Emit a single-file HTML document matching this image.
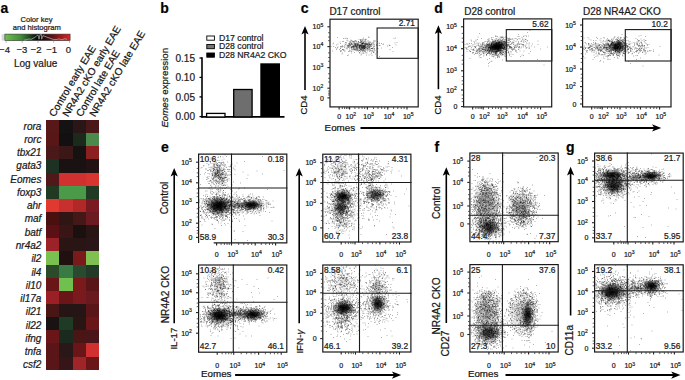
<!DOCTYPE html>
<html><head><meta charset="utf-8"><style>
html,body{margin:0;padding:0;background:#fff;}
svg{display:block;}
text{font-family:"Liberation Sans", sans-serif;stroke:#1a1a1a;stroke-width:0.22px;}
</style></head><body>
<svg width="685" height="380" viewBox="0 0 685 380" font-family='"Liberation Sans", sans-serif'>
<rect width="685" height="380" fill="#fff"/>
<text x="0.60" y="12.60" font-size="14" text-anchor="start" font-weight="bold" font-style="normal" fill="#000" >a</text>
<text x="36.50" y="22.20" font-size="7.6" text-anchor="middle" font-weight="normal" font-style="normal" fill="#222" >Color key</text>
<text x="36.80" y="29.60" font-size="7.6" text-anchor="middle" font-weight="normal" font-style="normal" fill="#222" >and histogram</text>
<defs><linearGradient id="ck" x1="0" x2="1" y1="0" y2="0"><stop offset="0" stop-color="#6cc04e"/><stop offset="0.25" stop-color="#3f8a38"/><stop offset="0.5" stop-color="#060606"/><stop offset="0.75" stop-color="#6a1414"/><stop offset="1" stop-color="#e42020"/></linearGradient></defs>
<rect x="1.6" y="34.2" width="3.4" height="6.4" fill="#d8d8d8"/>
<rect x="4.9" y="34.1" width="65.2" height="6.5" fill="url(#ck)" stroke="#333" stroke-width="0.6"/>
<polyline points="24,40.2 27,39.6 29,38.9 31,39.4 33,38.3 35,37.3 36.5,36 38,35 39,39.2 40,34.7 41.6,34.7 41.6,39.2 43,35.6 45,36.4 47,37.2 49,37.8 51,38.6 53,39.3 56,39.6 59,38.9 62,39.8 65,38.6 67,39.5" fill="none" stroke="#a9bcbc" stroke-width="0.7"/>
<line x1="6.1" y1="40.7" x2="6.1" y2="42.8" stroke="#999" stroke-width="0.7"/>
<line x1="22.2" y1="40.7" x2="22.2" y2="42.8" stroke="#999" stroke-width="0.7"/>
<line x1="38.0" y1="40.7" x2="38.0" y2="42.8" stroke="#999" stroke-width="0.7"/>
<line x1="53.7" y1="40.7" x2="53.7" y2="42.8" stroke="#999" stroke-width="0.7"/>
<line x1="69.5" y1="40.7" x2="69.5" y2="42.8" stroke="#999" stroke-width="0.7"/>
<text x="4.50" y="53.00" font-size="9.5" text-anchor="middle" font-weight="normal" font-style="normal" fill="#222" >−4</text>
<text x="21.90" y="53.00" font-size="9.5" text-anchor="middle" font-weight="normal" font-style="normal" fill="#222" >−3</text>
<text x="36.00" y="53.00" font-size="9.5" text-anchor="middle" font-weight="normal" font-style="normal" fill="#222" >−2</text>
<text x="51.70" y="53.00" font-size="9.5" text-anchor="middle" font-weight="normal" font-style="normal" fill="#222" >−1</text>
<text x="68.30" y="53.00" font-size="9.5" text-anchor="middle" font-weight="normal" font-style="normal" fill="#222" >0</text>
<text x="35.60" y="67.20" font-size="10" text-anchor="middle" font-weight="normal" font-style="normal" fill="#222" >Log value</text>
<text x="0" y="0" font-size="10.2" fill="#111" transform="translate(54.50,117.5) rotate(-59)">Control early EAE</text>
<text x="0" y="0" font-size="10.2" fill="#111" transform="translate(68.00,117.5) rotate(-59)">NR4A2 cKO early EAE</text>
<text x="0" y="0" font-size="10.2" fill="#111" transform="translate(81.50,117.5) rotate(-59)">Control late EAE</text>
<text x="0" y="0" font-size="10.2" fill="#111" transform="translate(95.00,117.5) rotate(-59)">NR4A2 cKO late EAE</text>
<rect x="46.30" y="120.00" width="13.48" height="13.44" fill="#581818" shape-rendering="crispEdges"/>
<rect x="59.47" y="120.00" width="13.48" height="13.44" fill="#141212" shape-rendering="crispEdges"/>
<rect x="72.65" y="120.00" width="13.48" height="13.44" fill="#2a1616" shape-rendering="crispEdges"/>
<rect x="85.83" y="120.00" width="13.48" height="13.44" fill="#4a1818" shape-rendering="crispEdges"/>
<text x="41.40" y="129.60" font-size="10" text-anchor="end" font-weight="normal" font-style="italic" fill="#1a1a1a" >rora</text>
<rect x="46.30" y="133.14" width="13.48" height="13.44" fill="#581616" shape-rendering="crispEdges"/>
<rect x="59.47" y="133.14" width="13.48" height="13.44" fill="#121010" shape-rendering="crispEdges"/>
<rect x="72.65" y="133.14" width="13.48" height="13.44" fill="#1c2a1c" shape-rendering="crispEdges"/>
<rect x="85.83" y="133.14" width="13.48" height="13.44" fill="#4a8a4a" shape-rendering="crispEdges"/>
<text x="41.40" y="142.87" font-size="10" text-anchor="end" font-weight="normal" font-style="italic" fill="#1a1a1a" >rorc</text>
<rect x="46.30" y="146.28" width="13.48" height="13.44" fill="#4a1818" shape-rendering="crispEdges"/>
<rect x="59.47" y="146.28" width="13.48" height="13.44" fill="#3a1818" shape-rendering="crispEdges"/>
<rect x="72.65" y="146.28" width="13.48" height="13.44" fill="#161212" shape-rendering="crispEdges"/>
<rect x="85.83" y="146.28" width="13.48" height="13.44" fill="#8a2020" shape-rendering="crispEdges"/>
<text x="41.40" y="156.14" font-size="10" text-anchor="end" font-weight="normal" font-style="italic" fill="#1a1a1a" >tbx21</text>
<rect x="46.30" y="159.43" width="13.48" height="13.44" fill="#1c3222" shape-rendering="crispEdges"/>
<rect x="59.47" y="159.43" width="13.48" height="13.44" fill="#1a1212" shape-rendering="crispEdges"/>
<rect x="72.65" y="159.43" width="13.48" height="13.44" fill="#1a1212" shape-rendering="crispEdges"/>
<rect x="85.83" y="159.43" width="13.48" height="13.44" fill="#221214" shape-rendering="crispEdges"/>
<text x="41.40" y="169.41" font-size="10" text-anchor="end" font-weight="normal" font-style="italic" fill="#1a1a1a" >gata3</text>
<rect x="46.30" y="172.57" width="13.48" height="13.44" fill="#501818" shape-rendering="crispEdges"/>
<rect x="59.47" y="172.57" width="13.48" height="13.44" fill="#d03030" shape-rendering="crispEdges"/>
<rect x="72.65" y="172.57" width="13.48" height="13.44" fill="#d03030" shape-rendering="crispEdges"/>
<rect x="85.83" y="172.57" width="13.48" height="13.44" fill="#d83530" shape-rendering="crispEdges"/>
<text x="41.40" y="182.68" font-size="10" text-anchor="end" font-weight="normal" font-style="italic" fill="#1a1a1a" >Eomes</text>
<rect x="46.30" y="185.71" width="13.48" height="13.44" fill="#203a24" shape-rendering="crispEdges"/>
<rect x="59.47" y="185.71" width="13.48" height="13.44" fill="#4a9a4a" shape-rendering="crispEdges"/>
<rect x="72.65" y="185.71" width="13.48" height="13.44" fill="#4a9a4a" shape-rendering="crispEdges"/>
<rect x="85.83" y="185.71" width="13.48" height="13.44" fill="#203a24" shape-rendering="crispEdges"/>
<text x="41.40" y="195.95" font-size="10" text-anchor="end" font-weight="normal" font-style="italic" fill="#1a1a1a" >foxp3</text>
<rect x="46.30" y="198.85" width="13.48" height="13.44" fill="#e03a30" shape-rendering="crispEdges"/>
<rect x="59.47" y="198.85" width="13.48" height="13.44" fill="#c83030" shape-rendering="crispEdges"/>
<rect x="72.65" y="198.85" width="13.48" height="13.44" fill="#b02828" shape-rendering="crispEdges"/>
<rect x="85.83" y="198.85" width="13.48" height="13.44" fill="#7a1a20" shape-rendering="crispEdges"/>
<text x="41.40" y="209.22" font-size="10" text-anchor="end" font-weight="normal" font-style="italic" fill="#1a1a1a" >ahr</text>
<rect x="46.30" y="211.99" width="13.48" height="13.44" fill="#4a1010" shape-rendering="crispEdges"/>
<rect x="59.47" y="211.99" width="13.48" height="13.44" fill="#301515" shape-rendering="crispEdges"/>
<rect x="72.65" y="211.99" width="13.48" height="13.44" fill="#451818" shape-rendering="crispEdges"/>
<rect x="85.83" y="211.99" width="13.48" height="13.44" fill="#6a1a20" shape-rendering="crispEdges"/>
<text x="41.40" y="222.49" font-size="10" text-anchor="end" font-weight="normal" font-style="italic" fill="#1a1a1a" >maf</text>
<rect x="46.30" y="225.14" width="13.48" height="13.44" fill="#5a1015" shape-rendering="crispEdges"/>
<rect x="59.47" y="225.14" width="13.48" height="13.44" fill="#3a1515" shape-rendering="crispEdges"/>
<rect x="72.65" y="225.14" width="13.48" height="13.44" fill="#1a1010" shape-rendering="crispEdges"/>
<rect x="85.83" y="225.14" width="13.48" height="13.44" fill="#2a1515" shape-rendering="crispEdges"/>
<text x="41.40" y="235.76" font-size="10" text-anchor="end" font-weight="normal" font-style="italic" fill="#1a1a1a" >batf</text>
<rect x="46.30" y="238.28" width="13.48" height="13.44" fill="#9a2228" shape-rendering="crispEdges"/>
<rect x="59.47" y="238.28" width="13.48" height="13.44" fill="#2a1515" shape-rendering="crispEdges"/>
<rect x="72.65" y="238.28" width="13.48" height="13.44" fill="#2a1515" shape-rendering="crispEdges"/>
<rect x="85.83" y="238.28" width="13.48" height="13.44" fill="#2a1518" shape-rendering="crispEdges"/>
<text x="41.40" y="249.03" font-size="10" text-anchor="end" font-weight="normal" font-style="italic" fill="#1a1a1a" >nr4a2</text>
<rect x="46.30" y="251.42" width="13.48" height="13.44" fill="#7ac050" shape-rendering="crispEdges"/>
<rect x="59.47" y="251.42" width="13.48" height="13.44" fill="#201010" shape-rendering="crispEdges"/>
<rect x="72.65" y="251.42" width="13.48" height="13.44" fill="#7a1a1a" shape-rendering="crispEdges"/>
<rect x="85.83" y="251.42" width="13.48" height="13.44" fill="#80c050" shape-rendering="crispEdges"/>
<text x="41.40" y="262.30" font-size="10" text-anchor="end" font-weight="normal" font-style="italic" fill="#1a1a1a" >il2</text>
<rect x="46.30" y="264.56" width="13.48" height="13.44" fill="#2a4a2a" shape-rendering="crispEdges"/>
<rect x="59.47" y="264.56" width="13.48" height="13.44" fill="#3a7a45" shape-rendering="crispEdges"/>
<rect x="72.65" y="264.56" width="13.48" height="13.44" fill="#2a4a30" shape-rendering="crispEdges"/>
<rect x="85.83" y="264.56" width="13.48" height="13.44" fill="#243a28" shape-rendering="crispEdges"/>
<text x="41.40" y="275.57" font-size="10" text-anchor="end" font-weight="normal" font-style="italic" fill="#1a1a1a" >il4</text>
<rect x="46.30" y="277.71" width="13.48" height="13.44" fill="#6a1518" shape-rendering="crispEdges"/>
<rect x="59.47" y="277.71" width="13.48" height="13.44" fill="#70c050" shape-rendering="crispEdges"/>
<rect x="72.65" y="277.71" width="13.48" height="13.44" fill="#7a1a1a" shape-rendering="crispEdges"/>
<rect x="85.83" y="277.71" width="13.48" height="13.44" fill="#5a1518" shape-rendering="crispEdges"/>
<text x="41.40" y="288.84" font-size="10" text-anchor="end" font-weight="normal" font-style="italic" fill="#1a1a1a" >il10</text>
<rect x="46.30" y="290.85" width="13.48" height="13.44" fill="#9a2025" shape-rendering="crispEdges"/>
<rect x="59.47" y="290.85" width="13.48" height="13.44" fill="#6a1518" shape-rendering="crispEdges"/>
<rect x="72.65" y="290.85" width="13.48" height="13.44" fill="#7a1a1e" shape-rendering="crispEdges"/>
<rect x="85.83" y="290.85" width="13.48" height="13.44" fill="#6a1a1e" shape-rendering="crispEdges"/>
<text x="41.40" y="302.11" font-size="10" text-anchor="end" font-weight="normal" font-style="italic" fill="#1a1a1a" >il17a</text>
<rect x="46.30" y="303.99" width="13.48" height="13.44" fill="#4a1515" shape-rendering="crispEdges"/>
<rect x="59.47" y="303.99" width="13.48" height="13.44" fill="#251515" shape-rendering="crispEdges"/>
<rect x="72.65" y="303.99" width="13.48" height="13.44" fill="#251515" shape-rendering="crispEdges"/>
<rect x="85.83" y="303.99" width="13.48" height="13.44" fill="#5a1518" shape-rendering="crispEdges"/>
<text x="41.40" y="315.38" font-size="10" text-anchor="end" font-weight="normal" font-style="italic" fill="#1a1a1a" >il21</text>
<rect x="46.30" y="317.13" width="13.48" height="13.44" fill="#181212" shape-rendering="crispEdges"/>
<rect x="59.47" y="317.13" width="13.48" height="13.44" fill="#1f3a25" shape-rendering="crispEdges"/>
<rect x="72.65" y="317.13" width="13.48" height="13.44" fill="#2a1515" shape-rendering="crispEdges"/>
<rect x="85.83" y="317.13" width="13.48" height="13.44" fill="#6a1518" shape-rendering="crispEdges"/>
<text x="41.40" y="328.65" font-size="10" text-anchor="end" font-weight="normal" font-style="italic" fill="#1a1a1a" >il22</text>
<rect x="46.30" y="330.27" width="13.48" height="13.44" fill="#6a1518" shape-rendering="crispEdges"/>
<rect x="59.47" y="330.27" width="13.48" height="13.44" fill="#1a2a1e" shape-rendering="crispEdges"/>
<rect x="72.65" y="330.27" width="13.48" height="13.44" fill="#4a1515" shape-rendering="crispEdges"/>
<rect x="85.83" y="330.27" width="13.48" height="13.44" fill="#4a1518" shape-rendering="crispEdges"/>
<text x="41.40" y="341.92" font-size="10" text-anchor="end" font-weight="normal" font-style="italic" fill="#1a1a1a" >ifng</text>
<rect x="46.30" y="343.42" width="13.48" height="13.44" fill="#5a1518" shape-rendering="crispEdges"/>
<rect x="59.47" y="343.42" width="13.48" height="13.44" fill="#2a1818" shape-rendering="crispEdges"/>
<rect x="72.65" y="343.42" width="13.48" height="13.44" fill="#6a1518" shape-rendering="crispEdges"/>
<rect x="85.83" y="343.42" width="13.48" height="13.44" fill="#d03030" shape-rendering="crispEdges"/>
<text x="41.40" y="355.19" font-size="10" text-anchor="end" font-weight="normal" font-style="italic" fill="#1a1a1a" >tnfa</text>
<rect x="46.30" y="356.56" width="13.48" height="13.44" fill="#5a1518" shape-rendering="crispEdges"/>
<rect x="59.47" y="356.56" width="13.48" height="13.44" fill="#351518" shape-rendering="crispEdges"/>
<rect x="72.65" y="356.56" width="13.48" height="13.44" fill="#a02528" shape-rendering="crispEdges"/>
<rect x="85.83" y="356.56" width="13.48" height="13.44" fill="#6a1518" shape-rendering="crispEdges"/>
<text x="41.40" y="368.46" font-size="10" text-anchor="end" font-weight="normal" font-style="italic" fill="#1a1a1a" >csf2</text>
<text x="160.20" y="12.60" font-size="14" text-anchor="start" font-weight="bold" font-style="normal" fill="#000" >b</text>
<rect x="206.8" y="36.00" width="7.6" height="4.2" fill="#fff" stroke="#000" stroke-width="0.9"/>
<text x="219.00" y="40.90" font-size="8.7" text-anchor="start" font-weight="normal" font-style="normal" fill="#222" >D17 control</text>
<rect x="206.8" y="44.50" width="7.6" height="4.2" fill="#777" stroke="#000" stroke-width="0.9"/>
<text x="219.00" y="49.40" font-size="8.7" text-anchor="start" font-weight="normal" font-style="normal" fill="#222" >D28 control</text>
<rect x="206.8" y="53.00" width="7.6" height="4.2" fill="#000" stroke="#000" stroke-width="0.9"/>
<text x="219.00" y="57.90" font-size="8.7" text-anchor="start" font-weight="normal" font-style="normal" fill="#222" >D28 NR4A2 CKO</text>
<line x1="202" y1="57.3" x2="202" y2="117.4" stroke="#000" stroke-width="1.6"/>
<line x1="201.2" y1="116.9" x2="284.5" y2="116.9" stroke="#000" stroke-width="1.6"/>
<line x1="199.5" y1="58.0" x2="202" y2="58.0" stroke="#000" stroke-width="1.3"/>
<text x="195.00" y="61.60" font-size="10" text-anchor="end" font-weight="normal" font-style="normal" fill="#222" >0.15</text>
<line x1="199.5" y1="77.4" x2="202" y2="77.4" stroke="#000" stroke-width="1.3"/>
<text x="195.00" y="81.00" font-size="10" text-anchor="end" font-weight="normal" font-style="normal" fill="#222" >0.10</text>
<line x1="199.5" y1="96.9" x2="202" y2="96.9" stroke="#000" stroke-width="1.3"/>
<text x="195.00" y="100.50" font-size="10" text-anchor="end" font-weight="normal" font-style="normal" fill="#222" >0.05</text>
<line x1="199.5" y1="116.6" x2="202" y2="116.6" stroke="#000" stroke-width="1.3"/>
<text x="195.00" y="120.20" font-size="10" text-anchor="end" font-weight="normal" font-style="normal" fill="#222" >0.00</text>
<rect x="206.6" y="113.4" width="18.4" height="3.6" fill="#fff" stroke="#000" stroke-width="1.3"/>
<rect x="233.7" y="89.5" width="18.4" height="27.4" fill="#6e6e6e" stroke="#000" stroke-width="1.3"/>
<rect x="260.3" y="63.3" width="19.7" height="53.6" fill="#000"/>
<text x="0" y="0" font-size="9.7" fill="#222" transform="translate(168.3,127.6) rotate(-90)"><tspan font-style="italic">Eomes</tspan> expression</text>
<defs><radialGradient id="core"><stop offset="0" stop-color="#000" stop-opacity="1"/><stop offset="0.35" stop-color="#000" stop-opacity="0.8"/><stop offset="0.7" stop-color="#000" stop-opacity="0.3"/><stop offset="1" stop-color="#000" stop-opacity="0"/></radialGradient></defs>
<text x="300.80" y="12.60" font-size="14" text-anchor="start" font-weight="bold" font-style="normal" fill="#000" >c</text>
<text x="329.40" y="15.00" font-size="10" text-anchor="start" font-weight="normal" font-style="normal" fill="#1a1a1a" >D17 control</text>
<ellipse cx="363" cy="46.5" rx="10" ry="4.5" fill="url(#core)" opacity="0.15"/>
<path d="M368.5 37.5h1m-6.5 .5h1m-17 .5h1m17.5 .5h1m-8 .5h1m.5 0h1m.5 .5h1m0 0h1m0 0h1m-14.5 1h1m4 0h1m4 0h1m12.5 0h1m-32.5 .5h1m15 0h1m5 0h1m1.5 0h1m9.5 0h1m-38.5 .5h1m13 0h1m4 .5h1m1 0h1m-1 .5h1m1.5 0h1m9 0h1m-26 .5h1m0 0h1m1 0h1m3 0h1m5.5 0h1m-.5 0h1m-.5 0h1m5.5 0h1m9 0h1m-31 .5h1m4 0h1m-.5 0h1m6 0h1m-.5 0h1m-.5 0h1m3.5 0h1m-19.5 .5h1m2 0h1m12.5 0h1m-.5 0h1m.5 0h1m0 0h1m0 0h1m3.5 0h1m-25.5 .5h1m8.5 0h1m5.5 0h1m29.5 0h1m-48.5 .5h1m.5 0h1m4.5 0h1m3 0h1m1.5 0h1m.5 0h1m-.5 0h1m-.5 0h1m3 0h1m-.5 0h1m.5 0h1m8 0h1m9 0h1m-42.5 .5h1m6.5 0h1m3.5 0h1m0 0h1m.5 0h1m0 0h1m-.5 0h1m-.5 0h1m0 0h1m2.5 0h1m-28 .5h1m0 0h1m5.5 0h1m2.5 0h1m1.5 0h1m-.5 0h1m2.5 0h1m0 0h1m.5 0h1m0 0h1m3 0h1m0 0h1m2 0h1m2 0h1m-28 .5h1m.5 0h1m3 0h1m5.5 0h1m1 0h1m1.5 0h1m-.5 0h1m.5 0h1m-.5 0h1m-15.5 .5h1m1 0h1m-.5 0h1m1 0h1m-.5 0h1m1.5 0h1m3.5 0h1m.5 0h1m-14 .5h1m3.5 0h1m.5 0h1m1 0h1m0 0h1m1.5 0h1m3 0h1m0 0h1m8 0h1m-23 .5h1m3.5 0h1m.5 0h1m1.5 0h1m5 0h1m.5 0h1m-.5 0h1m-21.5 .5h1m.5 0h1m8.5 0h1m4.5 0h1m8 0h1m-35.5 .5h1m0 0h1m-.5 0h1m9 0h1m5.5 0h1m4.5 0h1m-7.5 .5h1m4.5 0h1m4 0h1m-.5 0h1m3 0h1m-25.5 .5h1m8.5 0h1m5.5 0h1m2.5 .5h1m2 0h1m-33 .5h1m17 0h1m6 0h1m7.5 .5h1m2.5 .5h1m-27 .5h1m18.5 1h1m-5.5 1h1m-20 .5h1m31 1h1" stroke="#000" stroke-opacity="0.3" fill="none"/>
<path d="M368 37h1m-23.5 1h1m48.5 0h1m-53 .5h1m49.5 0h1m-29.5 1.5h1m-18.5 1h1m2.5 0h1m4 0h1m8 0h1m-23 .5h1m5.5 0h1m1.5 0h1m0 0h1m4 0h1m1.5 0h1m-.5 0h1m-12.5 .5h1m12.5 0h1m1 0h1m2 0h1m-24 .5h1m3.5 0h1m0 0h1m7 0h1m37 0h1m-51.5 .5h1m2.5 0h1m4 0h1m2 0h1m3 0h1m4 0h1m1.5 0h1m1 0h1m.5 0h1m0 0h1m4 0h1m-22 .5h1m3 0h1m.5 0h1m.5 0h1m0 0h1m1.5 0h1m-18.5 .5h1m-.5 0h1m2.5 0h1m0 0h1m7.5 0h1m1 0h1m1 0h1m-17.5 .5h1m2.5 0h1m1 0h1m-.5 0h1m1.5 0h1m0 0h1m4 0h1m3 0h1m-.5 0h1m4.5 0h1m5.5 0h1m-34 .5h1m0 0h1m.5 0h1m.5 0h1m3 0h1m0 0h1m0 0h1m2 0h1m9 0h1m-26.5 .5h1m9.5 0h1m0 0h1m-.5 0h1m-.5 0h1m1 0h1m-.5 0h1m14.5 0h1m-37 .5h1m1.5 0h1m-.5 0h1m3.5 0h1m3.5 0h1m1 0h1m-.5 0h1m0 0h1m1 0h1m1.5 0h1m1 0h1m-.5 0h1m-.5 0h1m0 0h1m0 0h1m-27.5 .5h1m-.5 0h1m9.5 0h1m-.5 0h1m-.5 0h1m-.5 0h1m0 0h1m-.5 0h1m1 0h1m.5 0h1m.5 0h1m3 0h1m-.5 0h1m4.5 0h1m-19 .5h1m1 0h1m-17 .5h1m10.5 0h1m7.5 0h1m1 0h1m3.5 0h1m0 0h1m-20 .5h1m4.5 0h1m4 0h1m2.5 0h1m2 0h1m2.5 0h1m5.5 0h1m-37 .5h1m26 0h1m-.5 0h1m6.5 0h1m-.5 0h1m-24 .5h1m15 0h1m-9 .5h1m2 0h1m2.5 0h1m-13.5 .5h1m4 0h1m1 0h1m2 .5h1m0 0h1m-.5 0h1m0 0h1m6 0h1m3 0h1m-12.5 .5h1m.5 0h1m6 0h1m-32 .5h1m6.5 0h1m43.5 0h1m-32 .5h1m10.5 0h1m-1 .5h1m-32 .5h1m16.5 0h1m2.5 0h1m2.5 0h1m7.5 1h1" stroke="#000" stroke-opacity="0.3" fill="none"/>
<path d="M344.5 38.5h1m17 .5h1m1 .5h1m-14 1h1m8 0h1m6 0h1m-13.5 .5h1m8.5 0h1m8.5 0h1m0 0h1m-23.5 .5h1m9 0h1m-10 .5h1m1.5 0h1m-11.5 .5h1m7 0h1m8 0h1m6.5 0h1m-38 .5h1m17.5 0h1m9 0h1m3.5 0h1m5 0h1m21.5 0h1m-45 .5h1m2.5 0h1m1 0h1m0 0h1m4 0h1m4 0h1m-35.5 .5h1m4 0h1m10.5 0h1m1.5 0h1m3 0h1m5 0h1m1 0h1m6.5 0h1m11 0h1m-39 .5h1m8.5 0h1m0 0h1m.5 0h1m11 0h1m-24 .5h1m.5 0h1m0 0h1m5.5 0h1m3.5 0h1m.5 0h1m3.5 0h1m4.5 0h1m.5 0h1m.5 0h1m-25 .5h1m3 0h1m.5 0h1m0 0h1m2.5 0h1m1.5 0h1m12.5 0h1m2.5 0h1m-33 .5h1m4 0h1m-.5 0h1m6 0h1m.5 0h1m2.5 0h1m4.5 0h1m-18.5 .5h1m2.5 0h1m3.5 0h1m1.5 0h1m-27 .5h1m9 0h1m1.5 0h1m6 0h1m.5 0h1m-.5 0h1m4 0h1m3.5 0h1m-28 .5h1m5 0h1m2.5 0h1m0 0h1m.5 0h1m4.5 0h1m1 0h1m-.5 0h1m-.5 0h1m1 0h1m0 0h1m2 0h1m0 0h1m-20.5 .5h1m3.5 0h1m1.5 0h1m4 0h1m-.5 0h1m3.5 0h1m2 0h1m2 0h1m-33.5 .5h1m5.5 0h1m5.5 0h1m3 0h1m1 0h1m-.5 0h1m2 0h1m.5 0h1m2 0h1m3 0h1m-18.5 .5h1m1.5 0h1m4 0h1m-.5 0h1m-.5 0h1m0 0h1m2.5 0h1m-.5 0h1m-.5 0h1m.5 0h1m2.5 0h1m.5 0h1m-39 .5h1m5 0h1m11 0h1m6 0h1m1 0h1m4.5 0h1m-15 .5h1m-.5 0h1m0 0h1m0 0h1m-.5 0h1m4 0h1m9 0h1m-33 .5h1m17.5 0h1m-28 .5h1m11 0h1m11.5 0h1m4.5 0h1m-13.5 .5h1m.5 0h1m8 0h1m8.5 0h1m6.5 0h1m-15.5 .5h1m10 0h1m-15.5 .5h1m5.5 0h1m4.5 .5h1m-30.5 1h1m26 1h1" stroke="#000" stroke-opacity="0.3" fill="none"/>
<path d="M337 37.5h1m8.5 1.5h1m13 .5h1m4 0h1m-16 .5h1m10 0h1m-16 .5h1m7 0h1m4.5 0h1m1 .5h1m10 0h1m-20 .5h1m6 0h1m7.5 0h1m-14 .5h1m2.5 0h1m7.5 0h1m-9.5 .5h1m1.5 0h1m1 0h1m3 0h1m-17 .5h1m5 0h1m1 0h1m0 0h1m.5 0h1m-.5 0h1m-24.5 .5h1m24 0h1m-.5 0h1m4 0h1m9.5 0h1m-37.5 .5h1m7.5 0h1m1 0h1m.5 0h1m.5 0h1m2.5 0h1m-.5 0h1m1 0h1m-.5 0h1m0 0h1m1 0h1m0 0h1m7.5 0h1m-28 .5h1m5.5 0h1m0 0h1m6 0h1m1 0h1m-.5 0h1m1 0h1m0 0h1m0 0h1m-36 .5h1m17 0h1m-.5 0h1m3 0h1m9.5 0h1m18.5 0h1m-41.5 .5h1m4 0h1m1.5 0h1m0 0h1m-.5 0h1m2 0h1m-.5 0h1m-.5 0h1m1.5 0h1m.5 0h1m1 0h1m21.5 0h1m-48.5 .5h1m15.5 0h1m-.5 0h1m.5 0h1m6 0h1m.5 0h1m0 0h1m16 0h1m-57.5 .5h1m1.5 0h1m13.5 0h1m5 0h1m0 0h1m.5 0h1m4 0h1m0 0h1m0 0h1m0 0h1m2.5 0h1m2 0h1m2 0h1m-19.5 .5h1m3.5 0h1m2 0h1m-.5 0h1m-.5 0h1m0 0h1m8 0h1m-39.5 .5h1m8 0h1m15.5 0h1m-.5 0h1m-.5 0h1m-.5 0h1m.5 0h1m2 0h1m1.5 0h1m22 0h1m-53 .5h1m16.5 0h1m3.5 0h1m2 0h1m15 0h1m-28.5 .5h1m8 0h1m.5 0h1m-.5 0h1m8.5 0h1m2.5 0h1m-32 .5h1m8.5 0h1m.5 0h1m1.5 0h1m-.5 0h1m2 0h1m-25.5 .5h1m12 0h1m.5 0h1m.5 0h1m4.5 0h1m28 0h1m-36 .5h1m5.5 0h1m-21.5 .5h1m1.5 0h1m13.5 0h1m1.5 0h1m2.5 0h1m3 0h1m-24 .5h1m3.5 0h1m2.5 0h1m13.5 0h1m3.5 0h1m-8.5 .5h1m-11 1h1m4 .5h1m4.5 0h1m-3 .5h1m-2.5 .5h1m-14 1h1m11.5 0h1m10 .5h1" stroke="#000" stroke-opacity="0.3" fill="none"/>
<rect x="330.00" y="19.20" width="88.20" height="87.70" fill="none" stroke="#1a1a1a" stroke-width="1.2"/>
<rect x="377.10" y="28.00" width="41.10" height="30.30" fill="none" stroke="#1a1a1a" stroke-width="1.1"/>
<text x="415.00" y="26.40" font-size="8.4" text-anchor="end" font-weight="normal" font-style="normal" fill="#1a1a1a" >2.71</text>
<line x1="327.40" y1="26.80" x2="329.90" y2="26.80" stroke="#222" stroke-width="1.1"/>
<text x="323.20" y="29.40" font-size="7.0" text-anchor="end" fill="#222">10<tspan dy="-2.8" font-size="5.04">5</tspan></text>
<line x1="327.40" y1="46.60" x2="329.90" y2="46.60" stroke="#222" stroke-width="1.1"/>
<text x="323.20" y="49.20" font-size="7.0" text-anchor="end" fill="#222">10<tspan dy="-2.8" font-size="5.04">4</tspan></text>
<line x1="327.40" y1="67.60" x2="329.90" y2="67.60" stroke="#222" stroke-width="1.1"/>
<text x="323.20" y="70.20" font-size="7.0" text-anchor="end" fill="#222">10<tspan dy="-2.8" font-size="5.04">3</tspan></text>
<line x1="327.40" y1="88.20" x2="329.90" y2="88.20" stroke="#222" stroke-width="1.1"/>
<text x="323.20" y="90.80" font-size="7.0" text-anchor="end" fill="#222">10<tspan dy="-2.8" font-size="5.04">2</tspan></text>
<line x1="327.40" y1="97.90" x2="329.90" y2="97.90" stroke="#222" stroke-width="1.1"/>
<text x="323.90" y="100.50" font-size="7.0" text-anchor="end" fill="#222">0</text>
<line x1="328.10" y1="32.74" x2="329.90" y2="32.74" stroke="#333" stroke-width="0.8"/>
<line x1="328.10" y1="37.10" x2="329.90" y2="37.10" stroke="#333" stroke-width="0.8"/>
<line x1="328.10" y1="40.66" x2="329.90" y2="40.66" stroke="#333" stroke-width="0.8"/>
<line x1="328.10" y1="52.90" x2="329.90" y2="52.90" stroke="#333" stroke-width="0.8"/>
<line x1="328.10" y1="57.52" x2="329.90" y2="57.52" stroke="#333" stroke-width="0.8"/>
<line x1="328.10" y1="61.30" x2="329.90" y2="61.30" stroke="#333" stroke-width="0.8"/>
<line x1="328.10" y1="73.78" x2="329.90" y2="73.78" stroke="#333" stroke-width="0.8"/>
<line x1="328.10" y1="78.31" x2="329.90" y2="78.31" stroke="#333" stroke-width="0.8"/>
<line x1="328.10" y1="82.02" x2="329.90" y2="82.02" stroke="#333" stroke-width="0.8"/>
<line x1="328.10" y1="91.11" x2="329.90" y2="91.11" stroke="#333" stroke-width="0.8"/>
<line x1="328.10" y1="93.24" x2="329.90" y2="93.24" stroke="#333" stroke-width="0.8"/>
<line x1="328.10" y1="94.99" x2="329.90" y2="94.99" stroke="#333" stroke-width="0.8"/>
<line x1="339.10" y1="107.00" x2="339.10" y2="109.50" stroke="#222" stroke-width="1.1"/>
<text x="339.10" y="119.00" font-size="7.0" text-anchor="middle" fill="#222">0</text>
<line x1="349.60" y1="107.00" x2="349.60" y2="109.50" stroke="#222" stroke-width="1.1"/>
<text x="350.80" y="119.00" font-size="7.0" text-anchor="middle" fill="#222">10<tspan dy="-2.8" font-size="5.04">2</tspan></text>
<line x1="367.40" y1="107.00" x2="367.40" y2="109.50" stroke="#222" stroke-width="1.1"/>
<text x="368.60" y="119.00" font-size="7.0" text-anchor="middle" fill="#222">10<tspan dy="-2.8" font-size="5.04">3</tspan></text>
<line x1="387.80" y1="107.00" x2="387.80" y2="109.50" stroke="#222" stroke-width="1.1"/>
<text x="389.00" y="119.00" font-size="7.0" text-anchor="middle" fill="#222">10<tspan dy="-2.8" font-size="5.04">4</tspan></text>
<line x1="407.00" y1="107.00" x2="407.00" y2="109.50" stroke="#222" stroke-width="1.1"/>
<text x="408.20" y="119.00" font-size="7.0" text-anchor="middle" fill="#222">10<tspan dy="-2.8" font-size="5.04">5</tspan></text>
<line x1="342.25" y1="107.00" x2="342.25" y2="109.00" stroke="#333" stroke-width="0.8"/>
<line x1="344.56" y1="107.00" x2="344.56" y2="109.00" stroke="#333" stroke-width="0.8"/>
<line x1="346.45" y1="107.00" x2="346.45" y2="109.00" stroke="#333" stroke-width="0.8"/>
<line x1="348.02" y1="107.00" x2="348.02" y2="109.00" stroke="#333" stroke-width="0.8"/>
<line x1="354.94" y1="107.00" x2="354.94" y2="109.00" stroke="#333" stroke-width="0.8"/>
<line x1="358.86" y1="107.00" x2="358.86" y2="109.00" stroke="#333" stroke-width="0.8"/>
<line x1="362.06" y1="107.00" x2="362.06" y2="109.00" stroke="#333" stroke-width="0.8"/>
<line x1="364.73" y1="107.00" x2="364.73" y2="109.00" stroke="#333" stroke-width="0.8"/>
<line x1="373.52" y1="107.00" x2="373.52" y2="109.00" stroke="#333" stroke-width="0.8"/>
<line x1="378.01" y1="107.00" x2="378.01" y2="109.00" stroke="#333" stroke-width="0.8"/>
<line x1="381.68" y1="107.00" x2="381.68" y2="109.00" stroke="#333" stroke-width="0.8"/>
<line x1="384.74" y1="107.00" x2="384.74" y2="109.00" stroke="#333" stroke-width="0.8"/>
<line x1="393.56" y1="107.00" x2="393.56" y2="109.00" stroke="#333" stroke-width="0.8"/>
<line x1="397.78" y1="107.00" x2="397.78" y2="109.00" stroke="#333" stroke-width="0.8"/>
<line x1="401.24" y1="107.00" x2="401.24" y2="109.00" stroke="#333" stroke-width="0.8"/>
<line x1="404.12" y1="107.00" x2="404.12" y2="109.00" stroke="#333" stroke-width="0.8"/>
<line x1="305.00" y1="30.90" x2="305.00" y2="90.00" stroke="#000" stroke-width="1.6"/>
<path d="M305.00 25.90L308.60 34.50L305.00 32.50L301.40 34.50Z" fill="#000"/>
<text x="0" y="0" font-size="9.6" fill="#111" transform="translate(307.00,114.60) rotate(-90)">CD4</text>
<text x="324.60" y="131.00" font-size="9.8" text-anchor="start" font-weight="normal" font-style="normal" fill="#111" >Eomes</text>
<line x1="360.50" y1="127.90" x2="656.30" y2="127.90" stroke="#000" stroke-width="2.0"/>
<path d="M661.30 127.90L652.00 124.30L654.30 127.90L652.00 131.50Z" fill="#000"/>
<text x="434.30" y="12.60" font-size="14" text-anchor="start" font-weight="bold" font-style="normal" fill="#000" >d</text>
<text x="464.20" y="15.00" font-size="10" text-anchor="start" font-weight="normal" font-style="normal" fill="#1a1a1a" >D28 control</text>
<text x="583.00" y="15.00" font-size="10" text-anchor="start" font-weight="normal" font-style="normal" fill="#1a1a1a" >D28 NR4A2 CKO</text>
<ellipse cx="497" cy="46.5" rx="11" ry="6.5" fill="url(#core)" opacity="1.0" transform="rotate(-12 497 46.5)"/>
<ellipse cx="486" cy="48" rx="8" ry="4" fill="url(#core)" opacity="0.25"/>
<path d="M495 36h1m5.5 .5h1m23.5 0h1m-36 1h1m8.5 0h1m.5 0h1m.5 0h1m-3.5 .5h1m4 0h1m2 0h1m-7 .5h1m-4 .5h1m7 0h1m3.5 0h1m-22 .5h1m18 0h1m11 0h1m-36 .5h1m3.5 0h1m1.5 0h1m0 0h1m4 0h1m5 0h1m9 0h1m-29 .5h1m12 0h1m5.5 0h1m-6 .5h1m.5 0h1m15.5 0h1m4.5 0h1m10 0h1m-54 .5h1m9 0h1m7.5 0h1m6 0h1m14 0h1m-35.5 .5h1m.5 0h1m2.5 0h1m1 0h1m1 0h1m0 0h1m3 0h1m-.5 0h1m-.5 0h1m17 0h1m-41.5 .5h1m5.5 0h1m5 0h1m-.5 0h1m2 0h1m-.5 0h1m-22 .5h1m12 0h1m5.5 0h1m2.5 0h1m.5 0h1m14 0h1m-37 .5h1m-.5 0h1m2.5 0h1m6.5 0h1m4.5 0h1m2.5 0h1m.5 0h1m-.5 0h1m5.5 0h1m5 0h1m9.5 0h1m-53 .5h1m1 0h1m10 0h1m2 0h1m1 0h1m0 0h1m1.5 0h1m-.5 0h1m10 0h1m10 0h1m11.5 0h1m-51 .5h1m3.5 0h1m1.5 0h1m.5 0h1m-.5 0h1m1 0h1m2 0h1m3 0h1m-.5 0h1m-.5 0h1m0 0h1m-.5 0h1m0 0h1m2 0h1m-.5 0h1m9.5 0h1m-36 .5h1m7.5 0h1m-.5 0h1m0 0h1m0 0h1m1 0h1m1.5 0h1m0 0h1m1.5 0h1m1 0h1m3.5 0h1m14 0h1m-46 .5h1m9.5 0h1m0 0h1m6.5 0h1m-.5 0h1m0 0h1m.5 0h1m-28.5 .5h1m11.5 0h1m1 0h1m.5 0h1m1 0h1m0 0h1m2.5 0h1m0 0h1m0 0h1m2 0h1m0 0h1m0 0h1m3 0h1m-.5 0h1m-21 .5h1m1 0h1m6.5 0h1m.5 0h1m-.5 0h1m4.5 0h1m0 0h1m4.5 0h1m-36 .5h1m6 0h1m3.5 0h1m4 0h1m0 0h1m-.5 0h1m-.5 0h1m0 0h1m-.5 0h1m-.5 0h1m-.5 0h1m-.5 0h1m-.5 0h1m-.5 0h1m0 0h1m-.5 0h1m.5 0h1m-.5 0h1m-.5 0h1m1.5 0h1m0 0h1m.5 0h1m1.5 0h1m-.5 0h1m12.5 0h1m4.5 0h1m4.5 0h1m12 0h1m-83.5 .5h1m5.5 0h1m13 0h1m-.5 0h1m2.5 0h1m5 0h1m0 0h1m-.5 0h1m-.5 0h1m0 0h1m.5 0h1m2 0h1m1 0h1m4.5 0h1m.5 0h1m6 0h1m7 0h1m-48 .5h1m7.5 0h1m3 0h1m.5 0h1m0 0h1m.5 0h1m2 0h1m-.5 0h1m2.5 0h1m0 0h1m9 0h1m5.5 0h1m-43.5 .5h1m18 0h1m-.5 0h1m-.5 0h1m.5 0h1m6.5 0h1m-42 .5h1m6 0h1m2 0h1m1 0h1m.5 0h1m4.5 0h1m4 0h1m-.5 0h1m0 0h1m0 0h1m1.5 0h1m-.5 0h1m1.5 0h1m1.5 0h1m-.5 0h1m1 0h1m8.5 0h1m26.5 0h1m-63.5 .5h1m9 0h1m-.5 0h1m1.5 0h1m2.5 0h1m0 0h1m1.5 0h1m-.5 0h1m6.5 0h1m-29 .5h1m8 0h1m1 0h1m2 0h1m1 0h1m2 0h1m1 0h1m4 0h1m7.5 0h1m-39.5 .5h1m2 0h1m8 0h1m1 0h1m3 0h1m5 0h1m-.5 0h1m-.5 0h1m-.5 0h1m0 0h1m0 0h1m-.5 0h1m4 0h1m-29.5 .5h1m0 0h1m7 0h1m1 0h1m0 0h1m1 0h1m2.5 0h1m.5 0h1m0 0h1m4.5 0h1m-34.5 .5h1m8 0h1m11.5 0h1m0 0h1m1 0h1m.5 0h1m0 0h1m-.5 0h1m0 0h1m4 0h1m.5 0h1m-.5 0h1m-29 .5h1m1.5 0h1m7 0h1m-.5 0h1m1.5 0h1m1 0h1m2 0h1m-.5 0h1m3 0h1m.5 0h1m2 0h1m2 0h1m1.5 0h1m-38.5 .5h1m16.5 0h1m3 0h1m-.5 0h1m.5 0h1m2.5 0h1m2 0h1m3.5 0h1m-.5 0h1m-20.5 .5h1m-.5 0h1m.5 0h1m2 0h1m1 0h1m-.5 0h1m4.5 0h1m1.5 0h1m-29.5 .5h1m7 0h1m6 0h1m3.5 0h1m3.5 0h1m0 .5h1m0 0h1m-16.5 .5h1m9 0h1m-11 .5h1m9.5 0h1m24 0h1m-43 .5h1m18 0h1m-21 .5h1m25.5 .5h1m-13 .5h1m3.5 0h1m-8 4.5h1m-2.5 1h1m-2 1h1" stroke="#000" stroke-opacity="0.3" fill="none"/>
<path d="M479 33.5h1m43.5 2.5h1m-6 .5h1m-20 .5h1m0 0h1m1 0h1m-11 .5h1m28 0h1m-25 .5h1m-17.5 .5h1m26.5 0h1m9 0h1m-28.5 .5h1m10.5 0h1m8.5 0h1m-36 .5h1m24.5 0h1m2 0h1m3 0h1m14.5 0h1m-.5 0h1m-56 .5h1m4 0h1m17 0h1m7.5 0h1m-8 .5h1m-.5 0h1m1 0h1m2 0h1m12 0h1m9 0h1m-53.5 .5h1m3.5 0h1m16.5 0h1m-20.5 .5h1m13.5 0h1m.5 0h1m10 0h1m1 0h1m12 0h1m-29 .5h1m4 0h1m.5 0h1m4 0h1m.5 0h1m0 0h1m20.5 0h1m-32.5 .5h1m5 0h1m-.5 0h1m0 0h1m1 0h1m4 0h1m6 0h1m-23 .5h1m4.5 0h1m0 0h1m0 0h1m2 0h1m0 0h1m1 0h1m5.5 0h1m0 0h1m-.5 0h1m4.5 0h1m10 0h1m-59 .5h1m17.5 0h1m4 0h1m-.5 0h1m0 0h1m.5 0h1m-.5 0h1m2 0h1m-28 .5h1m3 0h1m3.5 0h1m7 0h1m4.5 0h1m1 0h1m.5 0h1m.5 0h1m0 0h1m16.5 0h1m-54 .5h1m5 0h1m7 0h1m5.5 0h1m-.5 0h1m3 0h1m2.5 0h1m4 0h1m.5 0h1m1 0h1m1 0h1m3.5 0h1m8 0h1m1.5 0h1m-.5 0h1m0 0h1m-39.5 .5h1m1 0h1m1 0h1m1 0h1m2 0h1m-.5 0h1m0 0h1m3 0h1m1 0h1m.5 0h1m1 0h1m1 0h1m15 0h1m-37.5 .5h1m.5 0h1m1.5 0h1m-.5 0h1m3 0h1m0 0h1m2.5 0h1m.5 0h1m4.5 0h1m17.5 0h1m-46 .5h1m8.5 0h1m1 0h1m1.5 0h1m-.5 0h1m0 0h1m1 0h1m-.5 0h1m1 0h1m3.5 0h1m-.5 0h1m2 0h1m-.5 0h1m22 0h1m-64 .5h1m5.5 0h1m5 0h1m0 0h1m8 0h1m.5 0h1m-.5 0h1m-.5 0h1m-.5 0h1m0 0h1m-.5 0h1m0 0h1m.5 0h1m-.5 0h1m0 0h1m.5 0h1m7.5 0h1m.5 0h1m2 0h1m-34.5 .5h1m5 0h1m3 0h1m0 0h1m0 0h1m-.5 0h1m1.5 0h1m1 0h1m.5 0h1m-.5 0h1m6.5 0h1m2.5 0h1m4.5 0h1m4.5 0h1m-47 .5h1m7 0h1m-.5 0h1m3.5 0h1m0 0h1m-.5 0h1m0 0h1m0 0h1m-.5 0h1m-.5 0h1m1 0h1m0 0h1m-.5 0h1m4 0h1m0 0h1m1 0h1m11 0h1m-51 .5h1m12 0h1m5 0h1m2 0h1m1.5 0h1m4 0h1m1 0h1m.5 0h1m-.5 0h1m-.5 0h1m1 0h1m8 0h1m13.5 0h1m2.5 0h1m-48.5 .5h1m7.5 0h1m-.5 0h1m3.5 0h1m0 0h1m-.5 0h1m.5 0h1m-.5 0h1m-.5 0h1m1.5 0h1m0 0h1m-.5 0h1m2 0h1m6.5 0h1m-24.5 .5h1m1.5 0h1m3.5 0h1m3.5 0h1m16 0h1m-48 .5h1m9.5 0h1m8.5 0h1m.5 0h1m1 0h1m1 0h1m0 0h1m4 0h1m0 0h1m6.5 0h1m5.5 0h1m-45.5 .5h1m10.5 0h1m2.5 0h1m1 0h1m-.5 0h1m0 0h1m-.5 0h1m-.5 0h1m6.5 0h1m3.5 0h1m-21.5 .5h1m1.5 0h1m.5 0h1m2.5 0h1m1 0h1m2 0h1m2.5 0h1m14 0h1m-41 .5h1m5 0h1m3 0h1m2.5 0h1m6 0h1m-.5 0h1m.5 0h1m16.5 0h1m-47 .5h1m5.5 0h1m5 0h1m0 0h1m1.5 0h1m2 0h1m-.5 0h1m3.5 0h1m1.5 0h1m3 0h1m29 0h1m-49 .5h1m8.5 0h1m2.5 0h1m-.5 0h1m2.5 0h1m1 0h1m6.5 0h1m-24 .5h1m4.5 0h1m2.5 0h1m4 0h1m-.5 0h1m2 0h1m12.5 0h1m-33 .5h1m3 0h1m7.5 0h1m3 0h1m-26.5 .5h1m.5 0h1m5 0h1m3 0h1m8 0h1m4 0h1m-23.5 .5h1m14.5 0h1m0 0h1m6 0h1m-29 .5h1m18 0h1m1 0h1m2 0h1m1 0h1m1 0h1m6 0h1m2.5 0h1m-27.5 .5h1m7 0h1m1.5 0h1m7.5 0h1m-14.5 .5h1m2.5 0h1m.5 0h1m6.5 .5h1m-7.5 1h1m-9.5 1.5h1m53.5 6.5h1" stroke="#000" stroke-opacity="0.3" fill="none"/>
<path d="M518 34.5h1m6.5 1h1m-31 .5h1m.5 .5h1m19.5 0h1m-17 1h1m4.5 .5h1m-12.5 .5h1m10 0h1m-11.5 .5h1m12.5 0h1m0 0h1m8 0h1m4 0h1m-38 .5h1m9 0h1m18.5 0h1m-29.5 .5h1m2.5 0h1m13.5 0h1m-10 .5h1m2 0h1m25.5 0h1m-29 .5h1m1 0h1m4 0h1m0 0h1m13.5 0h1m-30 .5h1m4.5 0h1m3 0h1m.5 0h1m-.5 0h1m13 0h1m-26 .5h1m-.5 0h1m-.5 0h1m1.5 0h1m-.5 0h1m6 0h1m8.5 0h1m-23 .5h1m3 0h1m1.5 0h1m.5 0h1m4.5 0h1m-.5 0h1m0 0h1m-31 .5h1m6.5 0h1m-18.5 .5h1m21 0h1m1.5 0h1m.5 0h1m1 0h1m.5 0h1m.5 0h1m-31 .5h1m11.5 0h1m5.5 0h1m0 0h1m2.5 0h1m3 0h1m0 0h1m0 0h1m0 0h1m2 0h1m1.5 0h1m3 0h1m-25 .5h1m1 0h1m2 0h1m1.5 0h1m1.5 0h1m1.5 0h1m.5 0h1m.5 0h1m.5 0h1m-.5 0h1m0 0h1m13.5 0h1m20 0h1m-56.5 .5h1m6.5 0h1m0 0h1m1.5 0h1m-.5 0h1m-.5 0h1m-.5 0h1m0 0h1m-.5 0h1m7 0h1m-.5 0h1m3.5 0h1m5.5 0h1m12 0h1m-52 .5h1m5.5 0h1m3 0h1m3 0h1m1.5 0h1m2 0h1m.5 0h1m.5 0h1m1.5 0h1m1 0h1m.5 0h1m-.5 0h1m7.5 0h1m-47 .5h1m10.5 0h1m3.5 0h1m0 0h1m5.5 0h1m.5 0h1m-.5 0h1m2 0h1m.5 0h1m.5 0h1m-.5 0h1m0 0h1m11 0h1m1.5 0h1m4.5 0h1m-49.5 .5h1m15.5 0h1m.5 0h1m0 0h1m-.5 0h1m3.5 0h1m-.5 0h1m-.5 0h1m0 0h1m0 0h1m1.5 0h1m4.5 0h1m6.5 0h1m1.5 0h1m5 0h1m-51 .5h1m10.5 0h1m4.5 0h1m4.5 0h1m-.5 0h1m0 0h1m-.5 0h1m0 0h1m0 0h1m4 0h1m7 0h1m-48 .5h1m20 0h1m.5 0h1m.5 0h1m2 0h1m0 0h1m0 0h1m0 0h1m.5 0h1m-.5 0h1m.5 0h1m1.5 0h1m-.5 0h1m4 0h1m.5 0h1m-.5 0h1m2 0h1m-.5 0h1m3 0h1m-38.5 .5h1m8 0h1m.5 0h1m-.5 0h1m-.5 0h1m.5 0h1m0 0h1m-.5 0h1m1.5 0h1m1 0h1m-.5 0h1m.5 0h1m2 0h1m4.5 0h1m14.5 0h1m-39 .5h1m.5 0h1m1.5 0h1m-.5 0h1m0 0h1m0 0h1m0 0h1m0 0h1m1 0h1m0 0h1m.5 0h1m.5 0h1m-.5 0h1m0 0h1m.5 0h1m2 0h1m19 0h1m-59 .5h1m7.5 0h1m2 0h1m7 0h1m-.5 0h1m1.5 0h1m-.5 0h1m2 0h1m5 0h1m1.5 0h1m2 0h1m-41.5 .5h1m4.5 0h1m8 0h1m0 0h1m6 0h1m3.5 0h1m.5 0h1m1 0h1m-.5 0h1m.5 0h1m4 0h1m7 0h1m0 0h1m-43 .5h1m10 0h1m11 0h1m2.5 0h1m0 0h1m6.5 0h1m4 0h1m-33.5 .5h1m.5 0h1m3 0h1m1 0h1m-.5 0h1m.5 0h1m.5 0h1m6 0h1m0 0h1m-23.5 .5h1m6.5 0h1m9.5 0h1m0 0h1m-.5 0h1m4 0h1m2 0h1m3.5 0h1m10.5 0h1m-50.5 .5h1m16.5 0h1m2.5 0h1m.5 0h1m1 0h1m.5 0h1m-.5 0h1m0 0h1m-22 .5h1m-.5 0h1m6.5 0h1m3.5 0h1m1.5 0h1m6.5 0h1m0 0h1m-22.5 .5h1m3.5 0h1m4 0h1m4.5 0h1m1 0h1m9 0h1m-34.5 .5h1m20 0h1m1.5 0h1m3 0h1m0 0h1m-14.5 .5h1m.5 0h1m2 0h1m12 0h1m3 0h1m-15 .5h1m0 0h1m1 0h1m12 0h1m-19 .5h1m-4.5 .5h1m3.5 .5h1m2 0h1m4 0h1m6.5 0h1m-27 .5h1m13 0h1m-4.5 .5h1m3 0h1m.5 0h1m-20.5 1h1m16.5 0h1m-28.5 1h1m66.5 1h1m-36 .5h1m-11.5 1h1" stroke="#000" stroke-opacity="0.3" fill="none"/>
<path d="M529.5 30.5h1m-3.5 2h1m0 3.5h1m-33.5 .5h1m26.5 0h1m-46.5 .5h1m26.5 0h1m-17.5 1.5h1m25 0h1m0 0h1m-17.5 .5h1m8 0h1m13 0h1m-25 .5h1m.5 0h1m4 0h1m-3.5 .5h1m1 0h1m3.5 0h1m-.5 0h1m-15.5 .5h1m1.5 0h1m8 0h1m1.5 0h1m-11 .5h1m-14 .5h1m.5 0h1m4 0h1m2 0h1m3 0h1m4 0h1m4.5 0h1m10 0h1m-28.5 .5h1m-.5 0h1m0 0h1m2 0h1m1.5 0h1m4.5 0h1m5.5 0h1m-39 .5h1m7 0h1m4 0h1m4.5 0h1m2.5 0h1m2 0h1m.5 0h1m1 0h1m0 0h1m3 0h1m-.5 0h1m0 0h1m-21 .5h1m5.5 0h1m-.5 0h1m2 0h1m1 0h1m1.5 0h1m-.5 0h1m1.5 0h1m18.5 0h1m-58 .5h1m21 0h1m0 0h1m-.5 0h1m6.5 0h1m1 0h1m2 0h1m-18.5 .5h1m4 0h1m2 0h1m-.5 0h1m-.5 0h1m.5 0h1m-.5 0h1m-.5 0h1m-.5 0h1m1 0h1m3 0h1m-.5 0h1m6.5 0h1m6.5 0h1m-57.5 .5h1m21.5 0h1m.5 0h1m1.5 0h1m1 0h1m.5 0h1m0 0h1m.5 0h1m-.5 0h1m.5 0h1m7.5 0h1m2 0h1m1.5 0h1m-26.5 .5h1m0 0h1m1.5 0h1m8 0h1m0 0h1m.5 0h1m-.5 0h1m1 0h1m1.5 0h1m-.5 0h1m8.5 0h1m7 0h1m-45 .5h1m3 0h1m0 0h1m3.5 0h1m.5 0h1m0 0h1m1.5 0h1m0 0h1m2.5 0h1m1 0h1m-.5 0h1m2 0h1m7.5 0h1m-47 .5h1m2 0h1m3.5 0h1m2.5 0h1m10 0h1m.5 0h1m1 0h1m1 0h1m.5 0h1m0 0h1m0 0h1m0 0h1m1 0h1m3 0h1m1.5 0h1m-40.5 .5h1m8 0h1m6 0h1m2 0h1m-.5 0h1m1.5 0h1m.5 0h1m5 0h1m.5 0h1m0 0h1m16 0h1m-36.5 .5h1m.5 0h1m4 0h1m-.5 0h1m-.5 0h1m-.5 0h1m0 0h1m.5 0h1m.5 0h1m2 0h1m1.5 0h1m2.5 0h1m2 0h1m1 0h1m-22.5 .5h1m-.5 0h1m0 0h1m-.5 0h1m-.5 0h1m0 0h1m.5 0h1m0 0h1m0 0h1m-.5 0h1m-.5 0h1m2.5 0h1m0 0h1m2.5 0h1m-.5 0h1m13.5 0h1m-54 .5h1m8 0h1m8 0h1m6 0h1m.5 0h1m-.5 0h1m-.5 0h1m0 0h1m1 0h1m0 0h1m0 0h1m2.5 0h1m0 0h1m-24 .5h1m7 0h1m1.5 0h1m0 0h1m0 0h1m2.5 0h1m-.5 0h1m0 0h1m-.5 0h1m1.5 0h1m1 0h1m.5 0h1m-.5 0h1m4.5 0h1m2 0h1m-47 .5h1m14 0h1m0 0h1m2 0h1m-.5 0h1m-.5 0h1m1.5 0h1m-.5 0h1m0 0h1m2.5 0h1m.5 0h1m1.5 0h1m-.5 0h1m-.5 0h1m0 0h1m0 0h1m1.5 0h1m6.5 0h1m-34.5 .5h1m.5 0h1m3.5 0h1m-.5 0h1m-.5 0h1m6.5 0h1m.5 0h1m-.5 0h1m1.5 0h1m-.5 0h1m1.5 0h1m3.5 0h1m-32 .5h1m6.5 0h1m3 0h1m1.5 0h1m9 0h1m1.5 0h1m6 0h1m7.5 0h1m-47 .5h1m7 0h1m2 0h1m7.5 0h1m-.5 0h1m0 0h1m0 0h1m.5 0h1m2.5 0h1m1.5 0h1m0 0h1m-.5 0h1m1 0h1m-.5 0h1m-24.5 .5h1m6 0h1m3 0h1m1.5 0h1m2 0h1m.5 0h1m2.5 0h1m22 0h1m-58 .5h1m13 0h1m2.5 0h1m5 0h1m2.5 0h1m0 0h1m0 0h1m2 0h1m2 0h1m8 0h1m4 0h1m-30.5 .5h1m.5 0h1m0 0h1m2 0h1m.5 0h1m1.5 0h1m5.5 0h1m-.5 0h1m-31 .5h1m32 0h1m-34 .5h1m1.5 0h1m5.5 0h1m.5 0h1m3 0h1m1 0h1m12.5 0h1m-24.5 .5h1m8.5 0h1m1 0h1m3.5 0h1m-.5 0h1m3 0h1m28 0h1m-43 .5h1m11.5 0h1m4.5 0h1m-25.5 .5h1m0 0h1m8 0h1m.5 0h1m-.5 0h1m9 0h1m0 0h1m-20.5 .5h1m1.5 0h1m11 0h1m1.5 0h1m2 0h1m18.5 .5h1m-32.5 1h1m0 0h1m17 0h1m8.5 0h1m-40.5 1h1m17.5 0h1m-5 .5h1m-9 1.5h1m0 6.5h1" stroke="#000" stroke-opacity="0.3" fill="none"/>
<rect x="463.60" y="18.90" width="88.10" height="88.00" fill="none" stroke="#1a1a1a" stroke-width="1.2"/>
<rect x="506.30" y="29.60" width="45.50" height="31.40" fill="none" stroke="#1a1a1a" stroke-width="1.1"/>
<text x="548.60" y="27.40" font-size="8.4" text-anchor="end" font-weight="normal" font-style="normal" fill="#1a1a1a" >5.62</text>
<line x1="461.00" y1="26.80" x2="463.50" y2="26.80" stroke="#222" stroke-width="1.1"/>
<text x="456.80" y="29.40" font-size="7.0" text-anchor="end" fill="#222">10<tspan dy="-2.8" font-size="5.04">5</tspan></text>
<line x1="461.00" y1="48.70" x2="463.50" y2="48.70" stroke="#222" stroke-width="1.1"/>
<text x="456.80" y="51.30" font-size="7.0" text-anchor="end" fill="#222">10<tspan dy="-2.8" font-size="5.04">4</tspan></text>
<line x1="461.00" y1="70.80" x2="463.50" y2="70.80" stroke="#222" stroke-width="1.1"/>
<text x="456.80" y="73.40" font-size="7.0" text-anchor="end" fill="#222">10<tspan dy="-2.8" font-size="5.04">3</tspan></text>
<line x1="461.00" y1="90.00" x2="463.50" y2="90.00" stroke="#222" stroke-width="1.1"/>
<text x="456.80" y="92.60" font-size="7.0" text-anchor="end" fill="#222">10<tspan dy="-2.8" font-size="5.04">2</tspan></text>
<line x1="461.00" y1="106.60" x2="463.50" y2="106.60" stroke="#222" stroke-width="1.1"/>
<text x="457.50" y="109.20" font-size="7.0" text-anchor="end" fill="#222">0</text>
<line x1="461.70" y1="33.37" x2="463.50" y2="33.37" stroke="#333" stroke-width="0.8"/>
<line x1="461.70" y1="38.19" x2="463.50" y2="38.19" stroke="#333" stroke-width="0.8"/>
<line x1="461.70" y1="42.13" x2="463.50" y2="42.13" stroke="#333" stroke-width="0.8"/>
<line x1="461.70" y1="55.33" x2="463.50" y2="55.33" stroke="#333" stroke-width="0.8"/>
<line x1="461.70" y1="60.19" x2="463.50" y2="60.19" stroke="#333" stroke-width="0.8"/>
<line x1="461.70" y1="64.17" x2="463.50" y2="64.17" stroke="#333" stroke-width="0.8"/>
<line x1="461.70" y1="76.56" x2="463.50" y2="76.56" stroke="#333" stroke-width="0.8"/>
<line x1="461.70" y1="80.78" x2="463.50" y2="80.78" stroke="#333" stroke-width="0.8"/>
<line x1="461.70" y1="84.24" x2="463.50" y2="84.24" stroke="#333" stroke-width="0.8"/>
<line x1="461.70" y1="94.98" x2="463.50" y2="94.98" stroke="#333" stroke-width="0.8"/>
<line x1="461.70" y1="98.63" x2="463.50" y2="98.63" stroke="#333" stroke-width="0.8"/>
<line x1="461.70" y1="101.62" x2="463.50" y2="101.62" stroke="#333" stroke-width="0.8"/>
<line x1="472.70" y1="107.00" x2="472.70" y2="109.50" stroke="#222" stroke-width="1.1"/>
<text x="472.70" y="119.00" font-size="7.0" text-anchor="middle" fill="#222">0</text>
<line x1="483.20" y1="107.00" x2="483.20" y2="109.50" stroke="#222" stroke-width="1.1"/>
<text x="484.40" y="119.00" font-size="7.0" text-anchor="middle" fill="#222">10<tspan dy="-2.8" font-size="5.04">2</tspan></text>
<line x1="501.00" y1="107.00" x2="501.00" y2="109.50" stroke="#222" stroke-width="1.1"/>
<text x="502.20" y="119.00" font-size="7.0" text-anchor="middle" fill="#222">10<tspan dy="-2.8" font-size="5.04">3</tspan></text>
<line x1="521.40" y1="107.00" x2="521.40" y2="109.50" stroke="#222" stroke-width="1.1"/>
<text x="522.60" y="119.00" font-size="7.0" text-anchor="middle" fill="#222">10<tspan dy="-2.8" font-size="5.04">4</tspan></text>
<line x1="540.60" y1="107.00" x2="540.60" y2="109.50" stroke="#222" stroke-width="1.1"/>
<text x="541.80" y="119.00" font-size="7.0" text-anchor="middle" fill="#222">10<tspan dy="-2.8" font-size="5.04">5</tspan></text>
<line x1="475.85" y1="107.00" x2="475.85" y2="109.00" stroke="#333" stroke-width="0.8"/>
<line x1="478.16" y1="107.00" x2="478.16" y2="109.00" stroke="#333" stroke-width="0.8"/>
<line x1="480.05" y1="107.00" x2="480.05" y2="109.00" stroke="#333" stroke-width="0.8"/>
<line x1="481.62" y1="107.00" x2="481.62" y2="109.00" stroke="#333" stroke-width="0.8"/>
<line x1="488.54" y1="107.00" x2="488.54" y2="109.00" stroke="#333" stroke-width="0.8"/>
<line x1="492.46" y1="107.00" x2="492.46" y2="109.00" stroke="#333" stroke-width="0.8"/>
<line x1="495.66" y1="107.00" x2="495.66" y2="109.00" stroke="#333" stroke-width="0.8"/>
<line x1="498.33" y1="107.00" x2="498.33" y2="109.00" stroke="#333" stroke-width="0.8"/>
<line x1="507.12" y1="107.00" x2="507.12" y2="109.00" stroke="#333" stroke-width="0.8"/>
<line x1="511.61" y1="107.00" x2="511.61" y2="109.00" stroke="#333" stroke-width="0.8"/>
<line x1="515.28" y1="107.00" x2="515.28" y2="109.00" stroke="#333" stroke-width="0.8"/>
<line x1="518.34" y1="107.00" x2="518.34" y2="109.00" stroke="#333" stroke-width="0.8"/>
<line x1="527.16" y1="107.00" x2="527.16" y2="109.00" stroke="#333" stroke-width="0.8"/>
<line x1="531.38" y1="107.00" x2="531.38" y2="109.00" stroke="#333" stroke-width="0.8"/>
<line x1="534.84" y1="107.00" x2="534.84" y2="109.00" stroke="#333" stroke-width="0.8"/>
<line x1="537.72" y1="107.00" x2="537.72" y2="109.00" stroke="#333" stroke-width="0.8"/>
<line x1="438.40" y1="30.30" x2="438.40" y2="89.20" stroke="#000" stroke-width="1.6"/>
<path d="M438.40 25.30L442.00 33.90L438.40 31.90L434.80 33.90Z" fill="#000"/>
<text x="0" y="0" font-size="9.6" fill="#111" transform="translate(440.80,114.60) rotate(-90)">CD4</text>
<ellipse cx="617" cy="46.6" rx="9" ry="6" fill="url(#core)" opacity="0.8"/>
<path d="M645 36.5h1m-32 .5h1m3 1.5h1m16.5 0h1m-20 .5h1m-6.5 .5h1m7 0h1m17 0h1m-47.5 .5h1m30.5 0h1m0 0h1m-28.5 .5h1m11 0h1m.5 0h1m2 0h1m5.5 0h1m18.5 0h1m0 0h1m-21.5 .5h1m1 0h1m1 0h1m-.5 0h1m1 0h1m11.5 0h1m-.5 0h1m-36.5 .5h1m6 0h1m6 0h1m4.5 0h1m-16 .5h1m6 0h1m1 0h1m2 0h1m0 0h1m-28 .5h1m6.5 0h1m10.5 0h1m1.5 0h1m1.5 0h1m-.5 0h1m-16 .5h1m15.5 0h1m0 0h1m.5 0h1m1 0h1m4 0h1m-41 .5h1m5.5 0h1m-.5 0h1m6 0h1m4 0h1m8.5 0h1m6 0h1m1.5 0h1m11.5 0h1m-54 .5h1m6.5 0h1m15.5 0h1m1.5 0h1m2.5 0h1m0 0h1m12 0h1m10 0h1m4 0h1m-54.5 .5h1m6.5 0h1m6.5 0h1m4.5 0h1m2.5 0h1m.5 0h1m0 0h1m-.5 0h1m.5 0h1m-29.5 .5h1m11 0h1m3.5 0h1m5.5 0h1m2.5 0h1m0 0h1m-31.5 .5h1m8 0h1m5 0h1m1 0h1m-.5 0h1m4 0h1m0 0h1m.5 0h1m-.5 0h1m0 0h1m-.5 0h1m1 0h1m-.5 0h1m3.5 0h1m1 0h1m7.5 0h1m-51 .5h1m10 0h1m7.5 0h1m0 0h1m4 0h1m3 0h1m1 0h1m.5 0h1m-.5 0h1m.5 0h1m0 0h1m0 0h1m-.5 0h1m0 0h1m-.5 0h1m-32.5 .5h1m15 0h1m.5 0h1m.5 0h1m5.5 0h1m-.5 0h1m0 0h1m.5 0h1m1 0h1m-.5 0h1m0 0h1m.5 0h1m14 0h1m-51 .5h1m1.5 0h1m6 0h1m8 0h1m0 0h1m2.5 0h1m1 0h1m0 0h1m0 0h1m0 0h1m1 0h1m1 0h1m5.5 0h1m-44 .5h1m2 0h1m-.5 0h1m3.5 0h1m-.5 0h1m2.5 0h1m1 0h1m0 0h1m3 0h1m1 0h1m3 0h1m0 0h1m0 0h1m1 0h1m7 0h1m-.5 0h1m5 0h1m-47 .5h1m3.5 0h1m0 0h1m8 0h1m3 0h1m1 0h1m1.5 0h1m0 0h1m1 0h1m-.5 0h1m3.5 0h1m-.5 0h1m1 0h1m1 0h1m-.5 0h1m1 0h1m0 0h1m0 0h1m22 0h1m-62 .5h1m2 0h1m2 0h1m10.5 0h1m1 0h1m4 0h1m3 0h1m0 0h1m-.5 0h1m.5 0h1m0 0h1m18.5 0h1m3 0h1m-59 .5h1m6.5 0h1m0 0h1m2.5 0h1m5.5 0h1m5.5 0h1m-.5 0h1m3 0h1m2 0h1m0 0h1m-.5 0h1m1 0h1m-.5 0h1m7.5 0h1m-37.5 .5h1m9 0h1m4.5 0h1m3 0h1m0 0h1m2.5 0h1m3 0h1m0 0h1m0 0h1m4 0h1m-38.5 .5h1m4 0h1m3 0h1m2 0h1m4 0h1m-.5 0h1m1 0h1m.5 0h1m3.5 0h1m1.5 0h1m1.5 0h1m-.5 0h1m.5 0h1m1.5 0h1m5 0h1m8 0h1m0 0h1m-.5 0h1m2 0h1m-52.5 .5h1m4.5 0h1m0 0h1m1 0h1m20 0h1m4 0h1m17.5 0h1m-59 .5h1m5.5 0h1m6 0h1m6.5 0h1m8 0h1m2.5 0h1m1 0h1m23.5 0h1m1.5 0h1m-39.5 .5h1m2.5 0h1m-.5 0h1m3.5 0h1m4 0h1m27.5 0h1m-58 .5h1m12.5 0h1m0 0h1m3.5 0h1m-.5 0h1m.5 0h1m1 0h1m1.5 0h1m5.5 0h1m-35.5 .5h1m8.5 0h1m.5 0h1m7.5 0h1m14 0h1m5 0h1m3.5 0h1m-29.5 .5h1m2.5 0h1m1 0h1m.5 0h1m-11.5 .5h1m2.5 0h1m.5 0h1m6.5 0h1m3.5 0h1m-26.5 .5h1m25 0h1m6.5 0h1m-39 1h1m10 0h1m13 0h1m-12 .5h1m1 0h1m6.5 0h1m.5 0h1m17.5 0h1m-15.5 .5h1m9.5 0h1m-27 1h1m9 .5h1m-.5 1h1m11.5 5h1" stroke="#000" stroke-opacity="0.3" fill="none"/>
<path d="M621.5 34.5h1m-8 2.5h1m-19.5 .5h1m26.5 0h1m-41 .5h1m19 0h1m9 0h1m5.5 0h1m-.5 0h1m-10 1h1m.5 0h1m9.5 0h1m-18 .5h1m9.5 0h1m25.5 0h1m-36.5 .5h1m8.5 0h1m-1.5 .5h1m0 0h1m7.5 0h1m14 0h1m-37 .5h1m4.5 0h1m5.5 0h1m-.5 0h1m1 0h1m.5 0h1m3 0h1m-17.5 .5h1m1.5 0h1m1 0h1m0 0h1m6.5 0h1m-16.5 .5h1m14 0h1m1 0h1m.5 0h1m10.5 0h1m3 0h1m-46.5 .5h1m14.5 0h1m0 0h1m5.5 0h1m-.5 0h1m.5 0h1m2 0h1m.5 0h1m8 0h1m6 0h1m-56.5 .5h1m26.5 0h1m1 0h1m0 0h1m0 0h1m.5 0h1m-.5 0h1m.5 0h1m0 0h1m1 0h1m11.5 0h1m-31 .5h1m4.5 0h1m1.5 0h1m.5 0h1m-.5 0h1m1 0h1m-.5 0h1m.5 0h1m-.5 0h1m4.5 0h1m10 0h1m-49.5 .5h1m9 0h1m14.5 0h1m.5 0h1m-.5 0h1m2 0h1m-.5 0h1m0 0h1m.5 0h1m-.5 0h1m1.5 0h1m3.5 0h1m-35.5 .5h1m3.5 0h1m4.5 0h1m1 0h1m.5 0h1m2 0h1m.5 0h1m0 0h1m.5 0h1m1.5 0h1m-.5 0h1m-.5 0h1m8.5 0h1m7.5 0h1m-47 .5h1m9.5 0h1m8 0h1m0 0h1m2.5 0h1m3.5 0h1m-.5 0h1m1 0h1m2 0h1m-24 .5h1m3 0h1m1.5 0h1m0 0h1m1 0h1m-.5 0h1m1 0h1m-.5 0h1m0 0h1m.5 0h1m7.5 0h1m-.5 0h1m15 0h1m1.5 0h1m-46.5 .5h1m9.5 0h1m0 0h1m7 0h1m.5 0h1m0 0h1m.5 0h1m3 0h1m12 0h1m4 0h1m-55.5 .5h1m13 0h1m5.5 0h1m6.5 0h1m-.5 0h1m1 0h1m-.5 0h1m1 0h1m1.5 0h1m6.5 0h1m9 0h1m-54.5 .5h1m0 0h1m9.5 0h1m1.5 0h1m1.5 0h1m0 0h1m0 0h1m5.5 0h1m-.5 0h1m-.5 0h1m-.5 0h1m1.5 0h1m1 0h1m.5 0h1m2.5 0h1m-37.5 .5h1m6.5 0h1m9 0h1m5.5 0h1m.5 0h1m0 0h1m.5 0h1m0 0h1m-.5 0h1m.5 0h1m1 0h1m2.5 0h1m.5 0h1m12 0h1m1 0h1m-58 .5h1m2 0h1m0 0h1m9.5 0h1m6 0h1m2 0h1m4 0h1m1.5 0h1m-.5 0h1m2.5 0h1m-.5 0h1m3.5 0h1m18 0h1m-60.5 .5h1m20 0h1m1.5 0h1m.5 0h1m2 0h1m1 0h1m.5 0h1m2.5 0h1m4 0h1m2.5 0h1m6 0h1m2.5 0h1m-43.5 .5h1m8 0h1m5.5 0h1m1.5 0h1m0 0h1m0 0h1m-.5 0h1m-.5 0h1m3 0h1m-.5 0h1m1 0h1m14 0h1m-56 .5h1m7.5 0h1m14 0h1m1.5 0h1m6 0h1m5 0h1m3.5 0h1m-.5 0h1m9 0h1m4 0h1m-54 .5h1m7.5 0h1m7 0h1m0 0h1m2.5 0h1m.5 0h1m-.5 0h1m1.5 0h1m7 0h1m0 0h1m4.5 0h1m22 0h1m-49 .5h1m3 0h1m2 0h1m0 0h1m-.5 0h1m.5 0h1m0 0h1m0 0h1m3 0h1m3 0h1m24.5 0h1m-57 .5h1m9 0h1m5 0h1m3 0h1m1 0h1m6.5 0h1m.5 0h1m4.5 0h1m-29.5 .5h1m2.5 0h1m10 0h1m5.5 0h1m0 0h1m4.5 0h1m4 0h1m8.5 0h1m-47.5 .5h1m16 0h1m3 0h1m3.5 0h1m1.5 0h1m5.5 0h1m10 0h1m-46 .5h1m3.5 0h1m15 0h1m1.5 0h1m6.5 0h1m15.5 0h1m-41.5 .5h1m12 0h1m4 0h1m3.5 0h1m-29.5 .5h1m11 0h1m-.5 0h1m0 0h1m.5 0h1m23 0h1m-54 .5h1m23 0h1m.5 0h1m6 0h1m-19.5 .5h1m16.5 0h1m-8.5 .5h1m-.5 0h1m6 1h1m-34.5 .5h1m10 1h1m41 2h1m-37 1h1m41.5 5.5h1" stroke="#000" stroke-opacity="0.3" fill="none"/>
<path d="M640.5 35.5h1m-3 .5h1m-13.5 .5h1m-9 .5h1m-31.5 .5h1m28.5 0h1m2.5 0h1m-24.5 1h1m2.5 0h1m5.5 0h1m-19.5 .5h1m26.5 0h1m23.5 0h1m-26.5 .5h1m4 0h1m1.5 0h1m-7 .5h1m3.5 0h1m.5 0h1m.5 0h1m-22 .5h1m4 0h1m1 0h1m9.5 0h1m2.5 0h1m20.5 0h1m-28 .5h1m2.5 0h1m-18.5 .5h1m5 0h1m5 0h1m0 0h1m.5 0h1m9.5 0h1m-19.5 .5h1m11 0h1m-39.5 .5h1m26 0h1m-.5 0h1m-.5 0h1m3.5 0h1m1.5 0h1m-.5 0h1m0 0h1m2 0h1m-19.5 .5h1m12 0h1m2 0h1m.5 0h1m.5 0h1m11.5 0h1m7 0h1m-58 .5h1m2 0h1m19 0h1m.5 0h1m0 0h1m3.5 0h1m0 0h1m1 0h1m-.5 0h1m2 0h1m16 0h1m-37 .5h1m1.5 0h1m1.5 0h1m-.5 0h1m0 0h1m3.5 0h1m-.5 0h1m0 0h1m0 0h1m0 0h1m2.5 0h1m0 0h1m8.5 0h1m-46.5 .5h1m18 0h1m2 0h1m2 0h1m0 0h1m1 0h1m3 0h1m15.5 0h1m10.5 0h1m-61.5 .5h1m9.5 0h1m3 0h1m0 0h1m3.5 0h1m1 0h1m3 0h1m.5 0h1m1 0h1m3 0h1m1.5 0h1m12.5 0h1m-47 .5h1m6 0h1m10 0h1m-.5 0h1m5 0h1m-.5 0h1m1.5 0h1m2 0h1m0 0h1m2.5 0h1m10.5 0h1m2.5 0h1m0 0h1m3.5 0h1m-53.5 .5h1m.5 0h1m0 0h1m-.5 0h1m13 0h1m-.5 0h1m1.5 0h1m-.5 0h1m0 0h1m.5 0h1m8 0h1m12.5 0h1m-50 .5h1m4 0h1m.5 0h1m3 0h1m6 0h1m-.5 0h1m4.5 0h1m1.5 0h1m-.5 0h1m0 0h1m.5 0h1m1.5 0h1m3 0h1m-.5 0h1m-.5 0h1m9.5 0h1m-33.5 .5h1m7.5 0h1m0 0h1m-.5 0h1m1.5 0h1m.5 0h1m-.5 0h1m-.5 0h1m4 0h1m.5 0h1m-24.5 .5h1m-.5 0h1m2.5 0h1m-.5 0h1m3 0h1m-.5 0h1m1 0h1m1 0h1m-.5 0h1m-.5 0h1m-.5 0h1m1 0h1m.5 0h1m1.5 0h1m1.5 0h1m20 0h1m-53 .5h1m3 0h1m2.5 0h1m1.5 0h1m2 0h1m1.5 0h1m.5 0h1m1 0h1m0 0h1m-.5 0h1m-.5 0h1m3 0h1m0 0h1m0 0h1m.5 0h1m5 0h1m.5 0h1m11.5 0h1m-48 .5h1m5.5 0h1m7 0h1m2 0h1m0 0h1m-.5 0h1m2 0h1m-.5 0h1m-.5 0h1m.5 0h1m1 0h1m5.5 0h1m10 0h1m.5 0h1m-46 .5h1m6 0h1m6 0h1m.5 0h1m.5 0h1m-.5 0h1m2.5 0h1m-.5 0h1m2.5 0h1m1 0h1m-.5 0h1m2 0h1m1.5 0h1m8.5 0h1m-51.5 .5h1m9.5 0h1m3.5 0h1m9.5 0h1m1.5 0h1m1 0h1m2 0h1m8.5 0h1m-34.5 .5h1m1 0h1m4.5 0h1m3 0h1m0 0h1m1 0h1m2 0h1m-.5 0h1m1 0h1m-.5 0h1m23.5 0h1m-.5 0h1m-52.5 .5h1m6.5 0h1m9 0h1m0 0h1m4 0h1m2 0h1m2 0h1m13 0h1m0 0h1m1.5 0h1m8.5 0h1m-59 .5h1m8.5 0h1m.5 0h1m5.5 0h1m0 0h1m9.5 0h1m0 0h1m5 0h1m-42 .5h1m20 0h1m0 0h1m0 0h1m8.5 0h1m0 0h1m.5 0h1m-30.5 .5h1m25.5 0h1m4 0h1m12 0h1m5 0h1m-32 .5h1m6.5 0h1m.5 0h1m21 0h1m-39 .5h1m5.5 0h1m2 0h1m1.5 0h1m-21.5 .5h1m11.5 0h1m14 0h1m0 0h1m3 0h1m16.5 0h1m-26.5 .5h1m-19.5 .5h1m1 0h1m8 0h1m45 .5h1m-51.5 .5h1m3.5 0h1m-.5 0h1m8 0h1m12.5 0h1m-30 .5h1m.5 0h1m10 .5h1m-12.5 3h1m1 0h1m-11 2h1m27.5 0h1" stroke="#000" stroke-opacity="0.3" fill="none"/>
<path d="M603.5 37.5h1m22 0h1m-8 .5h1m3.5 0h1m-1 .5h1m-25.5 1.5h1m8 0h1m3 0h1m3 0h1m-24.5 .5h1m12.5 0h1m.5 0h1m9 0h1m2 0h1m23 0h1m-45.5 .5h1m7.5 0h1m5.5 0h1m1 0h1m.5 0h1m0 0h1m7 0h1m14.5 0h1m-36 .5h1m2.5 0h1m5.5 0h1m-8 .5h1m1.5 0h1m1 0h1m0 0h1m0 0h1m19.5 0h1m4.5 0h1m-33 .5h1m-.5 0h1m-.5 0h1m3.5 0h1m0 0h1m-.5 0h1m1.5 0h1m18.5 0h1m-33.5 .5h1m3 0h1m2 0h1m1 0h1m.5 0h1m0 0h1m4.5 0h1m5 0h1m-25.5 .5h1m-.5 0h1m2.5 0h1m.5 0h1m4 0h1m2 0h1m-26 .5h1m.5 0h1m8 0h1m1 0h1m1.5 0h1m-.5 0h1m-.5 0h1m-.5 0h1m3 0h1m0 0h1m.5 0h1m3 0h1m.5 0h1m1 0h1m7 0h1m1.5 0h1m-34.5 .5h1m.5 0h1m1.5 0h1m2.5 0h1m2.5 0h1m-.5 0h1m-.5 0h1m.5 0h1m0 0h1m0 0h1m.5 0h1m.5 0h1m0 0h1m2.5 0h1m2 0h1m12 0h1m4 0h1m-52.5 .5h1m7.5 0h1m1 0h1m1 0h1m0 0h1m.5 0h1m.5 0h1m1.5 0h1m-.5 0h1m-.5 0h1m3 0h1m3 0h1m.5 0h1m13 0h1m-50 .5h1m8 0h1m8 0h1m5 0h1m-.5 0h1m.5 0h1m3 0h1m3 0h1m-.5 0h1m0 0h1m.5 0h1m9.5 0h1m.5 0h1m-38 .5h1m1 0h1m1 0h1m2 0h1m3.5 0h1m.5 0h1m-.5 0h1m1 0h1m9 0h1m12.5 0h1m0 0h1m1 0h1m-45 .5h1m9.5 0h1m1.5 0h1m0 0h1m0 0h1m0 0h1m1 0h1m2 0h1m.5 0h1m4 0h1m1 0h1m29 0h1m-56.5 .5h1m-.5 0h1m8.5 0h1m1 0h1m1.5 0h1m5 0h1m8 0h1m-50 .5h1m11 0h1m-.5 0h1m5.5 0h1m.5 0h1m-.5 0h1m.5 0h1m1.5 0h1m-.5 0h1m-.5 0h1m2 0h1m3.5 0h1m10.5 0h1m5 0h1m-41.5 .5h1m4 0h1m0 0h1m1 0h1m8.5 0h1m-.5 0h1m2.5 0h1m-.5 0h1m-.5 0h1m1 0h1m14.5 0h1m-44 .5h1m2.5 0h1m1 0h1m8.5 0h1m3 0h1m2 0h1m0 0h1m-.5 0h1m0 0h1m.5 0h1m1 0h1m1 0h1m1 0h1m2 0h1m3 0h1m6.5 0h1m-48 .5h1m6.5 0h1m6 0h1m2 0h1m3.5 0h1m.5 0h1m2 0h1m3.5 0h1m0 0h1m9.5 0h1m1 0h1m-39.5 .5h1m0 0h1m3 0h1m3.5 0h1m4 0h1m1 0h1m-.5 0h1m3.5 0h1m7 0h1m-28.5 .5h1m13 0h1m4.5 0h1m2 0h1m15 0h1m-53.5 .5h1m0 0h1m13.5 0h1m13 0h1m2 0h1m-.5 0h1m0 0h1m0 0h1m1 0h1m13.5 0h1m3 0h1m1.5 0h1m-35.5 .5h1m3.5 0h1m.5 0h1m-.5 0h1m1 0h1m-.5 0h1m5 0h1m5 0h1m8 0h1m5 0h1m-46 .5h1m1.5 0h1m7 0h1m3.5 0h1m1.5 0h1m-.5 0h1m17 0h1m-.5 0h1m2.5 0h1m6.5 0h1m-41 .5h1m.5 0h1m6 0h1m0 0h1m-31.5 .5h1m16.5 0h1m13.5 0h1m-.5 0h1m-5.5 .5h1m2 0h1m-20.5 .5h1m12.5 0h1m10.5 0h1m8 0h1m-28.5 .5h1m10.5 0h1m2.5 0h1m1.5 0h1m-21.5 .5h1m10 0h1m-.5 0h1m2 0h1m27.5 0h1m-49 .5h1m3 0h1m1 0h1m15 0h1m-9.5 .5h1m5.5 0h1m.5 0h1m-21.5 .5h1m9 0h1m-13 .5h1m9 0h1m-3.5 .5h1m10 .5h1m-30.5 .5h1m54.5 0h1m-37.5 .5h1m3 .5h1m-16 .5h1m31.5 .5h1m-23 2h1" stroke="#000" stroke-opacity="0.3" fill="none"/>
<rect x="582.60" y="18.90" width="88.40" height="88.00" fill="none" stroke="#1a1a1a" stroke-width="1.2"/>
<rect x="625.30" y="29.60" width="45.80" height="31.40" fill="none" stroke="#1a1a1a" stroke-width="1.1"/>
<text x="667.80" y="27.40" font-size="8.4" text-anchor="end" font-weight="normal" font-style="normal" fill="#1a1a1a" >10.2</text>
<line x1="580.00" y1="25.00" x2="582.50" y2="25.00" stroke="#222" stroke-width="1.1"/>
<text x="575.80" y="27.60" font-size="7.0" text-anchor="end" fill="#222">10<tspan dy="-2.8" font-size="5.04">5</tspan></text>
<line x1="580.00" y1="47.10" x2="582.50" y2="47.10" stroke="#222" stroke-width="1.1"/>
<text x="575.80" y="49.70" font-size="7.0" text-anchor="end" fill="#222">10<tspan dy="-2.8" font-size="5.04">4</tspan></text>
<line x1="580.00" y1="69.00" x2="582.50" y2="69.00" stroke="#222" stroke-width="1.1"/>
<text x="575.80" y="71.60" font-size="7.0" text-anchor="end" fill="#222">10<tspan dy="-2.8" font-size="5.04">3</tspan></text>
<line x1="580.00" y1="86.60" x2="582.50" y2="86.60" stroke="#222" stroke-width="1.1"/>
<text x="575.80" y="89.20" font-size="7.0" text-anchor="end" fill="#222">10<tspan dy="-2.8" font-size="5.04">2</tspan></text>
<line x1="580.00" y1="104.00" x2="582.50" y2="104.00" stroke="#222" stroke-width="1.1"/>
<text x="576.50" y="106.60" font-size="7.0" text-anchor="end" fill="#222">0</text>
<line x1="580.70" y1="31.63" x2="582.50" y2="31.63" stroke="#333" stroke-width="0.8"/>
<line x1="580.70" y1="36.49" x2="582.50" y2="36.49" stroke="#333" stroke-width="0.8"/>
<line x1="580.70" y1="40.47" x2="582.50" y2="40.47" stroke="#333" stroke-width="0.8"/>
<line x1="580.70" y1="53.67" x2="582.50" y2="53.67" stroke="#333" stroke-width="0.8"/>
<line x1="580.70" y1="58.49" x2="582.50" y2="58.49" stroke="#333" stroke-width="0.8"/>
<line x1="580.70" y1="62.43" x2="582.50" y2="62.43" stroke="#333" stroke-width="0.8"/>
<line x1="580.70" y1="74.28" x2="582.50" y2="74.28" stroke="#333" stroke-width="0.8"/>
<line x1="580.70" y1="78.15" x2="582.50" y2="78.15" stroke="#333" stroke-width="0.8"/>
<line x1="580.70" y1="81.32" x2="582.50" y2="81.32" stroke="#333" stroke-width="0.8"/>
<line x1="580.70" y1="91.82" x2="582.50" y2="91.82" stroke="#333" stroke-width="0.8"/>
<line x1="580.70" y1="95.65" x2="582.50" y2="95.65" stroke="#333" stroke-width="0.8"/>
<line x1="580.70" y1="98.78" x2="582.50" y2="98.78" stroke="#333" stroke-width="0.8"/>
<line x1="591.70" y1="107.00" x2="591.70" y2="109.50" stroke="#222" stroke-width="1.1"/>
<text x="591.70" y="119.00" font-size="7.0" text-anchor="middle" fill="#222">0</text>
<line x1="602.20" y1="107.00" x2="602.20" y2="109.50" stroke="#222" stroke-width="1.1"/>
<text x="603.40" y="119.00" font-size="7.0" text-anchor="middle" fill="#222">10<tspan dy="-2.8" font-size="5.04">2</tspan></text>
<line x1="620.00" y1="107.00" x2="620.00" y2="109.50" stroke="#222" stroke-width="1.1"/>
<text x="621.20" y="119.00" font-size="7.0" text-anchor="middle" fill="#222">10<tspan dy="-2.8" font-size="5.04">3</tspan></text>
<line x1="640.40" y1="107.00" x2="640.40" y2="109.50" stroke="#222" stroke-width="1.1"/>
<text x="641.60" y="119.00" font-size="7.0" text-anchor="middle" fill="#222">10<tspan dy="-2.8" font-size="5.04">4</tspan></text>
<line x1="659.60" y1="107.00" x2="659.60" y2="109.50" stroke="#222" stroke-width="1.1"/>
<text x="660.80" y="119.00" font-size="7.0" text-anchor="middle" fill="#222">10<tspan dy="-2.8" font-size="5.04">5</tspan></text>
<line x1="594.85" y1="107.00" x2="594.85" y2="109.00" stroke="#333" stroke-width="0.8"/>
<line x1="597.16" y1="107.00" x2="597.16" y2="109.00" stroke="#333" stroke-width="0.8"/>
<line x1="599.05" y1="107.00" x2="599.05" y2="109.00" stroke="#333" stroke-width="0.8"/>
<line x1="600.62" y1="107.00" x2="600.62" y2="109.00" stroke="#333" stroke-width="0.8"/>
<line x1="607.54" y1="107.00" x2="607.54" y2="109.00" stroke="#333" stroke-width="0.8"/>
<line x1="611.46" y1="107.00" x2="611.46" y2="109.00" stroke="#333" stroke-width="0.8"/>
<line x1="614.66" y1="107.00" x2="614.66" y2="109.00" stroke="#333" stroke-width="0.8"/>
<line x1="617.33" y1="107.00" x2="617.33" y2="109.00" stroke="#333" stroke-width="0.8"/>
<line x1="626.12" y1="107.00" x2="626.12" y2="109.00" stroke="#333" stroke-width="0.8"/>
<line x1="630.61" y1="107.00" x2="630.61" y2="109.00" stroke="#333" stroke-width="0.8"/>
<line x1="634.28" y1="107.00" x2="634.28" y2="109.00" stroke="#333" stroke-width="0.8"/>
<line x1="637.34" y1="107.00" x2="637.34" y2="109.00" stroke="#333" stroke-width="0.8"/>
<line x1="646.16" y1="107.00" x2="646.16" y2="109.00" stroke="#333" stroke-width="0.8"/>
<line x1="650.38" y1="107.00" x2="650.38" y2="109.00" stroke="#333" stroke-width="0.8"/>
<line x1="653.84" y1="107.00" x2="653.84" y2="109.00" stroke="#333" stroke-width="0.8"/>
<line x1="656.72" y1="107.00" x2="656.72" y2="109.00" stroke="#333" stroke-width="0.8"/>
<text x="161.00" y="152.00" font-size="14" text-anchor="start" font-weight="bold" font-style="normal" fill="#000" >e</text>
<ellipse cx="218.5" cy="205.5" rx="14" ry="10" fill="url(#core)" opacity="1.0"/>
<ellipse cx="251.5" cy="205" rx="12" ry="6" fill="url(#core)" opacity="1.0"/>
<ellipse cx="236" cy="205" rx="8" ry="3.5" fill="url(#core)" opacity="0.4"/>
<ellipse cx="218" cy="174" rx="9" ry="13" fill="url(#core)" opacity="0.12"/>
<path d="M220 156.5h1m1.5 .5h1m-13 2h1m12 0h1m-11.5 .5h1m3 1h1m26 1h1m-35 1h1m5 0h1m-3 .5h1m16.5 1h1m-24 .5h1m8.5 .5h1m4.5 0h1m5.5 0h1m-27.5 .5h1m12 0h1m-.5 .5h1m.5 .5h1m9 0h1m-16.5 .5h1m-12.5 .5h1m6 0h1m1 0h1m3 0h1m.5 0h1m-.5 .5h1m3.5 0h1m11 0h1m-28.5 .5h1m6.5 0h1m-3.5 .5h1m7 0h1m14 0h1m-29 .5h1m22 0h1m-15 .5h1m1.5 0h1m1.5 0h1m8 0h1m5 0h1m-28.5 .5h1m0 0h1m4 0h1m4 0h1m.5 0h1m63 0h1m-65.5 .5h1m-1 .5h1m-2 .5h1m3 0h1m-8 .5h1m.5 0h1m1.5 0h1m-4.5 .5h1m.5 .5h1m.5 0h1m2 .5h1m0 0h1m1.5 0h1m-12.5 .5h1m1 0h1m1.5 0h1m1.5 0h1m1.5 0h1m-9 .5h1m0 0h1m-.5 0h1m7 0h1m3.5 0h1m-18 .5h1m1.5 0h1m1.5 0h1m2 0h1m4 0h1m-17.5 1h1m5 0h1m3 0h1m7 .5h1m3.5 0h1m-25.5 .5h1m12 0h1m-.5 0h1m0 0h1m2.5 0h1m0 0h1m-8 .5h1m0 0h1m0 .5h1m.5 0h1m.5 0h1m-3 1h1m0 0h1m-4.5 .5h1m6.5 0h1m-14 .5h1m1 0h1m5 0h1m-13.5 .5h1m3.5 0h1m1.5 0h1m.5 0h1m4 0h1m-16 .5h1m9 0h1m1 0h1m6.5 0h1m-13 1h1m6 0h1m-10 .5h1m26 0h1m-33 .5h1m0 0h1m9 .5h1m-6 .5h1m7.5 1h1m1.5 0h1m1.5 1h1m-8.5 .5h1m23 1h1m-6 .5h1m-22.5 .5h1m19.5 0h1m-21 1h1m1.5 0h1m1.5 .5h1m-17.5 .5h1m15.5 1.5h1m-10.5 .5h1m-4 .5h1m4.5 0h1m13.5 0h1m-9 .5h1m4.5 0h1m2 0h1m18 0h1m1 0h1m-41.5 .5h1m2.5 0h1m7.5 0h1m9 0h1m1.5 0h1m5.5 .5h1m5 0h1m-29.5 .5h1m3.5 0h1m-6.5 .5h1m4 0h1m-20 .5h1m11.5 0h1m10.5 0h1m6 0h1m21 0h1m-46 .5h1m42.5 0h1m1 0h1m3.5 0h1m-50 .5h1m5 0h1m25.5 0h1m-33.5 .5h1m2 0h1m3 0h1m31.5 0h1m-42.5 .5h1m3.5 0h1m5 0h1m-.5 0h1m-.5 0h1m16.5 0h1m2 0h1m6 0h1m3 0h1m-47.5 .5h1m4.5 0h1m1 0h1m0 0h1m0 0h1m2 0h1m34 0h1m-.5 0h1m-48 .5h1m9 0h1m8 0h1m1.5 0h1m13 0h1m16 0h1m-64 .5h1m14 0h1m5 0h1m-.5 0h1m4 0h1m1.5 0h1m7.5 0h1m2 0h1m2 0h1m.5 0h1m4 0h1m7.5 0h1m-43.5 .5h1m.5 0h1m11 0h1m15 0h1m3 0h1m2.5 0h1m12.5 0h1m-51 .5h1m3.5 0h1m2.5 0h1m5 0h1m14 0h1m7.5 0h1m18.5 0h1m-70 .5h1m4 0h1m17.5 0h1m2 0h1m5 0h1m2.5 0h1m3 0h1m-.5 0h1m13 0h1m-60 .5h1m12.5 0h1m2.5 0h1m0 0h1m1 0h1m-.5 0h1m3.5 0h1m5.5 0h1m3 0h1m2 0h1m1 0h1m8.5 0h1m1 0h1m3.5 0h1m-37.5 .5h1m3 0h1m4 0h1m4.5 0h1m9.5 0h1m-.5 0h1m0 0h1m0 0h1m6 0h1m-42 .5h1m1.5 0h1m1 0h1m1 0h1m1 0h1m2 0h1m2.5 0h1m17 0h1m.5 0h1m4.5 0h1m2.5 0h1m3.5 0h1m1 0h1m2.5 0h1m-63 .5h1m8 0h1m-.5 0h1m0 0h1m1.5 0h1m.5 0h1m-.5 0h1m-.5 0h1m-.5 0h1m3 0h1m2 0h1m5 0h1m2 0h1m0 0h1m9.5 0h1m5.5 0h1m-50 .5h1m5 0h1m6 0h1m1 0h1m1.5 0h1m6.5 0h1m.5 0h1m0 0h1m4.5 0h1m1 0h1m-.5 0h1m2 0h1m-.5 0h1m5 0h1m2.5 0h1m2 0h1m-.5 0h1m9.5 0h1m-61.5 .5h1m.5 0h1m5.5 0h1m0 0h1m-.5 0h1m1 0h1m0 0h1m6 0h1m3 0h1m5.5 0h1m8.5 0h1m.5 0h1m0 0h1m-.5 0h1m.5 0h1m4.5 0h1m.5 0h1m0 0h1m-51.5 .5h1m-.5 0h1m1.5 0h1m4 0h1m1 0h1m4.5 0h1m1 0h1m1 0h1m1.5 0h1m0 0h1m7 0h1m2.5 0h1m-.5 0h1m.5 0h1m.5 0h1m4 0h1m2 0h1m2.5 0h1m-45.5 .5h1m3 0h1m1.5 0h1m0 0h1m0 0h1m4 0h1m0 0h1m3 0h1m.5 0h1m3 0h1m0 0h1m3.5 0h1m2 0h1m.5 0h1m5 0h1m-42 .5h1m0 0h1m10 0h1m-.5 0h1m3.5 0h1m8.5 0h1m6.5 0h1m2 0h1m1 0h1m-.5 0h1m1 0h1m1 0h1m3 0h1m-.5 0h1m-.5 0h1m-58.5 .5h1m2.5 0h1m2 0h1m1 0h1m1 0h1m.5 0h1m5 0h1m1 0h1m.5 0h1m6.5 0h1m5 0h1m-.5 0h1m.5 0h1m3.5 0h1m0 0h1m2.5 0h1m3 0h1m5 0h1m-49.5 .5h1m0 0h1m3.5 0h1m1 0h1m4 0h1m.5 0h1m3 0h1m-.5 0h1m2.5 0h1m-.5 0h1m6 0h1m-.5 0h1m0 0h1m13 0h1m1 0h1m8.5 0h1m-67 .5h1m7 0h1m3.5 0h1m.5 0h1m-.5 0h1m-.5 0h1m4.5 0h1m2 0h1m20.5 0h1m0 0h1m1 0h1m1.5 0h1m1 0h1m-45.5 .5h1m6.5 0h1m-.5 0h1m.5 0h1m.5 0h1m3.5 0h1m10 0h1m3.5 0h1m7 0h1m1 0h1m4 0h1m4.5 0h1m-52 .5h1m3 0h1m0 0h1m3.5 0h1m3 0h1m-.5 0h1m25.5 0h1m-.5 0h1m-43 .5h1m3.5 0h1m-.5 0h1m4 0h1m3.5 0h1m3 0h1m-.5 0h1m4.5 0h1m4 0h1m2 0h1m3 0h1m.5 0h1m0 0h1m8 0h1m-56.5 .5h1m2 0h1m1.5 0h1m-.5 0h1m2.5 0h1m2 0h1m2 0h1m-.5 0h1m1.5 0h1m0 0h1m1 0h1m1.5 0h1m-.5 0h1m.5 0h1m4 0h1m11.5 0h1m1.5 0h1m0 0h1m0 0h1m4 0h1m5.5 0h1m-51.5 .5h1m2 0h1m-.5 0h1m1 0h1m-.5 0h1m0 0h1m1.5 0h1m0 0h1m0 0h1m14 0h1m7.5 0h1m6.5 0h1m-44.5 .5h1m2.5 0h1m9 0h1m-.5 0h1m1 0h1m-.5 0h1m1 0h1m-.5 0h1m18 0h1m-39 .5h1m4 0h1m0 0h1m-.5 0h1m-.5 0h1m0 0h1m1.5 0h1m0 0h1m.5 0h1m6.5 0h1m0 0h1m4.5 0h1m-27 .5h1m2 0h1m16.5 0h1m20.5 0h1m-42 .5h1m2.5 0h1m9 0h1m6.5 0h1m-.5 0h1m-24.5 .5h1m1 0h1m0 0h1m3.5 0h1m0 0h1m1.5 0h1m0 0h1m-.5 0h1m2.5 0h1m3 0h1m0 0h1m2.5 0h1m3.5 0h1m-36 .5h1m1.5 0h1m6.5 0h1m5 0h1m26 0h1m-.5 0h1m3.5 0h1m-40 .5h1m16 0h1m-25 .5h1m9.5 0h1m1 0h1m.5 0h1m-15.5 .5h1m7 0h1m2.5 0h1m10 0h1m-22 .5h1m7 0h1m-.5 0h1m-.5 0h1m5 0h1m13 0h1m-24 .5h1m10 0h1m1 0h1m-6.5 .5h1m-14 .5h1m8.5 0h1m13.5 .5h1m-21.5 .5h1m2.5 0h1m14 0h1m-11 .5h1m-6 .5h1m-7 .5h1m7 0h1m8 0h1m-.5 0h1m-23 .5h1m16 0h1m7.5 .5h1m-30 1.5h1m31 0h1m-15 1.5h1m8.5 .5h1m-7.5 2h1m-7.5 3h1m27 3h1" stroke="#000" stroke-opacity="0.3" fill="none"/>
<path d="M224.5 155h1m.5 1.5h1m35 0h1m-43 .5h1m-13 2.5h1m12.5 .5h1m-1.5 2.5h1m14.5 .5h1m-22 .5h1m.5 0h1m3 0h1m-5 .5h1m2 0h1m-7.5 .5h1m7 0h1m-3 .5h1m1 0h1m0 0h1m-6.5 .5h1m1.5 1h1m3.5 0h1m5 0h1m-12.5 .5h1m10 0h1m-13.5 .5h1m1 0h1m-19.5 .5h1m12.5 0h1m-2 .5h1m5 0h1m-7.5 .5h1m5.5 0h1m-6.5 .5h1m-.5 0h1m4.5 0h1m2.5 0h1m3 0h1m-15 .5h1m1 0h1m.5 0h1m-4.5 .5h1m6.5 0h1m.5 0h1m-13 .5h1m2 0h1m3 0h1m38.5 0h1m-42 .5h1m0 0h1m3 0h1m3 0h1m2 0h1m0 0h1m-9 .5h1m-16.5 .5h1m8 .5h1m-.5 0h1m-.5 0h1m1 0h1m2.5 0h1m-6 .5h1m5 0h1m-13.5 .5h1m5 0h1m-.5 0h1m1.5 .5h1m-1 .5h1m2 0h1m8.5 0h1m-17.5 .5h1m0 0h1m1.5 0h1m8.5 0h1m-14.5 1h1m0 0h1m5 0h1m-6 .5h1m2 0h1m4.5 0h1m-10.5 .5h1m4.5 0h1m.5 0h1m2 0h1m-12.5 .5h1m4 0h1m4 0h1m0 0h1m-17 .5h1m9 0h1m9.5 0h1m17 0h1m-34.5 .5h1m6 0h1m-.5 0h1m5.5 0h1m-16 .5h1m6 0h1m1.5 0h1m-3 .5h1m8 0h1m-19.5 .5h1m4.5 0h1m8 0h1m-14.5 .5h1m1.5 0h1m-5 .5h1m1 .5h1m4 0h1m0 0h1m2.5 0h1m11 0h1m-8.5 .5h1m-15 .5h1m9.5 .5h1m-12.5 1.5h1m15 0h1m4 0h1m-22.5 .5h1m4.5 .5h1m1.5 0h1m-8 1h1m-.5 0h1m-3 .5h1m15.5 0h1m-7.5 .5h1m1.5 .5h1m1 0h1m-13.5 1h1m54.5 0h1m-51 .5h1m2 1h1m11 0h1m-14.5 .5h1m-9.5 1h1m8.5 0h1m14 .5h1m-18.5 1h1m-2 .5h1m7.5 .5h1m-22.5 .5h1m21.5 0h1m-17 .5h1m11.5 0h1m6 0h1m-16 .5h1m27.5 0h1m3.5 0h1m-34.5 .5h1m2 0h1m15 0h1m25.5 0h1m-49.5 .5h1m8.5 0h1m8.5 0h1m.5 0h1m19 0h1m-46 .5h1m2.5 0h1m6 0h1m2 0h1m11 0h1m2 0h1m2 0h1m12 0h1m-51 .5h1m6.5 0h1m.5 0h1m11 0h1m20.5 0h1m11.5 0h1m-51.5 .5h1m7 0h1m.5 0h1m5.5 0h1m-.5 0h1m3.5 0h1m6.5 0h1m22 0h1m-54 .5h1m11 0h1m5.5 0h1m6 0h1m1 0h1m9.5 0h1m5 0h1m-45 .5h1m.5 0h1m4 0h1m1 0h1m2 0h1m.5 0h1m7 0h1m-.5 0h1m3 0h1m7.5 0h1m19.5 0h1m-53 .5h1m4.5 0h1m8 0h1m22 0h1m-.5 0h1m3 0h1m8.5 0h1m-48 .5h1m4 0h1m11 0h1m1 0h1m9.5 0h1m8 0h1m.5 0h1m7.5 0h1m.5 0h1m-44.5 .5h1m2 0h1m0 0h1m6 0h1m3 0h1m-.5 0h1m0 0h1m2.5 0h1m.5 0h1m13 0h1m9 0h1m-61.5 .5h1m8.5 0h1m7 0h1m1 0h1m.5 0h1m6.5 0h1m2 0h1m18 0h1m1 0h1m5.5 0h1m-53.5 .5h1m1 0h1m0 0h1m-.5 0h1m2.5 0h1m0 0h1m2.5 0h1m.5 0h1m3 0h1m3 0h1m-.5 0h1m.5 0h1m1.5 0h1m7.5 0h1m8 0h1m.5 0h1m-.5 0h1m13 0h1m-67 .5h1m9.5 0h1m7 0h1m-.5 0h1m4.5 0h1m0 0h1m4 0h1m2.5 0h1m.5 0h1m8 0h1m.5 0h1m-.5 0h1m4.5 0h1m5 0h1m5 0h1m-60.5 .5h1m-.5 0h1m4 0h1m1.5 0h1m8.5 0h1m15.5 0h1m0 0h1m6.5 0h1m2 0h1m0 0h1m-.5 0h1m.5 0h1m-50.5 .5h1m2.5 0h1m-.5 0h1m5 0h1m1.5 0h1m2 0h1m-.5 0h1m0 0h1m-.5 0h1m.5 0h1m.5 0h1m3 0h1m-.5 0h1m.5 0h1m8.5 0h1m3.5 0h1m-.5 0h1m3 0h1m4.5 0h1m0 0h1m0 0h1m.5 0h1m-55.5 .5h1m1.5 0h1m5 0h1m2.5 0h1m1 0h1m0 0h1m0 0h1m-.5 0h1m2 0h1m4.5 0h1m-.5 0h1m9.5 0h1m.5 0h1m5.5 0h1m0 0h1m6.5 0h1m-44 .5h1m0 0h1m-.5 0h1m3 0h1m4.5 0h1m3.5 0h1m7.5 0h1m3 0h1m5 0h1m1 0h1m.5 0h1m2 0h1m-48.5 .5h1m12 0h1m.5 0h1m2.5 0h1m-.5 0h1m4.5 0h1m9.5 0h1m-.5 0h1m3.5 0h1m-.5 0h1m3.5 0h1m1 0h1m0 0h1m5 0h1m-.5 0h1m-50.5 .5h1m.5 0h1m0 0h1m.5 0h1m0 0h1m1 0h1m1 0h1m3 0h1m-.5 0h1m3 0h1m4 0h1m4.5 0h1m5 0h1m3 0h1m-.5 0h1m.5 0h1m.5 0h1m1.5 0h1m-53.5 .5h1m7.5 0h1m0 0h1m0 0h1m2.5 0h1m1 0h1m0 0h1m3 0h1m1 0h1m4 0h1m.5 0h1m-.5 0h1m0 0h1m3 0h1m0 0h1m2 0h1m2 0h1m2 0h1m0 0h1m-.5 0h1m-45 .5h1m6.5 0h1m2 0h1m10.5 0h1m4.5 0h1m10.5 0h1m1 0h1m.5 0h1m-.5 0h1m-.5 0h1m-48.5 .5h1m0 0h1m7 0h1m-.5 0h1m5.5 0h1m-.5 0h1m1.5 0h1m2.5 0h1m2.5 0h1m5.5 0h1m7.5 0h1m1 0h1m5.5 0h1m.5 0h1m10 0h1m7 0h1m-61.5 .5h1m.5 0h1m3 0h1m1.5 0h1m.5 0h1m7.5 0h1m2 0h1m1 0h1m3 0h1m11.5 0h1m2 0h1m-53.5 .5h1m6 0h1m1 0h1m.5 0h1m1 0h1m3.5 0h1m0 0h1m1 0h1m3.5 0h1m12 0h1m9 0h1m-.5 0h1m3 0h1m9 0h1m-58 .5h1m6 0h1m1 0h1m9 0h1m2 0h1m4.5 0h1m15.5 0h1m2.5 0h1m5.5 0h1m-54.5 .5h1m5.5 0h1m-.5 0h1m.5 0h1m4 0h1m-.5 0h1m0 0h1m4 0h1m2.5 0h1m.5 0h1m.5 0h1m7.5 0h1m-.5 0h1m0 0h1m2 0h1m0 0h1m-.5 0h1m-34 .5h1m.5 0h1m1 0h1m6 0h1m0 0h1m33 0h1m-58 .5h1m11 0h1m-.5 0h1m3 0h1m9 0h1m2.5 0h1m2 0h1m3.5 0h1m18 0h1m-61 .5h1m27 0h1m4.5 0h1m25.5 0h1m-57 .5h1m5.5 0h1m1 0h1m2.5 0h1m32 0h1m-36 .5h1m1 0h1m9.5 0h1m.5 0h1m-.5 0h1m7.5 0h1m5.5 0h1m11.5 0h1m-52 .5h1m3.5 0h1m7.5 0h1m3 0h1m1 0h1m2 0h1m6.5 0h1m0 0h1m6.5 0h1m4.5 0h1m20 0h1m-51 .5h1m13 0h1m-22 .5h1m17.5 0h1m24.5 0h1m-45.5 .5h1m.5 0h1m4.5 0h1m2.5 0h1m6 0h1m5 0h1m-.5 0h1m17 0h1m-33.5 .5h1m1.5 0h1m-2 .5h1m7.5 0h1m-32 .5h1m30 0h1m6.5 0h1m20 0h1m-39 .5h1m3 0h1m-25 .5h1m14 0h1m15.5 0h1m-23 .5h1m3 0h1m0 0h1m6 0h1m-22.5 .5h1m19.5 0h1m-17.5 .5h1m6.5 0h1m13 0h1m-25.5 .5h1m7.5 0h1m22 0h1m1 0h1m-22.5 1h1m6 .5h1m1 0h1m7.5 0h1m-16.5 .5h1m.5 1h1m1.5 1.5h1m-9.5 1.5h1m-11.5 .5h1m32 14.5h1m11.5 1h1" stroke="#000" stroke-opacity="0.3" fill="none"/>
<path d="M210.5 158h1m.5 2.5h1m2.5 .5h1m10.5 1h1m-10 .5h1m0 0h1m.5 .5h1m1.5 0h1m-.5 0h1m-18 .5h1m8.5 1h1m7.5 0h1m-17.5 .5h1m4.5 0h1m2 .5h1m6 0h1m-11 .5h1m4 0h1m.5 0h1m9.5 0h1m3 0h1m-25 1h1m3 0h1m10 0h1m-8.5 .5h1m-7 .5h1m3.5 0h1m5.5 0h1m-7.5 .5h1m2 .5h1m2 0h1m.5 0h1m-16 .5h1m6 0h1m7.5 0h1m-15.5 .5h1m5.5 0h1m-.5 0h1m2.5 0h1m1.5 0h1m-13.5 .5h1m5.5 0h1m3 0h1m.5 0h1m-13 1h1m.5 0h1m4 0h1m-.5 0h1m5.5 0h1m-6.5 .5h1m6 .5h1m-9 .5h1m-11 .5h1m3 0h1m2 0h1m0 0h1m4.5 0h1m-18 .5h1m11.5 0h1m1.5 0h1m-.5 0h1m.5 0h1m2.5 0h1m36.5 0h1m-63 .5h1m14 0h1m6 0h1m3.5 0h1m-13.5 .5h1m7 0h1m5 0h1m18.5 0h1m-36.5 .5h1m-.5 0h1m4 0h1m-.5 0h1m-7.5 .5h1m3 0h1m1 0h1m-.5 0h1m-.5 0h1m-.5 0h1m5 0h1m-10 .5h1m-.5 0h1m-2 .5h1m3 .5h1m5.5 0h1m-14 .5h1m8 0h1m2 0h1m-12.5 .5h1m5.5 0h1m1 0h1m-16 .5h1m16 0h1m-19 .5h1m19 .5h1m0 0h1m-12.5 .5h1m5 0h1m.5 0h1m.5 0h1m-4.5 .5h1m-2.5 .5h1m2 0h1m-.5 0h1m0 .5h1m-6 .5h1m-4 1h1m1 0h1m-6 .5h1m2 0h1m4.5 0h1m-22.5 .5h1m23.5 .5h1m-2 .5h1m-9.5 2h1m5.5 .5h1m-6.5 1.5h1m1 0h1m11 0h1m-11.5 .5h1m2.5 .5h1m-13.5 1h1m4 .5h1m19.5 0h1m-14.5 1.5h1m-5.5 .5h1m-12.5 .5h1m17 0h1m-20.5 .5h1m15.5 0h1m4.5 0h1m-6 1h1m8.5 0h1m-25.5 .5h1m4 0h1m1 0h1m16 0h1m-.5 0h1m15.5 0h1m-36 .5h1m13.5 0h1m10.5 0h1m9.5 0h1m-26.5 .5h1m7.5 0h1m5.5 0h1m16 0h1m-39.5 .5h1m7.5 0h1m3 0h1m16.5 0h1m4 0h1m-45.5 .5h1m7.5 0h1m9.5 0h1m1.5 0h1m13 0h1m-43 .5h1m3.5 0h1m.5 0h1m0 0h1m3 0h1m.5 0h1m-.5 0h1m7.5 0h1m0 0h1m1 0h1m3.5 0h1m3 0h1m4.5 0h1m-22 .5h1m.5 0h1m.5 0h1m3 0h1m12 0h1m.5 0h1m.5 0h1m6 0h1m0 0h1m8 0h1m0 0h1m-51.5 .5h1m11.5 0h1m1 0h1m.5 0h1m6 0h1m0 0h1m4 0h1m15.5 0h1m-50.5 .5h1m.5 0h1m10 0h1m16 0h1m17.5 0h1m5.5 0h1m-.5 0h1m4 0h1m-55.5 .5h1m9.5 0h1m7 0h1m-.5 0h1m7 0h1m4 0h1m0 0h1m0 0h1m20.5 0h1m-63.5 .5h1m1.5 0h1m3.5 0h1m4.5 0h1m4 0h1m10 0h1m16 0h1m3.5 0h1m-49 .5h1m4.5 0h1m3 0h1m.5 0h1m2.5 0h1m-.5 0h1m.5 0h1m1.5 0h1m-.5 0h1m0 0h1m.5 0h1m-.5 0h1m-.5 0h1m8 0h1m5.5 0h1m-.5 0h1m0 0h1m8.5 0h1m2 0h1m-51 .5h1m3 0h1m-.5 0h1m.5 0h1m3 0h1m1.5 0h1m1.5 0h1m1 0h1m.5 0h1m1.5 0h1m4 0h1m1.5 0h1m3 0h1m6 0h1m1 0h1m-47 .5h1m12 0h1m0 0h1m0 0h1m-.5 0h1m.5 0h1m1 0h1m2 0h1m10.5 0h1m3.5 0h1m7 0h1m1 0h1m1 0h1m0 0h1m-50 .5h1m14.5 0h1m2 0h1m-.5 0h1m10 0h1m1 0h1m2.5 0h1m1 0h1m2 0h1m.5 0h1m0 0h1m-.5 0h1m1 0h1m3.5 0h1m-.5 0h1m4 0h1m-51.5 .5h1m3.5 0h1m-.5 0h1m0 0h1m3 0h1m4 0h1m16 0h1m10.5 0h1m8 0h1m-57 .5h1m-.5 0h1m2 0h1m4 0h1m2 0h1m-.5 0h1m1 0h1m1.5 0h1m-.5 0h1m.5 0h1m2 0h1m1 0h1m4.5 0h1m7 0h1m.5 0h1m2.5 0h1m1.5 0h1m2.5 0h1m11.5 0h1m-62 .5h1m-.5 0h1m1 0h1m0 0h1m3 0h1m-.5 0h1m3 0h1m1 0h1m.5 0h1m1.5 0h1m1.5 0h1m0 0h1m4 0h1m4 0h1m4.5 0h1m1.5 0h1m0 0h1m.5 0h1m1 0h1m-.5 0h1m-.5 0h1m2 0h1m8.5 0h1m.5 0h1m-66.5 .5h1m3 0h1m2 0h1m4.5 0h1m-.5 0h1m-.5 0h1m4 0h1m3.5 0h1m7 0h1m3 0h1m1 0h1m3 0h1m8 0h1m6 0h1m2.5 0h1m1 0h1m-55 .5h1m-.5 0h1m.5 0h1m5 0h1m3 0h1m-.5 0h1m3.5 0h1m1 0h1m-.5 0h1m-.5 0h1m1.5 0h1m2 0h1m3 0h1m-.5 0h1m13.5 0h1m-.5 0h1m-.5 0h1m1.5 0h1m-.5 0h1m4.5 0h1m-63.5 .5h1m5 0h1m0 0h1m4.5 0h1m2.5 0h1m1 0h1m5 0h1m-.5 0h1m0 0h1m0 0h1m2 0h1m3.5 0h1m2.5 0h1m3 0h1m2 0h1m4.5 0h1m4 0h1m9.5 0h1m-55 .5h1m6.5 0h1m0 0h1m2.5 0h1m2 0h1m7 0h1m7 0h1m4 0h1m1.5 0h1m-43.5 .5h1m15 0h1m10.5 0h1m.5 0h1m-.5 0h1m2 0h1m-.5 0h1m1 0h1m9 0h1m.5 0h1m2.5 0h1m14.5 0h1m-60 .5h1m9.5 0h1m-.5 0h1m2 0h1m1 0h1m3 0h1m1 0h1m.5 0h1m0 0h1m4.5 0h1m2 0h1m1.5 0h1m3 0h1m5.5 0h1m1.5 0h1m-57 .5h1m6 0h1m.5 0h1m3.5 0h1m-.5 0h1m1 0h1m2 0h1m1.5 0h1m15.5 0h1m-.5 0h1m7 0h1m-41.5 .5h1m.5 0h1m5.5 0h1m-.5 0h1m4 0h1m0 0h1m1 0h1m11 0h1m9.5 0h1m11 0h1m-51.5 .5h1m3.5 0h1m3 0h1m8.5 0h1m-.5 0h1m0 0h1m0 0h1m5.5 0h1m1.5 0h1m4.5 0h1m-.5 0h1m-34.5 .5h1m-.5 0h1m12.5 0h1m2.5 0h1m11.5 0h1m-36.5 .5h1m1.5 0h1m3 0h1m2 0h1m-.5 0h1m-.5 0h1m-.5 0h1m0 0h1m-.5 0h1m4.5 0h1m3.5 0h1m6.5 0h1m4.5 0h1m7 0h1m-51.5 .5h1m8.5 0h1m1.5 0h1m1 0h1m1.5 0h1m7 0h1m14 0h1m1 0h1m1 0h1m-.5 0h1m11 0h1m1.5 0h1m-62 .5h1m2 0h1m8.5 0h1m-.5 0h1m0 0h1m7 0h1m-.5 0h1m3 0h1m5 0h1m21.5 0h1m-46 .5h1m8.5 0h1m.5 0h1m-.5 0h1m5 0h1m11 0h1m11.5 0h1m-46.5 .5h1m12 0h1m1.5 0h1m3 0h1m6 0h1m3.5 0h1m20.5 0h1m-52 .5h1m7 0h1m6 0h1m6 0h1m1.5 0h1m3.5 0h1m0 0h1m2.5 0h1m16 0h1m-46.5 .5h1m0 0h1m19.5 0h1m-21 .5h1m5.5 0h1m3.5 0h1m2.5 0h1m15.5 0h1m-19 .5h1m3.5 0h1m6 0h1m-22 .5h1m2.5 0h1m9.5 0h1m-33 .5h1m5 0h1m2 0h1m15.5 0h1m4 0h1m-11.5 .5h1m22 0h1m-25 .5h1m1 0h1m-10 1h1m2 0h1m.5 0h1m2.5 0h1m6 0h1m-27 .5h1m17 .5h1m2 0h1m-19 1.5h1m11.5 0h1m21 0h1m-16 .5h1m47 .5h1m-68 .5h1m33.5 0h1m-16 2h1m5.5 3h1m2 4.5h1m35 6h1" stroke="#000" stroke-opacity="0.3" fill="none"/>
<path d="M218 157h1m-4 .5h1m1.5 0h1m0 3h1m-4.5 1.5h1m7 0h1m-4.5 .5h1m1.5 0h1m-12.5 1h1m1 0h1m0 .5h1m1 .5h1m-3 .5h1m-.5 0h1m1.5 0h1m7.5 0h1m-7 .5h1m-.5 0h1m-17.5 .5h1m8.5 0h1m3.5 0h1m-4 .5h1m0 1h1m10 0h1m-7.5 .5h1m-6.5 1h1m2.5 .5h1m9 0h1m1 0h1m-13 1h1m0 0h1m2.5 0h1m-8.5 .5h1m2 0h1m5.5 0h1m-7.5 .5h1m11.5 .5h1m11.5 0h1m-31 .5h1m3 0h1m-.5 0h1m-.5 0h1m0 0h1m2.5 0h1m-.5 0h1m-.5 0h1m-10.5 .5h1m0 0h1m3 0h1m-2.5 .5h1m4.5 0h1m2.5 0h1m-15.5 .5h1m-.5 0h1m3 0h1m-.5 0h1m2.5 0h1m2.5 0h1m-12.5 .5h1m2.5 0h1m3.5 0h1m1 0h1m7 0h1m3.5 0h1m-16.5 .5h1m0 0h1m2.5 0h1m1.5 0h1m-10.5 .5h1m3 .5h1m-.5 0h1m-3 .5h1m-13 .5h1m6.5 0h1m7 0h1m0 0h1m-11 .5h1m2.5 0h1m3 0h1m3 0h1m-15 .5h1m5.5 0h1m0 0h1m-7.5 .5h1m9.5 0h1m-.5 0h1m-11.5 1h1m2 0h1m3 0h1m3 .5h1m-14.5 .5h1m10.5 0h1m-.5 .5h1m-7.5 .5h1m.5 .5h1m5 0h1m-12.5 .5h1m5.5 .5h1m.5 0h1m2 0h1m1 0h1m-4 .5h1m-.5 0h1m-2.5 1h1m2 0h1m-3 1h1m.5 0h1m-9 .5h1m1.5 0h1m-10 2.5h1m15.5 0h1m-6 .5h1m-11 1h1m-6 1h1m6 .5h1m5 0h1m3 .5h1m-10 .5h1m3.5 0h1m6.5 0h1m-14 1.5h1m3 0h1m-1 1h1m2 0h1m3.5 0h1m0 0h1m-6.5 .5h1m16.5 0h1m-21.5 .5h1m12 0h1m18 0h1m3.5 0h1m-46.5 .5h1m9 0h1m-2.5 .5h1m6 0h1m3.5 0h1m2 0h1m6.5 0h1m10 0h1m-.5 0h1m-30 .5h1m10.5 0h1m18.5 0h1m-36 .5h1m1 0h1m2 0h1m1.5 0h1m21 0h1m9.5 0h1m-54 .5h1m8 0h1m6.5 0h1m5 0h1m11 0h1m-32 .5h1m1.5 0h1m4 0h1m4 0h1m2.5 0h1m2.5 0h1m4 0h1m4 0h1m-24 .5h1m3.5 0h1m3 0h1m4 0h1m26 0h1m3.5 0h1m4.5 0h1m-54 .5h1m2 0h1m2.5 0h1m3.5 0h1m3 0h1m1 0h1m6.5 0h1m2 0h1m9 0h1m.5 0h1m-48 .5h1m12 0h1m3.5 0h1m2.5 0h1m0 0h1m2.5 0h1m2.5 0h1m6 0h1m-31.5 .5h1m0 0h1m2 0h1m.5 0h1m-.5 0h1m1 0h1m6.5 0h1m2.5 0h1m2 0h1m-.5 0h1m1 0h1m12.5 0h1m7.5 0h1m-51 .5h1m.5 0h1m-.5 0h1m11.5 0h1m2.5 0h1m2 0h1m1 0h1m3.5 0h1m1 0h1m0 0h1m16.5 0h1m-.5 0h1m5.5 0h1m-52.5 .5h1m3.5 0h1m8 0h1m.5 0h1m0 0h1m1.5 0h1m2.5 0h1m14.5 0h1m3 0h1m0 0h1m4.5 0h1m11.5 0h1m-64 .5h1m16.5 0h1m-.5 0h1m1 0h1m1 0h1m-.5 0h1m5.5 0h1m4 0h1m2.5 0h1m1 0h1m8.5 0h1m3.5 0h1m-56.5 .5h1m5 0h1m6 0h1m-.5 0h1m-.5 0h1m0 0h1m3.5 0h1m3.5 0h1m-.5 0h1m18.5 0h1m-.5 0h1m.5 0h1m-40 .5h1m5 0h1m.5 0h1m-.5 0h1m0 0h1m1 0h1m0 0h1m13 0h1m-.5 0h1m0 0h1m0 0h1m2 0h1m-.5 0h1m0 0h1m8 0h1m9 0h1m4 0h1m-67 .5h1m5.5 0h1m3 0h1m.5 0h1m0 0h1m8 0h1m0 0h1m4.5 0h1m4.5 0h1m.5 0h1m1 0h1m4 0h1m-.5 0h1m0 0h1m0 0h1m-.5 0h1m1 0h1m-.5 0h1m1 0h1m1 0h1m3 0h1m1.5 0h1m0 0h1m-.5 0h1m6 0h1m.5 0h1m-62 .5h1m.5 0h1m1.5 0h1m5 0h1m0 0h1m.5 0h1m.5 0h1m10 0h1m0 0h1m3 0h1m5.5 0h1m7 0h1m15 0h1m-59.5 .5h1m2 0h1m4.5 0h1m9.5 0h1m4 0h1m5 0h1m5.5 0h1m.5 0h1m-.5 0h1m.5 0h1m1.5 0h1m.5 0h1m.5 0h1m1 0h1m1.5 0h1m-54 .5h1m1.5 0h1m3 0h1m2 0h1m7.5 0h1m2.5 0h1m-.5 0h1m5.5 0h1m1.5 0h1m.5 0h1m-.5 0h1m0 0h1m4 0h1m11.5 0h1m-45 .5h1m-.5 0h1m0 0h1m1.5 0h1m.5 0h1m0 0h1m6 0h1m-.5 0h1m12 0h1m.5 0h1m0 0h1m-.5 0h1m1 0h1m7.5 0h1m2.5 0h1m1.5 0h1m-46 .5h1m-.5 0h1m0 0h1m0 0h1m0 0h1m1.5 0h1m-.5 0h1m.5 0h1m3 0h1m4.5 0h1m1 0h1m4 0h1m7 0h1m7.5 0h1m-48.5 .5h1m.5 0h1m2 0h1m1.5 0h1m2 0h1m1 0h1m-.5 0h1m-.5 0h1m-.5 0h1m-.5 0h1m7 0h1m5 0h1m.5 0h1m0 0h1m0 0h1m-.5 0h1m-.5 0h1m10.5 0h1m4.5 0h1m12 0h1m-75 .5h1m5 0h1m7 0h1m.5 0h1m2.5 0h1m-.5 0h1m0 0h1m.5 0h1m2 0h1m3.5 0h1m8 0h1m0 0h1m7.5 0h1m11.5 0h1m10 0h1m-59 .5h1m-.5 0h1m.5 0h1m.5 0h1m0 0h1m-.5 0h1m0 0h1m.5 0h1m-.5 0h1m2.5 0h1m4.5 0h1m.5 0h1m2.5 0h1m10 0h1m2.5 0h1m2.5 0h1m-.5 0h1m0 0h1m6 0h1m4 0h1m-54 .5h1m2 0h1m5.5 0h1m1.5 0h1m.5 0h1m-.5 0h1m.5 0h1m-.5 0h1m.5 0h1m3.5 0h1m1 0h1m3 0h1m.5 0h1m.5 0h1m.5 0h1m3 0h1m4.5 0h1m1 0h1m-56 .5h1m5.5 0h1m5 0h1m1 0h1m3 0h1m1 0h1m1 0h1m6 0h1m-.5 0h1m8 0h1m11.5 0h1m2.5 0h1m2.5 0h1m1.5 0h1m-59.5 .5h1m1.5 0h1m0 0h1m2.5 0h1m5.5 0h1m.5 0h1m1 0h1m.5 0h1m18.5 0h1m6 0h1m-43 .5h1m0 0h1m9 0h1m0 0h1m.5 0h1m8.5 0h1m2.5 0h1m2 0h1m1.5 0h1m6 0h1m2 0h1m7.5 0h1m-54 .5h1m14.5 0h1m-.5 0h1m1.5 0h1m6.5 0h1m2 0h1m3.5 0h1m17 0h1m-48.5 .5h1m0 0h1m8.5 0h1m6.5 0h1m0 0h1m6 0h1m4.5 0h1m5.5 0h1m15 0h1m-64 .5h1m12 0h1m1 0h1m5 0h1m0 0h1m1 0h1m25 0h1m-.5 0h1m13.5 0h1m-63.5 .5h1m3.5 0h1m6 0h1m2 0h1m1 0h1m17.5 0h1m8.5 0h1m9.5 0h1m-47 .5h1m4 0h1m1 0h1m5.5 0h1m2.5 0h1m-26 .5h1m12.5 0h1m7.5 0h1m-.5 0h1m27 0h1m-42 .5h1m3 0h1m-.5 0h1m-.5 0h1m2 0h1m28.5 0h1m-36.5 .5h1m1 0h1m-4.5 .5h1m5.5 0h1m-20.5 .5h1m-.5 0h1m19.5 0h1m2.5 0h1m.5 0h1m-21.5 .5h1m1.5 0h1m8.5 0h1m-.5 0h1m2 0h1m0 .5h1m2.5 0h1m-22 .5h1m10.5 0h1m7.5 0h1m-.5 0h1m-.5 0h1m0 0h1m-17.5 .5h1m-4.5 .5h1m8.5 0h1m5 .5h1m20.5 1h1m-28 1h1m5.5 0h1m4.5 0h1m-13 .5h1m3.5 .5h1m-23 .5h1m31 0h1m-21 2.5h1m12.5 1h1m18.5 .5h1m-11.5 5.5h1" stroke="#000" stroke-opacity="0.3" fill="none"/>
<path d="M198.60 242.90V154.20H286.80V242.90H213.70" fill="none" stroke="#1a1a1a" stroke-width="1.2"/>
<line x1="231.50" y1="153.60" x2="231.50" y2="243.50" stroke="#1a1a1a" stroke-width="1.1"/>
<line x1="198.00" y1="188.00" x2="287.40" y2="188.00" stroke="#1a1a1a" stroke-width="1.1"/>
<text x="199.80" y="162.20" font-size="8.4" text-anchor="start" font-weight="normal" font-style="normal" fill="#1a1a1a" >10.6</text>
<text x="284.00" y="162.20" font-size="8.4" text-anchor="end" font-weight="normal" font-style="normal" fill="#1a1a1a" >0.18</text>
<text x="199.80" y="239.90" font-size="8.4" text-anchor="start" font-weight="normal" font-style="normal" fill="#1a1a1a" >58.9</text>
<text x="284.00" y="239.90" font-size="8.4" text-anchor="end" font-weight="normal" font-style="normal" fill="#1a1a1a" >30.3</text>
<line x1="196.00" y1="162.20" x2="198.50" y2="162.20" stroke="#222" stroke-width="1.1"/>
<text x="191.80" y="164.80" font-size="7.0" text-anchor="end" fill="#222">10<tspan dy="-2.8" font-size="5.04">5</tspan></text>
<line x1="196.00" y1="182.80" x2="198.50" y2="182.80" stroke="#222" stroke-width="1.1"/>
<text x="191.80" y="185.40" font-size="7.0" text-anchor="end" fill="#222">10<tspan dy="-2.8" font-size="5.04">4</tspan></text>
<line x1="196.00" y1="202.60" x2="198.50" y2="202.60" stroke="#222" stroke-width="1.1"/>
<text x="191.80" y="205.20" font-size="7.0" text-anchor="end" fill="#222">10<tspan dy="-2.8" font-size="5.04">3</tspan></text>
<line x1="196.00" y1="223.20" x2="198.50" y2="223.20" stroke="#222" stroke-width="1.1"/>
<text x="191.80" y="225.80" font-size="7.0" text-anchor="end" fill="#222">10<tspan dy="-2.8" font-size="5.04">2</tspan></text>
<line x1="196.00" y1="237.40" x2="198.50" y2="237.40" stroke="#222" stroke-width="1.1"/>
<text x="192.50" y="240.00" font-size="7.0" text-anchor="end" fill="#222">0</text>
<line x1="196.70" y1="168.38" x2="198.50" y2="168.38" stroke="#333" stroke-width="0.8"/>
<line x1="196.70" y1="172.91" x2="198.50" y2="172.91" stroke="#333" stroke-width="0.8"/>
<line x1="196.70" y1="176.62" x2="198.50" y2="176.62" stroke="#333" stroke-width="0.8"/>
<line x1="196.70" y1="188.74" x2="198.50" y2="188.74" stroke="#333" stroke-width="0.8"/>
<line x1="196.70" y1="193.10" x2="198.50" y2="193.10" stroke="#333" stroke-width="0.8"/>
<line x1="196.70" y1="196.66" x2="198.50" y2="196.66" stroke="#333" stroke-width="0.8"/>
<line x1="196.70" y1="208.78" x2="198.50" y2="208.78" stroke="#333" stroke-width="0.8"/>
<line x1="196.70" y1="213.31" x2="198.50" y2="213.31" stroke="#333" stroke-width="0.8"/>
<line x1="196.70" y1="217.02" x2="198.50" y2="217.02" stroke="#333" stroke-width="0.8"/>
<line x1="196.70" y1="227.46" x2="198.50" y2="227.46" stroke="#333" stroke-width="0.8"/>
<line x1="196.70" y1="230.58" x2="198.50" y2="230.58" stroke="#333" stroke-width="0.8"/>
<line x1="196.70" y1="233.14" x2="198.50" y2="233.14" stroke="#333" stroke-width="0.8"/>
<line x1="216.60" y1="243.00" x2="216.60" y2="245.50" stroke="#222" stroke-width="1.1"/>
<text x="216.60" y="257.00" font-size="7.0" text-anchor="middle" fill="#222">0</text>
<line x1="231.50" y1="243.00" x2="231.50" y2="245.50" stroke="#222" stroke-width="1.1"/>
<text x="232.70" y="257.00" font-size="7.0" text-anchor="middle" fill="#222">10<tspan dy="-2.8" font-size="5.04">3</tspan></text>
<line x1="255.20" y1="243.00" x2="255.20" y2="245.50" stroke="#222" stroke-width="1.1"/>
<text x="256.40" y="257.00" font-size="7.0" text-anchor="middle" fill="#222">10<tspan dy="-2.8" font-size="5.04">4</tspan></text>
<line x1="275.60" y1="243.00" x2="275.60" y2="245.50" stroke="#222" stroke-width="1.1"/>
<text x="276.80" y="257.00" font-size="7.0" text-anchor="middle" fill="#222">10<tspan dy="-2.8" font-size="5.04">5</tspan></text>
<line x1="221.07" y1="243.00" x2="221.07" y2="245.00" stroke="#333" stroke-width="0.8"/>
<line x1="224.35" y1="243.00" x2="224.35" y2="245.00" stroke="#333" stroke-width="0.8"/>
<line x1="227.03" y1="243.00" x2="227.03" y2="245.00" stroke="#333" stroke-width="0.8"/>
<line x1="229.26" y1="243.00" x2="229.26" y2="245.00" stroke="#333" stroke-width="0.8"/>
<line x1="238.61" y1="243.00" x2="238.61" y2="245.00" stroke="#333" stroke-width="0.8"/>
<line x1="243.82" y1="243.00" x2="243.82" y2="245.00" stroke="#333" stroke-width="0.8"/>
<line x1="248.09" y1="243.00" x2="248.09" y2="245.00" stroke="#333" stroke-width="0.8"/>
<line x1="251.64" y1="243.00" x2="251.64" y2="245.00" stroke="#333" stroke-width="0.8"/>
<line x1="261.32" y1="243.00" x2="261.32" y2="245.00" stroke="#333" stroke-width="0.8"/>
<line x1="265.81" y1="243.00" x2="265.81" y2="245.00" stroke="#333" stroke-width="0.8"/>
<line x1="269.48" y1="243.00" x2="269.48" y2="245.00" stroke="#333" stroke-width="0.8"/>
<line x1="272.54" y1="243.00" x2="272.54" y2="245.00" stroke="#333" stroke-width="0.8"/>
<ellipse cx="219.5" cy="315.5" rx="13" ry="8.5" fill="url(#core)" opacity="1.0"/>
<ellipse cx="253" cy="314.5" rx="12" ry="6.5" fill="url(#core)" opacity="1.0"/>
<ellipse cx="237" cy="314" rx="8" ry="3.5" fill="url(#core)" opacity="0.4"/>
<ellipse cx="218" cy="285" rx="8" ry="14" fill="url(#core)" opacity="0.12"/>
<path d="M212 268h1m4 1h1m4 0h1m5 0h1m-16.5 .5h1m10 0h1m-14 1h1m-3 .5h1m1.5 0h1m-.5 .5h1m3.5 0h1m-7.5 .5h1m0 0h1m13 .5h1m-8 1h1m1 .5h1m-12 .5h1m20.5 0h1m-9 .5h1m-11.5 .5h1m9 .5h1m-9.5 .5h1m9 0h1m-4.5 .5h1m7 0h1m-7.5 .5h1m-12.5 .5h1m12 .5h1m.5 0h1m.5 0h1m-7 .5h1m1 0h1m1 0h1m-8.5 .5h1m-5.5 .5h1m6.5 0h1m-6.5 .5h1m8.5 0h1m-4 .5h1m4 0h1m-4.5 .5h1m0 .5h1m1.5 0h1m1 0h1m-10.5 .5h1m-3.5 .5h1m-4.5 .5h1m-7 .5h1m14.5 0h1m1 0h1m-18 .5h1m8 0h1m2.5 0h1m2 0h1m24 0h1m-33.5 .5h1m8.5 0h1m-7.5 1h1m7 0h1m-5.5 .5h1m-18 .5h1m19 0h1m-4 1h1m-5 .5h1m6 0h1m3.5 0h1m-.5 0h1m-24.5 1h1m6 1h1m4 1h1m9 0h1m-16.5 .5h1m3.5 0h1m4.5 1h1m-12.5 .5h1m10 0h1m-9.5 .5h1m6 0h1m1.5 0h1m-10.5 .5h1m10.5 0h1m-8 .5h1m3 0h1m1 0h1m-12 .5h1m8.5 .5h1m-6 .5h1m2.5 0h1m-4 .5h1m7 0h1m26 0h1m-46.5 .5h1m0 0h1m3 .5h1m18 0h1m-11 .5h1m6 0h1m-7.5 .5h1m-11 1h1m12 .5h1m-11.5 2h1m8 .5h1m17 .5h1m-27.5 1h1m3.5 0h1m-.5 .5h1m-2.5 .5h1m6.5 0h1m33 0h1m-45 .5h1m2.5 0h1m3.5 0h1m-.5 0h1m4.5 0h1m-3 .5h1m8 0h1m-11.5 .5h1m12 0h1m16.5 0h1m-21.5 .5h1m9.5 0h1m-38.5 .5h1m5.5 0h1m-.5 0h1m8 0h1m2 0h1m24.5 0h1m2.5 0h1m-48.5 .5h1m22.5 0h1m6 0h1m0 0h1m9.5 0h1m0 0h1m1 0h1m1.5 0h1m-48 .5h1m5.5 0h1m3.5 0h1m9 0h1m18.5 0h1m5 0h1m-43 .5h1m2 0h1m1.5 0h1m18.5 0h1m5.5 0h1m11 0h1m4.5 0h1m-54 .5h1m2.5 0h1m0 0h1m1.5 0h1m1 0h1m1 0h1m2 0h1m1 0h1m15.5 0h1m1 0h1m13 0h1m-54.5 .5h1m7 0h1m.5 0h1m1.5 0h1m-.5 0h1m.5 0h1m2 0h1m-.5 0h1m0 0h1m1.5 0h1m1 0h1m-.5 0h1m12 0h1m1.5 0h1m3.5 0h1m4 0h1m-43.5 .5h1m11.5 0h1m1 0h1m0 0h1m-.5 0h1m4.5 0h1m4 0h1m2.5 0h1m1 0h1m1.5 0h1m4 0h1m8 0h1m-58 .5h1m1 0h1m3.5 0h1m10 0h1m3 0h1m-.5 0h1m2 0h1m0 0h1m-.5 0h1m2.5 0h1m4.5 0h1m4.5 0h1m4 0h1m0 0h1m5 0h1m4 0h1m-54 .5h1m10 0h1m0 0h1m.5 0h1m5.5 0h1m0 0h1m3.5 0h1m.5 0h1m8 0h1m0 0h1m-.5 0h1m4 0h1m.5 0h1m16 0h1m-63 .5h1m5.5 0h1m.5 0h1m1.5 0h1m1 0h1m0 0h1m1 0h1m1 0h1m4.5 0h1m-.5 0h1m-.5 0h1m-.5 0h1m-.5 0h1m0 0h1m.5 0h1m0 0h1m1.5 0h1m14 0h1m0 0h1m-.5 0h1m2.5 0h1m-.5 0h1m7.5 0h1m-61 .5h1m8 0h1m5 0h1m6.5 0h1m-.5 0h1m4 0h1m2 0h1m1.5 0h1m7.5 0h1m.5 0h1m0 0h1m-.5 0h1m4.5 0h1m3 0h1m-47.5 .5h1m1 0h1m4 0h1m1.5 0h1m-.5 0h1m0 0h1m-.5 0h1m-.5 0h1m-.5 0h1m0 0h1m4.5 0h1m4.5 0h1m.5 0h1m3.5 0h1m2 0h1m0 0h1m1 0h1m-.5 0h1m1 0h1m7 0h1m7.5 0h1m-63.5 .5h1m2 0h1m.5 0h1m0 0h1m1 0h1m2 0h1m0 0h1m2 0h1m.5 0h1m.5 0h1m3 0h1m-.5 0h1m.5 0h1m2 0h1m1.5 0h1m8 0h1m6.5 0h1m3.5 0h1m.5 0h1m1 0h1m-57.5 .5h1m4 0h1m1.5 0h1m0 0h1m2 0h1m10.5 0h1m1 0h1m8 0h1m1 0h1m6 0h1m5.5 0h1m1 0h1m9 0h1m-60.5 .5h1m.5 0h1m.5 0h1m2.5 0h1m-.5 0h1m-.5 0h1m.5 0h1m1 0h1m1.5 0h1m2 0h1m2.5 0h1m-.5 0h1m2 0h1m-.5 0h1m1 0h1m1 0h1m3 0h1m-.5 0h1m.5 0h1m.5 0h1m3.5 0h1m12 0h1m-.5 0h1m1 0h1m3.5 0h1m-48.5 .5h1m0 0h1m1.5 0h1m.5 0h1m.5 0h1m5.5 0h1m-.5 0h1m1.5 0h1m10 0h1m.5 0h1m0 0h1m3.5 0h1m0 0h1m1.5 0h1m6.5 0h1m-53.5 .5h1m1 0h1m2 0h1m0 0h1m-.5 0h1m0 0h1m-.5 0h1m-.5 0h1m5.5 0h1m3.5 0h1m-.5 0h1m6.5 0h1m4 0h1m1.5 0h1m0 0h1m7 0h1m2 0h1m5.5 0h1m-62 .5h1m8.5 0h1m0 0h1m1 0h1m3 0h1m2 0h1m-.5 0h1m-.5 0h1m4 0h1m15 0h1m7 0h1m0 0h1m-.5 0h1m0 0h1m2.5 0h1m1.5 0h1m-57.5 .5h1m.5 0h1m2.5 0h1m-.5 0h1m4.5 0h1m1 0h1m-.5 0h1m2 0h1m15 0h1m1 0h1m1.5 0h1m-.5 0h1m2.5 0h1m0 0h1m3 0h1m-.5 0h1m1 0h1m3.5 0h1m5.5 0h1m0 0h1m-59.5 .5h1m9 0h1m0 0h1m-.5 0h1m2 0h1m0 0h1m17 0h1m12 0h1m4.5 0h1m-40.5 .5h1m0 0h1m-.5 0h1m2 0h1m0 0h1m.5 0h1m5.5 0h1m2.5 0h1m6.5 0h1m1 0h1m0 0h1m4.5 0h1m3.5 0h1m5 0h1m5.5 0h1m-70 .5h1m5 0h1m2.5 0h1m4.5 0h1m1 0h1m0 0h1m0 0h1m1 0h1m0 0h1m2.5 0h1m-.5 0h1m3 0h1m8 0h1m6.5 0h1m4.5 0h1m6.5 0h1m5 0h1m-65 .5h1m8 0h1m1 0h1m4 0h1m1.5 0h1m1 0h1m-.5 0h1m-.5 0h1m.5 0h1m2.5 0h1m6 0h1m5.5 0h1m6.5 0h1m0 0h1m.5 0h1m.5 0h1m-.5 0h1m-52 .5h1m5 0h1m3 0h1m1.5 0h1m5 0h1m1.5 0h1m.5 0h1m11 0h1m14 0h1m1 0h1m-44 .5h1m4 0h1m-.5 0h1m6.5 0h1m.5 0h1m1.5 0h1m0 0h1m1 0h1m8 0h1m1.5 0h1m10 0h1m-51.5 .5h1m3 0h1m4 0h1m7 0h1m3.5 0h1m3.5 0h1m-.5 0h1m3.5 0h1m1.5 0h1m-.5 0h1m5.5 0h1m-34.5 .5h1m4 0h1m12 0h1m2.5 0h1m11.5 0h1m18 0h1m-65 .5h1m11.5 0h1m8 0h1m1 0h1m6.5 0h1m0 0h1m18 0h1m-49.5 .5h1m9 0h1m20 0h1m.5 0h1m1 0h1m27 0h1m-62.5 .5h1m9.5 0h1m2.5 0h1m11.5 0h1m17.5 0h1m12 0h1m-49 .5h1m2 0h1m2 0h1m-.5 0h1m2 0h1m1 0h1m7 0h1m-22.5 .5h1m4 0h1m.5 0h1m20.5 0h1m-26.5 .5h1m8.5 0h1m1.5 0h1m-11.5 .5h1m0 0h1m1 0h1m6 0h1m-13 .5h1m8.5 0h1m1.5 0h1m-4 .5h1m11.5 .5h1m-18.5 .5h1m1 0h1m.5 0h1m0 0h1m1.5 0h1m-6.5 1h1m-5 .5h1m17 1h1m3 0h1m0 .5h1m-29 .5h1m8 1.5h1m-2.5 4.5h1m27 0h1m-8 12h1" stroke="#000" stroke-opacity="0.3" fill="none"/>
<path d="M206 266h1m12 0h1m-9.5 2.5h1m6 .5h1m3 0h1m-6 .5h1m4 0h1m-3.5 1h1m-9.5 .5h1m6.5 0h1m-.5 1.5h1m-8 1h1m1.5 1h1m1.5 1.5h1m5.5 .5h1m-5.5 1h1m0 0h1m.5 0h1m-18.5 .5h1m13 0h1m1.5 0h1m0 0h1m0 0h1m-8.5 .5h1m-1.5 .5h1m0 0h1m5 0h1m3 0h1m6 0h1m-25 .5h1m1.5 0h1m3.5 .5h1m2 0h1m3 0h1m-12 .5h1m4.5 0h1m.5 0h1m-10 .5h1m4.5 0h1m-9 .5h1m18.5 0h1m-5.5 .5h1m.5 0h1m-13 .5h1m1 0h1m0 0h1m-4 .5h1m7 0h1m7.5 0h1m-8 .5h1m-4 .5h1m2 .5h1m-11 .5h1m7 0h1m.5 0h1m9.5 0h1m-21.5 .5h1m1 0h1m8 0h1m-19.5 .5h1m4.5 0h1m5.5 .5h1m8 0h1m-4.5 1h1m-1 .5h1m1.5 0h1m1.5 0h1m.5 0h1m-4 .5h1m6 0h1m-23.5 .5h1m2 0h1m-.5 0h1m2.5 0h1m0 0h1m5 0h1m3.5 0h1m-6.5 1h1m-3.5 .5h1m3.5 .5h1m-7.5 .5h1m6 0h1m7.5 0h1m-15 .5h1m3 0h1m-14 1h1m2.5 0h1m13 .5h1m-20.5 .5h1m11 0h1m1 0h1m2 0h1m-17.5 .5h1m3 0h1m9 0h1m-10 .5h1m1 .5h1m4.5 1h1m7 0h1m-6.5 .5h1m-22 .5h1m11 2.5h1m7.5 0h1m-9 .5h1m5.5 0h1m-8 .5h1m3 0h1m34.5 .5h1m-36.5 .5h1m2 0h1m1.5 .5h1m1 1h1m16 0h1m-28.5 1h1m8.5 0h1m-12.5 .5h1m37 0h1m-38.5 .5h1m4 0h1m-11.5 .5h1m7 0h1m0 0h1m.5 0h1m7 0h1m32 0h1m-30 .5h1m5 0h1m-30 .5h1m22 0h1m24 0h1m-52 .5h1m18.5 0h1m3 0h1m-.5 0h1m20.5 0h1m.5 0h1m12 0h1m-60 .5h1m1.5 0h1m-.5 0h1m1 0h1m1.5 0h1m1.5 0h1m31.5 0h1m-45 .5h1m6 0h1m1.5 0h1m0 0h1m3 0h1m.5 0h1m3 0h1m3.5 0h1m11 0h1m18 0h1m2 0h1m-47.5 .5h1m2.5 0h1m2.5 0h1m1.5 0h1m7 0h1m0 0h1m2 0h1m2.5 0h1m1.5 0h1m7 0h1m-38 .5h1m2 0h1m5 0h1m0 0h1m3 0h1m0 0h1m4.5 0h1m2 0h1m3.5 0h1m3 0h1m-36 .5h1m6.5 0h1m2.5 0h1m-.5 0h1m2.5 0h1m-.5 0h1m1.5 0h1m1 0h1m12.5 0h1m-.5 0h1m9 0h1m-.5 0h1m0 0h1m2.5 0h1m4 0h1m-49.5 .5h1m5 0h1m.5 0h1m0 0h1m13.5 0h1m-.5 0h1m4 0h1m6.5 0h1m4.5 0h1m-.5 0h1m11 0h1m-60 .5h1m1 0h1m.5 0h1m1 0h1m.5 0h1m1 0h1m-.5 0h1m2 0h1m-.5 0h1m.5 0h1m1.5 0h1m6.5 0h1m-.5 0h1m2 0h1m7.5 0h1m5 0h1m7 0h1m-51.5 .5h1m3.5 0h1m1 0h1m1 0h1m1.5 0h1m5 0h1m8.5 0h1m1 0h1m3.5 0h1m1.5 0h1m-30.5 .5h1m2.5 0h1m-.5 0h1m2 0h1m17 0h1m7 0h1m1 0h1m6 0h1m3 0h1m-50.5 .5h1m1 0h1m1 0h1m-.5 0h1m-.5 0h1m1 0h1m.5 0h1m-.5 0h1m0 0h1m-.5 0h1m9.5 0h1m3.5 0h1m10.5 0h1m3 0h1m2 0h1m4.5 0h1m-58.5 .5h1m2.5 0h1m3 0h1m-.5 0h1m0 0h1m0 0h1m-.5 0h1m-.5 0h1m0 0h1m2.5 0h1m3 0h1m2 0h1m-.5 0h1m4.5 0h1m5 0h1m3 0h1m0 0h1m-.5 0h1m0 0h1m2 0h1m1 0h1m13.5 0h1m-56 .5h1m2.5 0h1m2 0h1m1 0h1m7 0h1m2 0h1m.5 0h1m.5 0h1m4.5 0h1m11 0h1m0 0h1m3.5 0h1m-52.5 .5h1m3.5 0h1m-.5 0h1m2.5 0h1m-.5 0h1m-.5 0h1m.5 0h1m3 0h1m-.5 0h1m20 0h1m0 0h1m.5 0h1m3 0h1m5.5 0h1m2.5 0h1m0 0h1m2 0h1m2 0h1m-58 .5h1m2.5 0h1m3.5 0h1m1 0h1m1.5 0h1m0 0h1m3 0h1m2 0h1m1.5 0h1m3.5 0h1m3 0h1m-.5 0h1m0 0h1m1 0h1m0 0h1m4 0h1m2.5 0h1m1.5 0h1m0 0h1m4.5 0h1m-57 .5h1m8 0h1m1.5 0h1m1.5 0h1m2 0h1m-.5 0h1m-.5 0h1m5.5 0h1m5.5 0h1m2.5 0h1m3 0h1m0 0h1m6.5 0h1m-.5 0h1m.5 0h1m0 0h1m-45.5 .5h1m1.5 0h1m-.5 0h1m0 0h1m0 0h1m0 0h1m3.5 0h1m0 0h1m4.5 0h1m-.5 0h1m2 0h1m2 0h1m4.5 0h1m2 0h1m2 0h1m3.5 0h1m1 0h1m1 0h1m-56 .5h1m15.5 0h1m1.5 0h1m2.5 0h1m.5 0h1m7 0h1m-.5 0h1m-.5 0h1m0 0h1m.5 0h1m2.5 0h1m6.5 0h1m.5 0h1m.5 0h1m1.5 0h1m4.5 0h1m-51 .5h1m3.5 0h1m3 0h1m1 0h1m1.5 0h1m.5 0h1m0 0h1m8.5 0h1m8 0h1m4 0h1m-.5 0h1m7 0h1m-.5 0h1m-56.5 .5h1m6 0h1m3.5 0h1m5.5 0h1m6.5 0h1m2 0h1m17.5 0h1m-41 .5h1m2.5 0h1m0 0h1m1.5 0h1m.5 0h1m0 0h1m1 0h1m.5 0h1m4 0h1m.5 0h1m9 0h1m-.5 0h1m.5 0h1m-.5 0h1m3 0h1m-.5 0h1m0 0h1m2 0h1m2.5 0h1m-47.5 .5h1m9 0h1m2 0h1m2.5 0h1m0 0h1m2 0h1m31.5 0h1m1 0h1m-.5 0h1m-.5 0h1m-54.5 .5h1m.5 0h1m0 0h1m.5 0h1m2 0h1m3.5 0h1m-.5 0h1m1.5 0h1m1.5 0h1m.5 0h1m3.5 0h1m0 0h1m-.5 0h1m7 0h1m10.5 0h1m-48 .5h1m3.5 0h1m6 0h1m-.5 0h1m0 0h1m-.5 0h1m3.5 0h1m2.5 0h1m-.5 0h1m5 0h1m11 0h1m-.5 0h1m2 0h1m1 0h1m4.5 0h1m3 0h1m-46.5 .5h1m-.5 0h1m1.5 0h1m2.5 0h1m-.5 0h1m2.5 0h1m0 0h1m1 0h1m23.5 0h1m3.5 0h1m5.5 0h1m-45 .5h1m3.5 0h1m3.5 0h1m26 0h1m0 0h1m5.5 0h1m1 0h1m8 0h1m-56.5 .5h1m3 0h1m-.5 0h1m6 0h1m18 0h1m6.5 0h1m6 0h1m-60 .5h1m14.5 0h1m4.5 0h1m9.5 0h1m11.5 0h1m12.5 0h1m-50 .5h1m.5 0h1m1.5 0h1m.5 0h1m2 0h1m9 0h1m1 0h1m11 0h1m9 0h1m-55 .5h1m5.5 0h1m4.5 0h1m1.5 0h1m3.5 0h1m14.5 0h1m3 0h1m15 0h1m-47 .5h1m8 0h1m.5 0h1m6 0h1m1.5 0h1m.5 0h1m-20.5 .5h1m10.5 0h1m4 0h1m-.5 0h1m-18.5 .5h1m5.5 0h1m8.5 0h1m-21.5 .5h1m4 0h1m16.5 0h1m13.5 0h1m5 0h1m-31.5 .5h1m7.5 0h1m6 0h1m-34 .5h1m8.5 0h1m10.5 0h1m.5 0h1m3 0h1m6.5 0h1m-8 .5h1m-23.5 .5h1m1 0h1m12 0h1m-.5 0h1m1 0h1m3.5 0h1m4.5 0h1m3 0h1m-27 .5h1m28.5 0h1m-26.5 2.5h1m1 0h1m3.5 .5h1m4 0h1m-6.5 .5h1m-3 1h1m15 .5h1m3.5 2.5h1m-6 4h1" stroke="#000" stroke-opacity="0.3" fill="none"/>
<path d="M219 267.5h1m-1.5 1h1m-7.5 2h1m-.5 0h1m9 1h1m-11 .5h1m1.5 0h1m12 0h1m-14 .5h1m9 0h1m-19.5 .5h1m8 0h1m7.5 0h1m-10.5 .5h1m-.5 .5h1m3 .5h1m1 .5h1m-14.5 .5h1m10 0h1m3.5 0h1m-13.5 .5h1m1.5 0h1m-1 .5h1m11.5 0h1m-9.5 .5h1m3 0h1m-6.5 .5h1m-1 .5h1m7.5 0h1m1 0h1m40.5 0h1m-61.5 .5h1m11.5 0h1m-3.5 .5h1m1.5 0h1m6 0h1m29 .5h1m-42.5 .5h1m10.5 0h1m-12 .5h1m6.5 0h1m10.5 0h1m-11.5 .5h1m10.5 0h1m-12.5 .5h1m-20 .5h1m9 0h1m2.5 0h1m.5 0h1m2.5 0h1m8 0h1m-18.5 .5h1m1 0h1m1 0h1m5.5 0h1m-4 1h1m-7.5 .5h1m-6 .5h1m7.5 0h1m2.5 0h1m0 0h1m5 0h1m-13.5 .5h1m3 0h1m6 0h1m-9.5 .5h1m-14.5 .5h1m6.5 0h1m-.5 0h1m6.5 0h1m0 0h1m10 0h1m-29.5 .5h1m4 0h1m4.5 0h1m-.5 0h1m5.5 0h1m29.5 0h1m-38 .5h1m2.5 0h1m3.5 0h1m-5 .5h1m-1 .5h1m3 0h1m-16.5 .5h1m1 0h1m8.5 0h1m.5 0h1m-18 1h1m4 0h1m3 0h1m0 0h1m6 0h1m-5.5 .5h1m-4 1h1m2.5 0h1m.5 0h1m-7.5 1h1m7 0h1m29 .5h1m-36.5 1h1m0 0h1m1 0h1m-.5 0h1m-.5 0h1m6 0h1m-7 .5h1m3 0h1m-4 1h1m-14.5 .5h1m7 0h1m6.5 0h1m-.5 0h1m-11 1h1m1.5 0h1m10 0h1m48.5 0h1m-59 1.5h1m16.5 1h1m-22.5 .5h1m57.5 0h1m-50 .5h1m-9.5 1.5h1m-.5 0h1m9.5 0h1m-5 .5h1m10.5 0h1m-28 .5h1m17 .5h1m-2.5 .5h1m-11 .5h1m-1 .5h1m2 .5h1m.5 1h1m3 0h1m-20 .5h1m17.5 0h1m5.5 0h1m1 0h1m1.5 0h1m3 0h1m5 0h1m12.5 0h1m7 0h1m-63 .5h1m3.5 0h1m4 0h1m5 0h1m-7.5 .5h1m15.5 0h1m6.5 0h1m0 0h1m5.5 0h1m6.5 0h1m-32 .5h1m16 0h1m5 0h1m1.5 0h1m0 0h1m7.5 0h1m-29.5 .5h1m0 0h1m1 0h1m17.5 0h1m-33 .5h1m2 0h1m5.5 0h1m14.5 0h1m8 0h1m3.5 0h1m-41.5 .5h1m5.5 0h1m1.5 0h1m27.5 0h1m3 0h1m8.5 0h1m-60.5 .5h1m5.5 0h1m0 0h1m3.5 0h1m-.5 0h1m0 0h1m2 0h1m.5 0h1m0 0h1m11 0h1m7 0h1m-.5 0h1m3 0h1m2 0h1m2 0h1m2.5 0h1m-51 .5h1m4 0h1m-.5 0h1m1 0h1m1.5 0h1m5 0h1m1 0h1m4 0h1m1 0h1m-.5 0h1m3.5 0h1m-.5 0h1m1 0h1m0 0h1m6 0h1m.5 0h1m10 0h1m-54 .5h1m-.5 0h1m8 0h1m.5 0h1m3 0h1m-.5 0h1m5 0h1m9 0h1m2 0h1m4 0h1m3 0h1m9.5 0h1m-55 .5h1m3 0h1m1 0h1m3.5 0h1m0 0h1m3.5 0h1m.5 0h1m2 0h1m0 0h1m3.5 0h1m7 0h1m0 0h1m4.5 0h1m3.5 0h1m6.5 0h1m3 0h1m-49.5 .5h1m.5 0h1m3.5 0h1m0 0h1m1 0h1m.5 0h1m8 0h1m0 0h1m9 0h1m-.5 0h1m4.5 0h1m1 0h1m0 0h1m2 0h1m4 0h1m2.5 0h1m-58.5 .5h1m0 0h1m1.5 0h1m-.5 0h1m1 0h1m4 0h1m12 0h1m6 0h1m0 0h1m11.5 0h1m1.5 0h1m2 0h1m.5 0h1m1.5 0h1m-61 .5h1m4.5 0h1m-.5 0h1m6.5 0h1m-.5 0h1m2 0h1m3 0h1m.5 0h1m0 0h1m.5 0h1m3 0h1m-.5 0h1m5 0h1m-.5 0h1m.5 0h1m3.5 0h1m-.5 0h1m3 0h1m4 0h1m0 0h1m0 0h1m-.5 0h1m0 0h1m-.5 0h1m1 0h1m4.5 0h1m-64 .5h1m5.5 0h1m1.5 0h1m.5 0h1m-.5 0h1m-.5 0h1m.5 0h1m1 0h1m12 0h1m4.5 0h1m4.5 0h1m0 0h1m-.5 0h1m3 0h1m5 0h1m1 0h1m0 0h1m5.5 0h1m-54.5 .5h1m-.5 0h1m2 0h1m.5 0h1m1.5 0h1m4.5 0h1m3.5 0h1m.5 0h1m-.5 0h1m.5 0h1m2.5 0h1m-.5 0h1m1 0h1m1 0h1m5 0h1m3.5 0h1m0 0h1m10 0h1m-60.5 .5h1m4.5 0h1m5 0h1m0 0h1m-.5 0h1m3 0h1m1.5 0h1m0 0h1m1 0h1m4 0h1m.5 0h1m5.5 0h1m4 0h1m0 0h1m0 0h1m2 0h1m-.5 0h1m0 0h1m0 0h1m0 0h1m4 0h1m4 0h1m-57 .5h1m4 0h1m3.5 0h1m2.5 0h1m-.5 0h1m0 0h1m1 0h1m0 0h1m.5 0h1m-.5 0h1m0 0h1m-.5 0h1m0 0h1m3.5 0h1m-.5 0h1m7 0h1m1.5 0h1m3 0h1m.5 0h1m2.5 0h1m0 0h1m3 0h1m2 0h1m0 0h1m-51 .5h1m0 0h1m3 0h1m1 0h1m-.5 0h1m1.5 0h1m-.5 0h1m-.5 0h1m3.5 0h1m0 0h1m5.5 0h1m2 0h1m3.5 0h1m6.5 0h1m4.5 0h1m1.5 0h1m-45 .5h1m.5 0h1m4.5 0h1m3 0h1m4.5 0h1m0 0h1m3.5 0h1m2.5 0h1m6 0h1m4 0h1m6.5 0h1m6 0h1m-59.5 .5h1m6 0h1m1 0h1m-.5 0h1m.5 0h1m0 0h1m1 0h1m1 0h1m-.5 0h1m3 0h1m0 0h1m0 0h1m0 0h1m-.5 0h1m-.5 0h1m11.5 0h1m-.5 0h1m1.5 0h1m3.5 0h1m-.5 0h1m3 0h1m6.5 0h1m3.5 0h1m-53 .5h1m3 0h1m.5 0h1m13 0h1m14 0h1m1 0h1m-49.5 .5h1m8 0h1m1 0h1m3 0h1m3 0h1m11 0h1m1.5 0h1m9.5 0h1m2 0h1m-.5 0h1m0 0h1m-.5 0h1m3 0h1m1.5 0h1m3.5 0h1m-48.5 .5h1m3.5 0h1m-.5 0h1m2.5 0h1m4 0h1m12 0h1m1.5 0h1m2.5 0h1m-41 .5h1m1.5 0h1m2 0h1m3 0h1m4 0h1m.5 0h1m2.5 0h1m9 0h1m2 0h1m9 0h1m5 0h1m-49.5 .5h1m0 0h1m0 0h1m.5 0h1m2 0h1m-.5 0h1m7 0h1m2.5 0h1m0 0h1m15 0h1m-.5 0h1m3 0h1m-.5 0h1m4.5 0h1m1.5 0h1m2 0h1m1 0h1m6 0h1m-60.5 .5h1m2 0h1m.5 0h1m3 0h1m2 0h1m10.5 0h1m6 0h1m-.5 0h1m7 0h1m-41 .5h1m6 0h1m0 0h1m5 0h1m3.5 0h1m3 0h1m-.5 0h1m20.5 0h1m-44 .5h1m6.5 0h1m0 0h1m6 0h1m1.5 0h1m-16 .5h1m7.5 0h1m1.5 0h1m4 0h1m-28 .5h1m5 0h1m3.5 0h1m8.5 0h1m21.5 0h1m4.5 0h1m3 0h1m12.5 0h1m-61.5 .5h1m3 0h1m11.5 0h1m-.5 0h1m3.5 0h1m1.5 0h1m.5 0h1m-23.5 .5h1m2 0h1m7 0h1m9 0h1m-25 .5h1m3.5 0h1m8 0h1m-4.5 .5h1m16 0h1m-19.5 .5h1m-6 .5h1m11 0h1m8 0h1m-1 .5h1m-22.5 .5h1m26.5 0h1m-11 .5h1m31 0h1m-45 .5h1m2.5 0h1m8.5 .5h1m14 0h1m-30 .5h1m7 0h1m7.5 0h1m-4.5 .5h1m-14 1h1m3 1h1m3 0h1m12 1h1m-25.5 .5h1m31.5 0h1m-33 4h1m39.5 .5h1m-21.5 2.5h1" stroke="#000" stroke-opacity="0.3" fill="none"/>
<path d="M215.5 268.5h1m7.5 0h1m-5 .5h1m-9.5 2h1m13 1h1m-12.5 .5h1m0 0h1m5 0h1m10 .5h1m-21.5 .5h1m13.5 .5h1m-16 .5h1m9.5 0h1m-13.5 2h1m-3 .5h1m8.5 0h1m-6 .5h1m-1 1h1m.5 .5h1m3.5 0h1m-.5 0h1m3 .5h1m18.5 0h1m-31 .5h1m0 0h1m5.5 0h1m-.5 0h1m-3.5 .5h1m.5 .5h1m-.5 0h1m-.5 0h1m-7.5 .5h1m2 0h1m6 1h1m-6.5 .5h1m0 0h1m-4 .5h1m6 0h1m-12.5 .5h1m11 0h1m-4.5 .5h1m5.5 0h1m.5 0h1m-17 .5h1m11 0h1m-13 .5h1m3 0h1m3 .5h1m3.5 0h1m-15 .5h1m13.5 0h1m3.5 0h1m-13 .5h1m-1 .5h1m1 0h1m17.5 0h1m-28.5 .5h1m12.5 0h1m.5 0h1m1.5 0h1m-.5 0h1m-9 .5h1m2 0h1m34 0h1m-45 .5h1m5 0h1m6.5 0h1m-.5 0h1m-19 .5h1m1 0h1m8.5 0h1m-5.5 .5h1m-1 .5h1m-.5 0h1m-.5 0h1m-2.5 .5h1m0 0h1m13.5 .5h1m-19.5 .5h1m3 0h1m-11 .5h1m11 0h1m-10.5 .5h1m10.5 0h1m36.5 0h1m-52 .5h1m14 0h1m-14.5 .5h1m2.5 0h1m12 0h1m-11 1h1m9 0h1m-8 1h1m3.5 0h1m-7.5 .5h1m-3 .5h1m5 0h1m-6.5 .5h1m4.5 0h1m7.5 0h1m-6.5 .5h1m1.5 0h1m-15 .5h1m4 1h1m0 0h1m-4 1h1m16.5 1.5h1m-2 1h1m-13 .5h1m.5 0h1m-.5 0h1m3.5 0h1m2 0h1m13.5 0h1m-33 .5h1m34 .5h1m-29 .5h1m6.5 0h1m17.5 0h1m-34 .5h1m4.5 0h1m10 0h1m-26 .5h1m7 0h1m3 0h1m1 0h1m13.5 0h1m-.5 0h1m12.5 0h1m-26.5 .5h1m12 0h1m21 0h1m3 0h1m-53.5 .5h1m4 0h1m22.5 0h1m-23.5 .5h1m5 0h1m9.5 0h1m-22.5 .5h1m9 0h1m4.5 0h1m3.5 0h1m3 0h1m5 0h1m8 0h1m14.5 0h1m-46.5 .5h1m.5 0h1m4.5 0h1m2 0h1m0 0h1m30 0h1m1.5 0h1m-55.5 .5h1m6 0h1m2.5 0h1m0 0h1m5 0h1m6.5 0h1m20 0h1m2.5 0h1m15 0h1m-68.5 .5h1m10 0h1m8 0h1m14.5 0h1m-.5 0h1m5.5 0h1m-.5 0h1m8 0h1m-44.5 .5h1m12 0h1m2 0h1m3.5 0h1m5 0h1m1.5 0h1m6.5 0h1m.5 0h1m3 0h1m1.5 0h1m1.5 0h1m-53.5 .5h1m.5 0h1m.5 0h1m3 0h1m1 0h1m0 0h1m.5 0h1m3 0h1m2 0h1m3.5 0h1m6 0h1m2 0h1m6.5 0h1m1 0h1m.5 0h1m.5 0h1m.5 0h1m0 0h1m6 0h1m-51.5 .5h1m5.5 0h1m0 0h1m6.5 0h1m0 0h1m6 0h1m7 0h1m7 0h1m10.5 0h1m-62 .5h1m4.5 0h1m-.5 0h1m20.5 0h1m.5 0h1m6 0h1m-.5 0h1m.5 0h1m1 0h1m3 0h1m2.5 0h1m-.5 0h1m2 0h1m2.5 0h1m0 0h1m5 0h1m5.5 0h1m-66 .5h1m-.5 0h1m7 0h1m1.5 0h1m2 0h1m1 0h1m4.5 0h1m-.5 0h1m2 0h1m4.5 0h1m3.5 0h1m2.5 0h1m0 0h1m0 0h1m.5 0h1m1 0h1m.5 0h1m6 0h1m4 0h1m-54 .5h1m1.5 0h1m2 0h1m.5 0h1m4 0h1m.5 0h1m5 0h1m-.5 0h1m3.5 0h1m4 0h1m4 0h1m5.5 0h1m0 0h1m4 0h1m.5 0h1m1.5 0h1m3 0h1m-57.5 .5h1m1.5 0h1m1 0h1m-.5 0h1m-.5 0h1m0 0h1m3 0h1m1.5 0h1m3 0h1m-.5 0h1m7.5 0h1m1.5 0h1m.5 0h1m4.5 0h1m2 0h1m-.5 0h1m1.5 0h1m1 0h1m-46 .5h1m3.5 0h1m3.5 0h1m2 0h1m7.5 0h1m3.5 0h1m0 0h1m1 0h1m.5 0h1m3 0h1m0 0h1m1.5 0h1m-.5 0h1m1.5 0h1m3 0h1m-.5 0h1m7.5 0h1m2 0h1m0 0h1m2.5 0h1m-58.5 .5h1m0 0h1m6 0h1m2.5 0h1m-.5 0h1m9 0h1m5.5 0h1m6.5 0h1m-.5 0h1m1 0h1m1 0h1m2.5 0h1m3.5 0h1m-.5 0h1m2.5 0h1m-.5 0h1m0 0h1m9.5 0h1m-75 .5h1m2 0h1m4 0h1m0 0h1m4.5 0h1m0 0h1m.5 0h1m1 0h1m0 0h1m0 0h1m2.5 0h1m4 0h1m2 0h1m.5 0h1m2 0h1m1.5 0h1m9.5 0h1m5.5 0h1m6 0h1m-61 .5h1m1.5 0h1m2.5 0h1m1 0h1m6 0h1m1.5 0h1m0 0h1m1 0h1m1 0h1m5 0h1m0 0h1m.5 0h1m2.5 0h1m3.5 0h1m6.5 0h1m-.5 0h1m-.5 0h1m0 0h1m-.5 0h1m-.5 0h1m3.5 0h1m0 0h1m-44.5 .5h1m10.5 0h1m2 0h1m0 0h1m16 0h1m4.5 0h1m3 0h1m-.5 0h1m-.5 0h1m.5 0h1m4 0h1m-53 .5h1m.5 0h1m0 0h1m.5 0h1m-.5 0h1m2.5 0h1m-.5 0h1m-.5 0h1m2 0h1m3.5 0h1m8 0h1m1 0h1m0 0h1m0 0h1m1.5 0h1m-.5 0h1m7 0h1m0 0h1m-.5 0h1m-.5 0h1m5 0h1m1.5 0h1m-62.5 .5h1m5 0h1m.5 0h1m3.5 0h1m1.5 0h1m-.5 0h1m-.5 0h1m-.5 0h1m0 0h1m-.5 0h1m-.5 0h1m2.5 0h1m0 0h1m-.5 0h1m3 0h1m0 0h1m2 0h1m5.5 0h1m1 0h1m1 0h1m-.5 0h1m2 0h1m12 0h1m2 0h1m1.5 0h1m-58 .5h1m4 0h1m3.5 0h1m0 0h1m3.5 0h1m8.5 0h1m13 0h1m5.5 0h1m6.5 0h1m-58 .5h1m4 0h1m6 0h1m1.5 0h1m1.5 0h1m6 0h1m13 0h1m.5 0h1m.5 0h1m1.5 0h1m-.5 0h1m.5 0h1m-.5 0h1m3 0h1m3 0h1m-.5 0h1m-.5 0h1m0 0h1m-57.5 .5h1m8 0h1m0 0h1m1 0h1m-.5 0h1m.5 0h1m0 0h1m3.5 0h1m3.5 0h1m0 0h1m.5 0h1m5 0h1m3 0h1m.5 0h1m9.5 0h1m-.5 0h1m-.5 0h1m6 0h1m11.5 0h1m-70 .5h1m14 0h1m3.5 0h1m0 0h1m1.5 0h1m3 0h1m3 0h1m12 0h1m16 0h1m8.5 0h1m.5 0h1m-76 .5h1m9.5 0h1m4 0h1m0 0h1m-.5 0h1m2.5 0h1m0 0h1m12 0h1m6 0h1m6 0h1m3.5 0h1m-54.5 .5h1m6 0h1m11.5 0h1m2 0h1m1 0h1m-.5 0h1m7.5 0h1m5 0h1m21.5 0h1m-58.5 .5h1m11.5 0h1m7 0h1m2.5 0h1m1 0h1m1 0h1m-22 .5h1m8.5 0h1m1 0h1m6.5 0h1m3 0h1m13 0h1m1 0h1m-.5 0h1m9 0h1m4.5 0h1m-66.5 .5h1m9.5 0h1m4 0h1m-.5 0h1m14 0h1m0 0h1m14.5 0h1m1 0h1m-46 .5h1m3 0h1m6.5 0h1m6 0h1m6 0h1m-.5 0h1m2.5 0h1m-30 .5h1m5.5 0h1m1.5 0h1m8 0h1m-24.5 .5h1m10 0h1m4 0h1m3 0h1m9 0h1m-16 .5h1m4.5 0h1m40.5 0h1m-46 .5h1m9.5 0h1m-13 .5h1m13.5 0h1m-16.5 .5h1m-8.5 1h1m6 0h1m0 0h1m1.5 0h1m-4 .5h1m-14.5 .5h1m11.5 0h1m-8 .5h1m29 0h1m-22 .5h1m-3.5 .5h1m6.5 0h1m8 .5h1m-18.5 4h1m-2 1h1" stroke="#000" stroke-opacity="0.3" fill="none"/>
<rect x="198.60" y="265.00" width="88.20" height="87.20" fill="none" stroke="#1a1a1a" stroke-width="1.2"/>
<line x1="233.30" y1="264.40" x2="233.30" y2="352.80" stroke="#1a1a1a" stroke-width="1.1"/>
<line x1="198.00" y1="302.30" x2="287.40" y2="302.30" stroke="#1a1a1a" stroke-width="1.1"/>
<text x="199.80" y="273.00" font-size="8.4" text-anchor="start" font-weight="normal" font-style="normal" fill="#1a1a1a" >10.8</text>
<text x="284.00" y="273.00" font-size="8.4" text-anchor="end" font-weight="normal" font-style="normal" fill="#1a1a1a" >0.42</text>
<text x="199.80" y="349.20" font-size="8.4" text-anchor="start" font-weight="normal" font-style="normal" fill="#1a1a1a" >42.7</text>
<text x="284.00" y="349.20" font-size="8.4" text-anchor="end" font-weight="normal" font-style="normal" fill="#1a1a1a" >46.1</text>
<line x1="196.00" y1="273.80" x2="198.50" y2="273.80" stroke="#222" stroke-width="1.1"/>
<text x="191.80" y="276.40" font-size="7.0" text-anchor="end" fill="#222">10<tspan dy="-2.8" font-size="5.04">5</tspan></text>
<line x1="196.00" y1="292.80" x2="198.50" y2="292.80" stroke="#222" stroke-width="1.1"/>
<text x="191.80" y="295.40" font-size="7.0" text-anchor="end" fill="#222">10<tspan dy="-2.8" font-size="5.04">4</tspan></text>
<line x1="196.00" y1="312.60" x2="198.50" y2="312.60" stroke="#222" stroke-width="1.1"/>
<text x="191.80" y="315.20" font-size="7.0" text-anchor="end" fill="#222">10<tspan dy="-2.8" font-size="5.04">3</tspan></text>
<line x1="196.00" y1="333.20" x2="198.50" y2="333.20" stroke="#222" stroke-width="1.1"/>
<text x="191.80" y="335.80" font-size="7.0" text-anchor="end" fill="#222">10<tspan dy="-2.8" font-size="5.04">2</tspan></text>
<line x1="196.70" y1="279.50" x2="198.50" y2="279.50" stroke="#333" stroke-width="0.8"/>
<line x1="196.70" y1="283.68" x2="198.50" y2="283.68" stroke="#333" stroke-width="0.8"/>
<line x1="196.70" y1="287.10" x2="198.50" y2="287.10" stroke="#333" stroke-width="0.8"/>
<line x1="196.70" y1="298.74" x2="198.50" y2="298.74" stroke="#333" stroke-width="0.8"/>
<line x1="196.70" y1="303.10" x2="198.50" y2="303.10" stroke="#333" stroke-width="0.8"/>
<line x1="196.70" y1="306.66" x2="198.50" y2="306.66" stroke="#333" stroke-width="0.8"/>
<line x1="196.70" y1="318.78" x2="198.50" y2="318.78" stroke="#333" stroke-width="0.8"/>
<line x1="196.70" y1="323.31" x2="198.50" y2="323.31" stroke="#333" stroke-width="0.8"/>
<line x1="196.70" y1="327.02" x2="198.50" y2="327.02" stroke="#333" stroke-width="0.8"/>
<line x1="217.20" y1="352.30" x2="217.20" y2="354.80" stroke="#222" stroke-width="1.1"/>
<text x="217.20" y="368.40" font-size="7.0" text-anchor="middle" fill="#222">0</text>
<line x1="233.70" y1="352.30" x2="233.70" y2="354.80" stroke="#222" stroke-width="1.1"/>
<text x="234.90" y="368.40" font-size="7.0" text-anchor="middle" fill="#222">10<tspan dy="-2.8" font-size="5.04">3</tspan></text>
<line x1="258.60" y1="352.30" x2="258.60" y2="354.80" stroke="#222" stroke-width="1.1"/>
<text x="259.80" y="368.40" font-size="7.0" text-anchor="middle" fill="#222">10<tspan dy="-2.8" font-size="5.04">4</tspan></text>
<line x1="281.20" y1="352.30" x2="281.20" y2="354.80" stroke="#222" stroke-width="1.1"/>
<text x="282.40" y="368.40" font-size="7.0" text-anchor="middle" fill="#222">10<tspan dy="-2.8" font-size="5.04">5</tspan></text>
<line x1="222.15" y1="352.30" x2="222.15" y2="354.30" stroke="#333" stroke-width="0.8"/>
<line x1="225.78" y1="352.30" x2="225.78" y2="354.30" stroke="#333" stroke-width="0.8"/>
<line x1="228.75" y1="352.30" x2="228.75" y2="354.30" stroke="#333" stroke-width="0.8"/>
<line x1="231.22" y1="352.30" x2="231.22" y2="354.30" stroke="#333" stroke-width="0.8"/>
<line x1="241.17" y1="352.30" x2="241.17" y2="354.30" stroke="#333" stroke-width="0.8"/>
<line x1="246.65" y1="352.30" x2="246.65" y2="354.30" stroke="#333" stroke-width="0.8"/>
<line x1="251.13" y1="352.30" x2="251.13" y2="354.30" stroke="#333" stroke-width="0.8"/>
<line x1="254.87" y1="352.30" x2="254.87" y2="354.30" stroke="#333" stroke-width="0.8"/>
<line x1="265.38" y1="352.30" x2="265.38" y2="354.30" stroke="#333" stroke-width="0.8"/>
<line x1="270.35" y1="352.30" x2="270.35" y2="354.30" stroke="#333" stroke-width="0.8"/>
<line x1="274.42" y1="352.30" x2="274.42" y2="354.30" stroke="#333" stroke-width="0.8"/>
<line x1="277.81" y1="352.30" x2="277.81" y2="354.30" stroke="#333" stroke-width="0.8"/>
<ellipse cx="343" cy="196.5" rx="10" ry="7" fill="url(#core)" opacity="1.0"/>
<ellipse cx="341" cy="208" rx="8" ry="8" fill="url(#core)" opacity="0.7"/>
<ellipse cx="375.5" cy="195" rx="10" ry="7" fill="url(#core)" opacity="0.7"/>
<ellipse cx="340" cy="170" rx="10" ry="12" fill="url(#core)" opacity="0.1"/>
<path d="M346 155h1m10.5 1h1m3.5 0h1m-23 1h1m-10 1h1m9 0h1m16.5 .5h1m6.5 .5h1m-40 .5h1m28.5 0h1m13.5 0h1m-31 .5h1m3.5 .5h1m-4.5 .5h1m29.5 0h1m-42 .5h1m43 0h1m11.5 0h1m-50.5 .5h1m4.5 0h1m0 0h1m6.5 0h1m-20.5 .5h1m5.5 0h1m-.5 0h1m0 0h1m-9.5 1h1m5 0h1m2.5 0h1m24.5 0h1m6 0h1m-28 1h1m13 0h1m-22 .5h1m31 0h1m-10.5 .5h1m0 0h1m-20 .5h1m4.5 0h1m0 0h1m2 0h1m-15 .5h1m1 0h1m5 0h1m14 0h1m2.5 0h1m-35.5 .5h1m7 0h1m23 0h1m3 0h1m-11 .5h1m32 0h1m-63 .5h1m4.5 0h1m36.5 0h1m-35.5 .5h1m30.5 0h1m-8.5 .5h1m20 0h1m-42.5 .5h1m2 0h1m27.5 0h1m0 0h1m7 0h1m-19.5 .5h1m11 0h1m-50 .5h1m24.5 0h1m1 0h1m-22 .5h1m1.5 0h1m6.5 0h1m17.5 0h1m2.5 0h1m2.5 0h1m5.5 0h1m7.5 0h1m1 0h1m-48.5 .5h1m11 0h1m16.5 0h1m5 0h1m-46.5 .5h1m5 0h1m0 0h1m36 0h1m1 0h1m-43.5 .5h1m3 0h1m18 0h1m9.5 0h1m10 0h1m1 0h1m1 0h1m-48 .5h1m8.5 0h1m24 0h1m8.5 0h1m-44 .5h1m2.5 0h1m8 0h1m20 0h1m.5 0h1m5.5 0h1m1 0h1m-37.5 .5h1m0 0h1m0 0h1m11.5 0h1m15.5 0h1m11 0h1m-15 .5h1m-39 .5h1m36.5 0h1m6 0h1m3 0h1m-39.5 .5h1m14.5 0h1m4.5 0h1m7 0h1m6.5 0h1m-43 .5h1m19 0h1m5 0h1m5.5 0h1m7.5 0h1m22.5 0h1m-63 .5h1m19 0h1m0 0h1m3 0h1m4 0h1m-17.5 .5h1m9 0h1m1.5 0h1m7.5 1h1m-17.5 .5h1m6 0h1m6 0h1m6.5 0h1m-28 .5h1m9 0h1m9 0h1m-33.5 .5h1m17 0h1m14 0h1m.5 0h1m-19 .5h1m5 0h1m4 0h1m2 0h1m-2 .5h1m1.5 0h1m-9 .5h1m2 0h1m11 0h1m-44.5 .5h1m.5 .5h1m8 .5h1m4 0h1m17.5 .5h1m.5 0h1m-32.5 .5h1m21.5 0h1m8 .5h1m1 0h1m12.5 0h1m4.5 0h1m-31 .5h1m-28.5 1h1m5.5 0h1m27 0h1m0 0h1m0 0h1m1.5 0h1m-31.5 .5h1m1 0h1m26.5 0h1m.5 0h1m-18 1h1m18 0h1m-41.5 .5h1m17.5 0h1m19.5 0h1m4.5 0h1m5.5 0h1m-10 .5h1m1 0h1m-34.5 .5h1m7.5 0h1m16.5 0h1m-31 .5h1m8.5 0h1m16 0h1m14.5 0h1m22 0h1m-75.5 .5h1m8 0h1m0 0h1m14 0h1m-20 .5h1m4 0h1m.5 0h1m.5 0h1m30.5 0h1m-.5 0h1m3.5 0h1m1.5 0h1m-.5 0h1m-42 .5h1m1 0h1m-.5 0h1m23.5 0h1m1 0h1m1.5 0h1m4 0h1m0 0h1m-47.5 .5h1m16.5 0h1m19.5 0h1m3.5 0h1m5 0h1m-47.5 .5h1m4 0h1m3 0h1m27 0h1m0 0h1m2.5 0h1m5 0h1m-47.5 .5h1m4.5 0h1m-.5 0h1m16.5 0h1m10 0h1m3.5 0h1m1 0h1m6.5 0h1m-43.5 .5h1m3 0h1m14.5 0h1m5 0h1m.5 0h1m7.5 0h1m8.5 0h1m-48 .5h1m-.5 0h1m4.5 0h1m0 0h1m1 0h1m18 0h1m-30 .5h1m.5 0h1m12.5 0h1m16.5 0h1m.5 0h1m-35.5 .5h1m8 0h1m1.5 0h1m22 0h1m2 0h1m3 0h1m0 0h1m-53.5 .5h1m-.5 0h1m5.5 0h1m6 0h1m1 0h1m6.5 0h1m8 0h1m1.5 0h1m5.5 0h1m0 0h1m.5 0h1m3.5 0h1m7 0h1m-58 .5h1m6 0h1m5 0h1m34 0h1m0 0h1m.5 0h1m-51.5 .5h1m6.5 0h1m3.5 0h1m1 0h1m.5 0h1m3.5 0h1m15 0h1m0 0h1m1.5 0h1m1 0h1m3.5 0h1m-37 .5h1m.5 0h1m.5 0h1m1.5 0h1m3 0h1m22.5 0h1m7.5 0h1m3 0h1m-49 .5h1m2.5 0h1m8 0h1m4 0h1m11.5 0h1m5 0h1m3 0h1m1 0h1m5.5 0h1m-60 .5h1m6 0h1m0 0h1m1 0h1m3 0h1m-.5 0h1m4.5 0h1m20.5 0h1m-42.5 .5h1m13.5 0h1m3 0h1m.5 0h1m6 0h1m9.5 0h1m5 0h1m11.5 0h1m-46 .5h1m1.5 0h1m9 0h1m17 0h1m-.5 0h1m3 0h1m6 0h1m.5 0h1m-47 .5h1m1.5 0h1m5.5 0h1m2 0h1m1 0h1m4 0h1m17.5 0h1m0 0h1m1.5 0h1m-.5 0h1m-39.5 .5h1m2.5 0h1m4.5 0h1m16 0h1m16 0h1m-47.5 .5h1m2 0h1m1.5 0h1m1 0h1m6 0h1m1.5 0h1m21.5 0h1m1 0h1m-43 .5h1m-.5 0h1m-.5 0h1m-.5 0h1m-.5 0h1m7 0h1m1 0h1m4 0h1m14.5 0h1m9 0h1m-42.5 .5h1m4 0h1m1 0h1m3 0h1m-.5 0h1m23.5 0h1m-49 .5h1m16.5 0h1m3 0h1m2.5 0h1m0 0h1m8.5 0h1m7.5 0h1m4 0h1m3.5 0h1m0 0h1m3.5 0h1m-50.5 .5h1m-.5 0h1m2.5 0h1m-.5 0h1m0 0h1m.5 0h1m0 0h1m.5 0h1m1 0h1m3.5 0h1m15.5 0h1m0 0h1m3.5 0h1m9 0h1m-45 .5h1m0 0h1m2.5 0h1m2 0h1m2 0h1m33 0h1m11.5 0h1m-53.5 .5h1m1 0h1m4 0h1m8 0h1m7.5 0h1m1 0h1m-33.5 .5h1m.5 0h1m.5 0h1m2.5 0h1m0 0h1m8.5 0h1m-24.5 .5h1m11.5 0h1m0 0h1m20.5 0h1m-36.5 .5h1m3.5 0h1m5 0h1m.5 0h1m3.5 0h1m1.5 0h1m-.5 0h1m2 0h1m0 0h1m27.5 0h1m1 0h1m-48.5 .5h1m7.5 0h1m-.5 0h1m2 0h1m2.5 0h1m2 0h1m17 0h1m0 0h1m-34 .5h1m32.5 0h1m-39 .5h1m0 0h1m4.5 0h1m1.5 0h1m1 0h1m3 0h1m6.5 0h1m1.5 0h1m-25 .5h1m10 0h1m23.5 0h1m-45.5 .5h1m3.5 0h1m3 0h1m2 0h1m.5 0h1m4 0h1m-.5 0h1m4.5 0h1m-15 .5h1m6 0h1m31 0h1m-42.5 .5h1m2 0h1m40 0h1m4.5 0h1m-57.5 .5h1m.5 0h1m1.5 0h1m5 0h1m0 0h1m0 0h1m1.5 0h1m5 0h1m35.5 0h1m-51 .5h1m11 0h1m-15.5 .5h1m6 0h1m4 0h1m36 0h1m-42 .5h1m6.5 0h1m27 0h1m-.5 0h1m-36.5 .5h1m-.5 0h1m20 0h1m-32 .5h1m7.5 0h1m1 0h1m3.5 0h1m.5 0h1m11 0h1m-27.5 .5h1m8.5 0h1m31.5 0h1m15 0h1m-67.5 .5h1m8.5 0h1m4 0h1m3.5 0h1m1.5 0h1m1.5 0h1m8.5 0h1m-29.5 .5h1m7 0h1m0 0h1m3.5 0h1m-12.5 .5h1m5 0h1m0 0h1m.5 0h1m.5 0h1m-.5 0h1m3 0h1m-.5 0h1m-.5 0h1m5 0h1m-21 .5h1m.5 0h1m4.5 0h1m5 0h1m16 0h1m-30.5 .5h1m1.5 0h1m1.5 0h1m.5 0h1m2.5 0h1m1 0h1m-12.5 .5h1m.5 0h1m-.5 0h1m.5 0h1m6.5 0h1m1 0h1m8.5 0h1m32.5 0h1m-51 .5h1m1 0h1m5.5 0h1m-17 .5h1m2 0h1m.5 0h1m3.5 0h1m4 0h1m2.5 0h1m.5 0h1m-19 .5h1m10.5 0h1m11.5 0h1m3 0h1m-29 .5h1m3 0h1m0 0h1m2 0h1m9.5 0h1m-29.5 .5h1m16.5 0h1m-7.5 .5h1m7 0h1m8.5 0h1m-23 1h1m11 0h1m10 0h1m3.5 0h1m-27.5 .5h1m13.5 0h1m15.5 0h1m-33.5 .5h1m12 0h1m1.5 0h1m6.5 0h1m-15 .5h1m0 0h1m-6 .5h1m1 .5h1m-.5 0h1m-.5 0h1m.5 0h1m5 0h1m9.5 0h1m-29 .5h1m12.5 0h1m8 0h1m28 0h1m-48 .5h1m4 0h1m5 0h1m-.5 0h1m-10.5 .5h1m-10.5 1h1m6 0h1m19 0h1m-1.5 .5h1m-18 .5h1m1 0h1m3.5 0h1m4 .5h1m-6 .5h1m1 0h1m2 0h1m4.5 0h1m-12 1h1m8 .5h1m.5 0h1m-13 .5h1m4 0h1m0 0h1m3 0h1m-11.5 .5h1m-1 .5h1m8 0h1m4.5 0h1m-13.5 2h1m12.5 0h1m-15.5 .5h1m9 .5h1m-9 1h1m.5 1.5h1m-5.5 5.5h1m-10 2h1" stroke="#000" stroke-opacity="0.3" fill="none"/>
<path d="M349 155h1m-9.5 .5h1m9.5 .5h1m-12.5 .5h1m2.5 .5h1m19.5 0h1m-25 .5h1m33.5 .5h1m-44 .5h1m34 0h1m-1.5 .5h1m9.5 .5h1m-49 .5h1m-3 1h1m34.5 0h1m-.5 0h1m-21 .5h1m11 0h1m20 0h1m-46 .5h1m14.5 .5h1m20.5 0h1m-11 .5h1m7 0h1m9 0h1m-45 .5h1m38.5 0h1m6.5 0h1m-16.5 .5h1m-19 .5h1m30 0h1m.5 0h1m-41 .5h1m2.5 0h1m4 0h1m-1.5 .5h1m15.5 0h1m.5 0h1m9.5 0h1m-41.5 .5h1m21 0h1m7 .5h1m5.5 0h1m-26 .5h1m24.5 0h1m1 0h1m4.5 0h1m-33.5 .5h1m6.5 0h1m.5 0h1m1.5 0h1m-28 .5h1m1 0h1m22 0h1m-23.5 .5h1m22 0h1m27.5 0h1m-46.5 .5h1m27.5 0h1m-28.5 .5h1m1.5 0h1m13.5 0h1m2.5 0h1m20 0h1m-42 .5h1m11 0h1m-.5 0h1m1 0h1m7 0h1m18 0h1m-43 .5h1m26.5 0h1m.5 0h1m-38 .5h1m9.5 0h1m.5 0h1m28.5 0h1m12.5 0h1m-48.5 .5h1m4 0h1m13.5 0h1m14 0h1m4 0h1m-42 .5h1m37 0h1m-53 .5h1m10 0h1m10.5 0h1m21.5 0h1m10 0h1m2 0h1m-48 .5h1m.5 0h1m4.5 0h1m24 0h1m11.5 0h1m-39.5 1h1m17.5 0h1m1.5 0h1m11.5 0h1m-45.5 .5h1m5 0h1m6.5 .5h1m13.5 0h1m13.5 0h1m-45 .5h1m11 0h1m-.5 0h1m20 0h1m3 0h1m-18 .5h1m-1 .5h1m5 0h1m15.5 0h1m0 0h1m3.5 0h1m-12.5 .5h1m4 0h1m-30.5 .5h1m24.5 0h1m2 0h1m-.5 0h1m-41.5 .5h1m9.5 0h1m-8 .5h1m4.5 0h1m14.5 0h1m-23.5 .5h1m10.5 0h1m27 0h1m-.5 0h1m-2 .5h1m-10.5 .5h1m5.5 0h1m2 0h1m-44 .5h1m15 0h1m14.5 0h1m8 0h1m1.5 0h1m12 .5h1m-17.5 .5h1m-2.5 .5h1m5 0h1m-24.5 .5h1m22.5 0h1m-32 .5h1m29.5 0h1m-40.5 .5h1m31.5 0h1m-25.5 .5h1m15.5 0h1m4 .5h1m3.5 0h1m4 0h1m-26.5 .5h1m39 0h1m-40 .5h1m23 0h1m-30.5 .5h1m9 0h1m32.5 0h1m-16.5 1h1m-15.5 .5h1m1 0h1m8.5 0h1m8 0h1m9.5 0h1m-46.5 .5h1m16.5 0h1m8 0h1m9 0h1m-44.5 .5h1m-.5 0h1m4 0h1m6 0h1m12.5 0h1m11 0h1m-29 .5h1m26 0h1m-27.5 .5h1m24.5 0h1m5.5 0h1m-41.5 .5h1m17 0h1m19.5 0h1m6 0h1m-32.5 .5h1m0 0h1m2.5 0h1m14.5 0h1m4.5 0h1m1 0h1m2.5 0h1m-44 .5h1m7.5 0h1m1 0h1m1 0h1m5.5 0h1m25 0h1m-50 .5h1m1 0h1m11.5 0h1m19.5 0h1m2.5 0h1m8 0h1m2 0h1m5 0h1m-49.5 .5h1m6 0h1m22.5 0h1m0 0h1m2.5 0h1m5.5 0h1m-.5 0h1m.5 0h1m-44 .5h1m3 0h1m0 0h1m1.5 0h1m13 0h1m13.5 0h1m3 0h1m-49 .5h1m3.5 0h1m2 0h1m-.5 0h1m-.5 0h1m25 0h1m.5 0h1m0 0h1m-.5 0h1m1 0h1m3.5 0h1m-.5 0h1m1.5 0h1m-44 .5h1m-.5 0h1m2.5 0h1m-.5 0h1m-.5 0h1m1 0h1m14 0h1m7 0h1m4 0h1m1 0h1m5 0h1m6.5 0h1m-53.5 .5h1m-.5 0h1m2.5 0h1m-.5 0h1m.5 0h1m2 0h1m17.5 0h1m4 0h1m6.5 0h1m4 0h1m1.5 0h1m0 0h1m-46 .5h1m-.5 0h1m3.5 0h1m22 0h1m5 0h1m5.5 0h1m3 0h1m-.5 0h1m4.5 0h1m-58.5 .5h1m13.5 0h1m3.5 0h1m.5 0h1m13.5 0h1m8 0h1m2.5 0h1m.5 0h1m.5 0h1m-51 .5h1m3 0h1m7.5 0h1m-.5 0h1m2 0h1m1.5 0h1m1.5 0h1m.5 0h1m8.5 0h1m1.5 0h1m5 0h1m8 0h1m4 0h1m-48 .5h1m3.5 0h1m26 0h1m3 0h1m-.5 0h1m1 0h1m1 0h1m0 0h1m3.5 0h1m-45 .5h1m3.5 0h1m3.5 0h1m22.5 0h1m-40.5 .5h1m2 0h1m2 0h1m5.5 0h1m21 0h1m1 0h1m0 0h1m-40.5 .5h1m4 0h1m-.5 0h1m0 0h1m.5 0h1m7.5 0h1m17.5 0h1m3.5 0h1m2 0h1m-47 .5h1m1 0h1m7 0h1m-.5 0h1m1 0h1m.5 0h1m.5 0h1m2.5 0h1m1 0h1m0 0h1m15.5 0h1m4.5 0h1m2.5 0h1m5 0h1m0 0h1m-48 .5h1m2.5 0h1m1 0h1m1 0h1m.5 0h1m0 0h1m9.5 0h1m7.5 0h1m3.5 0h1m-32 .5h1m0 0h1m1 0h1m1 0h1m2 0h1m-12.5 .5h1m2.5 0h1m3 0h1m3 0h1m0 0h1m-.5 0h1m18.5 0h1m5.5 0h1m2 0h1m4.5 0h1m-52.5 .5h1m.5 0h1m5 0h1m-.5 0h1m7 0h1m10.5 0h1m6.5 0h1m15.5 0h1m1.5 0h1m-.5 0h1m-44.5 .5h1m-.5 0h1m-.5 0h1m34 0h1m-.5 0h1m4 0h1m-.5 0h1m-51.5 .5h1m4 0h1m3.5 0h1m0 0h1m.5 0h1m17 0h1m9 0h1m11 0h1m-54 .5h1m4.5 0h1m5 0h1m8 0h1m9 0h1m7.5 0h1m-48 .5h1m7 0h1m1.5 0h1m6.5 0h1m1.5 0h1m27.5 0h1m1.5 0h1m0 0h1m2.5 0h1m-44 .5h1m0 0h1m2.5 0h1m0 0h1m1 0h1m1 0h1m21 0h1m6.5 0h1m10.5 0h1m0 0h1m-50 .5h1m2.5 0h1m12.5 0h1m23 0h1m-54.5 .5h1m4.5 0h1m3.5 0h1m1 0h1m5 0h1m.5 0h1m-.5 0h1m2.5 0h1m-.5 0h1m10.5 0h1m7 0h1m0 0h1m-42 .5h1m1 0h1m-.5 0h1m2.5 0h1m.5 0h1m1 0h1m1 0h1m1 0h1m3 0h1m28.5 0h1m-.5 0h1m-47.5 .5h1m3.5 0h1m1.5 0h1m8.5 0h1m-10 .5h1m-.5 0h1m4.5 0h1m3.5 0h1m20.5 0h1m-.5 0h1m13 0h1m-53.5 .5h1m.5 0h1m2 0h1m.5 0h1m-.5 0h1m1 0h1m11.5 0h1m-25 .5h1m5 0h1m2 0h1m9.5 0h1m10.5 0h1m46 0h1m-68 .5h1m0 0h1m0 0h1m.5 0h1m-.5 0h1m2 0h1m26.5 0h1m-44 .5h1m3 0h1m0 0h1m2.5 0h1m4 0h1m0 0h1m23 0h1m-44 .5h1m6 0h1m1 0h1m5 0h1m.5 0h1m-.5 0h1m1 0h1m2.5 0h1m28 0h1m-44.5 .5h1m-.5 0h1m1.5 0h1m0 0h1m.5 0h1m30.5 0h1m4.5 0h1m-44 .5h1m2 0h1m1 0h1m3 0h1m2 0h1m10 0h1m4 0h1m-36.5 .5h1m6.5 0h1m-.5 0h1m7 0h1m2.5 0h1m14.5 0h1m-23.5 .5h1m28 0h1m-35.5 .5h1m1.5 0h1m1 0h1m1.5 0h1m4.5 0h1m3 0h1m-21.5 .5h1m2 0h1m-.5 0h1m14.5 0h1m16 0h1m-37.5 .5h1m0 0h1m4.5 0h1m3 0h1m-17 .5h1m8.5 0h1m13.5 0h1m-12 .5h1m.5 0h1m1 0h1m4.5 0h1m5 0h1m-27.5 .5h1m13.5 0h1m.5 0h1m.5 0h1m0 0h1m0 0h1m4 0h1m22 0h1m-47 .5h1m-.5 0h1m0 0h1m4.5 0h1m4 0h1m5 0h1m3 0h1m0 0h1m-22.5 .5h1m9 0h1m-7.5 .5h1m.5 0h1m14.5 0h1m2 0h1m15.5 0h1m-25.5 .5h1m0 0h1m-12 .5h1m1 0h1m1 0h1m5 0h1m1.5 0h1m.5 .5h1m24.5 0h1m1 0h1m-45 .5h1m8.5 0h1m3.5 0h1m15 0h1m-27.5 .5h1m3 0h1m-4 .5h1m-8.5 .5h1m6 0h1m3.5 0h1m.5 0h1m2 0h1m11.5 0h1m-16.5 .5h1m2.5 0h1m-10 .5h1m-5.5 .5h1m13 0h1m-16.5 .5h1m44 0h1m-42 .5h1m4 0h1m2 0h1m28.5 0h1m-37.5 .5h1m-1 .5h1m2 0h1m8 0h1m4.5 0h1m-17 .5h1m9.5 0h1m-17.5 .5h1m6.5 0h1m-.5 .5h1m-1 .5h1m-15 .5h1m6.5 0h1m4 0h1m.5 0h1m8 0h1m-8.5 .5h1m1.5 0h1m-6.5 1h1m3.5 0h1m-5.5 .5h1m2 0h1m8.5 0h1m-9.5 .5h1m1 0h1m28.5 0h1m-40.5 .5h1m18 0h1m7.5 .5h1m29.5 0h1m-58 .5h1m57 .5h1m-66.5 .5h1m5.5 0h1m2 .5h1m-.5 3h1m-3 .5h1m-.5 0h1m23 2h1m-24 1h1m10.5 2.5h1" stroke="#000" stroke-opacity="0.3" fill="none"/>
<path d="M345 155h1m3 1h1m25.5 1.5h1m-27 .5h1m.5 0h1m16 0h1m-25.5 .5h1m-10 .5h1m.5 0h1m4 .5h1m31.5 0h1m-42.5 .5h1m12.5 0h1m7 0h1m8 0h1m-38 .5h1m34.5 0h1m-27.5 .5h1m37 0h1m5.5 0h1m-55 .5h1m1.5 0h1m48 0h1m-34.5 .5h1m-.5 0h1m-18 .5h1m7 0h1m-1 .5h1m8 0h1m9 0h1m12 0h1m-10 .5h1m29.5 0h1m-54 .5h1m19.5 0h1m13 0h1m17 0h1m-64.5 .5h1m5.5 0h1m3.5 0h1m23 0h1m9.5 0h1m-16 .5h1m-24 .5h1m5 .5h1m2 0h1m-13.5 .5h1m59.5 0h1m-52.5 .5h1m5.5 0h1m4 0h1m37.5 0h1m-25.5 .5h1m19.5 0h1m-49.5 .5h1m18.5 0h1m7.5 0h1m5.5 0h1m-34.5 .5h1m5 0h1m3.5 .5h1m25 0h1m-24 .5h1m24.5 0h1m-19.5 .5h1m19.5 0h1m-.5 0h1m3.5 0h1m9 0h1m-54.5 .5h1m10.5 0h1m11.5 0h1m20.5 0h1m3 0h1m-19.5 .5h1m2.5 0h1m5 0h1m19 0h1m-74 .5h1m8 0h1m1 0h1m0 0h1m21 0h1m8.5 0h1m20.5 0h1m-20 .5h1m8 0h1m-58 .5h1m13.5 0h1m29 0h1m-33 .5h1m10 0h1m43 0h1m-46.5 .5h1m11 0h1m6 0h1m7 0h1m0 0h1m2.5 0h1m-36 .5h1m23 0h1m11 0h1m1 0h1m-42 .5h1m20.5 0h1m4 0h1m6 0h1m-32 .5h1m29 0h1m0 0h1m7.5 0h1m-27 .5h1m26 0h1m-49 .5h1m40 0h1m-.5 0h1m-37.5 .5h1m4.5 0h1m22 0h1m5 0h1m4 0h1m-50.5 .5h1m16.5 0h1m12.5 0h1m13 0h1m.5 0h1m3.5 0h1m-.5 0h1m-43 .5h1m33 0h1m3.5 0h1m-28.5 .5h1m18 0h1m0 0h1m-6.5 .5h1m.5 0h1m6 0h1m.5 0h1m3.5 0h1m-.5 0h1m-35.5 .5h1m15.5 0h1m4 0h1m4.5 0h1m-.5 0h1m-38 .5h1m18 0h1m16.5 0h1m-15 .5h1m7.5 0h1m2.5 0h1m-15.5 .5h1m17 0h1m-36.5 .5h1m0 0h1m8.5 0h1m14 0h1m-27.5 1h1m33 0h1m-33 .5h1m21.5 .5h1m7 0h1m-32.5 .5h1m4.5 0h1m1 0h1m22.5 0h1m-6 .5h1m11.5 .5h1m-45 .5h1m53.5 0h1m-29.5 .5h1m10 0h1m10 0h1m-41.5 .5h1m8 0h1m37 0h1m-48 .5h1m1.5 0h1m23.5 0h1m0 0h1m-28 .5h1m29 0h1m-.5 0h1m3 0h1m-10.5 .5h1m5.5 0h1m12 0h1m-19.5 .5h1m0 0h1m0 0h1m3 0h1m5.5 0h1m7.5 0h1m-54 .5h1m15.5 0h1m28.5 0h1m-35 1h1m29 0h1m-40 .5h1m5 0h1m24.5 0h1m1.5 0h1m1 0h1m2.5 0h1m1 0h1m-37.5 .5h1m35.5 0h1m-42.5 .5h1m2.5 0h1m0 0h1m.5 0h1m-.5 0h1m29.5 0h1m0 0h1m1 0h1m5 0h1m-13 .5h1m16 0h1m-52 .5h1m3 0h1m0 0h1m11 0h1m10.5 0h1m.5 0h1m5 0h1m.5 0h1m3 0h1m-48 .5h1m3 0h1m0 0h1m4.5 0h1m4.5 0h1m23 0h1m4 0h1m4.5 0h1m-57 .5h1m7 0h1m8 0h1m18.5 0h1m12 0h1m6 0h1m.5 0h1m-56 .5h1m.5 0h1m2.5 0h1m1 0h1m.5 0h1m22 0h1m15.5 0h1m3.5 0h1m0 0h1m-53 .5h1m.5 0h1m1 0h1m-.5 0h1m3 0h1m-.5 0h1m8 0h1m4 0h1m0 0h1m.5 0h1m0 0h1m16.5 0h1m0 0h1m0 0h1m.5 0h1m.5 0h1m-.5 0h1m-49.5 .5h1m4 0h1m3 0h1m.5 0h1m.5 0h1m6 0h1m19.5 0h1m4.5 0h1m.5 0h1m0 0h1m-42.5 .5h1m0 0h1m0 0h1m1 0h1m1.5 0h1m0 0h1m-.5 0h1m3 0h1m1.5 0h1m21.5 0h1m.5 0h1m-.5 0h1m9 0h1m-48 .5h1m-.5 0h1m2 0h1m0 0h1m-.5 0h1m9.5 0h1m7 0h1m2.5 0h1m9 0h1m-.5 0h1m-43 .5h1m-.5 0h1m2 0h1m-.5 0h1m5 0h1m2.5 0h1m0 0h1m20 0h1m-.5 0h1m5.5 0h1m3.5 0h1m3 0h1m-60.5 .5h1m3 0h1m4 0h1m3 0h1m1.5 0h1m-.5 0h1m-.5 0h1m27 0h1m0 0h1m1 0h1m-42.5 .5h1m.5 0h1m2.5 0h1m-.5 0h1m5.5 0h1m-.5 0h1m25 0h1m-.5 0h1m0 0h1m-26 .5h1m.5 0h1m1.5 0h1m14 0h1m5 0h1m6.5 0h1m-47.5 .5h1m2.5 0h1m1.5 0h1m4 0h1m-.5 0h1m0 0h1m0 0h1m0 0h1m7 0h1m11 0h1m8.5 0h1m-36.5 .5h1m11.5 0h1m16.5 0h1m-.5 0h1m4.5 0h1m4.5 0h1m0 0h1m-51.5 .5h1m1.5 0h1m4 0h1m-.5 0h1m5 0h1m3.5 0h1m7 0h1m2.5 0h1m2.5 0h1m5.5 0h1m-38 .5h1m0 0h1m-.5 0h1m-.5 0h1m6 0h1m1 0h1m-11.5 .5h1m-.5 0h1m1 0h1m0 0h1m5.5 0h1m0 0h1m1 0h1m9.5 0h1m1 0h1m6.5 0h1m-.5 0h1m0 0h1m4 0h1m1 0h1m8.5 0h1m-54.5 .5h1m.5 0h1m-.5 0h1m1 0h1m-.5 0h1m0 0h1m0 0h1m2 0h1m-13 .5h1m9 0h1m-.5 0h1m2 0h1m1.5 0h1m1 0h1m.5 0h1m2 0h1m19.5 0h1m-44.5 .5h1m9 0h1m-.5 0h1m5 0h1m5 0h1m8 0h1m0 0h1m-31.5 .5h1m8.5 0h1m0 0h1m4.5 0h1m-.5 0h1m12 0h1m15.5 0h1m-43.5 .5h1m3 0h1m1 0h1m1 0h1m2.5 0h1m16.5 0h1m.5 0h1m11 0h1m-40.5 .5h1m1 0h1m-.5 0h1m1 0h1m1 0h1m-.5 0h1m-.5 0h1m0 0h1m-.5 0h1m1.5 0h1m11 0h1m-30 .5h1m5.5 0h1m7 0h1m17.5 0h1m-38.5 .5h1m.5 0h1m1.5 0h1m1.5 0h1m2.5 0h1m-.5 0h1m4 0h1m29.5 0h1m5.5 0h1m1 0h1m-56 .5h1m3 0h1m1.5 0h1m1.5 0h1m4.5 0h1m0 0h1m5.5 0h1m-14 .5h1m0 0h1m2 0h1m6 0h1m7.5 0h1m7 0h1m10 0h1m-45 .5h1m.5 0h1m.5 0h1m0 0h1m6 0h1m36 0h1m-55.5 .5h1m10 0h1m5 0h1m1 0h1m6 0h1m28.5 0h1m-43.5 .5h1m-.5 0h1m2.5 0h1m-.5 0h1m-.5 0h1m-.5 0h1m3 0h1m5 0h1m14 0h1m-42.5 .5h1m10.5 0h1m-.5 0h1m7.5 0h1m8.5 0h1m10.5 0h1m-37.5 .5h1m3 0h1m4.5 0h1m.5 0h1m1.5 0h1m.5 0h1m2.5 0h1m-28 .5h1m8.5 0h1m7.5 0h1m2.5 0h1m28 0h1m10 0h1m-60.5 .5h1m7.5 0h1m5 0h1m2 0h1m35.5 0h1m-50 .5h1m.5 0h1m.5 0h1m5.5 0h1m1.5 0h1m2 0h1m-14 .5h1m2 0h1m2.5 0h1m0 0h1m-13.5 .5h1m.5 0h1m2.5 0h1m0 0h1m3 0h1m3.5 0h1m31.5 0h1m-48 .5h1m1.5 0h1m4 0h1m4 0h1m20.5 0h1m-25 .5h1m5.5 0h1m-8.5 .5h1m3.5 0h1m.5 0h1m.5 0h1m4 0h1m-13 .5h1m1.5 0h1m5 0h1m-23.5 .5h1m13 0h1m6.5 0h1m-11 .5h1m5 0h1m-.5 0h1m2 0h1m-10 .5h1m0 0h1m1.5 0h1m1 0h1m0 0h1m0 0h1m12 0h1m-22.5 .5h1m3.5 0h1m.5 0h1m3.5 0h1m1.5 0h1m-18 .5h1m8 0h1m-2.5 .5h1m10.5 0h1m-17 .5h1m1 0h1m3 0h1m7 0h1m-10.5 .5h1m6 0h1m6 0h1m-7.5 .5h1m2.5 0h1m-12.5 .5h1m4 0h1m27 0h1m16.5 0h1m-54.5 .5h1m2.5 0h1m8.5 0h1m.5 0h1m-18.5 .5h1m1 0h1m6.5 0h1m0 0h1m0 0h1m-9 .5h1m3.5 0h1m5.5 0h1m9 0h1m-20.5 .5h1m4.5 .5h1m-6.5 .5h1m0 0h1m3 0h1m11 0h1m12.5 0h1m-26.5 .5h1m24.5 0h1m-37.5 .5h1m6.5 .5h1m-7.5 .5h1m5 0h1m.5 0h1m4 0h1m1 0h1m-9 .5h1m2 0h1m48.5 0h1m-65 .5h1m15.5 0h1m-19.5 .5h1m17.5 0h1m2 0h1m-11 .5h1m7 0h1m7.5 0h1m-11 .5h1m.5 0h1m1 0h1m-9.5 .5h1m-2.5 .5h1m35.5 0h1m-38.5 .5h1m1.5 0h1m3 0h1m-12.5 .5h1m5 .5h1m7.5 0h1m11.5 1h1m-17 2h1m-7 1h1m7 0h1m40.5 3.5h1m-38.5 .5h1" stroke="#000" stroke-opacity="0.3" fill="none"/>
<path d="M341.5 154.5h1m1.5 .5h1m5.5 .5h1m-26.5 1h1m11 .5h1m-12.5 1h1m9 1h1m.5 0h1m25 0h1m-28 .5h1m18.5 0h1m-17.5 .5h1m27.5 0h1m2 .5h1m-33 1h1m14.5 .5h1m12 0h1m-34.5 .5h1m-9 .5h1m19 0h1m.5 0h1m17.5 0h1m.5 0h1m-25.5 .5h1m28.5 0h1m-38 .5h1m34.5 0h1m-20.5 .5h1m9 0h1m4 0h1m9 0h1m-35 .5h1m7 0h1m20.5 0h1m-48.5 .5h1m40 0h1m-1 .5h1m12.5 0h1m-45.5 .5h1m9 0h1m-.5 0h1m35 0h1m-28.5 .5h1m24.5 0h1m6 0h1m-30 .5h1m15 0h1m-46.5 .5h1m7.5 0h1m1 0h1m17.5 0h1m-25.5 .5h1m8 0h1m9.5 0h1m9.5 0h1m3.5 0h1m13 0h1m-45 .5h1m13 0h1m9 0h1m2 0h1m2.5 0h1m3 0h1m-44 .5h1m4.5 0h1m4.5 0h1m1 0h1m-.5 0h1m20.5 0h1m17.5 0h1m-58.5 .5h1m51 0h1m5.5 0h1m-24.5 .5h1m-22 .5h1m6.5 0h1m-22.5 .5h1m21 0h1m4.5 0h1m8.5 0h1m10.5 0h1m-29 .5h1m15 0h1m4.5 0h1m-38.5 .5h1m5 0h1m4.5 0h1m11 0h1m-9.5 .5h1m.5 0h1m13.5 0h1m11.5 0h1m-48 .5h1m20 0h1m4.5 0h1m7 0h1m5.5 0h1m12.5 0h1m-38 .5h1m.5 0h1m28 0h1m1 0h1m3.5 0h1m-16.5 .5h1m4.5 0h1m-.5 0h1m3.5 0h1m5.5 0h1m-45.5 .5h1m-.5 0h1m30 0h1m-.5 0h1m-.5 0h1m-13 .5h1m-.5 0h1m13 0h1m3.5 0h1m4 0h1m-49.5 .5h1m6 0h1m10 0h1m6.5 0h1m17.5 0h1m-.5 0h1m0 0h1m-42 .5h1m-.5 0h1m6.5 0h1m9 0h1m-14.5 .5h1m23 0h1m6 0h1m2.5 0h1m-52 .5h1m11.5 0h1m3.5 0h1m24.5 0h1m6.5 0h1m-12 .5h1m-.5 0h1m5 0h1m-33.5 .5h1m8 0h1m11.5 0h1m8 0h1m1.5 .5h1m4 0h1m8.5 0h1m-47 .5h1m-5 .5h1m35 0h1m-30 .5h1m17.5 0h1m2.5 .5h1m8 0h1m1.5 0h1m-4.5 .5h1m-44.5 .5h1m5 .5h1m-9 .5h1m8 .5h1m5 0h1m-15 .5h1m5.5 0h1m9.5 .5h1m-13 .5h1m25 0h1m.5 0h1m7.5 0h1m2.5 0h1m-33.5 .5h1m1 0h1m27 0h1m-27 1h1m24 0h1m-34.5 .5h1m35.5 0h1m5 0h1m1.5 0h1m-41.5 .5h1m21.5 0h1m13 0h1m-.5 0h1m-43 .5h1m11 0h1m23 0h1m-34.5 .5h1m29 0h1m-25 .5h1m6.5 0h1m1 0h1m13 0h1m1.5 0h1m2.5 0h1m0 0h1m.5 0h1m.5 0h1m-35.5 .5h1m2.5 0h1m24.5 0h1m.5 0h1m-30.5 .5h1m35 0h1m.5 0h1m-42.5 .5h1m-.5 0h1m33.5 0h1m3 0h1m3 0h1m-44.5 .5h1m7 0h1m-.5 0h1m18 0h1m3 0h1m2 0h1m7 0h1m11 0h1m-70.5 .5h1m7.5 0h1m15.5 0h1m10.5 0h1m6 0h1m1 0h1m0 0h1m1 0h1m.5 0h1m3.5 0h1m7 0h1m1 0h1m-52 .5h1m33 0h1m-.5 0h1m2.5 0h1m3.5 0h1m4.5 0h1m-.5 0h1m.5 0h1m1.5 0h1m-52 .5h1m29.5 0h1m2 0h1m.5 0h1m5.5 0h1m4 0h1m-43 .5h1m22.5 0h1m.5 0h1m3 0h1m1.5 0h1m.5 0h1m2 0h1m.5 0h1m-43 .5h1m9 0h1m6 0h1m9.5 0h1m-.5 0h1m.5 0h1m-.5 0h1m-.5 0h1m6.5 0h1m-41 .5h1m2 0h1m6 0h1m24.5 0h1m7.5 0h1m1.5 0h1m20 0h1m-69 .5h1m7.5 0h1m2.5 0h1m2.5 0h1m5.5 0h1m8 0h1m12 0h1m0 0h1m-40 .5h1m35 0h1m.5 0h1m-.5 0h1m1.5 0h1m1 0h1m1.5 0h1m-55 .5h1m2 0h1m1.5 0h1m3.5 0h1m1 0h1m.5 0h1m1 0h1m18.5 0h1m2 0h1m2.5 0h1m-.5 0h1m4.5 0h1m1 0h1m7 0h1m-51 .5h1m2.5 0h1m3.5 0h1m-.5 0h1m24 0h1m2 0h1m1.5 0h1m2.5 0h1m-50.5 .5h1m-.5 0h1m3 0h1m4.5 0h1m-.5 0h1m4 0h1m4.5 0h1m1.5 0h1m9 0h1m27.5 0h1m-51.5 .5h1m12 0h1m20.5 0h1m.5 0h1m-51 .5h1m5.5 0h1m0 0h1m2 0h1m.5 0h1m2.5 0h1m.5 0h1m16.5 0h1m.5 0h1m1 0h1m0 0h1m2 0h1m-.5 0h1m2 0h1m-40.5 .5h1m1 0h1m3 0h1m26 0h1m2.5 0h1m0 0h1m1 0h1m0 0h1m1.5 0h1m-39 .5h1m0 0h1m.5 0h1m.5 0h1m1 0h1m2 0h1m23.5 0h1m1.5 0h1m3.5 0h1m4 0h1m-49.5 .5h1m4 0h1m13.5 0h1m.5 0h1m22.5 0h1m0 0h1m2.5 0h1m-59 .5h1m1.5 0h1m11.5 0h1m1 0h1m12 0h1m8.5 0h1m.5 0h1m-.5 0h1m3 0h1m2 0h1m-46.5 .5h1m5 0h1m.5 0h1m-.5 0h1m14.5 0h1m13.5 0h1m4 0h1m6.5 0h1m-48 .5h1m2.5 0h1m6.5 0h1m-.5 0h1m-.5 0h1m0 0h1m22.5 0h1m.5 0h1m3 0h1m-48 .5h1m1 0h1m-.5 0h1m2 0h1m1.5 0h1m0 0h1m0 0h1m5 0h1m7 0h1m3.5 0h1m10.5 0h1m2.5 0h1m7.5 0h1m0 0h1m-53.5 .5h1m0 0h1m2 0h1m4 0h1m2 0h1m19.5 0h1m-38.5 .5h1m8 0h1m5 0h1m0 0h1m3.5 0h1m-.5 0h1m-22 .5h1m11.5 0h1m0 0h1m22.5 0h1m-31 .5h1m9 0h1m3 0h1m.5 0h1m3.5 0h1m5.5 0h1m-25 .5h1m.5 0h1m2.5 0h1m46 0h1m-51.5 .5h1m-.5 0h1m0 0h1m.5 0h1m-.5 0h1m.5 0h1m9.5 0h1m6 0h1m32.5 0h1m-57.5 .5h1m0 0h1m2.5 0h1m0 0h1m29 0h1m5 0h1m-42.5 .5h1m7 0h1m25.5 0h1m-37 .5h1m2 0h1m2 0h1m.5 0h1m5 0h1m-9.5 .5h1m.5 0h1m0 0h1m.5 0h1m13.5 0h1m18 0h1m-45 .5h1m2.5 0h1m0 0h1m2.5 0h1m3.5 0h1m4.5 0h1m-19 .5h1m8 0h1m0 0h1m1 0h1m-.5 0h1m3 0h1m14 0h1m-.5 0h1m-39 .5h1m8.5 0h1m0 0h1m.5 0h1m0 0h1m-.5 0h1m24.5 0h1m-37 .5h1m1.5 0h1m2.5 0h1m1.5 0h1m3 0h1m5 0h1m-16 .5h1m.5 0h1m-.5 0h1m.5 0h1m0 0h1m2 0h1m2 0h1m1 0h1m11.5 0h1m7.5 0h1m-46 .5h1m13 0h1m-.5 0h1m3 0h1m.5 0h1m10 0h1m-30 .5h1m10 0h1m.5 0h1m4 0h1m-.5 0h1m9 0h1m-21.5 .5h1m1 0h1m0 0h1m4 0h1m8 0h1m39.5 0h1m-52 .5h1m2 0h1m-.5 0h1m4.5 0h1m-.5 0h1m7.5 0h1m10 0h1m-42 .5h1m11.5 0h1m3 0h1m1 0h1m.5 0h1m0 0h1m5 0h1m16.5 0h1m-45.5 .5h1m5 0h1m8.5 0h1m.5 0h1m1 0h1m.5 0h1m2.5 0h1m5.5 0h1m-26 .5h1m17.5 0h1m-14 .5h1m13 0h1m-19 .5h1m5 0h1m-.5 .5h1m1 0h1m3 0h1m2 0h1m10 0h1m-21.5 .5h1m3.5 0h1m-13.5 .5h1m2 0h1m.5 0h1m1 0h1m.5 0h1m.5 0h1m10.5 0h1m40.5 0h1m-70 .5h1m11 0h1m4 0h1m1.5 0h1m3.5 0h1m3.5 0h1m-30 .5h1m13 0h1m1 0h1m3 0h1m2 0h1m2 0h1m-12 .5h1m-5.5 .5h1m5 0h1m7.5 0h1m-16 .5h1m-.5 0h1m1.5 0h1m.5 0h1m-6 .5h1m1.5 0h1m6.5 0h1m1.5 0h1m-8 .5h1m.5 0h1m1 0h1m-12.5 .5h1m3.5 0h1m0 0h1m1 0h1m.5 0h1m5 0h1m15 0h1m-30 .5h1m1.5 0h1m30 0h1m-33 .5h1m4 0h1m26.5 0h1m-30 .5h1m2 0h1m-6 .5h1m7 0h1m0 0h1m1 0h1m-14 .5h1m.5 .5h1m1 .5h1m1 0h1m0 0h1m-3 .5h1m0 0h1m4.5 0h1m-4 .5h1m-15.5 .5h1m14 0h1m1 0h1m-10.5 .5h1m15 0h1m5 .5h1m-23.5 1h1m9.5 0h1m-8.5 .5h1m2 0h1m2.5 0h1m-.5 .5h1m7 1.5h1m-11 .5h1m15.5 0h1m-9.5 1h1m-11.5 .5h1m3.5 0h1m-4.5 1.5h1m-8 .5h1" stroke="#000" stroke-opacity="0.3" fill="none"/>
<rect x="322.80" y="154.20" width="88.10" height="87.80" fill="none" stroke="#1a1a1a" stroke-width="1.2"/>
<line x1="358.60" y1="153.60" x2="358.60" y2="242.60" stroke="#1a1a1a" stroke-width="1.1"/>
<line x1="322.20" y1="182.50" x2="411.50" y2="182.50" stroke="#1a1a1a" stroke-width="1.1"/>
<text x="324.00" y="162.20" font-size="8.4" text-anchor="start" font-weight="normal" font-style="normal" fill="#1a1a1a" >11.2</text>
<text x="408.10" y="162.20" font-size="8.4" text-anchor="end" font-weight="normal" font-style="normal" fill="#1a1a1a" >4.31</text>
<text x="324.00" y="239.00" font-size="8.4" text-anchor="start" font-weight="normal" font-style="normal" fill="#1a1a1a" >60.7</text>
<text x="408.10" y="239.00" font-size="8.4" text-anchor="end" font-weight="normal" font-style="normal" fill="#1a1a1a" >23.8</text>
<line x1="320.20" y1="162.70" x2="322.70" y2="162.70" stroke="#222" stroke-width="1.1"/>
<text x="316.00" y="165.30" font-size="7.0" text-anchor="end" fill="#222">10<tspan dy="-2.8" font-size="5.04">5</tspan></text>
<line x1="320.20" y1="182.50" x2="322.70" y2="182.50" stroke="#222" stroke-width="1.1"/>
<text x="316.00" y="185.10" font-size="7.0" text-anchor="end" fill="#222">10<tspan dy="-2.8" font-size="5.04">4</tspan></text>
<line x1="320.20" y1="203.40" x2="322.70" y2="203.40" stroke="#222" stroke-width="1.1"/>
<text x="316.00" y="206.00" font-size="7.0" text-anchor="end" fill="#222">10<tspan dy="-2.8" font-size="5.04">3</tspan></text>
<line x1="320.20" y1="227.90" x2="322.70" y2="227.90" stroke="#222" stroke-width="1.1"/>
<text x="316.70" y="230.50" font-size="7.0" text-anchor="end" fill="#222">0</text>
<line x1="320.90" y1="168.64" x2="322.70" y2="168.64" stroke="#333" stroke-width="0.8"/>
<line x1="320.90" y1="173.00" x2="322.70" y2="173.00" stroke="#333" stroke-width="0.8"/>
<line x1="320.90" y1="176.56" x2="322.70" y2="176.56" stroke="#333" stroke-width="0.8"/>
<line x1="320.90" y1="188.77" x2="322.70" y2="188.77" stroke="#333" stroke-width="0.8"/>
<line x1="320.90" y1="193.37" x2="322.70" y2="193.37" stroke="#333" stroke-width="0.8"/>
<line x1="320.90" y1="197.13" x2="322.70" y2="197.13" stroke="#333" stroke-width="0.8"/>
<line x1="320.90" y1="210.75" x2="322.70" y2="210.75" stroke="#333" stroke-width="0.8"/>
<line x1="320.90" y1="216.14" x2="322.70" y2="216.14" stroke="#333" stroke-width="0.8"/>
<line x1="320.90" y1="220.55" x2="322.70" y2="220.55" stroke="#333" stroke-width="0.8"/>
<line x1="341.20" y1="242.10" x2="341.20" y2="244.60" stroke="#222" stroke-width="1.1"/>
<text x="341.20" y="257.00" font-size="7.0" text-anchor="middle" fill="#222">0</text>
<line x1="355.00" y1="242.10" x2="355.00" y2="244.60" stroke="#222" stroke-width="1.1"/>
<text x="356.20" y="257.00" font-size="7.0" text-anchor="middle" fill="#222">10<tspan dy="-2.8" font-size="5.04">3</tspan></text>
<line x1="379.90" y1="242.10" x2="379.90" y2="244.60" stroke="#222" stroke-width="1.1"/>
<text x="381.10" y="257.00" font-size="7.0" text-anchor="middle" fill="#222">10<tspan dy="-2.8" font-size="5.04">4</tspan></text>
<line x1="399.50" y1="242.10" x2="399.50" y2="244.60" stroke="#222" stroke-width="1.1"/>
<text x="400.70" y="257.00" font-size="7.0" text-anchor="middle" fill="#222">10<tspan dy="-2.8" font-size="5.04">5</tspan></text>
<line x1="345.34" y1="242.10" x2="345.34" y2="244.10" stroke="#333" stroke-width="0.8"/>
<line x1="348.38" y1="242.10" x2="348.38" y2="244.10" stroke="#333" stroke-width="0.8"/>
<line x1="350.86" y1="242.10" x2="350.86" y2="244.10" stroke="#333" stroke-width="0.8"/>
<line x1="352.93" y1="242.10" x2="352.93" y2="244.10" stroke="#333" stroke-width="0.8"/>
<line x1="362.47" y1="242.10" x2="362.47" y2="244.10" stroke="#333" stroke-width="0.8"/>
<line x1="367.95" y1="242.10" x2="367.95" y2="244.10" stroke="#333" stroke-width="0.8"/>
<line x1="372.43" y1="242.10" x2="372.43" y2="244.10" stroke="#333" stroke-width="0.8"/>
<line x1="376.16" y1="242.10" x2="376.16" y2="244.10" stroke="#333" stroke-width="0.8"/>
<line x1="385.78" y1="242.10" x2="385.78" y2="244.10" stroke="#333" stroke-width="0.8"/>
<line x1="390.09" y1="242.10" x2="390.09" y2="244.10" stroke="#333" stroke-width="0.8"/>
<line x1="393.62" y1="242.10" x2="393.62" y2="244.10" stroke="#333" stroke-width="0.8"/>
<line x1="396.56" y1="242.10" x2="396.56" y2="244.10" stroke="#333" stroke-width="0.8"/>
<ellipse cx="343.5" cy="308" rx="11" ry="7.5" fill="url(#core)" opacity="1.0"/>
<ellipse cx="378" cy="304" rx="8" ry="9" fill="url(#core)" opacity="0.95"/>
<ellipse cx="377" cy="286" rx="6" ry="7" fill="url(#core)" opacity="0.3"/>
<ellipse cx="342" cy="282" rx="10" ry="12" fill="url(#core)" opacity="0.1"/>
<path d="M341 266h1m4.5 0h1m33 2h1m-49 .5h1m9.5 0h1m-6 .5h1m36.5 0h1m-42.5 1h1m9.5 0h1m5.5 .5h1m22 0h1m-40.5 .5h1m5.5 0h1m32 0h1m-34 1h1m36.5 0h1m-5 .5h1m-33.5 1h1m40 0h1m-53 .5h1m16 0h1m9.5 0h1m-19 .5h1m5 0h1m22 0h1m-28 .5h1m38 0h1m-41.5 1h1m2 0h1m10.5 1h1m-19.5 .5h1m3 0h1m-.5 0h1m8.5 0h1m-25.5 .5h1m11 0h1m1 0h1m1 0h1m34.5 0h1m6.5 0h1m-46.5 .5h1m11 0h1m-14 .5h1m2.5 0h1m1.5 0h1m32 0h1m-45 .5h1m12.5 0h1m-3.5 .5h1m1 0h1m28.5 0h1m-48 .5h1m1 0h1m7.5 0h1m16.5 0h1m13 0h1m8 0h1m-53.5 .5h1m4.5 0h1m6.5 0h1m-.5 0h1m2 0h1m33.5 0h1m-46.5 .5h1m16.5 0h1m-28 .5h1m11 0h1m32 0h1m7.5 0h1m-44.5 .5h1m5.5 0h1m24.5 0h1m18 0h1m-38 .5h1m-.5 0h1m29 0h1m-35.5 .5h1m3 0h1m4 0h1m25 0h1m-40 .5h1m6.5 0h1m-9 .5h1m6.5 0h1m2 0h1m37 0h1m-49 .5h1m34.5 0h1m7.5 0h1m-41.5 .5h1m34 0h1m2.5 0h1m-52 .5h1m2 0h1m0 0h1m7.5 0h1m0 0h1m-3 .5h1m13.5 0h1m10.5 0h1m.5 0h1m4 0h1m-.5 0h1m6 0h1m-34.5 .5h1m22.5 0h1m2 0h1m4.5 0h1m-31.5 .5h1m19 0h1m0 0h1m-33 .5h1m30 0h1m13 0h1m-53 .5h1m13 0h1m1.5 0h1m10 0h1m12.5 0h1m-45 .5h1m48 0h1m-43.5 .5h1m11.5 0h1m24.5 0h1m-.5 0h1m9 0h1m-51 .5h1m44 0h1m-.5 0h1m10 0h1m-59.5 .5h1m2 .5h1m1 0h1m4 0h1m36 0h1m4.5 0h1m.5 0h1m-54.5 .5h1m7 0h1m29.5 .5h1m1.5 0h1m3.5 0h1m2 0h1m-26.5 .5h1m22 0h1m2.5 0h1m-11 .5h1m4.5 0h1m0 0h1m4.5 0h1m.5 0h1m-51 .5h1m9 .5h1m33.5 0h1m-40 .5h1m32 0h1m9.5 0h1m-53.5 .5h1m37.5 0h1m15.5 0h1m-14 .5h1m23 0h1m-57 .5h1m24 0h1m14 0h1m-50.5 .5h1m33 0h1m3.5 0h1m4 0h1m3 0h1m-52.5 .5h1m12.5 0h1m3.5 0h1m.5 0h1m11.5 0h1m9.5 0h1m1 0h1m1 0h1m2 0h1m5 0h1m-13.5 .5h1m4 0h1m-.5 0h1m.5 0h1m2 0h1m-41 .5h1m27.5 0h1m4.5 0h1m-39 .5h1m7 0h1m10 0h1m14 0h1m3.5 0h1m.5 0h1m-29 .5h1m26.5 0h1m2 0h1m-.5 0h1m1.5 0h1m1 0h1m-52.5 .5h1m6.5 0h1m16.5 0h1m9 0h1m7.5 0h1m4.5 0h1m-31.5 .5h1m0 0h1m16 0h1m1 0h1m-.5 0h1m-27 .5h1m22 0h1m5 0h1m5 0h1m4.5 0h1m-44 .5h1m21.5 0h1m8 0h1m.5 0h1m6.5 0h1m2.5 0h1m-51 .5h1m12 0h1m13 0h1m4.5 0h1m-31.5 .5h1m0 0h1m4 0h1m2 0h1m17 0h1m9 0h1m1.5 0h1m-51.5 .5h1m8 0h1m-.5 0h1m1 0h1m3.5 0h1m.5 0h1m10 0h1m12.5 0h1m5.5 0h1m.5 0h1m-.5 0h1m.5 0h1m4.5 0h1m-51 .5h1m38 0h1m4.5 0h1m1 0h1m.5 0h1m-53 .5h1m3 0h1m0 0h1m1 0h1m.5 0h1m-.5 0h1m1 0h1m-.5 0h1m28.5 0h1m-.5 0h1m5.5 0h1m.5 0h1m-45.5 .5h1m1.5 0h1m4.5 0h1m20 0h1m8.5 0h1m0 0h1m7 0h1m-48.5 .5h1m4 0h1m5.5 0h1m8 0h1m6 0h1m8.5 0h1m4.5 0h1m-.5 0h1m1 0h1m-45.5 .5h1m-.5 0h1m7 0h1m1.5 0h1m1.5 0h1m5.5 0h1m12.5 0h1m3 0h1m-.5 0h1m3 0h1m-.5 0h1m1.5 0h1m2 0h1m10 0h1m-67.5 .5h1m8.5 0h1m2.5 0h1m6 0h1m-17 .5h1m2 0h1m2 0h1m-.5 0h1m1 0h1m2 0h1m0 0h1m1.5 0h1m8 0h1m16.5 0h1m0 0h1m7 0h1m0 0h1m1 0h1m-61 .5h1m9 0h1m0 0h1m6.5 0h1m28.5 0h1m2 0h1m7.5 0h1m-53 .5h1m4.5 0h1m3.5 0h1m-.5 0h1m-.5 0h1m0 0h1m1.5 0h1m17 0h1m23.5 0h1m-63 .5h1m8 0h1m1.5 0h1m1 0h1m-.5 0h1m3 0h1m3 0h1m2.5 0h1m0 0h1m21.5 0h1m-.5 0h1m1 0h1m9 0h1m-60.5 .5h1m-.5 0h1m6.5 0h1m1 0h1m1.5 0h1m.5 0h1m0 0h1m3 0h1m6 0h1m11.5 0h1m-30 .5h1m-.5 0h1m0 0h1m0 0h1m2.5 0h1m7 0h1m6.5 0h1m4 0h1m1.5 0h1m5.5 0h1m-45 .5h1m9.5 0h1m2 0h1m4 0h1m17.5 0h1m3.5 0h1m.5 0h1m3 0h1m-45.5 .5h1m1.5 0h1m2.5 0h1m1.5 0h1m-.5 0h1m.5 0h1m2 0h1m1 0h1m-27.5 .5h1m11.5 0h1m5.5 0h1m.5 0h1m.5 0h1m2 0h1m20.5 0h1m1.5 0h1m-.5 0h1m1.5 0h1m-44 .5h1m3.5 0h1m9 0h1m-.5 0h1m-.5 0h1m3.5 0h1m17.5 0h1m2 0h1m7.5 0h1m-50.5 .5h1m6 0h1m8.5 0h1m2 0h1m7 0h1m3.5 0h1m6.5 0h1m3 0h1m.5 0h1m-46.5 .5h1m.5 0h1m-.5 0h1m-.5 0h1m8.5 0h1m1 0h1m-.5 0h1m18 0h1m6.5 0h1m3 0h1m-46 .5h1m1.5 0h1m2 0h1m1 0h1m0 0h1m0 0h1m0 0h1m3.5 0h1m22.5 0h1m4 0h1m-41 .5h1m9.5 0h1m6 0h1m21.5 0h1m-40.5 .5h1m1.5 0h1m0 0h1m2.5 0h1m21.5 0h1m5.5 0h1m1 0h1m0 0h1m.5 0h1m1.5 0h1m-45.5 .5h1m2 0h1m4.5 0h1m0 0h1m26 0h1m-50.5 .5h1m14.5 0h1m5.5 0h1m-10 .5h1m11.5 0h1m25 0h1m-49.5 .5h1m12.5 0h1m8.5 0h1m.5 0h1m20.5 0h1m2 0h1m-40 .5h1m5 0h1m-.5 0h1m1.5 0h1m0 0h1m1 0h1m0 0h1m11 0h1m29 0h1m-62 .5h1m9 0h1m2.5 0h1m1.5 0h1m7.5 0h1m-31 .5h1m12 0h1m8.5 0h1m32.5 0h1m-46.5 .5h1m6.5 0h1m1.5 0h1m-.5 0h1m4 0h1m20 0h1m15.5 0h1m-63.5 .5h1m8 0h1m9.5 0h1m14 0h1m-21 .5h1m1.5 0h1m2 0h1m-.5 0h1m1 0h1m17 0h1m6 0h1m10.5 0h1m-63.5 .5h1m14.5 0h1m.5 0h1m-.5 0h1m4 0h1m6.5 0h1m32.5 0h1m-33 .5h1m13.5 0h1m-33 .5h1m4 0h1m6.5 0h1m6 0h1m26 0h1m-42 .5h1m42 0h1m-42.5 .5h1m42.5 .5h1m-55.5 1h1m6.5 0h1m-4 .5h1m.5 0h1m1.5 0h1m22 .5h1m-19 .5h1m9 0h1m-6.5 .5h1m-18.5 .5h1m9.5 0h1m0 0h1m2 0h1m27.5 0h1m-31 .5h1m5 0h1m11.5 0h1m-36 .5h1m6.5 0h1m2 0h1m6.5 0h1m5.5 0h1m-14.5 .5h1m15.5 0h1m-20.5 .5h1m3 .5h1m3.5 0h1m4 0h1m-15 .5h1m2.5 0h1m-.5 .5h1m4 0h1m4 .5h1m-17.5 .5h1m1 0h1m7 .5h1m3.5 0h1m29.5 .5h1m-23 .5h1m-33 1h1m14 0h1m-4.5 .5h1m8 1.5h1m-17 1h1m5.5 .5h1m53.5 1h1m-56 .5h1" stroke="#000" stroke-opacity="0.3" fill="none"/>
<path d="M329 265.5h1m25 1h1m-13.5 1h1m6 1h1m-26.5 .5h1m34.5 1h1m16 .5h1m-51 1h1m6 0h1m3 0h1m6 0h1m-4 .5h1m29.5 .5h1m9.5 0h1m-49 .5h1m16 0h1m-5 .5h1m2.5 .5h1m27 0h1m-42.5 .5h1m-.5 0h1m45 0h1m-38 .5h1m11 .5h1m16.5 0h1m9 0h1m-53.5 .5h1m13.5 0h1m30 0h1m-55.5 .5h1m53.5 0h1m-50 .5h1m33 0h1m-25.5 .5h1m5.5 0h1m5.5 0h1m21 0h1m-50.5 .5h1m20 0h1m26.5 0h1m6.5 .5h1m9.5 0h1m-49.5 .5h1m29.5 0h1m-49.5 .5h1m19.5 0h1m-15 .5h1m20.5 0h1m-23 .5h1m36.5 0h1m-25.5 .5h1m2 0h1m9 0h1m16.5 0h1m6 0h1m-37 .5h1m23 0h1m16 0h1m-54 .5h1m14 0h1m21 0h1m6.5 0h1m-14.5 .5h1m10.5 0h1m1.5 0h1m-34.5 .5h1m6.5 0h1m15.5 0h1m10.5 0h1m-28 .5h1m18 0h1m1 0h1m-36.5 .5h1m9.5 0h1m24 0h1m7.5 0h1m-35 .5h1m4.5 0h1m27.5 0h1m-44 .5h1m27 0h1m5 0h1m-43 .5h1m17.5 0h1m2 0h1m18 0h1m7.5 .5h1m-50 .5h1m21 0h1m27 0h1m-31 .5h1m1 0h1m-4 .5h1m1 0h1m17 0h1m.5 0h1m7.5 0h1m1 0h1m1 0h1m-63 .5h1m3.5 0h1m3 0h1m13.5 0h1m38 0h1m-53.5 .5h1m.5 0h1m.5 0h1m19 0h1m16 0h1m2 0h1m-37 .5h1m5.5 0h1m27 0h1m3.5 0h1m0 0h1m1 0h1m0 0h1m-6 .5h1m2 0h1m4.5 0h1m-12 .5h1m2 0h1m-52.5 .5h1m40.5 0h1m20 0h1m-62 .5h1m24.5 0h1m16.5 0h1m2 0h1m6.5 0h1m2 0h1m.5 0h1m-15 .5h1m7 0h1m-25 .5h1m8.5 0h1m2 0h1m-.5 0h1m8 0h1m-.5 0h1m3.5 0h1m-40 .5h1m30 0h1m.5 0h1m1 0h1m6 0h1m-54 .5h1m32 0h1m6.5 0h1m3 0h1m10 0h1m20 0h1m-63.5 .5h1m28 0h1m1.5 0h1m-38.5 .5h1m25.5 0h1m6 0h1m5 0h1m-31 1h1m20 0h1m3 0h1m2.5 0h1m8 0h1m-51 .5h1m2 0h1m37 0h1m-44 .5h1m40.5 0h1m3 0h1m5.5 0h1m-54.5 .5h1m25 0h1m12 0h1m4.5 0h1m0 0h1m-29 .5h1m26 0h1m-.5 0h1m1 0h1m-10.5 .5h1m2.5 .5h1m.5 0h1m3.5 0h1m5.5 0h1m-17.5 .5h1m2.5 0h1m1 0h1m1 0h1m0 0h1m2 0h1m-7 .5h1m-.5 0h1m5 0h1m0 0h1m-57 .5h1m12 0h1m13.5 0h1m17 0h1m.5 0h1m19 0h1m-71 .5h1m9.5 0h1m6.5 0h1m3 0h1m9 0h1m14 0h1m4.5 0h1m0 0h1m1.5 0h1m1 0h1m-44 .5h1m5 0h1m21.5 0h1m4 0h1m.5 0h1m9.5 0h1m-51.5 .5h1m2 0h1m3 0h1m1.5 0h1m11.5 0h1m11.5 0h1m6.5 0h1m-.5 0h1m-.5 0h1m-.5 0h1m7.5 0h1m-47 .5h1m-.5 0h1m1.5 0h1m6.5 0h1m3 0h1m18 0h1m4 0h1m15.5 0h1m-58 .5h1m1.5 0h1m3 0h1m0 0h1m-.5 0h1m.5 0h1m.5 0h1m12 0h1m8 0h1m10 0h1m-45 .5h1m4.5 0h1m14 0h1m11 0h1m0 0h1m-.5 0h1m-.5 0h1m2.5 0h1m3 0h1m-43 .5h1m.5 0h1m13 0h1m1.5 0h1m7.5 0h1m1.5 0h1m1.5 0h1m4.5 0h1m6 0h1m-53.5 .5h1m4 0h1m5.5 0h1m1.5 0h1m2.5 0h1m5.5 0h1m6 0h1m12 0h1m0 0h1m-.5 0h1m-.5 0h1m-.5 0h1m4.5 0h1m-60.5 .5h1m15.5 0h1m1.5 0h1m3 0h1m2 0h1m24.5 0h1m4 0h1m3 0h1m1 0h1m-44 .5h1m.5 0h1m.5 0h1m6 0h1m18.5 0h1m0 0h1m21 0h1m-65 .5h1m.5 0h1m5.5 0h1m.5 0h1m-.5 0h1m2 0h1m3.5 0h1m2.5 0h1m16 0h1m3 0h1m-.5 0h1m7 0h1m-58.5 .5h1m-.5 0h1m9 0h1m1.5 0h1m3 0h1m8.5 0h1m20 0h1m8.5 0h1m2.5 0h1m-52.5 .5h1m8 0h1m4 0h1m20 0h1m4.5 0h1m-.5 0h1m5 0h1m5.5 0h1m4 0h1m-69 .5h1m7.5 0h1m5 0h1m2 0h1m26 0h1m.5 0h1m4 0h1m1.5 0h1m-.5 0h1m1 0h1m2.5 0h1m-48.5 .5h1m2 0h1m-.5 0h1m.5 0h1m-.5 0h1m3.5 0h1m1 0h1m2.5 0h1m4 0h1m15.5 0h1m-39 .5h1m1 0h1m2 0h1m.5 0h1m.5 0h1m3.5 0h1m5 0h1m-.5 0h1m3 0h1m-.5 0h1m22 0h1m1.5 0h1m-56.5 .5h1m3.5 0h1m4.5 0h1m-.5 0h1m2 0h1m1 0h1m-.5 0h1m1 0h1m1.5 0h1m18 0h1m7.5 0h1m0 0h1m5.5 0h1m-50 .5h1m7 0h1m5.5 0h1m.5 0h1m22 0h1m5.5 0h1m0 0h1m-52 .5h1m6.5 0h1m2.5 0h1m5.5 0h1m5 0h1m10 0h1m2.5 0h1m4 0h1m0 0h1m1.5 0h1m0 0h1m4 0h1m-46.5 .5h1m-.5 0h1m3 0h1m0 0h1m2.5 0h1m0 0h1m25.5 0h1m9 0h1m-59.5 .5h1m4 0h1m9 0h1m1 0h1m10 0h1m10 0h1m4 0h1m6 0h1m2.5 0h1m-.5 0h1m6.5 0h1m-55.5 .5h1m-.5 0h1m2 0h1m0 0h1m3 0h1m-.5 0h1m1 0h1m.5 0h1m5 0h1m5 0h1m-20.5 .5h1m1 0h1m3 0h1m7 0h1m-27.5 .5h1m5.5 0h1m-.5 0h1m8 0h1m-.5 0h1m.5 0h1m1 0h1m6.5 0h1m.5 0h1m.5 0h1m13 0h1m11 0h1m-44.5 .5h1m-.5 0h1m0 0h1m-.5 0h1m.5 0h1m2.5 0h1m-.5 0h1m3.5 0h1m0 0h1m24 0h1m-42 .5h1m3 0h1m0 0h1m-.5 0h1m0 0h1m.5 0h1m-.5 0h1m3 0h1m.5 0h1m6 0h1m22.5 0h1m-50 .5h1m9 0h1m2.5 0h1m-.5 0h1m3.5 0h1m28 0h1m-41 .5h1m0 0h1m0 0h1m0 0h1m0 0h1m2 0h1m19.5 0h1m5 0h1m7 0h1m-45.5 .5h1m4.5 0h1m8.5 0h1m6 0h1m9 0h1m1 0h1m14.5 0h1m-49 .5h1m7 0h1m8.5 0h1m17 0h1m-43.5 .5h1m11.5 0h1m1 0h1m1 0h1m-12 .5h1m1 0h1m7.5 0h1m0 0h1m7.5 0h1m21 0h1m-50.5 .5h1m6 0h1m12.5 0h1m5 0h1m1.5 0h1m8 0h1m-24 .5h1m2.5 0h1m6 0h1m-16 .5h1m7 0h1m5 0h1m1.5 0h1m18.5 0h1m-48.5 .5h1m16 0h1m24 0h1m-34.5 .5h1m3 0h1m6.5 0h1m14.5 0h1m-30 .5h1m1 0h1m5 0h1m-.5 0h1m33.5 0h1m-34.5 .5h1m16 .5h1m-26.5 .5h1m9 0h1m30.5 0h1m-38.5 .5h1m40 0h1m-41 .5h1m0 0h1m3.5 0h1m2 0h1m-6 .5h1m.5 0h1m24.5 0h1m-44 .5h1m.5 0h1m7.5 0h1m2.5 0h1m33 0h1m2 0h1m5 0h1m-62 .5h1m15 0h1m0 0h1m33 0h1m-38.5 .5h1m1.5 0h1m4.5 0h1m-4.5 .5h1m26 0h1m10 0h1m-44 .5h1m5 1.5h1m-18.5 .5h1m21.5 0h1m-12.5 .5h1m4 0h1m5 .5h1m7 0h1m-26 .5h1m7.5 0h1m1.5 0h1m6 1h1m-2.5 1h1m18 0h1m-14 .5h1m5.5 0h1m31 1h1m-43 1.5h1m-3.5 1h1m-4 1h1m42.5 1h1m-20 1h1m12.5 1h1m-32.5 2h1" stroke="#000" stroke-opacity="0.3" fill="none"/>
<path d="M343 267h1m2 0h1m-8 .5h1m-4 .5h1m17 .5h1m27.5 0h1m-43 .5h1m0 .5h1m-10.5 .5h1m0 0h1m5.5 .5h1m4.5 0h1m-8.5 .5h1m-10 1.5h1m36 .5h1m13 0h1m4.5 0h1m-40.5 .5h1m.5 .5h1m-.5 0h1m20 .5h1m14 .5h1m-.5 0h1m-23 .5h1m-22 .5h1m24 0h1m6 0h1m0 .5h1m-24 .5h1m8.5 0h1m21 0h1m3 0h1m-45 .5h1m2.5 0h1m-.5 0h1m26 0h1m2 0h1m1 0h1m-36.5 .5h1m.5 0h1m5.5 0h1m36.5 0h1m-54.5 .5h1m6 0h1m3 0h1m35 0h1m-44.5 .5h1m45 0h1m-54 .5h1m27.5 .5h1m31.5 0h1m-59 .5h1m22 0h1m14 0h1m4.5 0h1m-50 .5h1m0 0h1m2 0h1m1 0h1m19 0h1m4 0h1m-34.5 .5h1m52 0h1m-51 .5h1m1.5 0h1m9.5 0h1m10 0h1m31 0h1m-59.5 .5h1m14 0h1m7 0h1m-21 .5h1m45 0h1m-46.5 1.5h1m6 0h1m0 0h1m14 0h1m18.5 0h1m-38 .5h1m2.5 0h1m5.5 0h1m4.5 0h1m-.5 0h1m29 0h1m-53.5 .5h1m4 0h1m18 0h1m18.5 0h1m5.5 0h1m-30.5 .5h1m10.5 0h1m9.5 0h1m8 0h1m-47 .5h1m8.5 0h1m1.5 0h1m22.5 0h1m-.5 0h1m10.5 0h1m-41.5 .5h1m23 0h1m-32 .5h1m3.5 0h1m38 0h1m10.5 0h1m-38 .5h1m30.5 0h1m-29.5 .5h1m10 0h1m8 0h1m-33.5 .5h1m2 0h1m14 0h1m1 0h1m10 0h1m-45.5 .5h1m35 0h1m14 0h1m-37.5 .5h1m6 0h1m-24 .5h1m4.5 0h1m20 0h1m12.5 0h1m-5 .5h1m11 .5h1m9.5 0h1m7.5 0h1m-47 .5h1m22.5 0h1m10 0h1m-49 .5h1m-.5 0h1m3 0h1m1.5 0h1m1.5 0h1m29.5 .5h1m3 0h1m5.5 0h1m-27.5 .5h1m11 0h1m4 0h1m-.5 0h1m-36.5 .5h1m10 0h1m3.5 0h1m12.5 0h1m0 0h1m1 0h1m5.5 0h1m-45 .5h1m40.5 0h1m16.5 0h1m-52.5 .5h1m18 0h1m.5 0h1m16.5 0h1m1.5 0h1m-45 .5h1m2.5 .5h1m29 0h1m2 .5h1m6 0h1m-35 .5h1m19 0h1m4 0h1m8 0h1m11 0h1m-53.5 .5h1m11 0h1m14 0h1m1.5 0h1m-.5 .5h1m1 0h1m2.5 0h1m5.5 0h1m-57.5 .5h1m13 0h1m4.5 0h1m18 0h1m0 0h1m1.5 0h1m5.5 0h1m2.5 0h1m1.5 0h1m-50.5 .5h1m-.5 0h1m4.5 0h1m.5 0h1m5.5 0h1m17.5 0h1m2.5 0h1m7 0h1m3.5 0h1m-52 .5h1m8 0h1m.5 0h1m.5 0h1m2 0h1m27 0h1m0 0h1m30 0h1m-75 .5h1m16 0h1m16 0h1m6 0h1m1.5 0h1m1 0h1m-48.5 .5h1m0 0h1m11.5 0h1m.5 0h1m31 0h1m-48 .5h1m11 0h1m-.5 0h1m1 0h1m2 0h1m20.5 0h1m2.5 0h1m1 0h1m-30.5 .5h1m2.5 0h1m19.5 0h1m4 0h1m-42.5 .5h1m41 0h1m5.5 0h1m24.5 0h1m-71.5 .5h1m3 0h1m1.5 0h1m2.5 0h1m4.5 0h1m5.5 0h1m19.5 0h1m-34.5 .5h1m5 0h1m4 0h1m17.5 0h1m-48 .5h1m9.5 0h1m23.5 0h1m6.5 0h1m0 0h1m1.5 0h1m1 0h1m1 0h1m4.5 0h1m5 0h1m4 0h1m-61 .5h1m0 0h1m5 0h1m2 0h1m5 0h1m13.5 0h1m11 0h1m3 0h1m-35.5 .5h1m1.5 0h1m4 0h1m19 0h1m8 0h1m13.5 0h1m-63 .5h1m5 0h1m1.5 0h1m1.5 0h1m.5 0h1m-.5 0h1m0 0h1m.5 0h1m5 0h1m7 0h1m5.5 0h1m7 0h1m1 0h1m-49 .5h1m1 0h1m2 0h1m.5 0h1m2 0h1m1 0h1m.5 0h1m1.5 0h1m4 0h1m6 0h1m6.5 0h1m10.5 0h1m-53.5 .5h1m7 0h1m2 0h1m4 0h1m1.5 0h1m-.5 0h1m-.5 0h1m1 0h1m28 0h1m0 0h1m1.5 0h1m2.5 0h1m-59 .5h1m3 0h1m8.5 0h1m1.5 0h1m.5 0h1m4.5 0h1m1 0h1m7 0h1m14 0h1m-42.5 .5h1m5 0h1m2.5 0h1m-.5 0h1m1 0h1m4 0h1m0 0h1m6.5 0h1m19 0h1m1.5 0h1m.5 0h1m-55.5 .5h1m4 0h1m8 0h1m-.5 0h1m0 0h1m1 0h1m2.5 0h1m0 0h1m1.5 0h1m22.5 0h1m8 0h1m1 0h1m-62.5 .5h1m13 0h1m4 0h1m.5 0h1m0 0h1m0 0h1m19 0h1m4.5 0h1m0 0h1m7 0h1m-53.5 .5h1m6.5 0h1m7 0h1m1.5 0h1m-.5 0h1m15 0h1m3 0h1m6.5 0h1m0 0h1m3.5 0h1m-42.5 .5h1m1 0h1m4.5 0h1m1.5 0h1m1.5 0h1m1 0h1m7.5 0h1m6.5 0h1m2 0h1m3.5 0h1m-37.5 .5h1m0 0h1m3 0h1m-.5 0h1m17.5 0h1m2 0h1m14 0h1m-51 .5h1m5 0h1m-.5 0h1m0 0h1m0 0h1m-.5 0h1m-.5 0h1m6.5 0h1m3 0h1m5 0h1m13.5 0h1m9 0h1m5.5 0h1m-58 .5h1m-.5 0h1m0 0h1m7.5 0h1m-.5 0h1m6 0h1m-.5 0h1m19.5 0h1m4 0h1m-47 .5h1m3.5 0h1m0 0h1m1.5 0h1m0 0h1m1.5 0h1m1.5 0h1m-.5 0h1m3 0h1m-.5 0h1m19.5 0h1m9 0h1m-52.5 .5h1m10 0h1m0 0h1m-.5 0h1m26.5 0h1m8 0h1m-.5 0h1m-53.5 .5h1m.5 0h1m3.5 0h1m3 0h1m1.5 0h1m0 0h1m15 0h1m-.5 0h1m14 0h1m-40.5 .5h1m4 0h1m0 0h1m8 0h1m2.5 0h1m0 0h1m.5 0h1m-.5 0h1m15.5 0h1m1.5 0h1m1 0h1m-51 .5h1m10.5 0h1m0 0h1m14 0h1m26 0h1m-47.5 .5h1m-.5 0h1m6 0h1m-.5 0h1m13.5 0h1m5.5 0h1m0 0h1m-27 .5h1m3.5 0h1m16 0h1m9.5 0h1m10 0h1m-47 .5h1m5.5 0h1m.5 0h1m.5 0h1m3 0h1m30.5 0h1m0 0h1m6.5 0h1m8 0h1m-68 .5h1m11.5 0h1m-9.5 .5h1m8.5 0h1m9.5 0h1m18.5 0h1m-46 .5h1m12.5 0h1m1 0h1m22.5 0h1m20.5 0h1m-57.5 .5h1m7.5 0h1m10.5 0h1m10.5 0h1m-18.5 .5h1m0 0h1m11 0h1m-24 .5h1m4 0h1m1.5 0h1m3 0h1m0 0h1m1 0h1m31.5 0h1m-49.5 .5h1m0 0h1m-.5 0h1m13.5 0h1m10 0h1m14 0h1m-42.5 .5h1m2 0h1m2.5 0h1m2.5 0h1m.5 0h1m22.5 0h1m19.5 0h1m-53.5 .5h1m4 0h1m14.5 0h1m9 0h1m-35.5 .5h1m5.5 0h1m-4.5 .5h1m4.5 0h1m-.5 0h1m2.5 0h1m4.5 0h1m5.5 0h1m-21.5 .5h1m5 0h1m2 0h1m1 0h1m42 0h1m-67 .5h1m4.5 .5h1m6 0h1m5.5 0h1m1 0h1m0 0h1m29.5 0h1m-45 .5h1m-.5 0h1m6 0h1m-.5 0h1m-.5 0h1m1 0h1m3 0h1m-24 .5h1m7 .5h1m1.5 0h1m5.5 0h1m.5 0h1m16.5 0h1m-29.5 .5h1m2 0h1m2.5 0h1m-.5 0h1m9 0h1m-18 .5h1m2.5 0h1m-1 2h1m2.5 0h1m5.5 0h1m5 0h1m-23 .5h1m-.5 0h1m5.5 0h1m5.5 0h1m-4.5 .5h1m2 0h1m22 0h1m-29 1h1m1.5 0h1m-4 1h1m-6.5 .5h1m14.5 0h1m-13 1.5h1m3 0h1m14.5 .5h1m-17 .5h1m6.5 1h1m-1.5 1h1m2 0h1m2 .5h1m-4.5 1.5h1m-11 .5h1m-8 1h1" stroke="#000" stroke-opacity="0.3" fill="none"/>
<path d="M375 265.5h1m-49 1.5h1m17.5 0h1m9 0h1m-13 1h1m5 0h1m3 0h1m-24 1h1m45.5 1h1m2.5 .5h1m-39.5 .5h1m40 0h1m-30 .5h1m-18.5 .5h1m21.5 .5h1m25 0h1m-44 .5h1m-8.5 .5h1m13.5 0h1m22.5 .5h1m4.5 0h1m-44.5 .5h1m3 0h1m41.5 0h1m-38.5 .5h1m-12.5 .5h1m-.5 0h1m6.5 0h1m2 0h1m-.5 0h1m-11 .5h1m53 0h1m-39 .5h1m28.5 0h1m-46 .5h1m-.5 0h1m3 0h1m4.5 .5h1m28.5 0h1m-40 .5h1m19 0h1m16 0h1m9.5 0h1m-40.5 .5h1m-.5 0h1m5.5 0h1m43 0h1m-48.5 .5h1m4.5 0h1m22 0h1m.5 0h1m-20 .5h1m-4.5 .5h1m21.5 0h1m-49.5 .5h1m9.5 0h1m6.5 0h1m1 0h1m3 0h1m24 0h1m-1.5 .5h1m6.5 0h1m-38.5 .5h1m32.5 0h1m3 0h1m-48.5 .5h1m0 0h1m15.5 .5h1m3 0h1m17 0h1m8 0h1m-15.5 .5h1m-36 .5h1m30 0h1m5.5 0h1m6 0h1m-41.5 .5h1m4.5 0h1m5.5 0h1m21 0h1m-33 .5h1m-.5 0h1m3.5 0h1m29 0h1m8 0h1m4.5 0h1m-63.5 .5h1m11.5 0h1m37.5 0h1m-49 .5h1m11.5 0h1m2 0h1m7 0h1m16.5 0h1m4.5 0h1m1 0h1m-7 .5h1m5.5 0h1m.5 0h1m0 0h1m-48.5 .5h1m8.5 0h1m40.5 0h1m-57 .5h1m4 0h1m5 0h1m42.5 0h1m-18.5 .5h1m7 0h1m3 0h1m2 0h1m4 0h1m-59 .5h1m3 0h1m16 0h1m26.5 0h1m-33 .5h1m25.5 0h1m-40 .5h1m21.5 0h1m11.5 0h1m-.5 0h1m2.5 0h1m5 0h1m1.5 0h1m-49.5 .5h1m7.5 0h1m28.5 0h1m-23.5 .5h1m8 0h1m17 0h1m1.5 0h1m0 0h1m10.5 0h1m-63 .5h1m5.5 0h1m36 0h1m-31 .5h1m5 0h1m1 0h1m23.5 0h1m1 0h1m0 0h1m-7.5 .5h1m4.5 0h1m5.5 0h1m-50.5 .5h1m4.5 0h1m-.5 0h1m14.5 0h1m16.5 0h1m-33 .5h1m0 0h1m16 0h1m3.5 0h1m-6 .5h1m18 0h1m.5 0h1m-45 .5h1m4.5 0h1m39.5 0h1m-28.5 .5h1m24 0h1m-32 .5h1m25 0h1m-48.5 .5h1m13.5 0h1m2 0h1m2.5 0h1m30.5 0h1m14.5 0h1m-47 .5h1m5.5 0h1m2 0h1m13.5 0h1m5 0h1m-5.5 .5h1m-.5 .5h1m1.5 0h1m1.5 0h1m6 0h1m-18 .5h1m8 0h1m4 0h1m-.5 0h1m0 0h1m-16 .5h1m8 0h1m-35 .5h1m29 0h1m2 0h1m3.5 0h1m-7.5 .5h1m1 0h1m2.5 0h1m3 0h1m1.5 0h1m-45 .5h1m30 0h1m5.5 0h1m-56 .5h1m8 0h1m40 0h1m0 0h1m-.5 0h1m7.5 0h1m-47.5 .5h1m2.5 0h1m1.5 0h1m22 0h1m4 0h1m1.5 0h1m-.5 0h1m.5 0h1m2.5 0h1m2.5 0h1m-54.5 .5h1m7.5 0h1m13.5 0h1m19 0h1m1 0h1m3 0h1m-.5 0h1m0 0h1m2.5 0h1m-50.5 .5h1m2.5 0h1m5 0h1m2.5 0h1m32 0h1m6 0h1m-48 .5h1m3 0h1m1.5 0h1m16 0h1m1.5 0h1m4.5 0h1m2.5 0h1m2.5 0h1m4 0h1m1.5 0h1m-51.5 .5h1m5.5 0h1m0 0h1m0 0h1m3.5 0h1m16 0h1m14.5 0h1m-50.5 .5h1m22.5 0h1m6.5 0h1m11.5 0h1m3 0h1m0 0h1m5 0h1m-51 .5h1m2.5 0h1m1 0h1m1 0h1m1 0h1m2.5 0h1m-.5 0h1m15.5 0h1m.5 0h1m3 0h1m3.5 0h1m-38.5 .5h1m4 0h1m-14 .5h1m10 0h1m8 0h1m5.5 0h1m12.5 0h1m3 0h1m.5 0h1m-.5 0h1m-.5 0h1m3 0h1m1.5 0h1m-41 .5h1m1.5 0h1m0 0h1m.5 0h1m.5 0h1m2.5 0h1m4.5 0h1m2 0h1m4.5 0h1m7.5 0h1m0 0h1m-.5 0h1m4 0h1m13 0h1m-62 .5h1m1.5 0h1m.5 0h1m1 0h1m2 0h1m.5 0h1m-.5 0h1m2 0h1m1 0h1m10 0h1m.5 0h1m6.5 0h1m1.5 0h1m2 0h1m-38 .5h1m2 0h1m1.5 0h1m-.5 0h1m.5 0h1m2 0h1m3 0h1m19 0h1m5 0h1m7.5 0h1m-56.5 .5h1m.5 0h1m1.5 0h1m.5 0h1m-.5 0h1m3.5 0h1m11.5 0h1m22 0h1m1.5 0h1m.5 0h1m-51.5 .5h1m5.5 0h1m1.5 0h1m2.5 0h1m1.5 0h1m2.5 0h1m12.5 0h1m13.5 0h1m-.5 0h1m5.5 0h1m-47.5 .5h1m0 0h1m0 0h1m1.5 0h1m2.5 0h1m2.5 0h1m12 0h1m20 0h1m1 0h1m-50.5 .5h1m0 0h1m1 0h1m2.5 0h1m0 0h1m.5 0h1m0 0h1m.5 0h1m8.5 0h1m10.5 0h1m1.5 0h1m1 0h1m1 0h1m1.5 0h1m-50.5 .5h1m3.5 0h1m5 0h1m2 0h1m0 0h1m0 0h1m-.5 0h1m1 0h1m25.5 0h1m.5 0h1m-49.5 .5h1m10.5 0h1m19.5 0h1m0 0h1m25.5 0h1m-60.5 .5h1m3.5 0h1m0 0h1m1 0h1m10.5 0h1m1 0h1m-.5 0h1m-.5 0h1m0 0h1m15.5 0h1m-38 .5h1m1.5 0h1m1.5 0h1m3.5 0h1m5 0h1m1.5 0h1m29.5 0h1m-52 .5h1m8.5 0h1m1 0h1m6 0h1m0 0h1m6 0h1m-.5 0h1m23.5 0h1m.5 0h1m-.5 0h1m6.5 0h1m-54.5 .5h1m0 0h1m1 0h1m10 0h1m0 0h1m2.5 0h1m22 0h1m-40 .5h1m0 0h1m1 0h1m1 0h1m1 0h1m2 0h1m1.5 0h1m-.5 0h1m1 0h1m-.5 0h1m-22.5 .5h1m9 0h1m1.5 0h1m26.5 0h1m0 0h1m-47 .5h1m8.5 0h1m4 0h1m.5 0h1m3 0h1m1.5 0h1m.5 0h1m6 0h1m3.5 0h1m5.5 0h1m-34.5 .5h1m8.5 0h1m-.5 0h1m0 0h1m.5 0h1m1.5 0h1m20 0h1m1.5 0h1m8.5 0h1m12.5 0h1m-59.5 .5h1m.5 0h1m-.5 0h1m1.5 0h1m2.5 0h1m5.5 0h1m16 0h1m4 0h1m-47.5 .5h1m5 0h1m5 0h1m9 0h1m1.5 0h1m-22.5 .5h1m.5 0h1m-.5 0h1m6 0h1m2 0h1m-.5 0h1m4 0h1m-23.5 .5h1m3 0h1m9 0h1m1.5 0h1m46 0h1m-57.5 .5h1m4 0h1m5 0h1m5.5 0h1m3.5 0h1m21 0h1m0 0h1m-41 .5h1m5.5 0h1m29 0h1m8 0h1m0 0h1m-40 .5h1m-6 .5h1m12.5 0h1m12 0h1m1.5 0h1m7.5 0h1m2.5 0h1m-55.5 .5h1m9.5 0h1m5 0h1m-5.5 .5h1m5.5 0h1m33.5 0h1m14 0h1m-63.5 .5h1m1 0h1m1 0h1m-.5 0h1m0 0h1m2 0h1m8.5 0h1m6.5 0h1m-34 .5h1m11.5 0h1m8 0h1m4 0h1m-.5 0h1m20.5 0h1m-42.5 .5h1m7 0h1m4 0h1m0 0h1m-2 .5h1m-.5 0h1m5 0h1m-15.5 .5h1m9 0h1m25.5 0h1m4 0h1m2.5 0h1m-42 .5h1m2 0h1m-.5 0h1m0 0h1m-.5 0h1m0 0h1m-22 1h1m13 0h1m.5 0h1m5.5 0h1m-12 .5h1m2.5 0h1m13.5 0h1m25.5 0h1m-41.5 .5h1m7.5 0h1m-13 1.5h1m1 0h1m-14 .5h1m13 0h1m8 0h1m-22 1h1m8 0h1m5 0h1m3 0h1m5 .5h1m-17.5 .5h1m1.5 .5h1m-.5 0h1m.5 0h1m15.5 0h1m-26.5 1h1m2 0h1m4.5 .5h1m42 0h1m-50.5 .5h1m10 0h1m0 0h1m15 1h1m-19 .5h1m5 0h1m-3.5 1h1m2.5 .5h1m3.5 2h1m-13.5 5h1m1 2.5h1" stroke="#000" stroke-opacity="0.3" fill="none"/>
<rect x="322.80" y="265.00" width="88.10" height="87.00" fill="none" stroke="#1a1a1a" stroke-width="1.2"/>
<line x1="359.50" y1="264.40" x2="359.50" y2="352.60" stroke="#1a1a1a" stroke-width="1.1"/>
<line x1="322.20" y1="293.20" x2="411.50" y2="293.20" stroke="#1a1a1a" stroke-width="1.1"/>
<text x="324.00" y="273.00" font-size="8.4" text-anchor="start" font-weight="normal" font-style="normal" fill="#1a1a1a" >8.58</text>
<text x="408.10" y="273.00" font-size="8.4" text-anchor="end" font-weight="normal" font-style="normal" fill="#1a1a1a" >6.1</text>
<text x="324.00" y="349.00" font-size="8.4" text-anchor="start" font-weight="normal" font-style="normal" fill="#1a1a1a" >46.1</text>
<text x="408.10" y="349.00" font-size="8.4" text-anchor="end" font-weight="normal" font-style="normal" fill="#1a1a1a" >39.2</text>
<line x1="320.20" y1="273.40" x2="322.70" y2="273.40" stroke="#222" stroke-width="1.1"/>
<text x="316.00" y="276.00" font-size="7.0" text-anchor="end" fill="#222">10<tspan dy="-2.8" font-size="5.04">5</tspan></text>
<line x1="320.20" y1="292.80" x2="322.70" y2="292.80" stroke="#222" stroke-width="1.1"/>
<text x="316.00" y="295.40" font-size="7.0" text-anchor="end" fill="#222">10<tspan dy="-2.8" font-size="5.04">4</tspan></text>
<line x1="320.20" y1="313.30" x2="322.70" y2="313.30" stroke="#222" stroke-width="1.1"/>
<text x="316.00" y="315.90" font-size="7.0" text-anchor="end" fill="#222">10<tspan dy="-2.8" font-size="5.04">3</tspan></text>
<line x1="320.20" y1="338.60" x2="322.70" y2="338.60" stroke="#222" stroke-width="1.1"/>
<text x="316.70" y="341.20" font-size="7.0" text-anchor="end" fill="#222">0</text>
<line x1="320.90" y1="279.22" x2="322.70" y2="279.22" stroke="#333" stroke-width="0.8"/>
<line x1="320.90" y1="283.49" x2="322.70" y2="283.49" stroke="#333" stroke-width="0.8"/>
<line x1="320.90" y1="286.98" x2="322.70" y2="286.98" stroke="#333" stroke-width="0.8"/>
<line x1="320.90" y1="298.95" x2="322.70" y2="298.95" stroke="#333" stroke-width="0.8"/>
<line x1="320.90" y1="303.46" x2="322.70" y2="303.46" stroke="#333" stroke-width="0.8"/>
<line x1="320.90" y1="307.15" x2="322.70" y2="307.15" stroke="#333" stroke-width="0.8"/>
<line x1="320.90" y1="320.89" x2="322.70" y2="320.89" stroke="#333" stroke-width="0.8"/>
<line x1="320.90" y1="326.46" x2="322.70" y2="326.46" stroke="#333" stroke-width="0.8"/>
<line x1="320.90" y1="331.01" x2="322.70" y2="331.01" stroke="#333" stroke-width="0.8"/>
<line x1="341.20" y1="352.10" x2="341.20" y2="354.60" stroke="#222" stroke-width="1.1"/>
<text x="341.20" y="368.40" font-size="7.0" text-anchor="middle" fill="#222">0</text>
<line x1="355.50" y1="352.10" x2="355.50" y2="354.60" stroke="#222" stroke-width="1.1"/>
<text x="356.70" y="368.40" font-size="7.0" text-anchor="middle" fill="#222">10<tspan dy="-2.8" font-size="5.04">3</tspan></text>
<line x1="379.90" y1="352.10" x2="379.90" y2="354.60" stroke="#222" stroke-width="1.1"/>
<text x="381.10" y="368.40" font-size="7.0" text-anchor="middle" fill="#222">10<tspan dy="-2.8" font-size="5.04">4</tspan></text>
<line x1="399.50" y1="352.10" x2="399.50" y2="354.60" stroke="#222" stroke-width="1.1"/>
<text x="400.70" y="368.40" font-size="7.0" text-anchor="middle" fill="#222">10<tspan dy="-2.8" font-size="5.04">5</tspan></text>
<line x1="345.49" y1="352.10" x2="345.49" y2="354.10" stroke="#333" stroke-width="0.8"/>
<line x1="348.64" y1="352.10" x2="348.64" y2="354.10" stroke="#333" stroke-width="0.8"/>
<line x1="351.21" y1="352.10" x2="351.21" y2="354.10" stroke="#333" stroke-width="0.8"/>
<line x1="353.36" y1="352.10" x2="353.36" y2="354.10" stroke="#333" stroke-width="0.8"/>
<line x1="362.82" y1="352.10" x2="362.82" y2="354.10" stroke="#333" stroke-width="0.8"/>
<line x1="368.19" y1="352.10" x2="368.19" y2="354.10" stroke="#333" stroke-width="0.8"/>
<line x1="372.58" y1="352.10" x2="372.58" y2="354.10" stroke="#333" stroke-width="0.8"/>
<line x1="376.24" y1="352.10" x2="376.24" y2="354.10" stroke="#333" stroke-width="0.8"/>
<line x1="385.78" y1="352.10" x2="385.78" y2="354.10" stroke="#333" stroke-width="0.8"/>
<line x1="390.09" y1="352.10" x2="390.09" y2="354.10" stroke="#333" stroke-width="0.8"/>
<line x1="393.62" y1="352.10" x2="393.62" y2="354.10" stroke="#333" stroke-width="0.8"/>
<line x1="396.56" y1="352.10" x2="396.56" y2="354.10" stroke="#333" stroke-width="0.8"/>
<line x1="174.20" y1="173.00" x2="174.20" y2="323.20" stroke="#000" stroke-width="1.6"/>
<path d="M174.20 168.00L177.80 176.60L174.20 174.60L170.60 176.60Z" fill="#000"/>
<text x="0" y="0" font-size="10.1" fill="#111" transform="translate(168.20,214.30) rotate(-90)">Control</text>
<text x="0" y="0" font-size="10.1" fill="#111" transform="translate(168.60,323.20) rotate(-90)">NR4A2 CKO</text>
<text x="0" y="0" font-size="9.6" fill="#111" transform="translate(176.80,349.60) rotate(-90)">IL-17</text>
<line x1="299.20" y1="173.00" x2="299.20" y2="323.20" stroke="#000" stroke-width="1.6"/>
<path d="M299.20 168.00L302.80 176.60L299.20 174.60L295.60 176.60Z" fill="#000"/>
<text x="0" y="0" font-size="9.8" fill="#111" transform="translate(302.60,353.60) rotate(-90)">IFN-<tspan font-style="italic">γ</tspan></text>
<text x="201.00" y="377.10" font-size="9.8" text-anchor="start" font-weight="normal" font-style="normal" fill="#111" >Eomes</text>
<line x1="235.10" y1="375.10" x2="396.20" y2="375.10" stroke="#000" stroke-width="2.0"/>
<path d="M401.20 375.10L391.90 371.50L394.20 375.10L391.90 378.70Z" fill="#000"/>
<text x="434.40" y="152.00" font-size="14" text-anchor="start" font-weight="bold" font-style="normal" fill="#000" >f</text>
<ellipse cx="489" cy="227" rx="12" ry="9" fill="url(#core)" opacity="0.7"/>
<ellipse cx="486.5" cy="205" rx="13" ry="24" fill="url(#core)" opacity="0.35"/>
<ellipse cx="521" cy="208" rx="11" ry="14" fill="url(#core)" opacity="0.4"/>
<path d="M477 173.5h1m-1 3.5h1m19.5 2.5h1m-23.5 1h1m6.5 0h1m1.5 0h1m3.5 .5h1m9.5 0h1m-18.5 .5h1m15 0h1m-14 .5h1m-.5 0h1m-.5 0h1m15.5 0h1m-23.5 .5h1m6 0h1m-4 .5h1m1.5 0h1m10 0h1m-7 1h1m-12.5 .5h1m2.5 .5h1m6 0h1m-.5 0h1m-.5 0h1m-9.5 .5h1m0 0h1m7 0h1m-18 .5h1m7.5 0h1m0 0h1m4.5 0h1m-14 .5h1m5 0h1m12 0h1m-13.5 .5h1m0 0h1m-6 .5h1m5 0h1m7.5 .5h1m24.5 0h1m-43 .5h1m5 0h1m4.5 0h1m-14.5 .5h1m4 0h1m2 0h1m1 0h1m-.5 0h1m30 0h1m-48 .5h1m16 0h1m4.5 0h1m-11.5 .5h1m3 0h1m-.5 0h1m7.5 0h1m25 0h1m-38.5 .5h1m1 0h1m38.5 0h1m-45.5 .5h1m1.5 0h1m4.5 0h1m1.5 0h1m21 0h1m2 0h1m-36.5 .5h1m10 0h1m-16.5 .5h1m4.5 0h1m6.5 0h1m31.5 0h1m-40.5 .5h1m8.5 0h1m3.5 0h1m15.5 0h1m15.5 0h1m-50.5 .5h1m4 0h1m4.5 0h1m0 0h1m2.5 0h1m-.5 0h1m-.5 0h1m0 0h1m31 0h1m-58.5 .5h1m12 0h1m8.5 0h1m25.5 0h1m-46.5 .5h1m7 0h1m1.5 0h1m0 0h1m1 0h1m1 0h1m27 0h1m3 0h1m-43.5 .5h1m39.5 0h1m6.5 0h1m-46.5 .5h1m3 0h1m7 0h1m16 0h1m13 0h1m1.5 0h1m-50.5 .5h1m5.5 0h1m6 0h1m41.5 0h1m-62 .5h1m3 0h1m2.5 0h1m0 0h1m5.5 0h1m10.5 0h1m-18.5 .5h1m4.5 0h1m22 0h1m-32.5 .5h1m9 0h1m0 0h1m.5 0h1m24.5 0h1m-43.5 .5h1m1 0h1m7 0h1m1.5 0h1m3.5 0h1m16 0h1m1.5 0h1m7 0h1m5.5 0h1m3.5 0h1m-40 .5h1m16.5 0h1m-33 .5h1m5.5 0h1m.5 0h1m12 0h1m11.5 0h1m16 0h1m-45 .5h1m8.5 0h1m4.5 0h1m11.5 0h1m1 0h1m-31 .5h1m16.5 0h1m8.5 0h1m4.5 0h1m5 0h1m-44.5 .5h1m9.5 0h1m.5 0h1m2 0h1m1 0h1m12.5 0h1m7 0h1m6.5 0h1m0 0h1m-43.5 .5h1m2 0h1m23 0h1m9 0h1m8 0h1m.5 0h1m-57.5 .5h1m-.5 0h1m5 0h1m-.5 0h1m13 0h1m15.5 0h1m4.5 0h1m.5 0h1m7.5 0h1m-50 .5h1m9 0h1m23 0h1m-.5 0h1m2 0h1m9 0h1m-30.5 .5h1m1.5 0h1m3.5 0h1m9.5 0h1m-41 .5h1m3.5 0h1m4.5 0h1m2 0h1m3.5 0h1m1 0h1m1 0h1m12 0h1m11.5 0h1m8 0h1m-53.5 .5h1m2 0h1m.5 0h1m3 0h1m8 0h1m16.5 0h1m4.5 0h1m2.5 0h1m1.5 0h1m3 0h1m3 0h1m5 0h1m-56 .5h1m8 0h1m1.5 0h1m2.5 0h1m27 0h1m1 0h1m1 0h1m-47.5 .5h1m9 0h1m3.5 0h1m18.5 0h1m1 0h1m5 0h1m-35.5 .5h1m21.5 0h1m3 0h1m12 0h1m-42 .5h1m1.5 0h1m3 0h1m-20.5 .5h1m3.5 0h1m6.5 0h1m24 0h1m1.5 0h1m2.5 0h1m1 0h1m1 0h1m8 0h1m-53 .5h1m.5 0h1m3.5 0h1m35 0h1m.5 0h1m2.5 0h1m3 0h1m-57.5 .5h1m3.5 0h1m1 0h1m12.5 0h1m4 0h1m24 0h1m.5 0h1m3.5 0h1m6.5 0h1m-56 .5h1m11.5 0h1m3.5 0h1m9 0h1m5 0h1m6 0h1m10 0h1m-61 .5h1m6.5 0h1m-.5 0h1m17.5 0h1m16 0h1m7 0h1m-49.5 .5h1m1 0h1m-.5 0h1m1 0h1m29.5 0h1m-38 .5h1m3 0h1m5 0h1m0 0h1m2 0h1m2 0h1m.5 0h1m6.5 0h1m10 0h1m8.5 0h1m0 0h1m12.5 0h1m-55 .5h1m1 0h1m.5 0h1m5.5 0h1m4.5 0h1m8 0h1m2.5 0h1m7 0h1m3.5 0h1m0 0h1m1 0h1m-51.5 .5h1m1.5 0h1m8 0h1m3.5 0h1m5 0h1m14.5 0h1m-39.5 .5h1m4 0h1m8 0h1m17.5 0h1m5.5 0h1m12.5 0h1m-52 .5h1m1.5 0h1m3.5 0h1m32.5 0h1m-.5 0h1m8.5 0h1m-46 .5h1m7.5 0h1m11 0h1m9 0h1m4 0h1m-39 .5h1m17.5 0h1m23.5 0h1m0 0h1m-.5 0h1m.5 0h1m0 0h1m2.5 0h1m-57 .5h1m11.5 0h1m28.5 0h1m1.5 0h1m3 0h1m2.5 0h1m6 0h1m3.5 0h1m-49 .5h1m5.5 0h1m3 0h1m3 0h1m22 0h1m2 0h1m-49.5 .5h1m3 0h1m41.5 0h1m1.5 0h1m-34.5 .5h1m20.5 0h1m2 0h1m1.5 0h1m0 0h1m2.5 0h1m0 0h1m-52 .5h1m8 0h1m1.5 0h1m.5 0h1m29 0h1m2.5 0h1m-48 .5h1m2 0h1m-.5 0h1m-.5 0h1m1.5 0h1m3.5 0h1m3 0h1m-.5 0h1m5.5 0h1m16 0h1m8.5 0h1m3 0h1m6.5 0h1m-42.5 .5h1m15.5 0h1m3 0h1m-42 .5h1m5 0h1m1.5 0h1m12.5 0h1m-.5 0h1m1.5 0h1m12.5 .5h1m6 0h1m-31.5 .5h1m23 0h1m8.5 0h1m1.5 0h1m2.5 0h1m3.5 0h1m-55.5 .5h1m1.5 0h1m2 0h1m1.5 0h1m5 0h1m30.5 0h1m7.5 0h1m-48.5 .5h1m5.5 0h1m38 0h1m-54 .5h1m6 0h1m5 0h1m2 0h1m.5 0h1m5 0h1m13 0h1m-.5 0h1m5.5 0h1m1 0h1m-49.5 .5h1m-.5 0h1m1 0h1m0 0h1m-.5 0h1m1 0h1m0 0h1m.5 0h1m7 0h1m11 0h1m8 0h1m11 0h1m-.5 0h1m-.5 0h1m1.5 0h1m.5 0h1m4.5 0h1m5 0h1m-62 .5h1m3.5 0h1m10 0h1m2.5 0h1m12.5 0h1m-.5 0h1m5.5 0h1m-46 .5h1m9 0h1m4 0h1m1.5 0h1m0 0h1m19 0h1m3.5 0h1m5.5 0h1m2.5 0h1m3 0h1m-.5 0h1m-55 .5h1m6 0h1m1.5 0h1m.5 0h1m8.5 0h1m24 0h1m7 0h1m-61.5 .5h1m3.5 0h1m5 0h1m-.5 0h1m1 0h1m-.5 0h1m2.5 0h1m-.5 0h1m1.5 0h1m1 0h1m2.5 0h1m15.5 0h1m-.5 0h1m-.5 0h1m1 0h1m4.5 0h1m-43 .5h1m0 0h1m2.5 0h1m12 0h1m16 0h1m-41 .5h1m47 0h1m10.5 0h1m-63.5 .5h1m7 0h1m3.5 0h1m0 0h1m1.5 0h1m1 0h1m1 0h1m28 0h1m1.5 0h1m6 0h1m-.5 0h1m-48 .5h1m2 0h1m1 0h1m.5 0h1m.5 0h1m1.5 0h1m-.5 0h1m1.5 0h1m19 0h1m4 0h1m-45 .5h1m.5 0h1m3 0h1m4 0h1m1.5 0h1m-.5 0h1m.5 0h1m1.5 0h1m0 0h1m5.5 0h1m0 0h1m15 0h1m-41.5 .5h1m3.5 0h1m0 0h1m0 0h1m2 0h1m0 0h1m2 0h1m3 0h1m2 0h1m15 0h1m-41 .5h1m3 0h1m0 0h1m2 0h1m2 0h1m1.5 0h1m25 0h1m6 0h1m-53 .5h1m2.5 0h1m2.5 0h1m7 0h1m-.5 0h1m8.5 0h1m4 0h1m11 0h1m3 0h1m-43 .5h1m2.5 0h1m6 0h1m-.5 0h1m.5 0h1m-.5 0h1m3 0h1m-.5 0h1m4 0h1m2 0h1m17 0h1m-39 .5h1m1.5 0h1m0 0h1m6.5 0h1m1.5 0h1m0 0h1m23.5 0h1m-44.5 .5h1m7 0h1m0 0h1m2 0h1m-.5 0h1m.5 0h1m3.5 0h1m2 0h1m24.5 0h1m1 0h1m-46.5 .5h1m1.5 0h1m1.5 0h1m0 0h1m7.5 0h1m-16 .5h1m.5 0h1m1.5 0h1m6.5 0h1m3.5 0h1m6.5 0h1m-32.5 .5h1m9 0h1m3.5 0h1m3.5 0h1m6 0h1m-.5 0h1m-21 .5h1m5.5 0h1m-.5 0h1m3.5 0h1m0 0h1m1.5 0h1m4 0h1m19.5 0h1m-.5 0h1m-38 .5h1m3 0h1m-.5 0h1m0 0h1m.5 0h1m.5 0h1m2 0h1m-.5 0h1m2.5 0h1m-.5 0h1m1 0h1m.5 0h1m1 0h1m-18.5 .5h1m-.5 0h1m.5 0h1m.5 0h1m2.5 0h1m4.5 0h1m-23 .5h1m1 0h1m6 0h1m4.5 0h1m1 0h1m.5 0h1m3 0h1m-20.5 .5h1m0 0h1m1 0h1m4 0h1m.5 0h1m2 0h1m3.5 0h1m1 0h1m-21.5 .5h1m1.5 0h1m0 0h1m3 0h1m1 0h1m2 0h1m-.5 0h1m-12 .5h1m-.5 0h1m0 0h1m.5 0h1m1 0h1m4 0h1m3 0h1m-15.5 .5h1m2 0h1m1 0h1m2.5 0h1m.5 0h1m4 0h1m1.5 0h1m-16.5 .5h1m0 0h1m0 0h1m-.5 0h1m3 0h1m3 0h1m-.5 0h1m8 0h1m-26.5 .5h1m2 0h1m2 0h1m2 0h1m.5 0h1m3 0h1m0 0h1m-12 .5h1m3 0h1m1 .5h1m0 0h1m0 0h1m2 0h1m-8 .5h1m3.5 0h1m-.5 0h1m-15.5 .5h1m-.5 0h1m12 0h1m1 0h1m3.5 0h1m-14.5 .5h1m1 0h1m3 0h1m1 0h1m5.5 0h1m4.5 0h1m-18 .5h1m6.5 0h1m2 0h1m.5 0h1m-7.5 .5h1m-2 .5h1m6 .5h1m0 0h1m-13 1h1m2.5 0h1m.5 0h1m-2.5 .5h1m-2 .5h1m5 2h1" stroke="#000" stroke-opacity="0.3" fill="none"/>
<path d="M489.5 173.5h1m-16 2h1m15 3h1m-5 .5h1m4.5 0h1m-10 .5h1m5.5 .5h1m-17 .5h1m5 1h1m3.5 .5h1m-.5 0h1m10.5 .5h1m-20 .5h1m13 .5h1m-11 .5h1m3.5 0h1m45.5 1h1m-50.5 .5h1m-.5 0h1m8 0h1m3 .5h1m-16.5 .5h1m2 0h1m9 0h1m.5 0h1m-3 .5h1m-.5 0h1m-.5 0h1m-7.5 .5h1m29.5 0h1m8 0h1m-50 .5h1m9 0h1m-.5 0h1m1 .5h1m22 0h1m7 0h1m3.5 0h1m-36 .5h1m5.5 0h1m31.5 0h1m-51.5 .5h1m.5 0h1m4.5 0h1m.5 0h1m5 0h1m28 0h1m5 0h1m-3 .5h1m-45 .5h1m0 0h1m-.5 0h1m.5 0h1m4 0h1m19 0h1m0 0h1m6 0h1m-39.5 .5h1m-.5 0h1m5 0h1m8 0h1m24.5 0h1m1 0h1m-.5 0h1m2 0h1m-4 .5h1m-31.5 .5h1m0 0h1m5.5 0h1m7.5 0h1m5 0h1m-35 .5h1m4 0h1m.5 0h1m5.5 0h1m-20.5 .5h1m.5 0h1m11.5 0h1m.5 .5h1m25.5 0h1m10.5 0h1m1 0h1m0 0h1m-56 .5h1m1 0h1m2.5 0h1m1.5 0h1m2 0h1m2.5 0h1m1 0h1m28.5 0h1m6 0h1m-.5 0h1m-44.5 .5h1m27 0h1m8.5 0h1m-40.5 .5h1m33 0h1m-30 .5h1m9 0h1m27.5 0h1m5 0h1m.5 0h1m-53 .5h1m11 0h1m1 0h1m23.5 0h1m8 0h1m-56.5 .5h1m1 0h1m2 0h1m10.5 0h1m19.5 0h1m3 0h1m-35.5 .5h1m8.5 0h1m22.5 0h1m7 0h1m2 0h1m-54.5 .5h1m6 0h1m3 0h1m11.5 0h1m-.5 0h1m19.5 0h1m16 0h1m-56 .5h1m2.5 0h1m2.5 0h1m25 0h1m1.5 0h1m5.5 0h1m4 0h1m6 0h1m1 0h1m-57 .5h1m0 0h1m18 0h1m-19 .5h1m-.5 0h1m33.5 0h1m12 0h1m2.5 0h1m-63 .5h1m1.5 0h1m5 0h1m5 0h1m5.5 0h1m5.5 0h1m11 0h1m.5 0h1m9.5 0h1m4 0h1m-48.5 .5h1m11.5 0h1m0 0h1m0 0h1m18.5 0h1m17.5 0h1m-56.5 .5h1m5.5 0h1m-.5 0h1m8.5 0h1m4 0h1m4 0h1m10 0h1m12.5 0h1m-52.5 .5h1m3.5 0h1m-.5 0h1m0 0h1m1.5 0h1m0 0h1m2.5 0h1m24 0h1m18 0h1m-63 .5h1m12.5 0h1m2 0h1m31.5 0h1m2.5 0h1m1 0h1m.5 0h1m1.5 0h1m-.5 0h1m-57.5 .5h1m-.5 0h1m1.5 0h1m8 0h1m1.5 0h1m10.5 0h1m10 0h1m.5 0h1m7 0h1m8 0h1m1 0h1m-53 .5h1m4 0h1m.5 0h1m2 0h1m2.5 0h1m21 0h1m5 0h1m6 0h1m1 0h1m5.5 0h1m-21 .5h1m5 0h1m-42.5 .5h1m8.5 0h1m7.5 0h1m31 0h1m1.5 0h1m-56.5 .5h1m.5 0h1m6 0h1m12 0h1m13.5 0h1m-.5 0h1m1.5 0h1m0 0h1m13 0h1m3 0h1m-63 .5h1m0 0h1m16.5 0h1m7 0h1m23 0h1m1.5 0h1m-52.5 .5h1m20 0h1m12.5 0h1m18.5 0h1m-47 .5h1m5 0h1m33 0h1m2 0h1m1.5 0h1m-47 .5h1m10.5 0h1m5.5 0h1m7.5 0h1m0 0h1m1.5 0h1m1.5 0h1m-30.5 .5h1m0 0h1m5.5 0h1m1 0h1m1.5 0h1m2 0h1m5.5 0h1m6.5 0h1m-.5 0h1m3.5 0h1m12.5 0h1m-61 .5h1m14.5 0h1m1.5 0h1m18 0h1m.5 0h1m5 0h1m0 0h1m2.5 0h1m4.5 0h1m0 0h1m5 0h1m-61.5 .5h1m23 0h1m3.5 0h1m7 0h1m7.5 0h1m4.5 0h1m8 0h1m-59.5 .5h1m2.5 0h1m1.5 0h1m12 0h1m-.5 0h1m21 0h1m7 0h1m-37 .5h1m0 0h1m2.5 0h1m2 0h1m14.5 0h1m1.5 0h1m1 0h1m-.5 0h1m6.5 0h1m7.5 0h1m-58 .5h1m8 0h1m7.5 0h1m21.5 0h1m1.5 0h1m4.5 0h1m5 0h1m4 0h1m-57 .5h1m.5 0h1m1.5 0h1m6.5 0h1m2 0h1m35 0h1m-56.5 .5h1m3.5 0h1m7 0h1m4 0h1m4 0h1m16 0h1m0 0h1m1.5 0h1m7.5 0h1m0 0h1m2 0h1m-50.5 .5h1m0 0h1m2.5 0h1m4 0h1m24 0h1m5 0h1m12.5 0h1m-57.5 .5h1m.5 0h1m1 0h1m2.5 0h1m10.5 0h1m0 0h1m14.5 0h1m0 0h1m-.5 0h1m2.5 0h1m10.5 0h1m.5 0h1m5 0h1m-58 .5h1m-.5 0h1m3.5 0h1m14.5 0h1m6.5 0h1m15.5 0h1m1 0h1m2 0h1m-47 .5h1m5 0h1m-.5 0h1m4.5 0h1m36.5 0h1m-47.5 .5h1m12.5 0h1m6.5 0h1m3.5 0h1m1 0h1m7.5 0h1m6 0h1m-53 .5h1m3 0h1m10 0h1m6.5 0h1m9.5 0h1m5.5 0h1m11 0h1m0 0h1m-58.5 .5h1m6 0h1m5 0h1m7 0h1m1 0h1m15.5 0h1m1.5 0h1m8 0h1m1.5 0h1m-48.5 .5h1m2 0h1m6 0h1m1.5 0h1m0 0h1m1.5 0h1m1.5 0h1m20.5 0h1m4 0h1m4 0h1m-47 .5h1m13 0h1m7.5 0h1m12.5 0h1m3.5 0h1m.5 0h1m-.5 0h1m-.5 0h1m2 0h1m-54.5 .5h1m1.5 0h1m8.5 0h1m2 0h1m.5 0h1m4.5 0h1m.5 0h1m12 0h1m-.5 0h1m.5 0h1m10 0h1m-48 .5h1m3 0h1m2.5 0h1m29 0h1m-31.5 .5h1m5 0h1m9 0h1m7.5 0h1m3.5 0h1m7 0h1m-.5 0h1m3 0h1m-43 .5h1m5.5 0h1m2.5 0h1m.5 0h1m2.5 0h1m12.5 0h1m7 0h1m4 0h1m-.5 0h1m2 0h1m.5 0h1m-55.5 .5h1m2.5 0h1m5.5 0h1m5 0h1m3 0h1m1 0h1m24 0h1m.5 0h1m-32 .5h1m9 0h1m21.5 0h1m-.5 0h1m-44 .5h1m4 0h1m5 0h1m1.5 0h1m13.5 0h1m1 0h1m3.5 0h1m3 0h1m.5 0h1m0 0h1m-37 .5h1m.5 0h1m0 0h1m13 0h1m0 0h1m5.5 0h1m0 0h1m-28.5 .5h1m7 0h1m7 0h1m16 0h1m-.5 0h1m-36.5 .5h1m1.5 0h1m6 0h1m25 0h1m1 0h1m.5 0h1m-43.5 .5h1m1 0h1m.5 0h1m1 0h1m15 0h1m-26 .5h1m4.5 0h1m6.5 0h1m0 0h1m1.5 0h1m3 0h1m7 0h1m5 0h1m9 0h1m9 0h1m-58.5 .5h1m4.5 0h1m1 0h1m9 0h1m1.5 0h1m.5 0h1m26 0h1m.5 0h1m7.5 0h1m-47.5 .5h1m0 0h1m4 0h1m0 0h1m18.5 0h1m1.5 0h1m8.5 0h1m0 0h1m-46.5 .5h1m1 0h1m5.5 0h1m2.5 0h1m3 0h1m32 0h1m-49 .5h1m.5 0h1m4 0h1m3 0h1m-.5 0h1m.5 0h1m4.5 0h1m15 0h1m9 0h1m-49 .5h1m1.5 0h1m4.5 0h1m.5 0h1m34 0h1m-38 .5h1m6 0h1m5.5 0h1m0 0h1m.5 0h1m15.5 0h1m3 0h1m-48 .5h1m3.5 0h1m0 0h1m5.5 0h1m2 0h1m2 0h1m2.5 0h1m29 0h1m4 0h1m-47 .5h1m2.5 0h1m.5 0h1m0 0h1m-.5 0h1m2.5 0h1m1.5 0h1m13 0h1m5.5 0h1m3 0h1m2.5 0h1m3 0h1m-52 .5h1m.5 0h1m0 0h1m.5 0h1m0 0h1m2 0h1m0 0h1m7.5 0h1m5 0h1m31 0h1m-52.5 .5h1m-.5 0h1m4 0h1m-.5 0h1m3.5 0h1m-.5 0h1m3.5 0h1m25 0h1m-41.5 .5h1m-.5 0h1m4.5 0h1m1.5 0h1m-.5 0h1m.5 0h1m29 0h1m-.5 0h1m2.5 0h1m-51.5 .5h1m2.5 0h1m-.5 0h1m-.5 0h1m1 0h1m7 0h1m7 0h1m17.5 0h1m4 0h1m8.5 0h1m-50 .5h1m1 0h1m.5 0h1m4 0h1m-.5 0h1m0 0h1m2 0h1m10 0h1m14.5 0h1m-45.5 .5h1m9 0h1m0 0h1m1 0h1m1.5 0h1m2 0h1m0 0h1m14.5 0h1m10.5 0h1m-44.5 .5h1m1 0h1m4 0h1m-.5 0h1m1.5 0h1m1 0h1m-7.5 .5h1m9.5 0h1m4.5 0h1m23 0h1m-39.5 .5h1m1.5 0h1m4 0h1m3 0h1m4 0h1m-25.5 .5h1m5.5 0h1m1 0h1m.5 0h1m8 0h1m25 0h1m-46 .5h1m1 0h1m5 0h1m5 0h1m1 0h1m-.5 0h1m3 0h1m.5 0h1m-27 .5h1m8.5 0h1m4 0h1m0 0h1m1 0h1m-8 .5h1m2 0h1m.5 0h1m.5 0h1m-3 .5h1m-.5 0h1m1.5 0h1m1.5 0h1m-11.5 .5h1m5.5 0h1m3 0h1m-.5 0h1m-25.5 .5h1m4 0h1m2 0h1m3 0h1m3.5 0h1m0 0h1m-.5 0h1m5 0h1m-9.5 .5h1m2 0h1m-12.5 .5h1m4.5 .5h1m1 0h1m12 .5h1m-17.5 .5h1m5 0h1m2.5 0h1m7.5 0h1m-14.5 .5h1m.5 0h1m-6 .5h1m3 0h1m2 0h1m8 0h1m.5 0h1m34.5 0h1m-56 .5h1m8 0h1m7.5 0h1m-15.5 .5h1m-7.5 1h1m7 0h1m-5.5 .5h1m6 0h1m1.5 0h1m-18.5 .5h1m16 0h1m-6.5 .5h1m-9 .5h1m44.5 1h1" stroke="#000" stroke-opacity="0.3" fill="none"/>
<path d="M536.5 157.5h1m-34.5 16h1m-25 3h1m2 .5h1m0 0h1m3.5 1h1m-6 1h1m0 0h1m-3.5 1h1m10 0h1m-11.5 .5h1m9 1h1m-15 .5h1m38.5 0h1m-46.5 1.5h1m9 0h1m14.5 0h1m-11 .5h1m-5 1h1m3 0h1m1.5 0h1m-2 .5h1m-12 .5h1m4 0h1m2.5 0h1m-12 .5h1m1.5 0h1m-2 .5h1m3 0h1m11 0h1m29.5 0h1m-45 .5h1m2 0h1m3.5 0h1m5.5 0h1m-21.5 .5h1m8.5 0h1m1 0h1m0 0h1m1.5 0h1m1 0h1m-6 .5h1m1 0h1m1.5 0h1m1.5 0h1m30 0h1m-44.5 .5h1m1.5 0h1m4 0h1m2 0h1m24 0h1m-36 .5h1m10.5 0h1m-14.5 .5h1m3 0h1m6 0h1m1 0h1m30.5 0h1m-48.5 .5h1m6.5 0h1m4 0h1m13 0h1m31.5 .5h1m-45 .5h1m25 0h1m3.5 0h1m-35.5 .5h1m5.5 0h1m1.5 0h1m23.5 0h1m1.5 0h1m3 0h1m2.5 0h1m-47.5 .5h1m0 0h1m11.5 0h1m-11 .5h1m28.5 0h1m5.5 0h1m8.5 0h1m-52.5 .5h1m2 0h1m2 0h1m1.5 0h1m0 0h1m6 0h1m16 0h1m.5 0h1m1 0h1m5.5 0h1m-44.5 .5h1m1.5 0h1m-.5 0h1m10 0h1m.5 0h1m16 0h1m-34.5 .5h1m9.5 0h1m6 0h1m-.5 0h1m-.5 0h1m21 0h1m5 0h1m0 0h1m-49 .5h1m1 0h1m11 0h1m0 0h1m0 0h1m2.5 0h1m16.5 0h1m-32 .5h1m2.5 0h1m1.5 0h1m1.5 0h1m16.5 0h1m15 0h1m2 0h1m-56 .5h1m6 0h1m4 0h1m.5 0h1m17 0h1m9 0h1m5 0h1m11 0h1m-58.5 .5h1m2 0h1m4.5 0h1m.5 0h1m22.5 0h1m2 0h1m5.5 0h1m3.5 0h1m-46.5 .5h1m29 0h1m1 0h1m1 0h1m2.5 0h1m1.5 0h1m2 0h1m1.5 0h1m0 0h1m.5 0h1m1 0h1m-52.5 .5h1m3 0h1m6.5 0h1m30.5 0h1m14.5 0h1m-49.5 .5h1m5.5 0h1m-.5 0h1m1 0h1m17 0h1m2.5 0h1m7.5 0h1m3 0h1m-60 .5h1m17 0h1m1.5 0h1m.5 0h1m-.5 0h1m20.5 0h1m6 0h1m3.5 0h1m3.5 0h1m-54 .5h1m1 0h1m6.5 0h1m1 0h1m-.5 0h1m-.5 0h1m24 0h1m9.5 0h1m-34.5 .5h1m18 0h1m0 0h1m6.5 0h1m13.5 0h1m-59.5 .5h1m6 0h1m.5 0h1m13 0h1m13 0h1m-.5 0h1m1 0h1m18.5 0h1m-57.5 .5h1m-.5 0h1m5 0h1m3 0h1m6.5 0h1m25.5 0h1m0 0h1m-49 .5h1m2.5 0h1m2 0h1m-.5 0h1m7 0h1m22.5 0h1m8 0h1m9 0h1m-57 .5h1m14.5 0h1m21.5 0h1m-.5 0h1m-40.5 .5h1m3 0h1m2.5 0h1m8 0h1m.5 0h1m24.5 0h1m.5 0h1m13 0h1m-53 .5h1m0 0h1m-.5 0h1m27.5 0h1m1.5 0h1m6 0h1m.5 0h1m-.5 0h1m-50 .5h1m1 0h1m.5 0h1m8.5 0h1m11 0h1m21.5 0h1m-45 .5h1m20.5 0h1m13 0h1m6.5 0h1m4.5 0h1m0 0h1m-49 .5h1m8 0h1m1.5 0h1m6.5 0h1m10 0h1m1 0h1m-.5 0h1m1.5 0h1m13.5 0h1m0 0h1m-.5 0h1m-57.5 .5h1m5.5 0h1m0 0h1m5.5 0h1m-14.5 .5h1m-.5 0h1m0 0h1m-.5 0h1m19 0h1m0 0h1m1.5 0h1m11 0h1m1.5 0h1m1.5 0h1m14 0h1m-59 .5h1m3.5 0h1m1.5 0h1m6.5 0h1m22 0h1m.5 0h1m8.5 0h1m8 0h1m.5 0h1m1 0h1m-60.5 .5h1m2 0h1m5.5 0h1m9 0h1m1.5 0h1m16 0h1m11 0h1m-55 .5h1m.5 0h1m1 0h1m6 0h1m9 0h1m4 0h1m9.5 0h1m5.5 0h1m2 0h1m9.5 0h1m0 0h1m-46.5 .5h1m6.5 0h1m-.5 0h1m2 0h1m25.5 0h1m1 0h1m6.5 0h1m0 0h1m-63 .5h1m3 0h1m2 0h1m3 0h1m10 0h1m22.5 0h1m3 0h1m5 0h1m1.5 0h1m-49 .5h1m-.5 0h1m.5 0h1m1.5 0h1m10 0h1m0 0h1m8 0h1m-.5 0h1m9.5 0h1m1 0h1m0 0h1m3 0h1m9 0h1m-51 .5h1m6.5 0h1m15.5 0h1m9.5 0h1m2.5 0h1m10.5 0h1m-61 .5h1m38 0h1m12.5 0h1m-57 .5h1m.5 0h1m5.5 0h1m57.5 0h1m-57.5 .5h1m27.5 0h1m2.5 0h1m.5 0h1m.5 0h1m0 0h1m6 0h1m0 0h1m-31.5 .5h1m1.5 0h1m-.5 0h1m14 0h1m16 0h1m2.5 0h1m-51 .5h1m2 0h1m0 0h1m9 0h1m26.5 0h1m3 0h1m-57 .5h1m3 0h1m22 0h1m15 0h1m0 0h1m2.5 0h1m2.5 0h1m2 0h1m4 0h1m-54.5 .5h1m.5 0h1m-.5 0h1m2 0h1m8 0h1m21 0h1m3 0h1m6.5 0h1m1.5 0h1m4.5 0h1m-46.5 .5h1m18.5 0h1m.5 0h1m-.5 0h1m11 0h1m-.5 0h1m0 0h1m-.5 0h1m8.5 0h1m0 0h1m1 0h1m-60.5 .5h1m22.5 0h1m18 0h1m-.5 0h1m13.5 0h1m-54 .5h1m-.5 0h1m-.5 0h1m1 0h1m0 0h1m1.5 0h1m12.5 0h1m6.5 0h1m17 0h1m5 0h1m-59 .5h1m4.5 0h1m5.5 0h1m1.5 0h1m5 0h1m0 0h1m1 0h1m25 0h1m-18 .5h1m5.5 0h1m7.5 0h1m.5 0h1m8.5 0h1m1.5 0h1m-59.5 .5h1m9 0h1m2 0h1m2 0h1m25.5 0h1m11 0h1m-40.5 .5h1m3.5 0h1m0 0h1m12.5 0h1m7 0h1m10 0h1m-49 .5h1m31 0h1m.5 0h1m12.5 0h1m-43 .5h1m3 0h1m3 0h1m1.5 0h1m1.5 0h1m21 0h1m0 0h1m0 0h1m1.5 0h1m2.5 0h1m-49 .5h1m9.5 0h1m0 0h1m6.5 0h1m7.5 0h1m7.5 0h1m.5 0h1m1 0h1m15.5 0h1m-62 .5h1m9 0h1m.5 0h1m-.5 0h1m22.5 0h1m5.5 0h1m-.5 0h1m6 0h1m-53 .5h1m0 0h1m4 0h1m6.5 0h1m5 0h1m0 0h1m4.5 0h1m26 0h1m-41.5 .5h1m.5 0h1m-.5 0h1m-.5 0h1m5.5 0h1m23 0h1m.5 0h1m4.5 0h1m-47.5 .5h1m2 0h1m9 0h1m6 0h1m18 0h1m-40.5 .5h1m5 0h1m6.5 0h1m0 0h1m3 0h1m12.5 0h1m2 0h1m3 0h1m11 0h1m-41.5 .5h1m24 0h1m1 0h1m12.5 0h1m-53.5 .5h1m5.5 0h1m.5 0h1m5.5 0h1m5 0h1m19.5 0h1m-42.5 .5h1m1 0h1m.5 0h1m6.5 0h1m20 0h1m12 0h1m1 0h1m3.5 0h1m-51 .5h1m-.5 0h1m8.5 0h1m8 0h1m19 0h1m2 0h1m-39 .5h1m-.5 0h1m2 0h1m1 0h1m3.5 0h1m-.5 0h1m23 0h1m5 0h1m2.5 0h1m2.5 0h1m-57 .5h1m5.5 0h1m11 0h1m17.5 0h1m5 0h1m1 0h1m7.5 0h1m-52 .5h1m2 0h1m-.5 0h1m9.5 0h1m1 0h1m.5 0h1m5.5 0h1m3.5 0h1m13.5 0h1m.5 0h1m2 0h1m0 0h1m3.5 0h1m-45.5 .5h1m0 0h1m-.5 0h1m2 0h1m24.5 0h1m10.5 0h1m-55 .5h1m13 0h1m6 0h1m0 0h1m25 0h1m-47 .5h1m3.5 0h1m5.5 0h1m1.5 0h1m4.5 0h1m23 0h1m-40 .5h1m1.5 0h1m2 0h1m0 0h1m0 0h1m.5 0h1m1 0h1m0 0h1m4 0h1m27.5 0h1m-53.5 .5h1m7.5 0h1m4.5 0h1m3 0h1m3 0h1m6.5 0h1m-23.5 .5h1m-.5 0h1m8.5 0h1m0 0h1m2.5 0h1m2 0h1m21 0h1m10.5 0h1m-54.5 .5h1m3 0h1m1.5 0h1m.5 0h1m7.5 0h1m37 0h1m-54.5 .5h1m1.5 0h1m6.5 0h1m0 0h1m.5 0h1m23.5 0h1m-37.5 .5h1m1.5 0h1m2 0h1m-.5 0h1m3.5 0h1m5.5 0h1m-23 .5h1m9.5 0h1m-.5 0h1m4.5 0h1m.5 0h1m3 0h1m.5 0h1m-15 .5h1m5.5 0h1m-3.5 .5h1m2 0h1m0 0h1m.5 0h1m4.5 0h1m-23 .5h1m2.5 0h1m8.5 0h1m2 0h1m-.5 0h1m.5 0h1m3 0h1m-12 .5h1m-.5 0h1m2.5 0h1m5 0h1m3 0h1m2 0h1m-28.5 .5h1m7 0h1m.5 0h1m1.5 0h1m0 0h1m0 0h1m0 0h1m1.5 0h1m3 0h1m.5 0h1m-15.5 .5h1m6.5 0h1m-.5 0h1m-.5 0h1m7 0h1m-20.5 .5h1m3 0h1m2 0h1m-.5 0h1m6 0h1m-17.5 .5h1m1.5 0h1m8 0h1m17 0h1m-21 .5h1m1.5 0h1m3 0h1m3 0h1m1 0h1m-27.5 .5h1m3 0h1m3 0h1m6.5 0h1m-.5 0h1m0 0h1m-.5 0h1m2 0h1m6 0h1m-5.5 .5h1m31 0h1m-56 .5h1m6.5 0h1m5 0h1m-.5 0h1m6.5 0h1m-16 .5h1m.5 0h1m5 0h1m1 0h1m35 0h1m-45 .5h1m6.5 0h1m.5 0h1m-3.5 .5h1m-6.5 .5h1m1 0h1m8.5 0h1m-12.5 .5h1m10 .5h1m-1 .5h1m-.5 0h1m-1 1.5h1m-9 .5h1" stroke="#000" stroke-opacity="0.3" fill="none"/>
<path d="M503.5 155.5h1m-32.5 14h1m9 9.5h1m-1.5 1h1m-.5 0h1m3.5 1h1m1 .5h1m5.5 0h1m-12 .5h1m-.5 0h1m-.5 .5h1m32 0h1m-1.5 .5h1m-39.5 .5h1m2 0h1m0 1h1m3 0h1m3 0h1m.5 0h1m1.5 0h1m-18.5 .5h1m.5 0h1m0 0h1m4 0h1m2 0h1m3 0h1m-11 .5h1m9 0h1m-9.5 1h1m.5 0h1m3.5 0h1m5.5 0h1m-4.5 .5h1m29 0h1m-44 .5h1m2 0h1m2 0h1m15 0h1m-18 1h1m3.5 0h1m7 0h1m24 0h1m-41.5 .5h1m1.5 0h1m0 0h1m4 0h1m-19.5 .5h1m7.5 0h1m33 0h1m-40 .5h1m3 0h1m15.5 0h1m29 0h1m-44 .5h1m4.5 0h1m1.5 0h1m5.5 0h1m24.5 0h1m.5 0h1m-51.5 .5h1m6.5 0h1m3 0h1m8 0h1m-15 .5h1m7.5 0h1m31 0h1m3.5 0h1m-40.5 .5h1m26.5 0h1m9 0h1m1 0h1m-48.5 .5h1m5 0h1m2 0h1m1 0h1m3.5 0h1m-.5 0h1m-18.5 .5h1m2 0h1m1.5 0h1m3.5 0h1m.5 0h1m1.5 0h1m0 0h1m-.5 0h1m-10.5 .5h1m2 0h1m-.5 0h1m13 0h1m12.5 0h1m1.5 0h1m5.5 .5h1m-41.5 .5h1m-.5 0h1m-.5 0h1m1 0h1m5.5 0h1m27 0h1m1.5 0h1m.5 0h1m-.5 0h1m-48 .5h1m9 0h1m29.5 0h1m0 0h1m18 0h1m-47.5 .5h1m8 0h1m6 0h1m6 0h1m5 0h1m2.5 0h1m.5 0h1m.5 0h1m3.5 0h1m12.5 0h1m-61 .5h1m-.5 0h1m44.5 0h1m1.5 0h1m-47 .5h1m25.5 0h1m4 0h1m15.5 0h1m-61.5 .5h1m0 0h1m-.5 0h1m1 0h1m7.5 0h1m8.5 0h1m1.5 0h1m27 0h1m-52.5 .5h1m12.5 0h1m25.5 0h1m1 0h1m-.5 0h1m10 0h1m-11 .5h1m1 0h1m-.5 0h1m2.5 0h1m.5 0h1m-18 .5h1m6 0h1m2.5 0h1m-.5 0h1m-46 .5h1m3 0h1m1 0h1m0 0h1m33.5 0h1m10.5 0h1m-37 .5h1m.5 0h1m34 0h1m1.5 0h1m-51 .5h1m1 0h1m.5 0h1m11.5 0h1m15.5 0h1m6 0h1m6.5 0h1m-.5 0h1m1 0h1m-57.5 .5h1m2 0h1m9.5 0h1m2.5 0h1m-.5 0h1m25 0h1m4 0h1m2 0h1m4 0h1m-45.5 .5h1m7.5 0h1m17 0h1m0 0h1m11.5 0h1m0 0h1m-50 .5h1m9.5 0h1m40.5 0h1m-52.5 .5h1m.5 0h1m7 0h1m8.5 0h1m16 0h1m0 0h1m5 0h1m7.5 0h1m-52 .5h1m-.5 0h1m.5 0h1m6 0h1m1.5 0h1m7 0h1m18.5 0h1m2 0h1m1.5 0h1m.5 0h1m4.5 0h1m.5 0h1m2 0h1m-48 .5h1m2 0h1m.5 0h1m4 0h1m16 0h1m.5 0h1m.5 0h1m.5 0h1m-.5 0h1m0 0h1m1.5 0h1m5 0h1m-38 .5h1m4.5 0h1m24 0h1m16 0h1m-52 .5h1m1.5 0h1m6.5 0h1m15 0h1m19.5 0h1m0 0h1m-65.5 .5h1m-.5 0h1m7.5 0h1m12 0h1m2 0h1m16 0h1m16.5 0h1m-60.5 .5h1m11 0h1m2 0h1m2 0h1m-.5 0h1m4.5 0h1m.5 0h1m15 0h1m21.5 0h1m-63 .5h1m1.5 0h1m8.5 0h1m5.5 0h1m2 0h1m2 0h1m15.5 0h1m4.5 0h1m6.5 0h1m-.5 0h1m1 0h1m8.5 0h1m-67.5 .5h1m2 0h1m.5 0h1m24.5 0h1m9 0h1m8 0h1m-.5 0h1m1.5 0h1m7 0h1m5 0h1m-61 .5h1m11 0h1m.5 0h1m19.5 0h1m-.5 0h1m5.5 0h1m-17 .5h1m11.5 0h1m5 0h1m1 0h1m13 0h1m-28 .5h1m0 0h1m3.5 0h1m-41.5 .5h1m1 0h1m5.5 0h1m3 0h1m7.5 0h1m16.5 0h1m18.5 0h1m1.5 0h1m-58.5 .5h1m26 0h1m18 0h1m-43 .5h1m-.5 0h1m-.5 0h1m4.5 0h1m8.5 0h1m19 0h1m3.5 0h1m-47.5 .5h1m2 0h1m5 0h1m26.5 0h1m3 0h1m-.5 0h1m8.5 0h1m11 0h1m-62.5 .5h1m8.5 0h1m5.5 0h1m1.5 0h1m18.5 0h1m5 0h1m1.5 0h1m-43 .5h1m0 0h1m2 0h1m6 0h1m4.5 0h1m16.5 0h1m2.5 0h1m3 0h1m-45 .5h1m27.5 0h1m9.5 0h1m10 0h1m-57 .5h1m9.5 0h1m0 0h1m38 0h1m5 0h1m2.5 0h1m-44.5 .5h1m4.5 0h1m20.5 0h1m2.5 0h1m5 0h1m-.5 0h1m4 0h1m-56.5 .5h1m.5 0h1m1 0h1m11 0h1m16 0h1m0 0h1m-.5 0h1m4 0h1m.5 0h1m7 0h1m9.5 0h1m-61 .5h1m2 0h1m13 0h1m1.5 0h1m0 0h1m.5 0h1m9.5 0h1m-.5 0h1m-.5 0h1m14 0h1m-.5 0h1m0 0h1m-45.5 .5h1m10.5 0h1m2.5 0h1m23 0h1m10 0h1m-54.5 .5h1m13 0h1m3 0h1m15.5 0h1m1.5 0h1m8.5 0h1m3.5 0h1m4 0h1m-51.5 .5h1m25.5 0h1m5 0h1m11 0h1m.5 0h1m1.5 0h1m-53 .5h1m0 0h1m6 0h1m1 0h1m5 0h1m3 0h1m8 0h1m1.5 0h1m.5 0h1m2.5 0h1m1.5 0h1m8 0h1m-41 .5h1m-.5 0h1m22 0h1m8 0h1m9.5 0h1m1 0h1m-62 .5h1m11.5 0h1m27.5 0h1m-.5 0h1m8 0h1m-.5 0h1m2 0h1m-37.5 .5h1m3.5 0h1m15.5 0h1m.5 0h1m1.5 0h1m3 0h1m7 0h1m0 0h1m-48.5 .5h1m2.5 0h1m12.5 0h1m4 0h1m19 0h1m5.5 0h1m3.5 0h1m-59.5 .5h1m-.5 0h1m1 0h1m-.5 0h1m3.5 0h1m-.5 0h1m2 0h1m1 0h1m21.5 0h1m-.5 0h1m4 0h1m7.5 0h1m0 0h1m-46.5 .5h1m5.5 0h1m1 0h1m-.5 0h1m4 0h1m7 0h1m3.5 0h1m14.5 0h1m.5 0h1m7.5 0h1m-59 .5h1m-.5 0h1m1.5 0h1m3.5 0h1m2.5 0h1m1.5 0h1m9.5 0h1m12 0h1m8.5 0h1m2 0h1m5.5 0h1m-56 .5h1m5 0h1m14.5 0h1m1.5 0h1m30 0h1m-58 .5h1m5.5 0h1m1 0h1m1 0h1m6.5 0h1m0 0h1m1 0h1m1 0h1m17 0h1m6 0h1m4.5 0h1m.5 0h1m-42.5 .5h1m-.5 0h1m4.5 0h1m0 0h1m5.5 0h1m1 0h1m18.5 0h1m-42.5 .5h1m3 0h1m.5 0h1m-.5 0h1m13.5 0h1m16.5 0h1m4.5 0h1m3.5 0h1m-47.5 .5h1m1 0h1m6 0h1m24 0h1m0 0h1m1 0h1m6.5 0h1m-51 .5h1m3 0h1m7.5 0h1m11 0h1m6.5 0h1m6 0h1m5.5 0h1m1.5 0h1m3.5 0h1m-48.5 .5h1m0 0h1m0 0h1m-.5 0h1m7.5 0h1m1 0h1m.5 0h1m2 0h1m2 0h1m3.5 0h1m5.5 0h1m3 0h1m3.5 0h1m-.5 0h1m1 0h1m-46.5 .5h1m2 0h1m4 0h1m2 0h1m0 0h1m31.5 0h1m.5 0h1m-51.5 .5h1m3 0h1m5 0h1m2 0h1m.5 0h1m4 0h1m5 0h1m22 0h1m.5 0h1m-47.5 .5h1m1.5 0h1m5.5 0h1m0 0h1m1 0h1m2.5 0h1m3 0h1m2 0h1m.5 0h1m-.5 0h1m2.5 0h1m3 0h1m10.5 0h1m6 0h1m3 0h1m-45.5 .5h1m-.5 0h1m-.5 0h1m37 0h1m-40.5 .5h1m0 0h1m1 0h1m2.5 0h1m2.5 0h1m26 0h1m1 0h1m-42 .5h1m3 0h1m.5 0h1m1.5 0h1m3 0h1m1 0h1m10 0h1m10 0h1m-39 .5h1m3 0h1m.5 0h1m-.5 0h1m-5 .5h1m1.5 0h1m-.5 0h1m1.5 0h1m2.5 0h1m2.5 0h1m7 0h1m15 0h1m-39.5 .5h1m-.5 0h1m3.5 0h1m0 0h1m2.5 0h1m3.5 0h1m2 0h1m1 0h1m-22.5 .5h1m3 0h1m-.5 0h1m1 0h1m2.5 0h1m3 0h1m2 0h1m-21 .5h1m12 0h1m0 0h1m0 0h1m1.5 0h1m1.5 0h1m0 0h1m-19.5 .5h1m2.5 0h1m-.5 0h1m6.5 0h1m-.5 0h1m.5 0h1m.5 0h1m6.5 0h1m-26 .5h1m5.5 0h1m3.5 0h1m3 0h1m2 0h1m-.5 0h1m18 0h1m-33.5 .5h1m-.5 0h1m1.5 0h1m1.5 0h1m-.5 0h1m0 0h1m-.5 0h1m-.5 0h1m1.5 0h1m5.5 0h1m3 0h1m-30.5 .5h1m8 0h1m2 0h1m2 0h1m1.5 0h1m4.5 0h1m-21 .5h1m4.5 0h1m-.5 0h1m0 0h1m4 0h1m11 0h1m-13.5 .5h1m9.5 0h1m-19 .5h1m.5 0h1m4 0h1m.5 0h1m8.5 0h1m0 0h1m1.5 0h1m-23 .5h1m1 0h1m6 0h1m1.5 0h1m4 0h1m-25 .5h1m4 0h1m7 0h1m0 0h1m.5 0h1m5 0h1m-.5 0h1m-7.5 .5h1m8.5 0h1m1 0h1m-13 .5h1m.5 0h1m.5 0h1m3 0h1m6 0h1m-17.5 .5h1m4.5 0h1m0 0h1m-15 .5h1m6.5 0h1m1 0h1m2 0h1m4.5 0h1m3 0h1m4 0h1m22 0h1m-46 .5h1m13 0h1m-8.5 .5h1m13.5 0h1m-27 .5h1m4.5 0h1m1.5 0h1m-1.5 .5h1m-3 .5h1m5 0h1m-14 .5h1m13 0h1m2.5 0h1m5.5 0h1m34.5 1.5h1m-56.5 1h1m9 .5h1" stroke="#000" stroke-opacity="0.3" fill="none"/>
<rect x="469.90" y="153.00" width="88.30" height="88.70" fill="none" stroke="#1a1a1a" stroke-width="1.2"/>
<line x1="502.60" y1="152.40" x2="502.60" y2="242.30" stroke="#1a1a1a" stroke-width="1.1"/>
<line x1="469.30" y1="215.30" x2="558.80" y2="215.30" stroke="#1a1a1a" stroke-width="1.1"/>
<text x="471.10" y="161.00" font-size="8.4" text-anchor="start" font-weight="normal" font-style="normal" fill="#1a1a1a" >28</text>
<text x="555.40" y="161.00" font-size="8.4" text-anchor="end" font-weight="normal" font-style="normal" fill="#1a1a1a" >20.3</text>
<text x="471.10" y="238.70" font-size="8.4" text-anchor="start" font-weight="normal" font-style="normal" fill="#1a1a1a" >44.4</text>
<text x="555.40" y="238.70" font-size="8.4" text-anchor="end" font-weight="normal" font-style="normal" fill="#1a1a1a" >7.37</text>
<line x1="467.30" y1="161.10" x2="469.80" y2="161.10" stroke="#222" stroke-width="1.1"/>
<text x="463.10" y="163.70" font-size="7.0" text-anchor="end" fill="#222">10<tspan dy="-2.8" font-size="5.04">5</tspan></text>
<line x1="467.30" y1="182.40" x2="469.80" y2="182.40" stroke="#222" stroke-width="1.1"/>
<text x="463.10" y="185.00" font-size="7.0" text-anchor="end" fill="#222">10<tspan dy="-2.8" font-size="5.04">4</tspan></text>
<line x1="467.30" y1="206.00" x2="469.80" y2="206.00" stroke="#222" stroke-width="1.1"/>
<text x="463.10" y="208.60" font-size="7.0" text-anchor="end" fill="#222">10<tspan dy="-2.8" font-size="5.04">3</tspan></text>
<line x1="467.30" y1="223.90" x2="469.80" y2="223.90" stroke="#222" stroke-width="1.1"/>
<text x="463.80" y="226.50" font-size="7.0" text-anchor="end" fill="#222">0</text>
<line x1="468.00" y1="167.49" x2="469.80" y2="167.49" stroke="#333" stroke-width="0.8"/>
<line x1="468.00" y1="172.18" x2="469.80" y2="172.18" stroke="#333" stroke-width="0.8"/>
<line x1="468.00" y1="176.01" x2="469.80" y2="176.01" stroke="#333" stroke-width="0.8"/>
<line x1="468.00" y1="189.48" x2="469.80" y2="189.48" stroke="#333" stroke-width="0.8"/>
<line x1="468.00" y1="194.67" x2="469.80" y2="194.67" stroke="#333" stroke-width="0.8"/>
<line x1="468.00" y1="198.92" x2="469.80" y2="198.92" stroke="#333" stroke-width="0.8"/>
<line x1="468.00" y1="211.37" x2="469.80" y2="211.37" stroke="#333" stroke-width="0.8"/>
<line x1="468.00" y1="215.31" x2="469.80" y2="215.31" stroke="#333" stroke-width="0.8"/>
<line x1="468.00" y1="218.53" x2="469.80" y2="218.53" stroke="#333" stroke-width="0.8"/>
<line x1="488.70" y1="241.80" x2="488.70" y2="244.30" stroke="#222" stroke-width="1.1"/>
<text x="488.70" y="257.00" font-size="7.0" text-anchor="middle" fill="#222">0</text>
<line x1="503.70" y1="241.80" x2="503.70" y2="244.30" stroke="#222" stroke-width="1.1"/>
<text x="504.90" y="257.00" font-size="7.0" text-anchor="middle" fill="#222">10<tspan dy="-2.8" font-size="5.04">3</tspan></text>
<line x1="528.60" y1="241.80" x2="528.60" y2="244.30" stroke="#222" stroke-width="1.1"/>
<text x="529.80" y="257.00" font-size="7.0" text-anchor="middle" fill="#222">10<tspan dy="-2.8" font-size="5.04">4</tspan></text>
<line x1="549.70" y1="241.80" x2="549.70" y2="244.30" stroke="#222" stroke-width="1.1"/>
<text x="550.90" y="257.00" font-size="7.0" text-anchor="middle" fill="#222">10<tspan dy="-2.8" font-size="5.04">5</tspan></text>
<line x1="493.20" y1="241.80" x2="493.20" y2="243.80" stroke="#333" stroke-width="0.8"/>
<line x1="496.50" y1="241.80" x2="496.50" y2="243.80" stroke="#333" stroke-width="0.8"/>
<line x1="499.20" y1="241.80" x2="499.20" y2="243.80" stroke="#333" stroke-width="0.8"/>
<line x1="501.45" y1="241.80" x2="501.45" y2="243.80" stroke="#333" stroke-width="0.8"/>
<line x1="511.17" y1="241.80" x2="511.17" y2="243.80" stroke="#333" stroke-width="0.8"/>
<line x1="516.65" y1="241.80" x2="516.65" y2="243.80" stroke="#333" stroke-width="0.8"/>
<line x1="521.13" y1="241.80" x2="521.13" y2="243.80" stroke="#333" stroke-width="0.8"/>
<line x1="524.87" y1="241.80" x2="524.87" y2="243.80" stroke="#333" stroke-width="0.8"/>
<line x1="534.93" y1="241.80" x2="534.93" y2="243.80" stroke="#333" stroke-width="0.8"/>
<line x1="539.57" y1="241.80" x2="539.57" y2="243.80" stroke="#333" stroke-width="0.8"/>
<line x1="543.37" y1="241.80" x2="543.37" y2="243.80" stroke="#333" stroke-width="0.8"/>
<line x1="546.54" y1="241.80" x2="546.54" y2="243.80" stroke="#333" stroke-width="0.8"/>
<ellipse cx="489" cy="333" rx="12" ry="9" fill="url(#core)" opacity="0.7"/>
<ellipse cx="487" cy="314" rx="13" ry="24" fill="url(#core)" opacity="0.3"/>
<ellipse cx="527.5" cy="315" rx="6" ry="14" fill="url(#core)" opacity="0.9"/>
<ellipse cx="522" cy="313" rx="13" ry="18" fill="url(#core)" opacity="0.25"/>
<path d="M536 285.5h1m-39.5 1.5h1m28 .5h1m0 2.5h1m-44.5 .5h1m38.5 0h1m-35.5 .5h1m-2 .5h1m31 0h1m-44 .5h1m53 0h1m-56.5 1h1m5.5 0h1m25.5 0h1m-25 .5h1m2.5 0h1m36 0h1m-.5 0h1m-45.5 .5h1m5 0h1m30.5 0h1m-34 .5h1m4.5 0h1m27.5 0h1m5.5 0h1m8 0h1m-56.5 .5h1m40 0h1m4.5 0h1m-34 .5h1m-.5 0h1m1.5 0h1m17.5 0h1m5 0h1m-39 .5h1m-.5 0h1m12.5 0h1m24.5 0h1m0 0h1m12 0h1m-54.5 .5h1m31.5 0h1m-37 .5h1m35 0h1m0 0h1m12.5 0h1m.5 0h1m-55 .5h1m8 0h1m6 0h1m-12 .5h1m.5 0h1m3 0h1m43.5 0h1m-37.5 .5h1m22 0h1m-38.5 .5h1m2.5 0h1m43.5 0h1m-54.5 .5h1m6.5 0h1m6 0h1m6 0h1m13.5 0h1m3.5 0h1m-33 .5h1m6.5 0h1m23.5 0h1m12.5 0h1m-41 .5h1m.5 0h1m1.5 0h1m23 0h1m4.5 0h1m5.5 0h1m-60 .5h1m9 0h1m1 0h1m23.5 0h1m17 0h1m.5 0h1m1 0h1m-50 .5h1m9.5 0h1m2 0h1m22 0h1m10.5 0h1m.5 0h1m3.5 0h1m-48.5 .5h1m8.5 0h1m3 0h1m9.5 0h1m12.5 0h1m6 0h1m0 0h1m-.5 0h1m3 0h1m-54.5 .5h1m4.5 0h1m.5 0h1m.5 0h1m4.5 0h1m25.5 0h1m2.5 0h1m2.5 0h1m-56 .5h1m1 0h1m15.5 0h1m2 0h1m.5 0h1m10 0h1m20 0h1m3.5 0h1m-51 .5h1m9.5 0h1m14 0h1m7.5 0h1m1 0h1m5 0h1m-51 .5h1m0 0h1m50 0h1m3 0h1m-53.5 .5h1m-.5 0h1m0 0h1m3.5 0h1m3.5 0h1m5.5 0h1m17.5 0h1m0 0h1m6 0h1m1.5 0h1m2.5 0h1m3.5 0h1m2.5 0h1m-54.5 .5h1m1.5 0h1m24.5 0h1m3 0h1m4 0h1m-.5 0h1m1 0h1m6 0h1m-49 .5h1m5.5 0h1m8 0h1m12.5 0h1m4.5 0h1m8.5 0h1m-51 .5h1m7.5 0h1m1.5 0h1m.5 0h1m2 0h1m-.5 0h1m-13 .5h1m3.5 0h1m.5 0h1m8.5 0h1m25 0h1m2 0h1m1.5 0h1m7.5 0h1m-62 .5h1m3 0h1m2 0h1m6.5 0h1m1 0h1m19 0h1m4 0h1m-40.5 .5h1m4.5 0h1m50 0h1m-56 .5h1m.5 0h1m10 0h1m42.5 0h1m3 0h1m-61.5 .5h1m3 0h1m7.5 0h1m1.5 0h1m23.5 0h1m12 0h1m-51.5 .5h1m2.5 0h1m10.5 0h1m15.5 0h1m8.5 0h1m-.5 0h1m2.5 0h1m-.5 0h1m1 0h1m0 0h1m-47.5 .5h1m5.5 0h1m16.5 0h1m17.5 0h1m-50.5 .5h1m5.5 0h1m5 0h1m1 0h1m0 0h1m1 0h1m13 0h1m26.5 0h1m-62 .5h1m0 0h1m-.5 0h1m11.5 0h1m4.5 0h1m3 0h1m20 0h1m8 0h1m1 0h1m-48 .5h1m7 0h1m0 0h1m6 0h1m16 0h1m2 0h1m5.5 0h1m1 0h1m2 0h1m-.5 0h1m-58 .5h1m35 0h1m9.5 0h1m5.5 0h1m2 0h1m-37 .5h1m34.5 0h1m6.5 0h1m.5 0h1m-60.5 .5h1m10 0h1m22.5 0h1m3 0h1m6.5 0h1m4.5 0h1m-44.5 .5h1m8 0h1m9.5 0h1m5.5 0h1m8.5 0h1m8.5 0h1m-55 .5h1m0 0h1m2 0h1m0 0h1m11.5 0h1m1 0h1m25 0h1m0 0h1m.5 0h1m4.5 0h1m-41 .5h1m28 0h1m1.5 0h1m4 0h1m1.5 0h1m3 0h1m-42.5 .5h1m3.5 0h1m.5 0h1m0 0h1m16 0h1m1.5 0h1m5 0h1m1 0h1m-.5 0h1m-47.5 .5h1m28.5 0h1m13.5 0h1m3 0h1m.5 0h1m-8 .5h1m3 0h1m-49.5 .5h1m0 0h1m5 0h1m2 0h1m15.5 0h1m3 0h1m2.5 0h1m8.5 0h1m3 0h1m3.5 0h1m4.5 0h1m-57 .5h1m1.5 0h1m17.5 0h1m26.5 0h1m-.5 0h1m-.5 0h1m.5 0h1m-34.5 .5h1m27.5 0h1m2.5 0h1m-58.5 .5h1m15 0h1m1.5 0h1m31.5 0h1m8.5 0h1m-13 .5h1m8.5 0h1m4.5 0h1m-50.5 .5h1m2 0h1m5 0h1m2 0h1m23.5 0h1m13.5 0h1m-27.5 .5h1m10.5 0h1m.5 0h1m-.5 0h1m-.5 0h1m6.5 0h1m-38 .5h1m2 0h1m4.5 0h1m14.5 0h1m3.5 0h1m6.5 0h1m4 0h1m-44 .5h1m17 0h1m5 0h1m13 0h1m.5 0h1m1 0h1m-58 .5h1m1 0h1m11.5 0h1m2.5 0h1m16.5 0h1m3 0h1m2.5 0h1m-.5 0h1m6 0h1m-30.5 .5h1m17.5 0h1m9 0h1m2.5 0h1m-48.5 .5h1m9.5 0h1m1 0h1m5 0h1m.5 0h1m18 0h1m-.5 0h1m2 0h1m-38.5 .5h1m1.5 0h1m29 0h1m6 0h1m1 0h1m-51 .5h1m6 0h1m9 0h1m0 0h1m21.5 0h1m-.5 0h1m6.5 0h1m-.5 0h1m.5 0h1m-57.5 .5h1m6 0h1m5.5 0h1m.5 0h1m6.5 0h1m18 0h1m7.5 0h1m-.5 0h1m6.5 0h1m2 0h1m-61.5 .5h1m1.5 0h1m8.5 0h1m9 0h1m-.5 0h1m0 0h1m14 0h1m7 0h1m2 0h1m1 0h1m-.5 0h1m1.5 0h1m.5 0h1m4.5 0h1m-52 .5h1m11 0h1m29 0h1m1.5 0h1m5 0h1m-51 .5h1m16 0h1m19 0h1m0 0h1m3.5 0h1m1.5 0h1m2.5 0h1m-43.5 .5h1m-.5 0h1m2 0h1m-.5 0h1m1.5 0h1m29.5 0h1m.5 0h1m-.5 0h1m-46.5 .5h1m-.5 0h1m8 0h1m3 0h1m10 0h1m21.5 0h1m-49.5 .5h1m2 0h1m-.5 0h1m6 0h1m1 0h1m0 0h1m-.5 0h1m-.5 0h1m16.5 0h1m7 0h1m-.5 0h1m-46.5 .5h1m-.5 0h1m12.5 0h1m7.5 0h1m7 0h1m3 0h1m7 0h1m3 0h1m-45 .5h1m-.5 0h1m1.5 0h1m2.5 0h1m1.5 0h1m.5 0h1m0 0h1m0 0h1m.5 0h1m4 0h1m20.5 0h1m1.5 0h1m1 0h1m2 0h1m3 0h1m3.5 0h1m-61.5 .5h1m.5 0h1m1 0h1m29.5 0h1m6.5 0h1m3 0h1m-47.5 .5h1m3 0h1m0 0h1m-.5 0h1m2 0h1m-.5 0h1m4.5 0h1m.5 0h1m0 0h1m1.5 0h1m18 0h1m1.5 0h1m1.5 0h1m9.5 0h1m.5 0h1m-53.5 .5h1m.5 0h1m6 0h1m6.5 0h1m19 0h1m16 0h1m-43.5 .5h1m2.5 0h1m4 0h1m-.5 0h1m-.5 0h1m14.5 0h1m4.5 0h1m0 0h1m6 0h1m-47 .5h1m-.5 0h1m2 0h1m-.5 0h1m.5 0h1m.5 0h1m.5 0h1m39.5 0h1m-60 .5h1m10.5 0h1m-.5 0h1m.5 0h1m1 0h1m-.5 0h1m7.5 0h1m-.5 0h1m29 0h1m-48 .5h1m3.5 0h1m-.5 0h1m1 0h1m3.5 0h1m6 0h1m1.5 0h1m30.5 0h1m-56.5 .5h1m6.5 0h1m3.5 0h1m5.5 0h1m2 0h1m17.5 0h1m1.5 0h1m-37.5 .5h1m0 0h1m2.5 0h1m0 0h1m.5 0h1m3 0h1m1 0h1m-.5 0h1m2 0h1m20.5 0h1m.5 0h1m-51 .5h1m9.5 0h1m1 0h1m1.5 0h1m0 0h1m.5 0h1m1 0h1m3.5 0h1m-.5 0h1m33 0h1m-38 .5h1m3.5 0h1m-.5 0h1m28.5 0h1m-48.5 .5h1m1.5 0h1m3.5 0h1m.5 0h1m1 0h1m-.5 0h1m0 0h1m1 0h1m4 0h1m-.5 0h1m3 0h1m9.5 0h1m2.5 0h1m-40 .5h1m1 0h1m3.5 0h1m0 0h1m4 0h1m.5 0h1m0 0h1m-.5 0h1m-.5 0h1m.5 0h1m0 0h1m-.5 0h1m22.5 0h1m-51 .5h1m4 0h1m4.5 0h1m1.5 0h1m8 0h1m39 0h1m-54 .5h1m-.5 0h1m2 0h1m0 0h1m0 0h1m-7 .5h1m3 0h1m4 0h1m.5 0h1m2 0h1m24.5 0h1m-44.5 .5h1m.5 0h1m7 0h1m1.5 0h1m3 0h1m2.5 0h1m11.5 0h1m-29 .5h1m1 0h1m2.5 0h1m3.5 0h1m.5 0h1m0 0h1m.5 0h1m-.5 0h1m7 0h1m28 0h1m-52 .5h1m1.5 0h1m5 0h1m-.5 0h1m2.5 0h1m3.5 0h1m-.5 0h1m-21.5 .5h1m.5 0h1m2.5 0h1m0 0h1m0 0h1m0 0h1m5.5 0h1m.5 0h1m-.5 0h1m-.5 0h1m.5 0h1m4.5 0h1m-22.5 .5h1m1 0h1m2.5 0h1m0 0h1m.5 0h1m-.5 0h1m1.5 0h1m.5 0h1m.5 0h1m-15 .5h1m11.5 0h1m.5 0h1m-.5 0h1m.5 0h1m-15 .5h1m5.5 0h1m1 0h1m-12 .5h1m2.5 0h1m2 0h1m-11 .5h1m9.5 0h1m8.5 0h1m-22 .5h1m26.5 0h1m-25 .5h1m.5 0h1m13.5 0h1m-14.5 .5h1m2.5 0h1m8 0h1m1 0h1m-14 .5h1m10.5 0h1m-7 .5h1m3.5 0h1m52.5 .5h1m-61.5 .5h1m6 0h1m2 0h1m-14 .5h1m1.5 0h1m2 0h1m9 0h1m-12.5 .5h1m1 0h1m1 0h1m-5.5 .5h1m-3 .5h1m19 3h1m-16 .5h1m7 0h1m-7 .5h1" stroke="#000" stroke-opacity="0.3" fill="none"/>
<path d="M481 276h1m13 3.5h1m32 0h1m-52 3.5h1m-1 3h1m42 .5h1m-39 1h1m41.5 .5h1m-5.5 .5h1m6 0h1m-55.5 1.5h1m49.5 0h1m-2 .5h1m-42.5 .5h1m10.5 0h1m.5 0h1m28 0h1m-34 .5h1m-4 .5h1m1 0h1m6.5 0h1m27.5 0h1m-31.5 .5h1m22.5 0h1m7.5 0h1m-41.5 .5h1m3 0h1m.5 0h1m28.5 0h1m3.5 0h1m-48.5 .5h1m6.5 0h1m12 0h1m33.5 0h1m-47 .5h1m37.5 0h1m-37 .5h1m1.5 0h1m23 0h1m13 0h1m-48 .5h1m4.5 0h1m1.5 0h1m40.5 0h1m-50.5 .5h1m37 0h1m-31 .5h1m28.5 0h1m8 0h1m-50.5 .5h1m3.5 0h1m3 0h1m31 0h1m8.5 0h1m-48.5 .5h1m44 0h1m-45 .5h1m2 0h1m2 0h1m0 0h1m26 0h1m14 0h1m-52.5 .5h1m3 0h1m29.5 0h1m7.5 0h1m1.5 0h1m4.5 0h1m-49.5 .5h1m5 0h1m6.5 0h1m14 0h1m10 0h1m-43.5 .5h1m43 0h1m11 0h1m-62 .5h1m2 0h1m-.5 0h1m4 0h1m0 0h1m11.5 0h1m21.5 0h1m8.5 0h1m3.5 0h1m-49.5 .5h1m5 0h1m0 0h1m2.5 0h1m2 0h1m25 0h1m4.5 0h1m-38.5 .5h1m18.5 0h1m14.5 0h1m1.5 0h1m6 0h1m-56 .5h1m1 0h1m12 0h1m1 0h1m-.5 0h1m11 0h1m9 0h1m13.5 0h1m-43.5 .5h1m1.5 0h1m1.5 0h1m38 0h1m-66.5 .5h1m7.5 0h1m36.5 0h1m2.5 0h1m13.5 0h1m-57 .5h1m5.5 0h1m6 0h1m15 0h1m16 0h1m3 0h1m0 0h1m-55.5 .5h1m.5 0h1m2 0h1m31 0h1m9 0h1m1.5 0h1m.5 0h1m0 0h1m-46.5 .5h1m10 0h1m2 0h1m12 0h1m1 0h1m4.5 0h1m7 0h1m.5 0h1m.5 0h1m6 0h1m-43 .5h1m4 0h1m18.5 0h1m-31 .5h1m30 0h1m7 0h1m11.5 0h1m-48 .5h1m1.5 0h1m13.5 0h1m-.5 0h1m10.5 0h1m5.5 0h1m-.5 0h1m3.5 0h1m-46.5 .5h1m6.5 0h1m25.5 0h1m5 0h1m6.5 0h1m-59.5 .5h1m14.5 0h1m38.5 0h1m-.5 0h1m3.5 0h1m-48.5 .5h1m2.5 0h1m.5 0h1m-.5 0h1m2 0h1m10 0h1m4.5 0h1m-35 .5h1m7 0h1m2 0h1m3.5 0h1m24.5 0h1m8 0h1m3.5 0h1m-50.5 .5h1m23.5 0h1m-.5 0h1m9.5 0h1m3.5 0h1m2.5 0h1m-51.5 .5h1m6 0h1m9 0h1m14 0h1m-29 .5h1m5 0h1m10.5 0h1m13 0h1m7 0h1m-.5 0h1m2.5 0h1m0 0h1m1 0h1m1 0h1m1.5 0h1m-58 .5h1m-.5 0h1m5 0h1m-.5 0h1m-.5 0h1m7 0h1m23.5 0h1m9.5 0h1m3 0h1m.5 0h1m-52 .5h1m5.5 0h1m7 0h1m25.5 0h1m.5 0h1m0 0h1m8.5 0h1m-.5 0h1m-64 .5h1m11.5 0h1m10.5 0h1m11.5 0h1m6 0h1m2 0h1m7.5 0h1m4.5 0h1m-53.5 .5h1m0 0h1m7.5 0h1m11 0h1m30.5 0h1m-49 .5h1m3 0h1m-.5 0h1m0 0h1m17 0h1m20.5 0h1m-55.5 .5h1m3 0h1m20 0h1m24.5 0h1m1 0h1m1 0h1m0 0h1m1.5 0h1m-58 .5h1m-.5 0h1m17 0h1m15.5 0h1m0 0h1m13.5 0h1m.5 0h1m0 0h1m1.5 0h1m-39.5 .5h1m1.5 0h1m.5 0h1m-.5 0h1m34 0h1m-24 .5h1m6 0h1m6 0h1m4.5 0h1m-49 .5h1m28 0h1m15.5 0h1m0 0h1m-.5 0h1m1.5 0h1m.5 0h1m-46.5 .5h1m43.5 0h1m0 0h1m-.5 0h1m-43.5 .5h1m-12 .5h1m6.5 0h1m3 0h1m2.5 0h1m1 0h1m14.5 0h1m6 0h1m4.5 0h1m2.5 0h1m4.5 0h1m-42.5 .5h1m15.5 0h1m-16.5 .5h1m3.5 0h1m1 0h1m4 0h1m12 0h1m10 0h1m-52.5 .5h1m5 0h1m-.5 0h1m5 0h1m8 0h1m15 0h1m12.5 0h1m-.5 0h1m2 0h1m1 0h1m-61.5 .5h1m.5 0h1m1 0h1m10 0h1m-.5 0h1m4.5 0h1m3.5 0h1m17 0h1m4 0h1m-.5 0h1m3.5 0h1m2 0h1m.5 0h1m1 0h1m-55.5 .5h1m-.5 0h1m13.5 0h1m4 0h1m31 0h1m-53 .5h1m3 0h1m1 0h1m2.5 0h1m4.5 0h1m31.5 0h1m.5 0h1m4.5 0h1m-.5 0h1m-44.5 .5h1m7 0h1m-9 .5h1m35.5 0h1m3 0h1m-53 .5h1m2 0h1m5 0h1m36 0h1m.5 0h1m2 0h1m.5 0h1m7 0h1m-43.5 .5h1m4 0h1m3.5 0h1m14.5 0h1m10 0h1m0 0h1m2 0h1m-62 .5h1m17 0h1m26 0h1m6.5 0h1m-50.5 .5h1m3.5 0h1m3 0h1m.5 0h1m13 0h1m9 0h1m11 0h1m1 0h1m3.5 0h1m.5 0h1m-38 .5h1m4.5 0h1m24 0h1m4 0h1m-.5 0h1m-34.5 .5h1m23.5 0h1m1.5 0h1m5 0h1m-.5 0h1m1.5 0h1m-58.5 .5h1m2.5 0h1m3 0h1m2.5 0h1m5 0h1m-.5 0h1m0 0h1m5.5 0h1m-.5 0h1m24.5 0h1m2 0h1m-52.5 .5h1m3.5 0h1m8.5 0h1m3 0h1m4.5 0h1m1 0h1m25.5 0h1m2 0h1m-53 .5h1m1.5 0h1m1 0h1m2.5 0h1m2.5 0h1m1 0h1m29.5 0h1m8 0h1m-53 .5h1m0 0h1m2 0h1m0 0h1m7 0h1m5 0h1m23.5 0h1m-51.5 .5h1m15 0h1m26 0h1m-35.5 .5h1m4.5 0h1m1.5 0h1m1.5 0h1m3.5 0h1m21.5 0h1m6.5 0h1m8.5 0h1m-58.5 .5h1m12.5 0h1m.5 0h1m20.5 0h1m-37.5 .5h1m1 0h1m5 0h1m-.5 0h1m1 0h1m2.5 0h1m0 0h1m2 0h1m1 0h1m21 0h1m1 0h1m0 0h1m1 0h1m3 0h1m-57 .5h1m14.5 0h1m3 0h1m-.5 0h1m1 0h1m27 0h1m2.5 0h1m-56 .5h1m2 0h1m1.5 0h1m2 0h1m1 0h1m2 0h1m.5 .5h1m4 0h1m17 0h1m-37.5 .5h1m2 0h1m-.5 0h1m5.5 0h1m-.5 0h1m5.5 0h1m22.5 0h1m10 0h1m1 0h1m-52 .5h1m6.5 0h1m1.5 0h1m.5 0h1m1.5 0h1m0 0h1m0 0h1m1.5 0h1m27.5 0h1m2 0h1m0 0h1m2 0h1m-47 .5h1m2.5 0h1m9 0h1m34 0h1m-60.5 .5h1m5 0h1m1 0h1m3.5 0h1m2.5 0h1m-.5 0h1m0 0h1m3 0h1m1 0h1m19 0h1m1 0h1m4.5 0h1m-53 .5h1m10.5 0h1m3 0h1m5.5 0h1m1.5 0h1m20.5 0h1m8 0h1m0 0h1m-54 .5h1m10.5 0h1m0 0h1m2 0h1m3.5 0h1m3.5 0h1m0 0h1m12.5 0h1m10.5 0h1m-53.5 .5h1m-.5 0h1m3 0h1m0 0h1m0 0h1m3 0h1m2 0h1m3 0h1m1 0h1m-.5 0h1m8 0h1m-26.5 .5h1m7.5 0h1m1.5 0h1m3 0h1m1 0h1m1 0h1m17.5 0h1m10 0h1m4 0h1m-49.5 .5h1m-.5 0h1m-.5 0h1m2 0h1m.5 0h1m3.5 0h1m1 0h1m26.5 0h1m6 0h1m0 0h1m-61 .5h1m6 0h1m2 0h1m4 0h1m4 0h1m4 0h1m4 0h1m2 0h1m-.5 0h1m-28 .5h1m1.5 0h1m-.5 0h1m0 0h1m-.5 0h1m.5 0h1m.5 0h1m-.5 0h1m1.5 0h1m6 0h1m-.5 0h1m0 0h1m33.5 0h1m-54 .5h1m5 0h1m-.5 0h1m-.5 0h1m2 0h1m3 0h1m3 0h1m4.5 0h1m17 0h1m4 0h1m-47.5 .5h1m4.5 0h1m1 0h1m1 0h1m38.5 0h1m-45.5 .5h1m-.5 0h1m0 0h1m3.5 0h1m0 0h1m6 0h1m2 0h1m1 0h1m21.5 0h1m3 0h1m0 0h1m1.5 0h1m-53 .5h1m3 0h1m2.5 0h1m1 0h1m3 0h1m-.5 0h1m-.5 0h1m1 0h1m.5 0h1m-23 .5h1m1 0h1m4.5 0h1m.5 0h1m0 0h1m7.5 0h1m-20 .5h1m4 0h1m1 0h1m.5 0h1m3.5 0h1m3.5 0h1m-.5 0h1m7.5 0h1m-21 .5h1m6 0h1m6 0h1m0 0h1m.5 0h1m5 0h1m-28.5 .5h1m2 0h1m6.5 0h1m2 0h1m1.5 0h1m.5 0h1m-14 .5h1m4 0h1m3.5 0h1m5 0h1m2 0h1m5 0h1m-27 .5h1m7.5 0h1m2.5 0h1m-11 .5h1m.5 0h1m7 0h1m-16.5 .5h1m3 0h1m3 0h1m2.5 0h1m8 .5h1m-17 .5h1m2 0h1m3 0h1m0 0h1m5 0h1m4 0h1m-16.5 .5h1m.5 0h1m13.5 0h1m24 0h1m3.5 0h1m-45 .5h1m.5 0h1m8 0h1m0 0h1m2 0h1m-15.5 .5h1m-8.5 .5h1m3.5 0h1m2 0h1m6.5 0h1m7 0h1m-10 .5h1m7.5 0h1m-11.5 1h1m6.5 .5h1m-17 .5h1m51.5 0h1m-43.5 .5h1m-.5 .5h1m-11.5 .5h1m18.5 0h1m-22.5 .5h1m33 1.5h1" stroke="#000" stroke-opacity="0.3" fill="none"/>
<path d="M486.5 288h1m29 1h1m5.5 .5h1m3.5 0h1m-43 1.5h1m-5 .5h1m1 1h1m9.5 0h1m22 0h1m5 0h1m10.5 0h1m-47.5 .5h1m1 0h1m0 0h1m26.5 0h1m4.5 0h1m-40 .5h1m1.5 0h1m4 0h1m0 0h1m28.5 0h1m2.5 0h1m3.5 0h1m-43.5 .5h1m32 0h1m0 0h1m-42.5 .5h1m7 0h1m-9 .5h1m31.5 0h1m-30.5 .5h1m.5 0h1m.5 0h1m30 0h1m3 0h1m.5 0h1m3 0h1m-48 .5h1m6.5 0h1m1.5 0h1m23.5 0h1m8.5 0h1m1 0h1m-39 .5h1m40 0h1m-.5 0h1m-48 .5h1m34 0h1m0 0h1m1 0h1m-43.5 .5h1m2 0h1m6.5 0h1m3 0h1m5 0h1m24 0h1m.5 0h1m-44 .5h1m13 0h1m-13.5 .5h1m2 .5h1m40 0h1m2 0h1m-.5 0h1m-49.5 .5h1m1 0h1m7.5 0h1m15.5 0h1m14.5 0h1m1 0h1m4.5 0h1m-60.5 .5h1m2 0h1m12 0h1m0 0h1m1 0h1m5 0h1m-14 .5h1m2.5 0h1m1.5 0h1m0 0h1m19.5 0h1m15.5 0h1m-45 .5h1m0 0h1m1.5 0h1m6.5 0h1m23 0h1m2 0h1m0 0h1m3 0h1m1 0h1m0 0h1m-55.5 .5h1m-.5 0h1m17 0h1m.5 0h1m22 0h1m1 0h1m6.5 0h1m2 0h1m-55.5 .5h1m3 0h1m2.5 0h1m1.5 0h1m4.5 0h1m26 0h1m6 0h1m-40.5 .5h1m31.5 0h1m7 0h1m1.5 0h1m-12 .5h1m6 0h1m-35 .5h1m7.5 0h1m22.5 0h1m5.5 0h1m.5 0h1m-47.5 .5h1m7 0h1m-19.5 .5h1m1 0h1m5 0h1m5.5 0h1m10.5 0h1m10.5 0h1m11 0h1m.5 0h1m0 0h1m-.5 0h1m1 0h1m0 0h1m-.5 0h1m-59 .5h1m35 0h1m15.5 0h1m2.5 0h1m.5 0h1m.5 0h1m-59 .5h1m-.5 0h1m4.5 0h1m1 0h1m13 0h1m-19.5 .5h1m1 0h1m4 0h1m10 0h1m-21 .5h1m2.5 0h1m4 0h1m11.5 0h1m17 0h1m8 0h1m4 0h1m2.5 0h1m-61.5 .5h1m16 0h1m35 0h1m0 0h1m-49 .5h1m1 0h1m7 0h1m23 0h1m-27 .5h1m8.5 0h1m21.5 0h1m6.5 0h1m.5 0h1m0 0h1m.5 0h1m-54 .5h1m5.5 0h1m14.5 0h1m23 0h1m2.5 0h1m-52 .5h1m0 0h1m20 0h1m7.5 0h1m5 0h1m8.5 0h1m3.5 0h1m0 0h1m0 0h1m-.5 0h1m-.5 0h1m-.5 0h1m-54.5 .5h1m.5 0h1m6 0h1m1 0h1m3.5 0h1m0 0h1m1.5 0h1m31 0h1m2.5 0h1m-51.5 .5h1m4 0h1m8 0h1m4 0h1m-.5 0h1m1 0h1m20.5 0h1m7.5 0h1m0 0h1m1 0h1m1 0h1m-53 .5h1m0 0h1m.5 0h1m1.5 0h1m25 0h1m15.5 0h1m-.5 0h1m-46.5 .5h1m-8 .5h1m3 0h1m2 0h1m-.5 0h1m2 0h1m.5 0h1m0 0h1m.5 0h1m5 0h1m8.5 0h1m11.5 0h1m2.5 0h1m10 0h1m-58 .5h1m5 0h1m2 0h1m5.5 0h1m0 0h1m26 0h1m4 0h1m0 0h1m-.5 0h1m1 0h1m-54 .5h1m6 0h1m1 0h1m1 0h1m5.5 0h1m0 0h1m13.5 0h1m24 0h1m-44.5 .5h1m.5 0h1m2.5 0h1m14.5 0h1m11.5 0h1m5 0h1m0 0h1m-58 .5h1m8.5 0h1m7.5 0h1m26.5 0h1m6 0h1m-.5 0h1m-43.5 .5h1m7 0h1m1 0h1m4 0h1m14 0h1m2 0h1m7 0h1m5 0h1m-58 .5h1m.5 0h1m6 0h1m42.5 0h1m-.5 0h1m2 0h1m.5 0h1m-59.5 .5h1m7 0h1m10 0h1m0 0h1m21 0h1m6.5 0h1m2.5 0h1m1.5 0h1m-48 .5h1m5.5 0h1m25.5 0h1m7 0h1m0 0h1m3 0h1m-57 .5h1m6.5 0h1m29.5 0h1m14 0h1m1.5 0h1m4.5 0h1m5 0h1m-56.5 .5h1m4.5 0h1m36.5 0h1m-43.5 .5h1m10 0h1m27.5 0h1m2.5 0h1m4.5 0h1m-42 .5h1m29.5 0h1m5.5 0h1m3.5 0h1m-59 .5h1m0 0h1m15 0h1m1 0h1m28.5 0h1m5.5 0h1m.5 0h1m-56 .5h1m9 0h1m3 0h1m8 0h1m8 0h1m7 0h1m8.5 0h1m-51 .5h1m1.5 0h1m8.5 0h1m6 0h1m13 0h1m4.5 0h1m13 0h1m1 0h1m-.5 0h1m-43.5 .5h1m23.5 0h1m9 0h1m-48 .5h1m0 0h1m2.5 0h1m11.5 0h1m24 0h1m4 0h1m-.5 0h1m0 0h1m6 0h1m-57.5 .5h1m4 0h1m46 0h1m5.5 0h1m0 0h1m-56 .5h1m-.5 0h1m4.5 0h1m21 0h1m10 0h1m2.5 0h1m2.5 0h1m-.5 0h1m9 0h1m-14.5 .5h1m-.5 0h1m6 0h1m4.5 0h1m-62 .5h1m10 0h1m9.5 0h1m14 0h1m10.5 0h1m-.5 0h1m3.5 0h1m-53.5 .5h1m8.5 0h1m.5 0h1m2.5 0h1m2.5 0h1m4 0h1m26 0h1m2 0h1m1 0h1m-48.5 .5h1m5.5 0h1m15.5 0h1m12.5 0h1m1.5 0h1m10 0h1m-49 .5h1m8 0h1m15 0h1m11 0h1m2 0h1m-39.5 .5h1m7 0h1m-.5 0h1m22.5 0h1m-.5 0h1m2 0h1m-.5 0h1m3 0h1m1.5 0h1m-56.5 .5h1m9.5 0h1m11 0h1m24.5 0h1m2 0h1m0 0h1m0 0h1m5.5 0h1m-39.5 .5h1m18.5 0h1m13.5 0h1m-48 .5h1m2.5 0h1m3 0h1m6 0h1m2 0h1m13.5 0h1m2 0h1m6 0h1m1.5 0h1m-55 .5h1m9 0h1m13.5 0h1m13.5 0h1m7.5 0h1m2.5 0h1m1 0h1m6 0h1m-63 .5h1m5.5 0h1m3.5 0h1m.5 0h1m.5 0h1m15 0h1m23.5 0h1m.5 0h1m2.5 0h1m1.5 0h1m-58.5 .5h1m2.5 0h1m3 0h1m2 0h1m2.5 0h1m41 0h1m-57.5 .5h1m.5 0h1m.5 0h1m3 0h1m5.5 0h1m0 0h1m3.5 0h1m1 0h1m26 0h1m4 0h1m-52 .5h1m3 0h1m.5 0h1m.5 0h1m15 0h1m24.5 0h1m0 0h1m5 0h1m-59.5 .5h1m12 0h1m2.5 0h1m1.5 0h1m6 0h1m13.5 0h1m12 0h1m-55 .5h1m10.5 0h1m7.5 0h1m-.5 0h1m6 0h1m27 0h1m1 0h1m-52.5 .5h1m5 0h1m-.5 0h1m3.5 0h1m0 0h1m3 0h1m-.5 0h1m15 0h1m1 0h1m11 0h1m0 0h1m-51 .5h1m-.5 0h1m-.5 0h1m8 0h1m.5 0h1m-.5 0h1m.5 0h1m-.5 0h1m2 0h1m27 0h1m.5 0h1m7 0h1m-49.5 .5h1m0 0h1m0 0h1m-.5 0h1m3 0h1m0 0h1m2 0h1m7.5 0h1m20.5 0h1m0 0h1m-47.5 .5h1m5.5 0h1m3 0h1m0 0h1m.5 0h1m-.5 0h1m0 0h1m1 0h1m6 0h1m23.5 0h1m-45 .5h1m0 0h1m2.5 0h1m7.5 0h1m-.5 0h1m55 0h1m-77 .5h1m2.5 0h1m5 0h1m11.5 0h1m2.5 0h1m3 0h1m-34.5 .5h1m4.5 0h1m5 0h1m-.5 0h1m1.5 0h1m4.5 0h1m2 0h1m6 0h1m4.5 0h1m9 0h1m-45 .5h1m2 0h1m2 0h1m2 0h1m0 0h1m2 0h1m1.5 0h1m4.5 0h1m4.5 0h1m17.5 0h1m-44.5 .5h1m5 0h1m8.5 0h1m.5 0h1m1 0h1m2 0h1m27 0h1m-40 .5h1m0 0h1m.5 0h1m3.5 0h1m11.5 0h1m19 0h1m3 0h1m-45.5 .5h1m0 0h1m2.5 0h1m.5 0h1m0 0h1m4 0h1m.5 0h1m4.5 0h1m16 0h1m8 0h1m-56 .5h1m7.5 0h1m2 0h1m3.5 0h1m2 0h1m-18 .5h1m7.5 0h1m1 0h1m4 0h1m-.5 0h1m19.5 0h1m16 0h1m-53 .5h1m8 0h1m0 0h1m0 0h1m-5 .5h1m5.5 0h1m3 0h1m25 0h1m4.5 0h1m-52 .5h1m12.5 0h1m8 0h1m3.5 0h1m-26.5 .5h1m7.5 0h1m3.5 0h1m3.5 0h1m1 0h1m6 0h1m23 0h1m-52.5 .5h1m5 0h1m1 0h1m8 0h1m3 0h1m-20.5 .5h1m5.5 0h1m2 0h1m-.5 0h1m1 0h1m6 0h1m2.5 0h1m-24.5 .5h1m7 0h1m.5 0h1m4.5 0h1m2 0h1m-10.5 .5h1m-.5 0h1m-.5 0h1m2 0h1m1 0h1m-7.5 .5h1m-.5 0h1m1.5 0h1m-10.5 .5h1m5 0h1m5 0h1m5.5 0h1m28.5 0h1m1 0h1m-47.5 .5h1m1 0h1m9 0h1m7.5 0h1m-24.5 .5h1m3.5 0h1m3 0h1m.5 0h1m4.5 0h1m-20.5 .5h1m0 0h1m11.5 0h1m1.5 0h1m9 0h1m-20 .5h1m2 0h1m4.5 0h1m3 0h1m34 0h1m-41 .5h1m2.5 .5h1m-12 .5h1m6.5 0h1m5.5 0h1m-22 .5h1m1.5 0h1m21 0h1m-16.5 .5h1m.5 0h1m4 0h1m32.5 0h1m-27.5 .5h1m-17.5 .5h1m13.5 0h1m-10.5 1h1m1 0h1m4 0h1m-.5 0h1m34.5 0h1m-32 .5h1m-22 2h1m9 0h1" stroke="#000" stroke-opacity="0.3" fill="none"/>
<path d="M479 277.5h1m1.5 12h1m12.5 .5h1m27 0h1m-45 .5h1m8 .5h1m25 0h1m-36 1h1m4 0h1m1 0h1m28 0h1m2 0h1m7 0h1m-37 .5h1m29.5 0h1m8.5 0h1m-.5 0h1m-43 .5h1m33.5 0h1m.5 0h1m-51.5 .5h1m1.5 0h1m4.5 0h1m0 0h1m6 0h1m30.5 0h1m2 0h1m2 0h1m10.5 0h1m-55 .5h1m8 0h1m23 0h1m8.5 .5h1m-47 .5h1m44.5 0h1m4.5 0h1m-43.5 .5h1m10 0h1m18 0h1m8 0h1m-53 .5h1m3 0h1m3 0h1m.5 0h1m8.5 0h1m0 0h1m-15 .5h1m2 0h1m3.5 0h1m39 0h1m-45 .5h1m28 0h1m16 0h1m.5 0h1m-61.5 .5h1m2 0h1m6 0h1m.5 0h1m3 0h1m2 0h1m4.5 0h1m15 0h1m12 0h1m0 0h1m-52.5 .5h1m3.5 0h1m2 0h1m.5 0h1m-.5 0h1m8 0h1m5.5 0h1m16.5 0h1m3.5 0h1m-32 .5h1m3 0h1m2.5 0h1m10 0h1m-.5 0h1m12 0h1m-24.5 .5h1m23 0h1m6.5 0h1m-48.5 .5h1m2 0h1m0 0h1m26.5 0h1m2.5 0h1m-37.5 .5h1m4 0h1m34 0h1m-36.5 .5h1m1 0h1m20.5 0h1m12.5 0h1m-37 .5h1m8 0h1m16 0h1m19.5 0h1m-53 .5h1m1 0h1m34.5 0h1m-38.5 .5h1m43 0h1m3 0h1m1 0h1m-50.5 .5h1m.5 0h1m2 0h1m24 0h1m8.5 0h1m-.5 0h1m4 0h1m7 0h1m-57 .5h1m5 0h1m41 0h1m3 0h1m0 0h1m-59 .5h1m8 0h1m2 0h1m5.5 0h1m1.5 0h1m11 0h1m3 0h1m10.5 0h1m5 0h1m-.5 0h1m2 0h1m-.5 0h1m0 0h1m-61 .5h1m4 0h1m.5 0h1m3.5 0h1m46 0h1m1.5 0h1m-55.5 .5h1m1 0h1m-.5 0h1m1 0h1m6 0h1m1.5 0h1m.5 0h1m14.5 0h1m9.5 0h1m7.5 0h1m0 0h1m-50 .5h1m8.5 0h1m8.5 0h1m11.5 0h1m4.5 0h1m6.5 0h1m0 0h1m2.5 0h1m2 0h1m-51.5 .5h1m-.5 0h1m2.5 0h1m29 0h1m8.5 0h1m-36.5 .5h1m2 0h1m29.5 0h1m-.5 0h1m-51 .5h1m2 0h1m.5 0h1m4 0h1m-.5 0h1m6 0h1m0 0h1m39.5 0h1m-54.5 .5h1m1.5 0h1m1 0h1m6 0h1m1 0h1m-.5 0h1m15.5 0h1m19.5 0h1m.5 0h1m-47.5 .5h1m1 0h1m3 0h1m15.5 0h1m0 0h1m8 0h1m2.5 0h1m9.5 0h1m-47 .5h1m2 0h1m25.5 0h1m9.5 0h1m-.5 0h1m1.5 0h1m-47 .5h1m30 0h1m1.5 0h1m16.5 0h1m-47.5 .5h1m-.5 0h1m38.5 0h1m.5 0h1m-.5 0h1m-51 .5h1m28 0h1m2.5 0h1m5 0h1m7 0h1m5.5 0h1m2 0h1m-51 .5h1m8.5 0h1m24.5 0h1m-.5 0h1m.5 0h1m0 0h1m3.5 0h1m3.5 0h1m1.5 0h1m-59 .5h1m7 0h1m39 0h1m2.5 0h1m1.5 0h1m3.5 0h1m-61.5 .5h1m-.5 0h1m8.5 0h1m8.5 0h1m9 0h1m24.5 0h1m.5 0h1m-40.5 .5h1m-.5 0h1m19 0h1m8 0h1m1 0h1m0 0h1m4.5 0h1m-52 .5h1m10.5 0h1m3 0h1m35 0h1m.5 0h1m-.5 0h1m0 0h1m-60.5 .5h1m3 0h1m6 0h1m4.5 0h1m18.5 0h1m8.5 0h1m3.5 0h1m.5 0h1m4 0h1m8.5 0h1m-69 .5h1m.5 0h1m5 0h1m9.5 0h1m2 0h1m23.5 0h1m2 0h1m4 0h1m-.5 0h1m1.5 0h1m-57.5 .5h1m5.5 0h1m2 0h1m4 0h1m4 0h1m6 0h1m24.5 0h1m-.5 0h1m0 0h1m1 0h1m1 0h1m-49.5 .5h1m11 0h1m32 0h1m2 0h1m2.5 0h1m-52 .5h1m4.5 0h1m1.5 0h1m2.5 0h1m1 0h1m10.5 0h1m14.5 0h1m1 0h1m1.5 0h1m.5 0h1m-.5 0h1m1 0h1m-47 .5h1m38.5 0h1m3.5 0h1m4 0h1m-59 .5h1m11.5 0h1m.5 0h1m2.5 0h1m0 0h1m25.5 0h1m1.5 0h1m2 0h1m1.5 0h1m2 0h1m3 0h1m-56.5 .5h1m2 0h1m6.5 0h1m31.5 0h1m3.5 0h1m0 0h1m3.5 0h1m-57 .5h1m7 0h1m-.5 0h1m1 0h1m4 0h1m-.5 0h1m-17.5 .5h1m3.5 0h1m2.5 0h1m10.5 0h1m1 0h1m22 0h1m-.5 0h1m7 0h1m-54 .5h1m1 0h1m4.5 0h1m1.5 0h1m7.5 0h1m14 0h1m11 0h1m.5 0h1m-.5 0h1m3 0h1m-56.5 .5h1m8.5 0h1m0 0h1m3.5 0h1m16.5 0h1m13 0h1m7 0h1m.5 0h1m0 0h1m-58.5 .5h1m39 0h1m11.5 0h1m5 0h1m-53.5 .5h1m2.5 0h1m45 0h1m9.5 0h1m-42.5 .5h1m26.5 0h1m-47.5 .5h1m18 0h1m27 0h1m4.5 0h1m-47 .5h1m6.5 0h1m1 0h1m2 0h1m12 0h1m5 0h1m-40 .5h1m7 0h1m15.5 0h1m3 0h1m1 0h1m14 0h1m0 0h1m6.5 0h1m1 0h1m-56.5 .5h1m1.5 0h1m1.5 0h1m3 0h1m37.5 0h1m5.5 0h1m-37 .5h1m28.5 0h1m.5 0h1m5.5 0h1m-58.5 .5h1m1 0h1m1 0h1m0 0h1m10 0h1m1 0h1m15 0h1m10.5 0h1m1.5 0h1m3 0h1m-51.5 .5h1m4.5 0h1m14 0h1m7.5 0h1m12.5 0h1m-38.5 .5h1m4 0h1m.5 0h1m2 0h1m10 0h1m.5 0h1m21.5 0h1m-56 .5h1m.5 0h1m11 0h1m4 0h1m1 0h1m2 0h1m21 0h1m4 0h1m3 0h1m5.5 0h1m-50.5 .5h1m6 0h1m1.5 0h1m8.5 0h1m9 0h1m5.5 0h1m7 0h1m-.5 0h1m-47 .5h1m0 0h1m-.5 0h1m1 0h1m.5 0h1m0 0h1m1.5 0h1m-.5 0h1m2.5 0h1m7 0h1m3.5 0h1m2 0h1m15 0h1m-42 .5h1m0 0h1m3.5 0h1m6.5 0h1m3 0h1m15.5 0h1m2.5 0h1m0 0h1m2.5 0h1m-.5 0h1m-46.5 .5h1m.5 0h1m6 0h1m5 0h1m24.5 0h1m3 0h1m6.5 0h1m0 0h1m-54.5 .5h1m12.5 0h1m.5 0h1m7 0h1m10.5 0h1m5.5 0h1m-46 .5h1m1 0h1m.5 0h1m2.5 0h1m0 0h1m1.5 0h1m2 0h1m2.5 0h1m15.5 0h1m19 0h1m0 0h1m2.5 0h1m-63.5 .5h1m10.5 0h1m.5 0h1m2.5 0h1m2 0h1m4.5 0h1m1 0h1m1 0h1m29 0h1m.5 0h1m1 0h1m-58.5 .5h1m5 0h1m6 0h1m4.5 0h1m-.5 0h1m0 0h1m1.5 0h1m-23 .5h1m5.5 0h1m5 0h1m-.5 0h1m4.5 0h1m5.5 0h1m27 0h1m-47 .5h1m.5 0h1m4 0h1m5 0h1m29 0h1m3 0h1m-56 .5h1m.5 0h1m12 0h1m2 0h1m3 0h1m-17.5 .5h1m0 0h1m0 0h1m1 0h1m-.5 0h1m-.5 0h1m.5 0h1m3 0h1m4.5 0h1m1 0h1m3.5 0h1m12.5 0h1m6.5 0h1m-52.5 .5h1m4 0h1m4.5 0h1m4.5 0h1m0 0h1m-.5 0h1m-.5 0h1m6 0h1m11 0h1m5 0h1m8.5 0h1m6.5 0h1m-49.5 .5h1m6.5 0h1m4 0h1m4 0h1m-.5 0h1m26 0h1m-47.5 .5h1m7 0h1m-.5 0h1m.5 0h1m1.5 0h1m1 0h1m6 0h1m24.5 0h1m-48 .5h1m3.5 0h1m.5 0h1m.5 0h1m24 0h1m7.5 0h1m4 0h1m-41.5 .5h1m-.5 0h1m1.5 0h1m4.5 0h1m3 0h1m2.5 0h1m15 0h1m.5 0h1m-42.5 .5h1m1.5 0h1m7 0h1m5 0h1m-.5 0h1m29 0h1m-38 .5h1m1.5 0h1m-.5 0h1m.5 0h1m1.5 0h1m-16 .5h1m-2.5 .5h1m4.5 0h1m-.5 0h1m1 0h1m2.5 0h1m-.5 0h1m3 0h1m0 0h1m1 0h1m6.5 0h1m15 0h1m-51 .5h1m5 0h1m3.5 0h1m3.5 0h1m2.5 0h1m0 0h1m1.5 0h1m2 0h1m23 0h1m4 0h1m2.5 0h1m-52.5 .5h1m8 0h1m5.5 0h1m1 0h1m1 0h1m19.5 0h1m-43 .5h1m1.5 0h1m2.5 0h1m1.5 0h1m-14.5 .5h1m5 0h1m6.5 0h1m1.5 0h1m-.5 0h1m0 0h1m3 0h1m0 0h1m29.5 0h1m-48 .5h1m3.5 0h1m2.5 0h1m1 0h1m-.5 0h1m-.5 0h1m38.5 0h1m-38.5 .5h1m3.5 0h1m-12.5 .5h1m-.5 0h1m0 0h1m-.5 0h1m2.5 0h1m3 0h1m33.5 0h1m-53 .5h1m2 0h1m7 0h1m.5 .5h1m5 0h1m15.5 0h1m-34.5 .5h1m5.5 0h1m2.5 0h1m3.5 0h1m8.5 0h1m-20 .5h1m0 0h1m6.5 0h1m1.5 0h1m26.5 .5h1m-48 .5h1m51 0h1m-49 .5h1m6.5 0h1m3 0h1m0 0h1m0 0h1m0 0h1m-16.5 .5h1m4 0h1m4 0h1m4.5 0h1m1 0h1m3.5 0h1m-15 .5h1m.5 .5h1m-9.5 .5h1m13 0h1m-17.5 .5h1m2.5 .5h1m1 0h1m3.5 .5h1m-3 1h1m9 0h1m10.5 0h1m-13 .5h1m0 1h1m-13 1h1m8 .5h1" stroke="#000" stroke-opacity="0.3" fill="none"/>
<rect x="469.90" y="264.60" width="88.30" height="87.40" fill="none" stroke="#1a1a1a" stroke-width="1.2"/>
<line x1="502.40" y1="264.00" x2="502.40" y2="352.60" stroke="#1a1a1a" stroke-width="1.1"/>
<line x1="469.30" y1="325.30" x2="558.80" y2="325.30" stroke="#1a1a1a" stroke-width="1.1"/>
<text x="471.10" y="272.60" font-size="8.4" text-anchor="start" font-weight="normal" font-style="normal" fill="#1a1a1a" >25</text>
<text x="555.40" y="272.60" font-size="8.4" text-anchor="end" font-weight="normal" font-style="normal" fill="#1a1a1a" >37.6</text>
<text x="471.10" y="349.00" font-size="8.4" text-anchor="start" font-weight="normal" font-style="normal" fill="#1a1a1a" >27.3</text>
<text x="555.40" y="349.00" font-size="8.4" text-anchor="end" font-weight="normal" font-style="normal" fill="#1a1a1a" >10</text>
<line x1="467.30" y1="272.10" x2="469.80" y2="272.10" stroke="#222" stroke-width="1.1"/>
<text x="463.10" y="274.70" font-size="7.0" text-anchor="end" fill="#222">10<tspan dy="-2.8" font-size="5.04">5</tspan></text>
<line x1="467.30" y1="293.00" x2="469.80" y2="293.00" stroke="#222" stroke-width="1.1"/>
<text x="463.10" y="295.60" font-size="7.0" text-anchor="end" fill="#222">10<tspan dy="-2.8" font-size="5.04">4</tspan></text>
<line x1="467.30" y1="316.00" x2="469.80" y2="316.00" stroke="#222" stroke-width="1.1"/>
<text x="463.10" y="318.60" font-size="7.0" text-anchor="end" fill="#222">10<tspan dy="-2.8" font-size="5.04">3</tspan></text>
<line x1="467.30" y1="334.50" x2="469.80" y2="334.50" stroke="#222" stroke-width="1.1"/>
<text x="463.80" y="337.10" font-size="7.0" text-anchor="end" fill="#222">0</text>
<line x1="468.00" y1="278.37" x2="469.80" y2="278.37" stroke="#333" stroke-width="0.8"/>
<line x1="468.00" y1="282.97" x2="469.80" y2="282.97" stroke="#333" stroke-width="0.8"/>
<line x1="468.00" y1="286.73" x2="469.80" y2="286.73" stroke="#333" stroke-width="0.8"/>
<line x1="468.00" y1="299.90" x2="469.80" y2="299.90" stroke="#333" stroke-width="0.8"/>
<line x1="468.00" y1="304.96" x2="469.80" y2="304.96" stroke="#333" stroke-width="0.8"/>
<line x1="468.00" y1="309.10" x2="469.80" y2="309.10" stroke="#333" stroke-width="0.8"/>
<line x1="468.00" y1="321.55" x2="469.80" y2="321.55" stroke="#333" stroke-width="0.8"/>
<line x1="468.00" y1="325.62" x2="469.80" y2="325.62" stroke="#333" stroke-width="0.8"/>
<line x1="468.00" y1="328.95" x2="469.80" y2="328.95" stroke="#333" stroke-width="0.8"/>
<line x1="488.90" y1="352.10" x2="488.90" y2="354.60" stroke="#222" stroke-width="1.1"/>
<text x="488.90" y="368.40" font-size="7.0" text-anchor="middle" fill="#222">0</text>
<line x1="504.20" y1="352.10" x2="504.20" y2="354.60" stroke="#222" stroke-width="1.1"/>
<text x="505.40" y="368.40" font-size="7.0" text-anchor="middle" fill="#222">10<tspan dy="-2.8" font-size="5.04">3</tspan></text>
<line x1="528.60" y1="352.10" x2="528.60" y2="354.60" stroke="#222" stroke-width="1.1"/>
<text x="529.80" y="368.40" font-size="7.0" text-anchor="middle" fill="#222">10<tspan dy="-2.8" font-size="5.04">4</tspan></text>
<line x1="549.00" y1="352.10" x2="549.00" y2="354.60" stroke="#222" stroke-width="1.1"/>
<text x="550.20" y="368.40" font-size="7.0" text-anchor="middle" fill="#222">10<tspan dy="-2.8" font-size="5.04">5</tspan></text>
<line x1="493.49" y1="352.10" x2="493.49" y2="354.10" stroke="#333" stroke-width="0.8"/>
<line x1="496.86" y1="352.10" x2="496.86" y2="354.10" stroke="#333" stroke-width="0.8"/>
<line x1="499.61" y1="352.10" x2="499.61" y2="354.10" stroke="#333" stroke-width="0.8"/>
<line x1="501.90" y1="352.10" x2="501.90" y2="354.10" stroke="#333" stroke-width="0.8"/>
<line x1="511.52" y1="352.10" x2="511.52" y2="354.10" stroke="#333" stroke-width="0.8"/>
<line x1="516.89" y1="352.10" x2="516.89" y2="354.10" stroke="#333" stroke-width="0.8"/>
<line x1="521.28" y1="352.10" x2="521.28" y2="354.10" stroke="#333" stroke-width="0.8"/>
<line x1="524.94" y1="352.10" x2="524.94" y2="354.10" stroke="#333" stroke-width="0.8"/>
<line x1="534.72" y1="352.10" x2="534.72" y2="354.10" stroke="#333" stroke-width="0.8"/>
<line x1="539.21" y1="352.10" x2="539.21" y2="354.10" stroke="#333" stroke-width="0.8"/>
<line x1="542.88" y1="352.10" x2="542.88" y2="354.10" stroke="#333" stroke-width="0.8"/>
<line x1="545.94" y1="352.10" x2="545.94" y2="354.10" stroke="#333" stroke-width="0.8"/>
<line x1="446.30" y1="172.20" x2="446.30" y2="323.00" stroke="#000" stroke-width="1.6"/>
<path d="M446.30 167.20L449.90 175.80L446.30 173.80L442.70 175.80Z" fill="#000"/>
<text x="0" y="0" font-size="10.1" fill="#111" transform="translate(440.30,219.00) rotate(-90)">Control</text>
<text x="0" y="0" font-size="10.1" fill="#111" transform="translate(439.60,334.60) rotate(-90)">NR4A2 CKO</text>
<text x="0" y="0" font-size="10.2" fill="#111" transform="translate(449.40,356.60) rotate(-90)">CD27</text>
<text x="467.90" y="377.10" font-size="9.8" text-anchor="start" font-weight="normal" font-style="normal" fill="#111" >Eomes</text>
<line x1="505.50" y1="375.10" x2="675.50" y2="375.10" stroke="#000" stroke-width="2.0"/>
<path d="M680.50 375.10L671.20 371.50L673.50 375.10L671.20 378.70Z" fill="#000"/>
<text x="566.00" y="152.00" font-size="14" text-anchor="start" font-weight="bold" font-style="normal" fill="#000" >g</text>
<ellipse cx="612" cy="175" rx="13" ry="5.5" fill="url(#core)" opacity="0.9"/>
<ellipse cx="613" cy="181" rx="11" ry="5" fill="url(#core)" opacity="0.5"/>
<ellipse cx="614" cy="187" rx="11" ry="7" fill="url(#core)" opacity="0.85"/>
<ellipse cx="651" cy="176" rx="10" ry="5" fill="url(#core)" opacity="1.0"/>
<ellipse cx="637" cy="177" rx="9" ry="3.5" fill="url(#core)" opacity="0.35"/>
<path d="M651 154h1m-47 1h1m19 10h1m-26.5 1h1m12 .5h1m39 .5h1m-49 .5h1m19.5 0h1m-27.5 .5h1m28 0h1m-29 .5h1m3.5 0h1m21 0h1m4.5 0h1m-33 .5h1m6 0h1m6 0h1m.5 0h1m47 0h1m-61.5 .5h1m-.5 0h1m17.5 0h1m10 0h1m17 0h1m.5 0h1m-52.5 .5h1m1.5 0h1m4 0h1m2 0h1m37.5 0h1m8.5 0h1m-47.5 .5h1m2 0h1m0 0h1m0 0h1m20.5 0h1m.5 0h1m7 0h1m3 0h1m-55.5 .5h1m8 0h1m-.5 0h1m-.5 0h1m26.5 0h1m4.5 0h1m3 0h1m0 0h1m5.5 0h1m-56.5 .5h1m5 0h1m3 0h1m30 0h1m-.5 0h1m2 0h1m4.5 0h1m-49.5 .5h1m3.5 0h1m3 0h1m.5 0h1m1 0h1m4 0h1m6 0h1m-.5 0h1m0 0h1m20.5 0h1m7.5 0h1m-56.5 .5h1m5 0h1m1 0h1m-.5 0h1m1 0h1m1.5 0h1m.5 0h1m-.5 0h1m3.5 0h1m10 0h1m-.5 0h1m3 0h1m18 0h1m-.5 0h1m-.5 0h1m1.5 0h1m0 0h1m-63 .5h1m2 0h1m13.5 0h1m.5 0h1m4 0h1m12 0h1m-.5 0h1m19 0h1m1 0h1m3 0h1m3 0h1m-63.5 .5h1m5 0h1m0 0h1m0 0h1m3 0h1m-.5 0h1m4 0h1m1.5 0h1m5 0h1m-.5 0h1m2.5 0h1m.5 0h1m0 0h1m3 0h1m6 0h1m1.5 0h1m0 0h1m.5 0h1m-.5 0h1m4 0h1m14 0h1m-59 .5h1m5.5 0h1m-.5 0h1m-.5 0h1m2 0h1m2.5 0h1m1.5 0h1m-.5 0h1m.5 0h1m3.5 0h1m9 0h1m0 0h1m9 0h1m.5 0h1m0 0h1m1 0h1m1.5 0h1m6.5 0h1m-73.5 .5h1m1.5 0h1m4.5 0h1m11.5 0h1m-.5 0h1m1 0h1m.5 0h1m.5 0h1m7 0h1m5.5 0h1m7.5 0h1m.5 0h1m3.5 0h1m4 0h1m1 0h1m-59 .5h1m.5 0h1m0 0h1m2 0h1m0 0h1m3.5 0h1m1 0h1m2 0h1m1.5 0h1m-.5 0h1m0 0h1m3.5 0h1m.5 0h1m7 0h1m11.5 0h1m5.5 0h1m-.5 0h1m3 0h1m.5 0h1m-65.5 .5h1m10.5 0h1m0 0h1m.5 0h1m0 0h1m0 0h1m1 0h1m1.5 0h1m1 0h1m3 0h1m20 0h1m1 0h1m3 0h1m1.5 0h1m4 0h1m1.5 0h1m3.5 0h1m-65 .5h1m7 0h1m2.5 0h1m.5 0h1m-.5 0h1m3 0h1m.5 0h1m-.5 0h1m3.5 0h1m15.5 0h1m-.5 0h1m0 0h1m3.5 0h1m-.5 0h1m1.5 0h1m0 0h1m2 0h1m-.5 0h1m-58.5 .5h1m1 0h1m-.5 0h1m2 0h1m5.5 0h1m-.5 0h1m2.5 0h1m.5 0h1m3 0h1m-.5 0h1m4.5 0h1m2 0h1m1.5 0h1m-.5 0h1m9 0h1m12 0h1m.5 0h1m13 0h1m-67 .5h1m3.5 0h1m0 0h1m3.5 0h1m.5 0h1m3 0h1m0 0h1m11 0h1m1.5 0h1m.5 0h1m8.5 0h1m2 0h1m0 0h1m3 0h1m2.5 0h1m-46.5 .5h1m4 0h1m-.5 0h1m.5 0h1m-.5 0h1m1 0h1m.5 0h1m8 0h1m1 0h1m-.5 0h1m.5 0h1m2.5 0h1m.5 0h1m.5 0h1m1.5 0h1m5.5 0h1m-.5 0h1m7.5 0h1m-.5 0h1m.5 0h1m-58.5 .5h1m6.5 0h1m-.5 0h1m0 0h1m3.5 0h1m-.5 0h1m-.5 0h1m3 0h1m8 0h1m-.5 0h1m5.5 0h1m1 0h1m2.5 0h1m0 0h1m5 0h1m-55 .5h1m9 0h1m-.5 0h1m3 0h1m.5 0h1m-.5 0h1m-.5 0h1m.5 0h1m1 0h1m3 0h1m5 0h1m2 0h1m1 0h1m9 0h1m5.5 0h1m1 0h1m-.5 0h1m-.5 0h1m5 0h1m1.5 0h1m1 0h1m-61.5 .5h1m.5 0h1m3 0h1m1 0h1m0 0h1m4 0h1m3 0h1m0 0h1m20.5 0h1m3 0h1m6 0h1m-55 .5h1m0 0h1m5.5 0h1m.5 0h1m.5 0h1m2 0h1m1 0h1m-.5 0h1m1 0h1m-.5 0h1m2 0h1m-.5 0h1m9.5 0h1m1 0h1m0 0h1m7.5 0h1m0 0h1m2 0h1m4.5 0h1m-54.5 .5h1m11 0h1m1.5 0h1m-.5 0h1m0 0h1m2.5 0h1m4 0h1m2.5 0h1m10.5 0h1m6.5 0h1m0 0h1m6 0h1m-.5 0h1m8.5 0h1m0 0h1m-69 .5h1m8 0h1m-.5 0h1m3.5 0h1m.5 0h1m-.5 0h1m11 0h1m8 0h1m-34 .5h1m.5 0h1m6 0h1m-.5 0h1m5 0h1m3 0h1m0 0h1m-.5 0h1m2.5 0h1m-.5 0h1m.5 0h1m7.5 0h1m.5 0h1m4.5 0h1m3.5 0h1m3.5 0h1m2 0h1m-50 .5h1m6.5 0h1m0 0h1m2.5 0h1m2.5 0h1m2 0h1m.5 0h1m-.5 0h1m4 0h1m0 0h1m5 0h1m2.5 0h1m-45 .5h1m-.5 0h1m4.5 0h1m2.5 0h1m1.5 0h1m-.5 0h1m-.5 0h1m3 0h1m2.5 0h1m-.5 0h1m.5 0h1m-.5 0h1m0 0h1m.5 0h1m14 0h1m8 0h1m3.5 0h1m-47.5 .5h1m8 0h1m0 0h1m3.5 0h1m1.5 0h1m12 0h1m8.5 0h1m-49 .5h1m12 0h1m1 0h1m-.5 0h1m1.5 0h1m1 0h1m2.5 0h1m-24.5 .5h1m15 0h1m0 0h1m1 0h1m-.5 0h1m-.5 0h1m-.5 0h1m2 0h1m4.5 0h1m-.5 0h1m15.5 0h1m-38 .5h1m1 0h1m.5 0h1m1.5 0h1m-.5 0h1m1 0h1m.5 0h1m4 0h1m-.5 0h1m-.5 0h1m-.5 0h1m-.5 0h1m2.5 0h1m2 0h1m3 0h1m12 0h1m-46.5 .5h1m-.5 0h1m5.5 0h1m-.5 0h1m-.5 0h1m1.5 0h1m0 0h1m3.5 0h1m2 0h1m-.5 0h1m0 0h1m7.5 0h1m-24.5 .5h1m7.5 0h1m-.5 0h1m1.5 0h1m0 0h1m0 0h1m6 0h1m7 0h1m-31 .5h1m0 0h1m6.5 0h1m0 0h1m12 0h1m-30.5 .5h1m8 0h1m.5 0h1m1.5 0h1m0 0h1m1.5 0h1m-.5 0h1m.5 0h1m2.5 0h1m0 0h1m-22.5 .5h1m3 0h1m2 0h1m3.5 0h1m.5 0h1m.5 0h1m0 0h1m2 0h1m0 0h1m-.5 0h1m.5 0h1m2.5 0h1m0 0h1m0 0h1m13.5 0h1m-44 .5h1m5.5 0h1m3 0h1m4 0h1m9.5 0h1m2.5 0h1m44 0h1m-69 .5h1m.5 0h1m6 0h1m.5 0h1m0 0h1m.5 0h1m3 0h1m-.5 0h1m-.5 0h1m7 0h1m-15 .5h1m1 0h1m-.5 0h1m3 0h1m15 0h1m-21 .5h1m3 0h1m-.5 0h1m-18.5 .5h1m3.5 0h1m3.5 0h1m5 0h1m5.5 0h1m-27 .5h1m4 0h1m5.5 0h1m-.5 0h1m-.5 0h1m.5 0h1m-.5 0h1m2 0h1m1 0h1m2.5 0h1m7 0h1m-33.5 .5h1m13.5 0h1m.5 0h1m6.5 0h1m-23 .5h1m10.5 0h1m-.5 0h1m2 0h1m6 0h1m-24 .5h1m4.5 0h1m-4 .5h1m16 0h1m1 0h1m-.5 0h1m0 0h1m11 0h1m-21.5 .5h1m2.5 0h1m2 0h1m6 0h1m-19 .5h1m-9 .5h1m6.5 0h1m3 0h1m1.5 0h1m6 0h1m-13 .5h1m-2 .5h1m7 0h1m3 0h1m7 0h1m-11.5 .5h1m4.5 0h1m-19 .5h1m10 0h1m1.5 .5h1m7 0h1m-20.5 .5h1m9 1h1m3 0h1m-4.5 1h1m25 .5h1m-35.5 .5h1m-8 1.5h1m39 1h1m-40.5 1.5h1m35.5 2.5h1m-7 1.5h1m41 2h1m-61.5 4h1m-19.5 3h1m51 .5h1m-14.5 1h1m6.5 10h1m-44.5 5.5h1" stroke="#000" stroke-opacity="0.3" fill="none"/>
<path d="M597 156.5h1m-.5 8h1m29.5 1h1m-8 .5h1m-14.5 .5h1m-3.5 1h1m24 0h1m2 0h1m21.5 0h1m-38 1h1m-2.5 .5h1m29 0h1m0 0h1m-31.5 .5h1m-16 .5h1m14.5 0h1m16.5 0h1m-24 .5h1m1 0h1m3.5 0h1m5.5 0h1m27.5 0h1m-.5 0h1m-39.5 .5h1m31.5 0h1m6.5 0h1m-50 .5h1m6 0h1m15 0h1m17 0h1m9 0h1m-45.5 .5h1m8.5 0h1m17 0h1m-.5 0h1m4 0h1m1.5 0h1m3.5 0h1m-54.5 .5h1m4.5 0h1m3.5 0h1m1 0h1m.5 0h1m-.5 0h1m0 0h1m-.5 0h1m.5 0h1m7.5 0h1m1 0h1m-.5 0h1m.5 0h1m17.5 0h1m.5 0h1m1 0h1m3 0h1m2 0h1m.5 0h1m-65.5 .5h1m5.5 0h1m4 0h1m6.5 0h1m-.5 0h1m1 0h1m0 0h1m3 0h1m15 0h1m2 0h1m2 0h1m-.5 0h1m4 0h1m1.5 0h1m6 0h1m-.5 0h1m-62 .5h1m4.5 0h1m2.5 0h1m8.5 0h1m2.5 0h1m-.5 0h1m13.5 0h1m-.5 0h1m6.5 0h1m-.5 0h1m0 0h1m1.5 0h1m2.5 0h1m11 0h1m-60 .5h1m-.5 0h1m1.5 0h1m-.5 0h1m4.5 0h1m3 0h1m5 0h1m16.5 0h1m14.5 0h1m-.5 0h1m-54 .5h1m2 0h1m3 0h1m0 0h1m2.5 0h1m-.5 0h1m3 0h1m-.5 0h1m10.5 0h1m2 0h1m13 0h1m-.5 0h1m1 0h1m.5 0h1m3 0h1m0 0h1m9.5 0h1m-68 .5h1m4.5 0h1m1 0h1m1 0h1m0 0h1m1 0h1m1.5 0h1m.5 0h1m-.5 0h1m2.5 0h1m1.5 0h1m14 0h1m10 0h1m.5 0h1m3.5 0h1m3 0h1m1 0h1m6 0h1m-69.5 .5h1m9.5 0h1m5.5 0h1m0 0h1m4 0h1m0 0h1m.5 0h1m2.5 0h1m1.5 0h1m10 0h1m-.5 0h1m-.5 0h1m2.5 0h1m0 0h1m-.5 0h1m3 0h1m2 0h1m2.5 0h1m3.5 0h1m-64.5 .5h1m1.5 0h1m.5 0h1m.5 0h1m1 0h1m1.5 0h1m-.5 0h1m8 0h1m11 0h1m.5 0h1m5.5 0h1m4 0h1m0 0h1m-.5 0h1m1 0h1m1 0h1m3.5 0h1m1.5 0h1m-.5 0h1m0 0h1m0 0h1m2 0h1m-61 .5h1m0 0h1m1 0h1m-.5 0h1m2 0h1m-.5 0h1m2.5 0h1m3.5 0h1m1 0h1m9.5 0h1m11 0h1m0 0h1m0 0h1m1 0h1m0 0h1m-.5 0h1m1 0h1m0 0h1m.5 0h1m.5 0h1m-.5 0h1m4.5 0h1m8 0h1m-66 .5h1m-.5 0h1m4 0h1m-.5 0h1m.5 0h1m-.5 0h1m.5 0h1m-.5 0h1m1 0h1m.5 0h1m1.5 0h1m-.5 0h1m1 0h1m3.5 0h1m7.5 0h1m0 0h1m0 0h1m5 0h1m-.5 0h1m0 0h1m.5 0h1m1 0h1m-.5 0h1m3.5 0h1m.5 0h1m0 0h1m10 0h1m-70.5 .5h1m3 0h1m3 0h1m2.5 0h1m0 0h1m3.5 0h1m2.5 0h1m.5 0h1m0 0h1m6.5 0h1m0 0h1m4.5 0h1m4 0h1m5.5 0h1m.5 0h1m1.5 0h1m.5 0h1m11 0h1m-.5 0h1m-.5 0h1m-66.5 .5h1m-.5 0h1m.5 0h1m12.5 0h1m.5 0h1m7 0h1m.5 0h1m.5 0h1m5 0h1m8.5 0h1m0 0h1m2.5 0h1m1.5 0h1m0 0h1m.5 0h1m-.5 0h1m0 0h1m0 0h1m3.5 0h1m-61.5 .5h1m7.5 0h1m.5 0h1m4 0h1m3 0h1m.5 0h1m1 0h1m2.5 0h1m1.5 0h1m.5 0h1m.5 0h1m7 0h1m0 0h1m4.5 0h1m0 0h1m1.5 0h1m-.5 0h1m8 0h1m0 0h1m5.5 0h1m1 0h1m-70.5 .5h1m2.5 0h1m-.5 0h1m-.5 0h1m1 0h1m3.5 0h1m0 0h1m1.5 0h1m0 0h1m22 0h1m6 0h1m2 0h1m6 0h1m-51.5 .5h1m0 0h1m-.5 0h1m3 0h1m1 0h1m2.5 0h1m-.5 0h1m3.5 0h1m1 0h1m9.5 0h1m3.5 0h1m3 0h1m3 0h1m.5 0h1m5.5 0h1m1.5 0h1m4 0h1m-54 .5h1m2 0h1m-.5 0h1m.5 0h1m.5 0h1m-.5 0h1m-.5 0h1m1.5 0h1m8 0h1m1.5 0h1m.5 0h1m6 0h1m10 0h1m1.5 0h1m7 0h1m-54.5 .5h1m-.5 0h1m7.5 0h1m-.5 0h1m.5 0h1m1.5 0h1m.5 0h1m3 0h1m-.5 0h1m4 0h1m9 0h1m1.5 0h1m1.5 0h1m2.5 0h1m2.5 0h1m-54.5 .5h1m4 0h1m4.5 0h1m0 0h1m2 0h1m1 0h1m1.5 0h1m4.5 0h1m-.5 0h1m12.5 0h1m7.5 0h1m.5 0h1m-.5 0h1m5.5 0h1m-57.5 .5h1m5.5 0h1m2 0h1m-.5 0h1m4 0h1m-.5 0h1m-.5 0h1m1.5 0h1m.5 0h1m2 0h1m1 0h1m18.5 0h1m10 0h1m-50 .5h1m0 0h1m1.5 0h1m5 0h1m-.5 0h1m.5 0h1m1 0h1m1 0h1m0 0h1m3 0h1m3 0h1m1 0h1m13.5 0h1m-46.5 .5h1m-.5 0h1m6.5 0h1m.5 0h1m-.5 0h1m1.5 0h1m1 0h1m2.5 0h1m0 0h1m7 0h1m10.5 0h1m2 0h1m5.5 0h1m-41 .5h1m-.5 0h1m-.5 0h1m-.5 0h1m2 0h1m3.5 0h1m-.5 0h1m7.5 0h1m30.5 0h1m-58 .5h1m9 0h1m2.5 0h1m-.5 0h1m10.5 0h1m1 0h1m1 0h1m-.5 0h1m18.5 0h1m-45 .5h1m0 0h1m2.5 0h1m0 0h1m.5 0h1m2 0h1m-.5 0h1m5 0h1m.5 0h1m0 0h1m.5 0h1m14.5 0h1m6.5 0h1m-43.5 .5h1m3 0h1m3.5 0h1m-.5 0h1m1.5 0h1m2.5 0h1m3 0h1m1.5 0h1m9 0h1m-36 .5h1m3.5 0h1m1.5 0h1m3 0h1m-.5 0h1m-.5 0h1m0 0h1m-.5 0h1m2.5 0h1m2 0h1m5 0h1m9.5 0h1m-34 .5h1m-.5 0h1m1 0h1m-.5 0h1m-.5 0h1m6.5 0h1m0 0h1m-.5 0h1m4 0h1m1.5 0h1m-.5 0h1m3.5 0h1m-31.5 .5h1m3 0h1m1.5 0h1m4 0h1m3 0h1m-.5 0h1m-.5 0h1m-.5 0h1m5 0h1m7 0h1m-24.5 .5h1m-.5 0h1m-.5 0h1m1.5 0h1m-.5 0h1m4.5 0h1m.5 0h1m2 0h1m-26.5 .5h1m8 0h1m4.5 0h1m.5 0h1m-.5 0h1m1 0h1m2.5 0h1m-.5 0h1m7.5 0h1m-26 .5h1m2 0h1m.5 0h1m2.5 0h1m0 0h1m-9.5 .5h1m1 0h1m2.5 0h1m2.5 0h1m11 0h1m-15.5 .5h1m3.5 0h1m2.5 0h1m-17 .5h1m15 0h1m-16 .5h1m3.5 0h1m5 0h1m-.5 0h1m2.5 0h1m6 0h1m-21 .5h1m1 .5h1m-.5 0h1m1 0h1m4.5 0h1m2.5 0h1m0 0h1m-6.5 .5h1m1.5 0h1m1.5 0h1m6 0h1m13.5 0h1m-29.5 .5h1m0 0h1m0 0h1m3.5 0h1m-12.5 .5h1m.5 0h1m3.5 0h1m-2 .5h1m6.5 0h1m-10.5 .5h1m2.5 0h1m-8 .5h1m.5 0h1m7.5 0h1m-10 .5h1m4.5 0h1m4.5 0h1m-19.5 .5h1m0 0h1m-.5 0h1m10.5 0h1m-.5 0h1m12 0h1m-22.5 1h1m9 0h1m-.5 0h1m3.5 0h1m-9.5 .5h1m10 .5h1m-5.5 .5h1m5.5 0h1m-16 1h1m-6 1h1m12.5 1h1m-2.5 1h1m30.5 4.5h1m-37 10h1m22.5 2h1m33 9h1m-31.5 10h1m7 1h1m-26 3h1" stroke="#000" stroke-opacity="0.3" fill="none"/>
<path d="M609.5 165.5h1m-13 1h1m5 .5h1m8 .5h1m7 0h1m4.5 0h1m-32 .5h1m18 0h1m9 0h1m0 0h1m-28 1h1m2.5 0h1m12 0h1m21.5 0h1m-39.5 .5h1m6.5 0h1m7.5 0h1m13 0h1m32 0h1m-64 .5h1m.5 0h1m2 0h1m6.5 0h1m5.5 0h1m10.5 0h1m9 0h1m-41.5 .5h1m.5 0h1m8 0h1m11.5 0h1m3.5 0h1m7 0h1m9.5 0h1m-45 .5h1m6.5 0h1m6.5 0h1m6.5 0h1m.5 0h1m6.5 0h1m3 0h1m5.5 0h1m4 0h1m0 0h1m4 0h1m-48.5 .5h1m1.5 0h1m8.5 0h1m16.5 0h1m3 0h1m-26.5 .5h1m22 0h1m6 0h1m1 0h1m2 0h1m4 0h1m0 0h1m-55.5 .5h1m1 0h1m3.5 0h1m3.5 0h1m7 0h1m3.5 0h1m4.5 0h1m18 0h1m1 0h1m0 0h1m3 0h1m-53.5 .5h1m0 0h1m2 0h1m0 0h1m1 0h1m6.5 0h1m14.5 0h1m.5 0h1m13.5 0h1m2.5 0h1m1 0h1m8 0h1m-63.5 .5h1m6.5 0h1m-.5 0h1m0 0h1m.5 0h1m0 0h1m-.5 0h1m0 0h1m-.5 0h1m2.5 0h1m14 0h1m7.5 0h1m-.5 0h1m2.5 0h1m-.5 0h1m2 0h1m2.5 0h1m3 0h1m-61 .5h1m-.5 0h1m3 0h1m5.5 0h1m0 0h1m.5 0h1m-.5 0h1m0 0h1m5.5 0h1m.5 0h1m2 0h1m1.5 0h1m11.5 0h1m4.5 0h1m1 0h1m0 0h1m.5 0h1m6.5 0h1m-51.5 .5h1m6.5 0h1m2.5 0h1m1 0h1m1.5 0h1m2 0h1m14.5 0h1m1 0h1m1.5 0h1m1.5 0h1m.5 0h1m0 0h1m-51 .5h1m2 0h1m1.5 0h1m2 0h1m-.5 0h1m3.5 0h1m1 0h1m2 0h1m1 0h1m0 0h1m3.5 0h1m4.5 0h1m8 0h1m0 0h1m2 0h1m-.5 0h1m6.5 0h1m3 0h1m6 0h1m-66.5 .5h1m1 0h1m.5 0h1m4.5 0h1m-.5 0h1m.5 0h1m1 0h1m0 0h1m-.5 0h1m-.5 0h1m0 0h1m-.5 0h1m4 0h1m4 0h1m1 0h1m0 0h1m10.5 0h1m-.5 0h1m-.5 0h1m0 0h1m2 0h1m4 0h1m1.5 0h1m-.5 0h1m4.5 0h1m3.5 0h1m0 0h1m-61 .5h1m.5 0h1m0 0h1m1 0h1m2 0h1m0 0h1m1 0h1m1 0h1m.5 0h1m.5 0h1m5.5 0h1m7 0h1m1 0h1m1 0h1m.5 0h1m3 0h1m1.5 0h1m4.5 0h1m1.5 0h1m2 0h1m-.5 0h1m2 0h1m-61.5 .5h1m7.5 0h1m6.5 0h1m3.5 0h1m0 0h1m-.5 0h1m-.5 0h1m2.5 0h1m-.5 0h1m.5 0h1m3.5 0h1m7 0h1m2 0h1m3.5 0h1m-.5 0h1m4.5 0h1m-56 .5h1m2 0h1m0 0h1m6 0h1m3 0h1m2 0h1m1 0h1m0 0h1m-.5 0h1m5.5 0h1m0 0h1m2.5 0h1m10.5 0h1m0 0h1m1 0h1m1 0h1m3.5 0h1m1 0h1m11 0h1m-67.5 .5h1m8.5 0h1m2.5 0h1m-.5 0h1m.5 0h1m7.5 0h1m6 0h1m4.5 0h1m5.5 0h1m0 0h1m3.5 0h1m-.5 0h1m2.5 0h1m1 0h1m-.5 0h1m2.5 0h1m-49.5 .5h1m5 0h1m4 0h1m0 0h1m1 0h1m1 0h1m.5 0h1m8 0h1m-.5 0h1m0 0h1m-.5 0h1m1.5 0h1m.5 0h1m-.5 0h1m0 0h1m.5 0h1m9 0h1m-.5 0h1m.5 0h1m3 0h1m4 0h1m-59.5 .5h1m8 0h1m2 0h1m-.5 0h1m3.5 0h1m-.5 0h1m1 0h1m0 0h1m1 0h1m8 0h1m8 0h1m13 0h1m-.5 0h1m1 0h1m3 0h1m-68.5 .5h1m2.5 0h1m1.5 0h1m1 0h1m0 0h1m.5 0h1m2.5 0h1m1 0h1m2 0h1m-.5 0h1m0 0h1m-.5 0h1m0 0h1m2.5 0h1m8 0h1m1.5 0h1m.5 0h1m12.5 0h1m4 0h1m-58.5 .5h1m4 0h1m0 0h1m2.5 0h1m1 0h1m2.5 0h1m0 0h1m0 0h1m-.5 0h1m0 0h1m1 0h1m1.5 0h1m0 0h1m3.5 0h1m1 0h1m-.5 0h1m3 0h1m0 0h1m10.5 0h1m3.5 0h1m2 0h1m5 0h1m-.5 0h1m-59.5 .5h1m-.5 0h1m2 0h1m0 0h1m3.5 0h1m4.5 0h1m0 0h1m0 0h1m-.5 0h1m3 0h1m5 0h1m9 0h1m3.5 0h1m0 0h1m5.5 0h1m.5 0h1m0 0h1m11 0h1m-67.5 .5h1m1.5 0h1m5.5 0h1m-.5 0h1m.5 0h1m0 0h1m-.5 0h1m1.5 0h1m1 0h1m-.5 0h1m1 0h1m-.5 0h1m.5 0h1m0 0h1m2 0h1m3 0h1m2.5 0h1m5.5 0h1m0 0h1m3 0h1m-.5 0h1m3.5 0h1m6.5 0h1m-58 .5h1m-.5 0h1m4 0h1m4.5 0h1m0 0h1m1 0h1m3.5 0h1m4 0h1m11 0h1m2 0h1m.5 0h1m6 0h1m1.5 0h1m-41 .5h1m4 0h1m-.5 0h1m4.5 0h1m3.5 0h1m3.5 0h1m-.5 0h1m0 0h1m-24 .5h1m2 0h1m.5 0h1m1 0h1m0 0h1m-.5 0h1m4 0h1m5.5 0h1m2 0h1m11.5 0h1m8 0h1m1.5 0h1m1 0h1m1.5 0h1m5 0h1m-64 .5h1m2 0h1m3 0h1m-.5 0h1m-.5 0h1m1 0h1m-.5 0h1m.5 0h1m2 0h1m3 0h1m1 0h1m-.5 0h1m.5 0h1m2.5 0h1m13 0h1m2.5 0h1m-43.5 .5h1m3.5 0h1m3 0h1m2 0h1m7 0h1m9 0h1m-30 .5h1m9.5 0h1m6.5 0h1m6.5 0h1m13 0h1m6.5 0h1m5.5 0h1m-45.5 .5h1m4 0h1m1 0h1m-.5 0h1m3 0h1m-21 .5h1m.5 0h1m1.5 0h1m2.5 0h1m15.5 0h1m-.5 0h1m0 0h1m3.5 0h1m23 0h1m-47 .5h1m0 0h1m3.5 0h1m1.5 0h1m1 0h1m-.5 0h1m-.5 0h1m-.5 0h1m23.5 0h1m2.5 0h1m-42 .5h1m2 0h1m10 0h1m3 0h1m-17.5 .5h1m-.5 0h1m-.5 0h1m2 0h1m3 0h1m3 0h1m.5 0h1m-24.5 .5h1m7.5 0h1m2 0h1m6 0h1m-.5 0h1m8.5 0h1m17 0h1m-48 .5h1m3.5 0h1m2.5 0h1m1 0h1m8.5 0h1m.5 0h1m24.5 0h1m-40.5 .5h1m.5 0h1m5.5 0h1m14 0h1m-30.5 .5h1m14.5 0h1m.5 0h1m1 0h1m-6 .5h1m8 0h1m5.5 0h1m-29.5 .5h1m8.5 0h1m4 0h1m7 0h1m-17 .5h1m-.5 0h1m.5 0h1m.5 0h1m3.5 0h1m1 0h1m-.5 0h1m1 0h1m-.5 0h1m0 0h1m1 0h1m1 0h1m-23 .5h1m2.5 0h1m4.5 0h1m4.5 0h1m4.5 0h1m3 0h1m-16 .5h1m4 0h1m3 0h1m-14.5 .5h1m12.5 0h1m-8.5 .5h1m10 0h1m-20 .5h1m0 0h1m5 0h1m-.5 0h1m5 0h1m-19.5 .5h1m13 0h1m1.5 0h1m33 0h1m-54 .5h1m12.5 0h1m11 0h1m49.5 0h1m-67 .5h1m2.5 0h1m4.5 0h1m-17 .5h1m10.5 0h1m1 0h1m10 0h1m24 .5h1m-51.5 .5h1m21 0h1m-17.5 .5h1m3.5 0h1m12 0h1m-28 .5h1m14.5 0h1m-11.5 5h1m28.5 1.5h1m9.5 12h1m-34 1.5h1m15 10.5h1" stroke="#000" stroke-opacity="0.3" fill="none"/>
<path d="M628 162.5h1m-19.5 1h1m16 0h1m-16.5 1h1m-8 1.5h1m-.5 0h1m3 .5h1m27 .5h1m-10.5 1h1m4 0h1m3 0h1m-35 .5h1m10.5 0h1m3 0h1m3.5 0h1m5 0h1m11 0h1m7 0h1m-39.5 .5h1m3 0h1m5 0h1m15.5 0h1m6.5 0h1m-39 .5h1m2 0h1m6.5 0h1m-.5 0h1m3 0h1m13.5 0h1m.5 0h1m13.5 0h1m-46 .5h1m6.5 0h1m20.5 0h1m-36.5 .5h1m4.5 0h1m0 0h1m1 0h1m.5 0h1m1.5 0h1m1 0h1m5.5 0h1m1.5 0h1m-2.5 .5h1m3 0h1m4 0h1m-34.5 .5h1m2.5 0h1m14 0h1m1 0h1m2.5 0h1m1.5 0h1m4 0h1m12 0h1m4.5 0h1m6 0h1m.5 0h1m5 0h1m-59.5 .5h1m2 0h1m5 0h1m3 0h1m5.5 0h1m3 0h1m14 0h1m4 0h1m1 0h1m9.5 0h1m.5 0h1m-59 .5h1m3.5 0h1m8 0h1m23 0h1m1.5 0h1m6.5 0h1m1.5 0h1m.5 0h1m-56 .5h1m19.5 0h1m13.5 0h1m1.5 0h1m9.5 0h1m1.5 0h1m3 0h1m5 0h1m3.5 0h1m-68.5 .5h1m5 0h1m0 0h1m-.5 0h1m-.5 0h1m4.5 0h1m-.5 0h1m3 0h1m.5 0h1m5 0h1m1.5 0h1m10 0h1m1.5 0h1m12.5 0h1m2 0h1m-59.5 .5h1m1.5 0h1m5.5 0h1m3 0h1m.5 0h1m.5 0h1m.5 0h1m1 0h1m5 0h1m3.5 0h1m6 0h1m1.5 0h1m1.5 0h1m1 0h1m1 0h1m-.5 0h1m3 0h1m-.5 0h1m1.5 0h1m.5 0h1m1.5 0h1m3.5 0h1m-.5 0h1m-59 .5h1m1 0h1m9 0h1m2.5 0h1m-.5 0h1m2 0h1m4 0h1m12.5 0h1m11.5 0h1m8 0h1m1 0h1m-65.5 .5h1m5 0h1m.5 0h1m2.5 0h1m4 0h1m0 0h1m27 0h1m0 0h1m0 0h1m0 0h1m1 0h1m7 0h1m2 0h1m-56.5 .5h1m-.5 0h1m0 0h1m0 0h1m.5 0h1m3 0h1m0 0h1m-.5 0h1m5 0h1m0 0h1m2.5 0h1m5.5 0h1m5 0h1m2 0h1m3 0h1m.5 0h1m1.5 0h1m3.5 0h1m3 0h1m.5 0h1m.5 0h1m-.5 0h1m-51.5 .5h1m.5 0h1m1.5 0h1m.5 0h1m0 0h1m1.5 0h1m0 0h1m0 0h1m-.5 0h1m-.5 0h1m5.5 0h1m6 0h1m-.5 0h1m1 0h1m2 0h1m.5 0h1m7.5 0h1m3 0h1m.5 0h1m.5 0h1m0 0h1m1 0h1m11 0h1m-71.5 .5h1m3.5 0h1m1 0h1m-.5 0h1m1.5 0h1m2.5 0h1m-.5 0h1m-.5 0h1m0 0h1m2.5 0h1m4.5 0h1m1 0h1m-.5 0h1m1.5 0h1m0 0h1m4 0h1m7.5 0h1m.5 0h1m-.5 0h1m7 0h1m.5 0h1m1.5 0h1m1 0h1m1 0h1m-57.5 .5h1m2 0h1m2.5 0h1m0 0h1m-.5 0h1m.5 0h1m2 0h1m5.5 0h1m13.5 0h1m.5 0h1m-.5 0h1m5 0h1m-.5 0h1m-.5 0h1m0 0h1m1 0h1m3 0h1m13.5 0h1m-72 .5h1m3 0h1m5.5 0h1m-.5 0h1m1 0h1m3 0h1m4.5 0h1m4 0h1m2 0h1m6.5 0h1m5 0h1m2.5 0h1m1.5 0h1m.5 0h1m1 0h1m-.5 0h1m0 0h1m2 0h1m1 0h1m-59.5 .5h1m3 0h1m2 0h1m2 0h1m-.5 0h1m1.5 0h1m1.5 0h1m0 0h1m0 0h1m7 0h1m9.5 0h1m2 0h1m4.5 0h1m3 0h1m2.5 0h1m1 0h1m9 0h1m-64.5 .5h1m0 0h1m7 0h1m5.5 0h1m-.5 0h1m0 0h1m5 0h1m7 0h1m14.5 0h1m.5 0h1m1.5 0h1m2 0h1m1.5 0h1m2.5 0h1m-61.5 .5h1m.5 0h1m-.5 0h1m2 0h1m0 0h1m.5 0h1m-.5 0h1m3.5 0h1m.5 0h1m4.5 0h1m1.5 0h1m2 0h1m8 0h1m0 0h1m2 0h1m3.5 0h1m4.5 0h1m.5 0h1m3.5 0h1m-.5 0h1m0 0h1m-43 .5h1m0 0h1m-.5 0h1m1.5 0h1m4.5 0h1m2 0h1m14.5 0h1m-.5 0h1m1.5 0h1m1 0h1m-51 .5h1m2.5 0h1m.5 0h1m0 0h1m1.5 0h1m4 0h1m2 0h1m2.5 0h1m-.5 0h1m3 0h1m2 0h1m11 0h1m3 0h1m0 0h1m.5 0h1m0 0h1m14.5 0h1m1.5 0h1m-60 .5h1m-.5 0h1m4 0h1m.5 0h1m-.5 0h1m2 0h1m7.5 0h1m.5 0h1m0 0h1m1 0h1m2.5 0h1m9.5 0h1m2 0h1m1.5 0h1m3 0h1m4 0h1m-52.5 .5h1m5.5 0h1m.5 0h1m2 0h1m-.5 0h1m1 0h1m1.5 0h1m2 0h1m0 0h1m3.5 0h1m0 0h1m-.5 0h1m13.5 0h1m4.5 0h1m-51 .5h1m1.5 0h1m2.5 0h1m3 0h1m0 0h1m2 0h1m1.5 0h1m3 0h1m2 0h1m16.5 0h1m4 0h1m.5 0h1m5 0h1m7.5 0h1m-54 .5h1m2 0h1m1 0h1m-.5 0h1m2.5 0h1m1.5 0h1m-.5 0h1m3.5 0h1m38 0h1m-48 .5h1m.5 0h1m-.5 0h1m-.5 0h1m2 0h1m.5 0h1m10 0h1m-30.5 .5h1m-.5 0h1m1 0h1m1 0h1m-.5 0h1m6 0h1m-.5 0h1m0 0h1m0 0h1m0 0h1m-.5 0h1m32.5 0h1m.5 0h1m1 0h1m-55.5 .5h1m6.5 0h1m0 0h1m0 0h1m.5 0h1m3 0h1m0 0h1m6 0h1m.5 0h1m.5 0h1m-21.5 .5h1m7.5 0h1m.5 0h1m.5 0h1m6 0h1m1.5 0h1m18 0h1m-51 .5h1m5.5 0h1m1.5 0h1m.5 0h1m0 0h1m1.5 0h1m-.5 0h1m3 0h1m3.5 0h1m4.5 0h1m2 0h1m1 0h1m20 0h1m-47.5 .5h1m0 0h1m3.5 0h1m6 0h1m10 0h1m-27.5 .5h1m3 0h1m2 0h1m0 0h1m.5 0h1m4.5 0h1m2 0h1m1.5 0h1m1.5 0h1m17 0h1m-46 .5h1m3.5 0h1m.5 0h1m2 0h1m3 0h1m1 0h1m0 0h1m1.5 0h1m1.5 0h1m0 0h1m-.5 0h1m5.5 0h1m-32.5 .5h1m.5 0h1m9.5 0h1m1.5 0h1m-.5 0h1m.5 0h1m3.5 0h1m-21 .5h1m1 0h1m3 0h1m2.5 0h1m1 0h1m2.5 0h1m1 0h1m20 0h1m-40 .5h1m3.5 0h1m12.5 0h1m-7 .5h1m1.5 0h1m1.5 0h1m1.5 0h1m.5 0h1m4.5 0h1m0 0h1m0 0h1m4.5 0h1m-29.5 .5h1m5.5 0h1m3.5 0h1m2 0h1m3.5 0h1m1 0h1m3.5 0h1m-25 .5h1m16.5 0h1m2 0h1m-.5 0h1m-.5 0h1m-15.5 .5h1m.5 0h1m1.5 0h1m2.5 0h1m8.5 0h1m-27.5 .5h1m2.5 0h1m3.5 0h1m-.5 0h1m0 0h1m5 0h1m-14 .5h1m1.5 0h1m4 0h1m0 0h1m.5 0h1m16 0h1m-21 .5h1m3.5 0h1m8 0h1m-27.5 .5h1m14.5 0h1m2.5 0h1m0 0h1m0 0h1m-19 .5h1m8.5 0h1m1.5 0h1m3.5 0h1m15 0h1m-29.5 .5h1m4 0h1m4 0h1m3.5 0h1m1 0h1m6.5 0h1m8 0h1m-27 .5h1m9.5 0h1m-.5 0h1m-11.5 .5h1m.5 0h1m12 0h1m-27 .5h1m1.5 0h1m4 0h1m9.5 0h1m-10 1h1m9.5 0h1m-6.5 .5h1m1.5 0h1m-3 .5h1m23 .5h1m-5.5 .5h1m-29 .5h1m2 0h1m0 .5h1m11.5 0h1m-13.5 .5h1m4 1h1m60.5 0h1m-53 1h1m-15 2.5h1m1.5 .5h1m54 4.5h1m-18 17h1" stroke="#000" stroke-opacity="0.3" fill="none"/>
<rect x="594.60" y="153.10" width="88.60" height="88.80" fill="none" stroke="#1a1a1a" stroke-width="1.2"/>
<line x1="627.30" y1="152.50" x2="627.30" y2="242.50" stroke="#1a1a1a" stroke-width="1.1"/>
<line x1="594.00" y1="180.20" x2="683.80" y2="180.20" stroke="#1a1a1a" stroke-width="1.1"/>
<text x="595.80" y="161.10" font-size="8.4" text-anchor="start" font-weight="normal" font-style="normal" fill="#1a1a1a" >38.6</text>
<text x="680.40" y="161.10" font-size="8.4" text-anchor="end" font-weight="normal" font-style="normal" fill="#1a1a1a" >21.7</text>
<text x="595.80" y="238.90" font-size="8.4" text-anchor="start" font-weight="normal" font-style="normal" fill="#1a1a1a" >33.7</text>
<text x="680.40" y="238.90" font-size="8.4" text-anchor="end" font-weight="normal" font-style="normal" fill="#1a1a1a" >5.95</text>
<line x1="592.00" y1="161.00" x2="594.50" y2="161.00" stroke="#222" stroke-width="1.1"/>
<text x="587.80" y="163.60" font-size="7.0" text-anchor="end" fill="#222">10<tspan dy="-2.8" font-size="5.04">5</tspan></text>
<line x1="592.00" y1="181.20" x2="594.50" y2="181.20" stroke="#222" stroke-width="1.1"/>
<text x="587.80" y="183.80" font-size="7.0" text-anchor="end" fill="#222">10<tspan dy="-2.8" font-size="5.04">4</tspan></text>
<line x1="592.00" y1="201.50" x2="594.50" y2="201.50" stroke="#222" stroke-width="1.1"/>
<text x="587.80" y="204.10" font-size="7.0" text-anchor="end" fill="#222">10<tspan dy="-2.8" font-size="5.04">3</tspan></text>
<line x1="592.00" y1="222.70" x2="594.50" y2="222.70" stroke="#222" stroke-width="1.1"/>
<text x="587.80" y="225.30" font-size="7.0" text-anchor="end" fill="#222">10<tspan dy="-2.8" font-size="5.04">2</tspan></text>
<line x1="592.00" y1="237.80" x2="594.50" y2="237.80" stroke="#222" stroke-width="1.1"/>
<text x="588.50" y="240.40" font-size="7.0" text-anchor="end" fill="#222">0</text>
<line x1="592.70" y1="167.06" x2="594.50" y2="167.06" stroke="#333" stroke-width="0.8"/>
<line x1="592.70" y1="171.50" x2="594.50" y2="171.50" stroke="#333" stroke-width="0.8"/>
<line x1="592.70" y1="175.14" x2="594.50" y2="175.14" stroke="#333" stroke-width="0.8"/>
<line x1="592.70" y1="187.29" x2="594.50" y2="187.29" stroke="#333" stroke-width="0.8"/>
<line x1="592.70" y1="191.76" x2="594.50" y2="191.76" stroke="#333" stroke-width="0.8"/>
<line x1="592.70" y1="195.41" x2="594.50" y2="195.41" stroke="#333" stroke-width="0.8"/>
<line x1="592.70" y1="207.86" x2="594.50" y2="207.86" stroke="#333" stroke-width="0.8"/>
<line x1="592.70" y1="212.52" x2="594.50" y2="212.52" stroke="#333" stroke-width="0.8"/>
<line x1="592.70" y1="216.34" x2="594.50" y2="216.34" stroke="#333" stroke-width="0.8"/>
<line x1="592.70" y1="227.23" x2="594.50" y2="227.23" stroke="#333" stroke-width="0.8"/>
<line x1="592.70" y1="230.55" x2="594.50" y2="230.55" stroke="#333" stroke-width="0.8"/>
<line x1="592.70" y1="233.27" x2="594.50" y2="233.27" stroke="#333" stroke-width="0.8"/>
<line x1="613.80" y1="242.00" x2="613.80" y2="244.50" stroke="#222" stroke-width="1.1"/>
<text x="613.80" y="257.00" font-size="7.0" text-anchor="middle" fill="#222">0</text>
<line x1="628.00" y1="242.00" x2="628.00" y2="244.50" stroke="#222" stroke-width="1.1"/>
<text x="629.20" y="257.00" font-size="7.0" text-anchor="middle" fill="#222">10<tspan dy="-2.8" font-size="5.04">3</tspan></text>
<line x1="652.80" y1="242.00" x2="652.80" y2="244.50" stroke="#222" stroke-width="1.1"/>
<text x="654.00" y="257.00" font-size="7.0" text-anchor="middle" fill="#222">10<tspan dy="-2.8" font-size="5.04">4</tspan></text>
<line x1="674.00" y1="242.00" x2="674.00" y2="244.50" stroke="#222" stroke-width="1.1"/>
<text x="675.20" y="257.00" font-size="7.0" text-anchor="middle" fill="#222">10<tspan dy="-2.8" font-size="5.04">5</tspan></text>
<line x1="618.06" y1="242.00" x2="618.06" y2="244.00" stroke="#333" stroke-width="0.8"/>
<line x1="621.18" y1="242.00" x2="621.18" y2="244.00" stroke="#333" stroke-width="0.8"/>
<line x1="623.74" y1="242.00" x2="623.74" y2="244.00" stroke="#333" stroke-width="0.8"/>
<line x1="625.87" y1="242.00" x2="625.87" y2="244.00" stroke="#333" stroke-width="0.8"/>
<line x1="635.44" y1="242.00" x2="635.44" y2="244.00" stroke="#333" stroke-width="0.8"/>
<line x1="640.90" y1="242.00" x2="640.90" y2="244.00" stroke="#333" stroke-width="0.8"/>
<line x1="645.36" y1="242.00" x2="645.36" y2="244.00" stroke="#333" stroke-width="0.8"/>
<line x1="649.08" y1="242.00" x2="649.08" y2="244.00" stroke="#333" stroke-width="0.8"/>
<line x1="659.16" y1="242.00" x2="659.16" y2="244.00" stroke="#333" stroke-width="0.8"/>
<line x1="663.82" y1="242.00" x2="663.82" y2="244.00" stroke="#333" stroke-width="0.8"/>
<line x1="667.64" y1="242.00" x2="667.64" y2="244.00" stroke="#333" stroke-width="0.8"/>
<line x1="670.82" y1="242.00" x2="670.82" y2="244.00" stroke="#333" stroke-width="0.8"/>
<ellipse cx="612" cy="292" rx="14" ry="9.5" fill="url(#core)" opacity="1.0"/>
<ellipse cx="651.5" cy="286" rx="9" ry="6.5" fill="url(#core)" opacity="1.0"/>
<ellipse cx="635" cy="288" rx="9" ry="3" fill="url(#core)" opacity="0.3"/>
<path d="M626 266.5h1m41.5 .5h1m-57.5 1.5h1m24.5 2.5h1m10.5 1h1m-42.5 1h1m9.5 0h1m33 2h1m-43 .5h1m8.5 1h1m1.5 0h1m-.5 0h1m1 .5h1m9.5 .5h1m10 0h1m-40.5 .5h1m31.5 0h1m-38 .5h1m51 0h1m-27 .5h1m3.5 0h1m6 0h1m3 0h1m-37.5 .5h1m2.5 0h1m13.5 0h1m6.5 0h1m-12 .5h1m0 0h1m2.5 0h1m.5 0h1m17.5 0h1m2.5 0h1m1.5 0h1m5 0h1m1 0h1m-50 .5h1m0 0h1m20 0h1m8.5 0h1m8.5 0h1m3 0h1m-43.5 .5h1m1 0h1m.5 0h1m13.5 0h1m-.5 0h1m22 0h1m-.5 0h1m.5 0h1m2 0h1m0 0h1m-58 .5h1m6.5 0h1m2 0h1m12.5 0h1m9.5 0h1m8 0h1m2.5 0h1m.5 0h1m-47.5 .5h1m2 0h1m27.5 0h1m5 0h1m0 0h1m.5 0h1m3 0h1m-.5 0h1m3 0h1m3.5 0h1m-50 .5h1m16 0h1m20.5 0h1m2 0h1m2.5 0h1m2 0h1m3.5 0h1m-59 .5h1m.5 0h1m21.5 0h1m12.5 0h1m2 0h1m-.5 0h1m2 0h1m0 0h1m4 0h1m-.5 0h1m2.5 0h1m-54 .5h1m7.5 0h1m0 0h1m8 0h1m-.5 0h1m13 0h1m5 0h1m1.5 0h1m-.5 0h1m10.5 0h1m2 0h1m1.5 0h1m-69.5 .5h1m15 0h1m22.5 0h1m5 0h1m2 0h1m3 0h1m3.5 0h1m0 0h1m4.5 0h1m.5 0h1m-46.5 .5h1m5 0h1m.5 0h1m7.5 0h1m1.5 0h1m5 0h1m.5 0h1m-.5 0h1m5 0h1m-.5 0h1m.5 0h1m2 0h1m4.5 0h1m-57 .5h1m0 0h1m5.5 0h1m6.5 0h1m1 0h1m-.5 0h1m4 0h1m3.5 0h1m1.5 0h1m-.5 0h1m11 0h1m.5 0h1m2.5 0h1m10.5 0h1m-57.5 .5h1m3 0h1m2 0h1m-.5 0h1m1 0h1m0 0h1m.5 0h1m11.5 0h1m11 0h1m0 0h1m0 0h1m-.5 0h1m3 0h1m2.5 0h1m1 0h1m-.5 0h1m1 0h1m-.5 0h1m1.5 0h1m-58 .5h1m5 0h1m.5 0h1m3.5 0h1m3 0h1m-.5 0h1m12.5 0h1m2 0h1m8 0h1m-.5 0h1m3 0h1m.5 0h1m-.5 0h1m4.5 0h1m-59 .5h1m7 0h1m5.5 0h1m3 0h1m1.5 0h1m.5 0h1m1 0h1m1 0h1m7 0h1m6.5 0h1m2 0h1m2.5 0h1m3 0h1m1.5 0h1m2 0h1m-.5 0h1m1.5 0h1m-60 .5h1m1 0h1m4 0h1m1 0h1m-.5 0h1m.5 0h1m9.5 0h1m5 0h1m7 0h1m1.5 0h1m6 0h1m1 0h1m1 0h1m1.5 0h1m.5 0h1m1 0h1m-59 .5h1m4.5 0h1m.5 0h1m4 0h1m1 0h1m-.5 0h1m2.5 0h1m8.5 0h1m7.5 0h1m4 0h1m14 0h1m2.5 0h1m2 0h1m2 0h1m1 0h1m-62 .5h1m4.5 0h1m4 0h1m0 0h1m4.5 0h1m0 0h1m1 0h1m.5 0h1m.5 0h1m.5 0h1m2 0h1m0 0h1m4 0h1m.5 0h1m2.5 0h1m4 0h1m7 0h1m3 0h1m0 0h1m-54 .5h1m3 0h1m-.5 0h1m6 0h1m3 0h1m2.5 0h1m4.5 0h1m0 0h1m5 0h1m0 0h1m0 0h1m.5 0h1m0 0h1m-.5 0h1m7 0h1m-.5 0h1m1 0h1m-.5 0h1m-.5 0h1m1 0h1m2.5 0h1m3 0h1m-64.5 .5h1m-.5 0h1m0 0h1m5.5 0h1m3 0h1m3 0h1m-.5 0h1m-.5 0h1m0 0h1m5.5 0h1m4.5 0h1m2.5 0h1m.5 0h1m-.5 0h1m4.5 0h1m3 0h1m4 0h1m.5 0h1m1 0h1m3.5 0h1m-53.5 .5h1m1.5 0h1m0 0h1m3.5 0h1m1 0h1m0 0h1m6.5 0h1m13 0h1m1.5 0h1m4.5 0h1m5 0h1m3 0h1m-50 .5h1m.5 0h1m.5 0h1m9.5 0h1m0 0h1m3 0h1m7.5 0h1m17.5 0h1m-56.5 .5h1m-.5 0h1m18 0h1m2.5 0h1m0 0h1m2.5 0h1m11.5 0h1m-.5 0h1m0 0h1m11.5 0h1m1 0h1m1.5 0h1m-46.5 .5h1m-.5 0h1m5 0h1m5 0h1m0 0h1m0 0h1m-.5 0h1m4.5 0h1m4 0h1m8.5 0h1m1.5 0h1m4.5 0h1m0 0h1m10 0h1m-68.5 .5h1m3.5 0h1m9.5 0h1m-.5 0h1m0 0h1m4.5 0h1m1.5 0h1m0 0h1m4 0h1m29.5 0h1m-56 .5h1m0 0h1m2.5 0h1m8 0h1m.5 0h1m2.5 0h1m10.5 0h1m3 0h1m0 0h1m.5 0h1m8.5 0h1m1.5 0h1m2 0h1m7 0h1m-66 .5h1m3 0h1m0 0h1m0 0h1m.5 0h1m5 0h1m1 0h1m.5 0h1m2.5 0h1m6 0h1m22.5 0h1m14.5 0h1m-65 .5h1m24 0h1m26.5 0h1m4.5 0h1m-.5 0h1m-61.5 .5h1m9 0h1m8.5 0h1m1.5 0h1m1 0h1m2.5 0h1m1.5 0h1m19 0h1m-51 .5h1m6 0h1m5.5 0h1m2.5 0h1m21 0h1m5.5 0h1m2.5 0h1m-43 .5h1m-.5 0h1m9 0h1m1 0h1m2 0h1m.5 0h1m.5 0h1m-.5 0h1m2 0h1m7.5 0h1m13 0h1m3 0h1m-60 .5h1m9 0h1m-.5 0h1m5 0h1m7.5 0h1m-26 .5h1m1 0h1m8 0h1m1.5 0h1m7 0h1m.5 0h1m2.5 0h1m2 0h1m24 0h1m-48.5 .5h1m4.5 0h1m5 0h1m-.5 0h1m1 0h1m6 0h1m4.5 0h1m.5 0h1m-23.5 .5h1m4.5 0h1m-.5 0h1m34.5 0h1m-.5 0h1m-50 .5h1m4 0h1m.5 0h1m8 0h1m7.5 0h1m4 0h1m-20 .5h1m-.5 0h1m1 0h1m3.5 0h1m9.5 0h1m-24.5 .5h1m2.5 0h1m13 0h1m-22 .5h1m2 0h1m-.5 0h1m4 0h1m1 0h1m8.5 0h1m-13.5 .5h1m3.5 0h1m4 0h1m-18 .5h1m15 0h1m10 0h1m52 0h1m-80 .5h1m24.5 0h1m21 0h1m-43 .5h1m3 0h1m0 0h1m10.5 0h1m-12 .5h1m15.5 0h1m-10.5 .5h1m-9 .5h1m1.5 0h1m.5 0h1m9.5 0h1m-20.5 .5h1m1.5 0h1m6.5 0h1m-20 .5h1m5.5 0h1m1.5 0h1m4 0h1m21.5 0h1m-30.5 .5h1m13 0h1m-21 .5h1m15.5 0h1m.5 0h1m-3.5 .5h1m.5 .5h1m12 .5h1m-23 1h1m10 0h1m10 1h1m-7.5 .5h1m-13.5 .5h1m5.5 .5h1m-7.5 .5h1m70 1h1m-78 1h1m61.5 .5h1m-16.5 19h1m-22 7h1m-12.5 7.5h1" stroke="#000" stroke-opacity="0.3" fill="none"/>
<path d="M611 271.5h1m18 1.5h1m-16 1.5h1m11 1h1m-22 1h1m.5 0h1m.5 0h1m25 .5h1m10 0h1m13 0h1m-41.5 .5h1m-23.5 .5h1m20.5 .5h1m29 0h1m4 0h1m0 0h1m-54.5 .5h1m45 0h1m3.5 0h1m-37 .5h1m26.5 0h1m2 0h1m3 0h1m-35 .5h1m3 0h1m1.5 0h1m0 0h1m40 0h1m-69.5 .5h1m16.5 0h1m2 0h1m0 0h1m.5 0h1m-.5 0h1m6.5 0h1m11 0h1m14.5 0h1m-44.5 .5h1m8.5 0h1m-.5 0h1m10.5 0h1m.5 0h1m3 0h1m2 0h1m3.5 0h1m4.5 0h1m1.5 0h1m-46.5 .5h1m3 0h1m1.5 0h1m0 0h1m7.5 0h1m5.5 0h1m9 0h1m6.5 0h1m.5 0h1m7 0h1m-51 .5h1m3 0h1m-.5 0h1m11 0h1m2 0h1m10.5 0h1m5 0h1m3.5 0h1m4.5 0h1m0 0h1m1 0h1m-56 .5h1m3.5 0h1m12 0h1m5 0h1m6 0h1m11.5 0h1m2.5 0h1m6.5 0h1m-62.5 .5h1m14 0h1m2 0h1m3 0h1m10 0h1m13.5 0h1m1 0h1m1 0h1m3 0h1m1 0h1m8 0h1m-63 .5h1m.5 0h1m4.5 0h1m5 0h1m.5 0h1m12.5 0h1m4 0h1m1 0h1m5.5 0h1m4.5 0h1m2.5 0h1m3 0h1m0 0h1m.5 0h1m2.5 0h1m-56.5 .5h1m10 0h1m1 0h1m2 0h1m1 0h1m2 0h1m4 0h1m1 0h1m7 0h1m3.5 0h1m.5 0h1m5 0h1m-.5 0h1m5.5 0h1m-58 .5h1m6.5 0h1m-.5 0h1m2 0h1m.5 0h1m29 0h1m-.5 0h1m1.5 0h1m4 0h1m4 0h1m-46 .5h1m23 0h1m0 0h1m-.5 0h1m9 0h1m-45 .5h1m2.5 0h1m.5 0h1m2 0h1m0 0h1m3.5 0h1m6 0h1m14 0h1m-.5 0h1m3.5 0h1m-.5 0h1m4 0h1m2.5 0h1m0 0h1m3 0h1m-51.5 .5h1m2 0h1m2.5 0h1m0 0h1m0 0h1m9.5 0h1m0 0h1m3 0h1m1 0h1m4 0h1m2.5 0h1m5 0h1m0 0h1m-.5 0h1m1 0h1m3.5 0h1m1 0h1m-52 .5h1m1.5 0h1m-.5 0h1m1.5 0h1m.5 0h1m3 0h1m2 0h1m4 0h1m6.5 0h1m0 0h1m1 0h1m1.5 0h1m5 0h1m.5 0h1m0 0h1m1 0h1m-.5 0h1m4 0h1m1.5 0h1m-63.5 .5h1m11.5 0h1m6.5 0h1m.5 0h1m16.5 0h1m2 0h1m4 0h1m1.5 0h1m1 0h1m1 0h1m-.5 0h1m0 0h1m.5 0h1m0 0h1m2 0h1m-59.5 .5h1m-.5 0h1m4.5 0h1m6 0h1m3 0h1m.5 0h1m2.5 0h1m.5 0h1m4 0h1m14 0h1m4 0h1m-.5 0h1m-47.5 .5h1m4 0h1m0 0h1m-.5 0h1m1 0h1m0 0h1m.5 0h1m2.5 0h1m2.5 0h1m3 0h1m2.5 0h1m3.5 0h1m4.5 0h1m-.5 0h1m.5 0h1m6.5 0h1m1.5 0h1m4.5 0h1m0 0h1m3 0h1m-60 .5h1m5 0h1m2.5 0h1m2 0h1m2.5 0h1m.5 0h1m-.5 0h1m2.5 0h1m7.5 0h1m-.5 0h1m2.5 0h1m6 0h1m-.5 0h1m5.5 0h1m2 0h1m-.5 0h1m3 0h1m5.5 0h1m-63.5 .5h1m2 0h1m-.5 0h1m5.5 0h1m2 0h1m1.5 0h1m3.5 0h1m6.5 0h1m3.5 0h1m3.5 0h1m0 0h1m-.5 0h1m.5 0h1m3 0h1m.5 0h1m2.5 0h1m2.5 0h1m.5 0h1m3.5 0h1m2 0h1m-58 .5h1m1.5 0h1m1 0h1m0 0h1m.5 0h1m.5 0h1m6.5 0h1m.5 0h1m1.5 0h1m2.5 0h1m1 0h1m0 0h1m6.5 0h1m2.5 0h1m1 0h1m6 0h1m-51 .5h1m11.5 0h1m3.5 0h1m2 0h1m3 0h1m3 0h1m.5 0h1m2.5 0h1m.5 0h1m11.5 0h1m9 0h1m2.5 0h1m-61.5 .5h1m6.5 0h1m6 0h1m-.5 0h1m1.5 0h1m2.5 0h1m1 0h1m1 0h1m8 0h1m3.5 0h1m9 0h1m-51 .5h1m4 0h1m5.5 0h1m0 0h1m5 0h1m9 0h1m.5 0h1m15.5 0h1m7 0h1m2.5 0h1m-.5 0h1m-58 .5h1m1 0h1m5 0h1m1.5 0h1m3 0h1m10.5 0h1m10.5 0h1m18 0h1m-61 .5h1m5 0h1m3.5 0h1m9.5 0h1m3.5 0h1m0 0h1m0 0h1m14 0h1m5.5 0h1m3.5 0h1m0 0h1m.5 0h1m-45.5 .5h1m6.5 0h1m.5 0h1m7.5 0h1m11.5 0h1m-33 .5h1m.5 0h1m3.5 0h1m3 0h1m2 0h1m3 0h1m-.5 0h1m0 0h1m15.5 0h1m-.5 0h1m9.5 0h1m-54 .5h1m16 0h1m.5 0h1m2.5 0h1m1 0h1m.5 0h1m-.5 0h1m3.5 0h1m1.5 0h1m0 0h1m2 0h1m10.5 0h1m3.5 0h1m14 0h1m-70.5 .5h1m4 0h1m4.5 0h1m4.5 0h1m9 0h1m0 0h1m3 0h1m4 0h1m15 0h1m-.5 0h1m2 0h1m.5 0h1m4 0h1m-54.5 .5h1m6 0h1m2 0h1m2.5 0h1m-.5 0h1m3 0h1m12 0h1m1 0h1m14.5 0h1m4 0h1m-63 .5h1m8 0h1m0 0h1m0 0h1m0 0h1m0 0h1m-.5 0h1m5 0h1m2 0h1m7 0h1m-27.5 .5h1m3 0h1m5.5 0h1m3 0h1m-3.5 .5h1m1 0h1m-.5 0h1m6.5 0h1m38.5 0h1m-59.5 .5h1m0 0h1m1 0h1m-.5 0h1m.5 0h1m0 0h1m1 0h1m1 0h1m4.5 0h1m4 0h1m7 0h1m-16 .5h1m9.5 0h1m-21 .5h1m.5 0h1m3.5 0h1m-3.5 .5h1m6 0h1m-10.5 .5h1m7.5 0h1m0 0h1m-23 .5h1m13.5 0h1m1.5 0h1m.5 0h1m2.5 0h1m-9.5 .5h1m14 0h1m2.5 0h1m-27 .5h1m5.5 0h1m-.5 0h1m14.5 0h1m2.5 0h1m-28.5 .5h1m1.5 0h1m18.5 0h1m-28 .5h1m4 0h1m16.5 .5h1m6.5 0h1m-.5 0h1m-17 .5h1m4 0h1m-15.5 .5h1m12 0h1m-16 .5h1m5 0h1m6 0h1m16.5 .5h1m-25.5 .5h1m3 0h1m18.5 0h1m-23 1h1m20 0h1m-18 .5h1m13.5 0h1m23 0h1m-40 .5h1m-9 .5h1m-.5 0h1m-3.5 .5h1m15.5 0h1m-17 .5h1m52 0h1m-35.5 .5h1m-20 .5h1m13 0h1m12.5 .5h1m-13 .5h1m-15.5 .5h1m5 .5h1m6 3h1m-5.5 2h1m18 2h1m-4.5 .5h1m-19 8h1m10 11h1m21.5 1.5h1" stroke="#000" stroke-opacity="0.3" fill="none"/>
<path d="M651 269h1m-28.5 1h1m-9 1h1m-3 2.5h1m-1.5 2h1m-10 .5h1m3.5 .5h1m3 0h1m31 0h1m6 0h1m-39.5 .5h1m9.5 0h1m30 0h1m-44.5 .5h1m12 0h1m4.5 0h1m10.5 0h1m5.5 0h1m7 0h1m1.5 0h1m-17.5 .5h1m8.5 0h1m-42.5 .5h1m3.5 0h1m-.5 0h1m0 0h1m26.5 .5h1m-46 .5h1m16 0h1m4.5 0h1m28 .5h1m8 0h1m-46.5 .5h1m0 0h1m15.5 0h1m20.5 0h1m1.5 0h1m-50.5 .5h1m10.5 0h1m1.5 0h1m21.5 0h1m.5 0h1m5 0h1m0 0h1m-.5 0h1m6.5 0h1m1.5 0h1m-64.5 .5h1m1 0h1m.5 0h1m10 0h1m8.5 0h1m9 0h1m3.5 0h1m11 0h1m7.5 0h1m0 0h1m0 0h1m-57 .5h1m0 0h1m28 0h1m-.5 0h1m10.5 0h1m6.5 0h1m5 0h1m-.5 0h1m-57.5 .5h1m18.5 0h1m.5 0h1m1.5 0h1m0 0h1m5 0h1m9.5 0h1m3.5 0h1m0 0h1m12 0h1m-56 .5h1m6 0h1m13 0h1m20 0h1m0 0h1m.5 0h1m.5 0h1m1 0h1m2 0h1m-45.5 .5h1m0 0h1m9 0h1m6.5 0h1m5 0h1m2 0h1m3 0h1m1.5 0h1m1 0h1m1 0h1m1 0h1m2.5 0h1m-.5 0h1m9 0h1m-64.5 .5h1m6 0h1m1.5 0h1m0 0h1m2.5 0h1m0 0h1m13 0h1m6.5 0h1m7 0h1m.5 0h1m2 0h1m3 0h1m-62 .5h1m5.5 0h1m6 0h1m-.5 0h1m2 0h1m-.5 0h1m-.5 0h1m3.5 0h1m-.5 0h1m9.5 0h1m1.5 0h1m10.5 0h1m1 0h1m5.5 0h1m1 0h1m-.5 0h1m4 0h1m-63.5 .5h1m7.5 0h1m4 0h1m3 0h1m7 0h1m.5 0h1m.5 0h1m20.5 0h1m2 0h1m2.5 0h1m-.5 0h1m0 0h1m.5 0h1m1.5 0h1m2.5 0h1m-56.5 .5h1m1 0h1m1.5 0h1m-.5 0h1m8.5 0h1m16.5 0h1m6.5 0h1m4.5 0h1m3 0h1m.5 0h1m-38 .5h1m19.5 0h1m10 0h1m1 0h1m0 0h1m8 0h1m-63.5 .5h1m4 0h1m14 0h1m4.5 0h1m13 0h1m3 0h1m4 0h1m0 0h1m1.5 0h1m-36.5 .5h1m1 0h1m0 0h1m2.5 0h1m4.5 0h1m1.5 0h1m8 0h1m3.5 0h1m5 0h1m-.5 0h1m-39 .5h1m1.5 0h1m3 0h1m14.5 0h1m2 0h1m.5 0h1m3 0h1m.5 0h1m.5 0h1m4.5 0h1m-54 .5h1m2 0h1m5 0h1m-.5 0h1m0 0h1m1.5 0h1m7 0h1m16.5 0h1m-.5 0h1m.5 0h1m4 0h1m2.5 0h1m-53 .5h1m5.5 0h1m0 0h1m2 0h1m.5 0h1m0 0h1m7.5 0h1m1.5 0h1m.5 0h1m3.5 0h1m1 0h1m7 0h1m3.5 0h1m5 0h1m3 0h1m3.5 0h1m-57.5 .5h1m6 0h1m5.5 0h1m5 0h1m1 0h1m1.5 0h1m24.5 0h1m.5 0h1m0 0h1m-47.5 .5h1m3.5 0h1m1 0h1m-.5 0h1m7 0h1m7 0h1m11.5 0h1m2.5 0h1m0 0h1m5 0h1m1 0h1m1.5 0h1m-53 .5h1m0 0h1m0 0h1m1 0h1m1 0h1m5 0h1m1 0h1m6 0h1m3.5 0h1m0 0h1m1.5 0h1m7 0h1m4 0h1m.5 0h1m2.5 0h1m-.5 0h1m.5 0h1m1 0h1m6 0h1m-66 .5h1m4 0h1m4 0h1m-.5 0h1m8.5 0h1m6.5 0h1m-.5 0h1m2 0h1m13.5 0h1m1.5 0h1m10 0h1m1 0h1m-56.5 .5h1m1 0h1m-.5 0h1m5.5 0h1m5.5 0h1m0 0h1m2 0h1m3 0h1m0 0h1m0 0h1m1.5 0h1m17 0h1m1 0h1m5 0h1m6 0h1m0 0h1m-66 .5h1m2.5 0h1m3 0h1m2 0h1m21 0h1m4 0h1m2.5 0h1m.5 0h1m4 0h1m3 0h1m2 0h1m-56.5 .5h1m3 0h1m2.5 0h1m1 0h1m1 0h1m.5 0h1m1 0h1m-.5 0h1m2 0h1m3 0h1m23.5 0h1m12 0h1m4.5 0h1m-63 .5h1m9 0h1m-.5 0h1m-.5 0h1m0 0h1m2 0h1m4.5 0h1m9.5 0h1m0 0h1m13.5 0h1m-.5 0h1m-.5 0h1m-.5 0h1m0 0h1m1 0h1m-51.5 .5h1m2 0h1m-.5 0h1m8.5 0h1m11 0h1m4 0h1m1 0h1m8 0h1m2 0h1m4 0h1m2.5 0h1m-53.5 .5h1m-.5 0h1m3 0h1m1.5 0h1m-.5 0h1m-.5 0h1m0 0h1m14 0h1m20.5 0h1m13.5 0h1m-64.5 .5h1m7 0h1m0 0h1m2.5 0h1m3.5 0h1m0 0h1m4 0h1m14 0h1m5 0h1m-.5 0h1m8 0h1m2.5 0h1m-46 .5h1m.5 0h1m0 0h1m9 0h1m.5 0h1m10.5 0h1m-36.5 .5h1m1.5 0h1m1.5 0h1m0 0h1m1 0h1m0 0h1m5.5 0h1m13.5 0h1m-24.5 .5h1m-.5 0h1m.5 0h1m3 0h1m3.5 0h1m9.5 0h1m8 0h1m11 0h1m2.5 0h1m-50.5 .5h1m3.5 0h1m8 0h1m4 0h1m5.5 0h1m7 0h1m1 0h1m12 0h1m-.5 0h1m11 0h1m-67 .5h1m.5 0h1m2.5 0h1m.5 0h1m4.5 0h1m0 0h1m.5 0h1m0 0h1m3.5 0h1m2 0h1m12 0h1m26.5 0h1m-65.5 .5h1m14 0h1m6 0h1m1.5 0h1m2 0h1m5 0h1m-29 .5h1m8.5 0h1m24 0h1m1.5 0h1m11.5 0h1m-51.5 .5h1m3 0h1m2 0h1m0 0h1m3 0h1m7 0h1m8 0h1m34.5 0h1m-64 .5h1m7 0h1m7.5 0h1m-19.5 .5h1m8.5 0h1m1.5 0h1m.5 0h1m1 0h1m-9.5 .5h1m0 0h1m1 0h1m8 0h1m1.5 .5h1m3.5 0h1m-26.5 .5h1m0 0h1m6 0h1m10.5 0h1m-13 .5h1m0 0h1m.5 0h1m4 0h1m-15.5 .5h1m5 0h1m10.5 0h1m3 0h1m-12.5 .5h1m5.5 0h1m.5 0h1m-16.5 .5h1m9.5 0h1m5.5 0h1m2 0h1m-.5 0h1m-27 .5h1m12.5 0h1m5.5 0h1m.5 0h1m-14 .5h1m9.5 0h1m-18.5 .5h1m.5 0h1m6 0h1m-2 1.5h1m.5 .5h1m-9.5 .5h1m13.5 2h1m-5 .5h1m10.5 0h1m-20.5 .5h1m-3.5 1h1m29 .5h1m-31 .5h1m19.5 0h1m7 1h1m-22 2h1m21.5 .5h1m2.5 2h1m-12 7h1m0 3.5h1m2.5 10.5h1m13 1h1" stroke="#000" stroke-opacity="0.3" fill="none"/>
<path d="M615 265.5h1m-17 1.5h1m10.5 4.5h1m3.5 .5h1m14 1h1m24.5 .5h1m-54.5 .5h1m7 0h1m.5 0h1m36.5 0h1m4 0h1m-51.5 .5h1m-4.5 .5h1m16 0h1m17 0h1m-3 1h1m-39 .5h1m8 1h1m6 0h1m-8.5 .5h1m15.5 0h1m14.5 0h1m13 0h1m0 0h1m-49.5 .5h1m7 0h1m49 0h1m-48 .5h1m-9.5 .5h1m6.5 0h1m.5 0h1m.5 0h1m2 0h1m9 0h1m-11 .5h1m7.5 0h1m1 0h1m14 0h1m1 0h1m.5 0h1m13.5 0h1m-55.5 .5h1m3.5 0h1m26.5 0h1m.5 0h1m7.5 0h1m2 0h1m3 0h1m0 0h1m.5 0h1m-45.5 .5h1m39 0h1m-55.5 .5h1m3.5 0h1m21.5 0h1m18 0h1m1 0h1m6 0h1m-58.5 .5h1m17 0h1m2.5 0h1m7 0h1m6.5 0h1m2.5 0h1m7 0h1m5.5 0h1m2.5 0h1m-58 .5h1m3.5 0h1m11.5 0h1m.5 0h1m3 0h1m0 0h1m2.5 0h1m7 0h1m18 0h1m-53 .5h1m24 0h1m.5 0h1m4.5 0h1m0 0h1m0 0h1m-.5 0h1m12 0h1m1 0h1m.5 0h1m1 0h1m.5 0h1m-46.5 .5h1m1 0h1m2 0h1m4 0h1m6.5 0h1m5.5 0h1m2.5 0h1m13 0h1m0 0h1m0 0h1m8 0h1m-67.5 .5h1m5.5 0h1m5.5 0h1m.5 0h1m3.5 0h1m4.5 0h1m.5 0h1m-.5 0h1m3 0h1m11.5 0h1m1 0h1m4 0h1m6.5 0h1m3 0h1m-.5 0h1m8 0h1m-66 .5h1m5 0h1m12 0h1m30 0h1m5.5 0h1m3 0h1m-.5 0h1m0 0h1m-61 .5h1m2.5 0h1m2 0h1m5.5 0h1m4 0h1m.5 0h1m.5 0h1m5 0h1m3.5 0h1m9 0h1m3 0h1m.5 0h1m-.5 0h1m3 0h1m1.5 0h1m-63 .5h1m6.5 0h1m6 0h1m14.5 0h1m.5 0h1m6 0h1m13 0h1m-51.5 .5h1m6 0h1m2 0h1m1 0h1m1 0h1m2 0h1m-.5 0h1m6.5 0h1m10.5 0h1m8.5 0h1m5 0h1m-.5 0h1m0 0h1m.5 0h1m1 0h1m-35.5 .5h1m2.5 0h1m1.5 0h1m1 0h1m3.5 0h1m10 0h1m3 0h1m3 0h1m-.5 0h1m1.5 0h1m-.5 0h1m6.5 0h1m-62 .5h1m4.5 0h1m5 0h1m1.5 0h1m3 0h1m13.5 0h1m0 0h1m9.5 0h1m4 0h1m.5 0h1m1.5 0h1m-.5 0h1m-.5 0h1m-48.5 .5h1m0 0h1m4 0h1m.5 0h1m1.5 0h1m.5 0h1m5.5 0h1m4 0h1m5 0h1m3.5 0h1m8 0h1m-.5 0h1m0 0h1m1 0h1m10 0h1m-61 .5h1m3 0h1m1 0h1m0 0h1m-.5 0h1m7 0h1m5 0h1m.5 0h1m2.5 0h1m2 0h1m2.5 0h1m4.5 0h1m.5 0h1m5 0h1m4.5 0h1m-62 .5h1m5.5 0h1m5.5 0h1m0 0h1m1 0h1m-.5 0h1m1 0h1m2.5 0h1m6 0h1m-.5 0h1m11 0h1m2 0h1m.5 0h1m2.5 0h1m-.5 0h1m10.5 0h1m-48.5 .5h1m11 0h1m4.5 0h1m6.5 0h1m8.5 0h1m1 0h1m0 0h1m1.5 0h1m-.5 0h1m-.5 0h1m2.5 0h1m-.5 0h1m2.5 0h1m-57.5 .5h1m5 0h1m1.5 0h1m4 0h1m11.5 0h1m1 0h1m12 0h1m7 0h1m1 0h1m1.5 0h1m2 0h1m-56 .5h1m11 0h1m0 0h1m-.5 0h1m2.5 0h1m.5 0h1m11 0h1m10.5 0h1m1 0h1m-.5 0h1m-51.5 .5h1m2.5 0h1m4.5 0h1m5 0h1m1.5 0h1m0 0h1m17 0h1m13.5 0h1m.5 0h1m2 0h1m.5 0h1m8 0h1m-63 .5h1m.5 0h1m1.5 0h1m4.5 0h1m1 0h1m1.5 0h1m-.5 0h1m2 0h1m1.5 0h1m-.5 0h1m-.5 0h1m0 0h1m-.5 0h1m15 0h1m4.5 0h1m1.5 0h1m0 0h1m0 0h1m-55 .5h1m14.5 0h1m4 0h1m0 0h1m13.5 0h1m6 0h1m8 0h1m1 0h1m10.5 0h1m0 0h1m-61.5 .5h1m0 0h1m5.5 0h1m.5 0h1m7 0h1m8 0h1m1 0h1m-.5 0h1m9.5 0h1m6.5 0h1m3.5 0h1m-55.5 .5h1m2.5 0h1m-.5 0h1m14 0h1m1 0h1m1.5 0h1m10 0h1m1.5 0h1m8 0h1m-.5 0h1m7 0h1m-.5 0h1m.5 0h1m-.5 0h1m-50.5 .5h1m1.5 0h1m-.5 0h1m5.5 0h1m.5 0h1m9.5 0h1m.5 0h1m18.5 0h1m1.5 0h1m6.5 0h1m-60.5 .5h1m2 0h1m4 0h1m2.5 0h1m1.5 0h1m16.5 0h1m10 0h1m-46.5 .5h1m4 0h1m0 0h1m2.5 0h1m0 0h1m1.5 0h1m5 0h1m.5 0h1m32.5 0h1m28 0h1m-79 .5h1m.5 0h1m.5 0h1m5 0h1m-.5 0h1m-.5 0h1m-.5 0h1m3.5 0h1m9 0h1m1 0h1m.5 0h1m17 0h1m-43.5 .5h1m-.5 0h1m0 0h1m0 0h1m-.5 0h1m5 0h1m6.5 0h1m1 0h1m.5 0h1m1 0h1m28.5 0h1m-59 .5h1m5.5 0h1m.5 0h1m-.5 0h1m3.5 0h1m4 0h1m1.5 0h1m3.5 0h1m11 0h1m11 0h1m-40.5 .5h1m0 0h1m-.5 0h1m4 0h1m3.5 0h1m2.5 0h1m3 0h1m15 0h1m7.5 0h1m-56 .5h1m19.5 0h1m40.5 0h1m-61 .5h1m2.5 0h1m5 0h1m8 0h1m-.5 0h1m-19.5 .5h1m0 0h1m6.5 0h1m8 0h1m1.5 0h1m1.5 0h1m4 0h1m-.5 0h1m2 0h1m-19.5 .5h1m.5 0h1m6 0h1m10 0h1m-33.5 .5h1m2.5 0h1m-.5 0h1m-.5 0h1m10 0h1m3.5 0h1m2 0h1m0 0h1m27.5 0h1m-46 .5h1m15.5 0h1m-22 .5h1m6 0h1m2 0h1m2.5 0h1m-12 .5h1m7 0h1m6 0h1m-12 .5h1m.5 0h1m11 0h1m0 0h1m0 0h1m-25 .5h1m3.5 0h1m1 0h1m2.5 0h1m8.5 0h1m-20 .5h1m6.5 0h1m5.5 0h1m-17 .5h1m7.5 0h1m.5 0h1m11 0h1m-15.5 .5h1m1 0h1m11 0h1m28 0h1m-31 .5h1m0 0h1m9.5 0h1m-25 .5h1m-.5 0h1m3 0h1m1.5 .5h1m3 0h1m5.5 0h1m1 0h1m-20 .5h1m12 .5h1m2.5 1h1m-12.5 .5h1m3.5 0h1m15.5 .5h1m-23.5 2.5h1m-3 .5h1m1 0h1m17 .5h1m-18.5 .5h1m-14.5 .5h1m46 2h1m-12.5 11.5h1m1.5 12h1m-8 6h1m11 1.5h1m-10 6h1" stroke="#000" stroke-opacity="0.3" fill="none"/>
<rect x="594.60" y="264.80" width="88.60" height="87.20" fill="none" stroke="#1a1a1a" stroke-width="1.2"/>
<line x1="627.30" y1="264.20" x2="627.30" y2="352.60" stroke="#1a1a1a" stroke-width="1.1"/>
<line x1="594.00" y1="290.70" x2="683.80" y2="290.70" stroke="#1a1a1a" stroke-width="1.1"/>
<text x="595.80" y="272.80" font-size="8.4" text-anchor="start" font-weight="normal" font-style="normal" fill="#1a1a1a" >19.2</text>
<text x="680.40" y="272.80" font-size="8.4" text-anchor="end" font-weight="normal" font-style="normal" fill="#1a1a1a" >38.1</text>
<text x="595.80" y="349.00" font-size="8.4" text-anchor="start" font-weight="normal" font-style="normal" fill="#1a1a1a" >33.2</text>
<text x="680.40" y="349.00" font-size="8.4" text-anchor="end" font-weight="normal" font-style="normal" fill="#1a1a1a" >9.56</text>
<line x1="592.00" y1="271.50" x2="594.50" y2="271.50" stroke="#222" stroke-width="1.1"/>
<text x="587.80" y="274.10" font-size="7.0" text-anchor="end" fill="#222">10<tspan dy="-2.8" font-size="5.04">5</tspan></text>
<line x1="592.00" y1="291.90" x2="594.50" y2="291.90" stroke="#222" stroke-width="1.1"/>
<text x="587.80" y="294.50" font-size="7.0" text-anchor="end" fill="#222">10<tspan dy="-2.8" font-size="5.04">4</tspan></text>
<line x1="592.00" y1="312.40" x2="594.50" y2="312.40" stroke="#222" stroke-width="1.1"/>
<text x="587.80" y="315.00" font-size="7.0" text-anchor="end" fill="#222">10<tspan dy="-2.8" font-size="5.04">3</tspan></text>
<line x1="592.00" y1="333.20" x2="594.50" y2="333.20" stroke="#222" stroke-width="1.1"/>
<text x="587.80" y="335.80" font-size="7.0" text-anchor="end" fill="#222">10<tspan dy="-2.8" font-size="5.04">2</tspan></text>
<line x1="592.00" y1="348.20" x2="594.50" y2="348.20" stroke="#222" stroke-width="1.1"/>
<text x="588.50" y="350.80" font-size="7.0" text-anchor="end" fill="#222">0</text>
<line x1="592.70" y1="277.62" x2="594.50" y2="277.62" stroke="#333" stroke-width="0.8"/>
<line x1="592.70" y1="282.11" x2="594.50" y2="282.11" stroke="#333" stroke-width="0.8"/>
<line x1="592.70" y1="285.78" x2="594.50" y2="285.78" stroke="#333" stroke-width="0.8"/>
<line x1="592.70" y1="298.05" x2="594.50" y2="298.05" stroke="#333" stroke-width="0.8"/>
<line x1="592.70" y1="302.56" x2="594.50" y2="302.56" stroke="#333" stroke-width="0.8"/>
<line x1="592.70" y1="306.25" x2="594.50" y2="306.25" stroke="#333" stroke-width="0.8"/>
<line x1="592.70" y1="318.64" x2="594.50" y2="318.64" stroke="#333" stroke-width="0.8"/>
<line x1="592.70" y1="323.22" x2="594.50" y2="323.22" stroke="#333" stroke-width="0.8"/>
<line x1="592.70" y1="326.96" x2="594.50" y2="326.96" stroke="#333" stroke-width="0.8"/>
<line x1="592.70" y1="337.70" x2="594.50" y2="337.70" stroke="#333" stroke-width="0.8"/>
<line x1="592.70" y1="341.00" x2="594.50" y2="341.00" stroke="#333" stroke-width="0.8"/>
<line x1="592.70" y1="343.70" x2="594.50" y2="343.70" stroke="#333" stroke-width="0.8"/>
<line x1="613.80" y1="352.10" x2="613.80" y2="354.60" stroke="#222" stroke-width="1.1"/>
<text x="613.80" y="368.40" font-size="7.0" text-anchor="middle" fill="#222">0</text>
<line x1="628.50" y1="352.10" x2="628.50" y2="354.60" stroke="#222" stroke-width="1.1"/>
<text x="629.70" y="368.40" font-size="7.0" text-anchor="middle" fill="#222">10<tspan dy="-2.8" font-size="5.04">3</tspan></text>
<line x1="653.60" y1="352.10" x2="653.60" y2="354.60" stroke="#222" stroke-width="1.1"/>
<text x="654.80" y="368.40" font-size="7.0" text-anchor="middle" fill="#222">10<tspan dy="-2.8" font-size="5.04">4</tspan></text>
<line x1="674.40" y1="352.10" x2="674.40" y2="354.60" stroke="#222" stroke-width="1.1"/>
<text x="675.60" y="368.40" font-size="7.0" text-anchor="middle" fill="#222">10<tspan dy="-2.8" font-size="5.04">5</tspan></text>
<line x1="618.21" y1="352.10" x2="618.21" y2="354.10" stroke="#333" stroke-width="0.8"/>
<line x1="621.44" y1="352.10" x2="621.44" y2="354.10" stroke="#333" stroke-width="0.8"/>
<line x1="624.09" y1="352.10" x2="624.09" y2="354.10" stroke="#333" stroke-width="0.8"/>
<line x1="626.29" y1="352.10" x2="626.29" y2="354.10" stroke="#333" stroke-width="0.8"/>
<line x1="636.03" y1="352.10" x2="636.03" y2="354.10" stroke="#333" stroke-width="0.8"/>
<line x1="641.55" y1="352.10" x2="641.55" y2="354.10" stroke="#333" stroke-width="0.8"/>
<line x1="646.07" y1="352.10" x2="646.07" y2="354.10" stroke="#333" stroke-width="0.8"/>
<line x1="649.84" y1="352.10" x2="649.84" y2="354.10" stroke="#333" stroke-width="0.8"/>
<line x1="659.84" y1="352.10" x2="659.84" y2="354.10" stroke="#333" stroke-width="0.8"/>
<line x1="664.42" y1="352.10" x2="664.42" y2="354.10" stroke="#333" stroke-width="0.8"/>
<line x1="668.16" y1="352.10" x2="668.16" y2="354.10" stroke="#333" stroke-width="0.8"/>
<line x1="671.28" y1="352.10" x2="671.28" y2="354.10" stroke="#333" stroke-width="0.8"/>
<line x1="570.60" y1="171.80" x2="570.60" y2="315.50" stroke="#000" stroke-width="1.6"/>
<path d="M570.60 166.80L574.20 175.40L570.60 173.40L567.00 175.40Z" fill="#000"/>
<text x="0" y="0" font-size="10.0" fill="#111" transform="translate(573.00,355.40) rotate(-90)">CD11a</text>
</svg></body></html>
